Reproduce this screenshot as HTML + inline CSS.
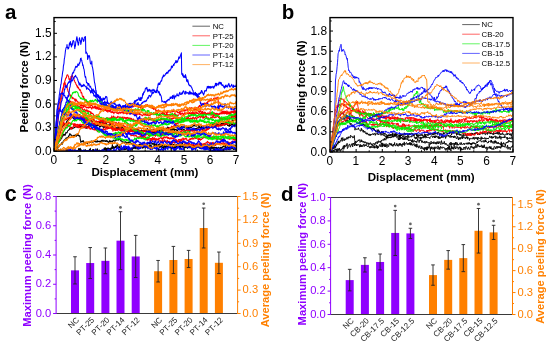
<!DOCTYPE html>
<html><head><meta charset="utf-8"><style>
html,body{margin:0;padding:0;background:#fff;}
svg{display:block;font-family:"Liberation Sans", sans-serif;will-change:transform;}
</style></head><body>
<svg width="550" height="345" viewBox="0 0 550 345" font-family='"Liberation Sans", sans-serif'>
<rect width="550" height="345" fill="#fff"/>
<clipPath id="clip54"><rect x="54" y="17.6" width="182.4" height="133.6"/></clipPath>
<g clip-path="url(#clip54)" fill="none" stroke-linejoin="round">
<path d="M54 151.2l.3-.3 .3-.2 .3-.1 .4 .1 .3 .1 .3-.7 .3-.7 .3 .9 .3-1.7 .3-1.5 .3 1.7 .4-1.3 .3-1 .3-.1 .3 .6 .3-.3 .3-1.2 .3-.2 .3-.7 .4 .4 .3 0 .3-.3 .3-.9 .3-1 .3 .6 .3 1 .3-.7 .4-1.1 .3-.9 .3-.6 .3 0 .3-.2 .3-1 .3 .5 .3-.6 .4-.7 .3 .1 .3-1.1 .3 .1 .3-.2 .3 0 .3-.2 .3-.1 .4-.3 .3 .1 .3-1.1 .3 .2 .3-1.3 .3 .2 .3-1.8 .3 .2 .3 0 .4 .5 .3 .8 .3-.2 .3 0 .3 .4 .3 .5 .3 .5 .3-.4 .3-.3 .3 .1 .3-.4 .3 .4 .3 .1 .3-.7 .4 .3 .3 .1 .3-.9 .3 1 .3 .8 .3-.5 .3-.3 .3-.8 .3 .4 .3-.3 .3-.9 .3 1.5 .3-.3 .3 0 .3 .8 .3 .1 .4-.3 .3 1.8 .2 2 .3 1.3 .2 1.4 .4-.5 .3-.5 .3-.2 .3-.1 .3 .7 .3-.2 .3-.9 .3-.1 .4 1.5 .3 .3 .3 .5 .3-.7 .3 .7 .3-.3 .3 0 .3 .1 .4 .7 .3-.9 .3 .6 .3-.3 .3 1.1 .3-1.1 .3-.3 .3 0 .3-.4 .4 .2 .3 .4 .3-.1 .3 0 .3-.3 .3-.4 .3-.7 .3 .7 .3-1 .4 1.6 .3-.3 .3 .1 .3-.8 .3-.3 .3-.1 .3 .9 .3-.4 .4 0 .3-.7 .3 0 .3 .6 .3-.5 .3 1.1 .3-.4 .3 .3 .3 0 .4-1.4 .3 1.4 .3-.3 .3-.7 .3 .4 .3 0 .3 .4 .3-.5 .3 .2 .4 .5 .3-1 .3 .6 .3 .7 .3-1.4 .3-.1 .3-.4 .3 1.1 .3-.6 .3-.3 .4-.5 .3 1 .3 .2 .3-.5 .3-.1 .3 .2 .3 .3 .3-.6 .3 .9 .3-.6 .4 .2 .3-.4 .3-.1 .3 1 .3-.6 .3 .7 .3-.5 .3 .9 .3 .5 .3-.7 .4 .1 .3-.4 .3-1.4 .3 1.9 .3-.2 .3-.5 .3-.4 .3 .2 .3 .1 .4 .6 .3-.5 .3 .3 .3-.9 .3-.7 .3 .6 .4-.1 .3 .4 .3-.3 .3 .6 .3 0 .3-.7 .3-.5 .4-.3 .3 .4 .3-.2 .3-.7 .3 .6 .3-.6 .4 .7 .3-.9 .3 1 .3-1 .3 .1 .3-.5 .4 .6 .3 .7 .3 .1 .3 .8 .3-.6 .3 .9 .3-.2 .4 .3 .3 .6 .3 .1 .3 .2 .3-.1 .3 .2 .4-.3 .3 .2 .3 .1 .3-.2 .3-.4 .3 0 .4 .3 .3 1 .3-.2 .3 .4 .3-.8 .3 0 .3-.1 .4 1 .3-1 .3-.1 .3 .1 .3 .5 .3-.4 .4 .3 .3-.7 .3 1.2 .3-.3 .3 .4 .3 .3 .4 .7 .3 0 .3 .7 .3 .3 .3 0 .3-.6 .3 1.1 .3-.3 .3 1.3 .4-1.2 .3 1.2 .3-.7 .3 .1 .3-.7 .3-.8 .3 .8 .3 .3 .3 .2 .3-.1 .4-.7 .3 .2 .3-.1 .3-.3 .3-.5 .3 .1 .3 .3 .3 .4 .3-1 .3-.1 .4 .4 .3-.6 .3 0 .3 .5 .3 .9 .3-1.2 .3-.2 .3 .8 .3 .6 .3-.4 .4-1 .3 0 .3-.1 .3 .5 .3-.3 .3 .5 .3 .2 .3-.4 .3-.5 .4-.2 .3 .3 .3 .3 .3 0 .3-.9 .3-.7 .3 .5 .3-.6 .3 .5 .3 .6 .4-.3 .3-.8 .3 .6 .3-.1 .3-.4 .3-.2 .3 .8 .3 .4 .3-.6 .3 1.2 .4-.8 .3 .6 .3 .2 .3-.4 .3-.8 .3 1.6 .3-.5 .3-.4 .3 1 .3 .1 .4 .9 .3 0 .3 .3 .3 1.1 .3-1.5 .3-.7 .3-.1 .3-.3 .3 .6 .3-.4 .4 .4 .3 .4 .3 .5 .3 .1 .3-1.6 .3 1.3 .3-.3 .3-.3 .3 .4 .4-.7 .3 .1 .3-.1 .3 .9 .3-.2 .3-.2 .3 1.1 .3-.3 .3 .5 .3 .4 .4-.9 .3 1.1 .3 .2 .3-.4 .3-.6 .3-.8 .3-.2 .3 .7 .3-1.4 .3 .4 .4-.3 .3 .9 .3-.6 .3-.2 .3 .5 .3-1.1 .3 .8 .3 .1 .3-.9 .3 0 .4-.1 .3 .4 .3-.4 .3 .6 .3-.3 .3-.3 .3 0 .3 .2 .3-.2 .3 .8 .4-1.1 .3 .2 .3-.1 .3 .1 .3 .2 .3 .9 .3-.3 .3-.4 .3 .5 .4-.9 .3 .2 .3 1 .3-.5 .3-.9 .3-.1 .3 .2 .3 .3 .3 .5 .3-.2 .4 .6 .3-1 .3 .7 .3-1 .3 .2 .3-.6 .3 .2 .3-.9 .3 1.4 .3-.3 .4 .4 .3 .6 .3 .2 .3-.4 .3-.4 .3-.5 .3-.6 .3 .4 .4-.4 .3 .6 .3 .9 .3-.3 .3 .6 .3-1.4 .3 1.2 .4-.6 .3-.3 .3 1 .3-.9 .3 .2 .3-.8 .3 1.4 .4 0 .3-.4 .3-.2 .3 1.1 .3-.3 .3 .6 .3 .1 .3 0 .4 .4 .3-.1 .3 .6 .3 .4 .3 0 .3-1.1 .3 .8 .4 .7 .3-.1 .3 .1 .3-.8 .3 .2 .3-.7 .3 .2 .4 0 .3 .5 .3-.3 .3 .3 .3-.5 .3 .6 .3 .6 .4-.6 .3 .9 .3 0 .3 .6 .3-.2 .3 .2 .3 .2 .4-1.1 .3 .8 .3-.2 .3 .1 .3-.5 .3-.1 .3-.4 .4 0 .3 .4 .3 .6 .3-.4 .3-.7 .3 .3 .3 1.2 .3-1 .4 .9 .3 .6 .3-.2 .3-1.1 .3 .1 .3 .3 .3-.2 .4-.5 .3-1 .3 .5 .3 .9 .3-.8 .3 1 .3-.9 .4 .4 .3-.9 .3-.1 .3 .4 .3-.6 .3 1.1 .3 .5 .4 0 .3-.5 .3-.2 .3 .3 .3-.4 .3 .5 .3-.8 .4 .6 .3 0 .3 .7 .3-.8 .3-.4 .3 .6 .3 .3 .3 .2 .4 1.3 .3-1.3 .3-1.1 .3 .2 .3 .3 .3 .3 .3 .1 .4 .3 .3 .3 .3-1.5 .3 .9 .3-.4 .3-.1 .3-.3 .4-.1 .3 .5 .3-1 .3 .2 .3-1.1 .3 1 .3-.3 .4 0 .3-1 .3 .1 .3 .4 .3-.2 .3-.3 .3-.3 .4 .5 .3-.2 .3-.2 .3 .6 .3 .1 .3-.5 .3-.7 .4-1.1 .3 .5 .3-.3 .3 .5 .3 .3 .3-.5 .3 .8 .3-.4 .4 .1 .3 .7 .3 .3 .3-.2 .3 .6 .3-.5 .3 0 .4-.1 .3-.5 .3 .4 .3 .6 .3-.7 .3-.1 .3-.2 .4 .2 .3 .4 .3 0 .3 .3" stroke="#000000" stroke-width="1.04"/>
<path d="M54 151.2l.3-.6 .3-.7 .3-.1 .4-1.2 .3-.3 .3-1.6 .3-.7 .3 .3 .3-.6 .3-2.6 .3 1.6 .4-.5 .3-.8 .3-.9 .3-1.2 .3 .4 .3-.5 .3-.3 .3-.3 .4-.5 .3-.4 .3-1.1 .3-1 .3 1.1 .3-.7 .3-.8 .3-1.3 .4-1 .3 1 .3-1 .3-.8 .3 .9 .3-.1 .3-.7 .3 1.3 .4-.6 .3-1.3 .3-1.2 .3 .4 .3 .1 .3-.1 .3 0 .3-1.2 .4-1 .3 0 .3-.3 .3-.4 .3 .1 .3-.3 .3-1.2 .3 .5 .4-1.3 .3 1.2 .3-1.4 .3-.3 .3 1.1 .3 .2 .3-.7 .3 1 .4-.6 .3 0 .3 0 .3-.3 .3-.3 .3 .1 .3-.1 .3 0 .4-1.5 .3 0 .3 .5 .3-.2 .3 .6 .3-.2 .3-.1 .4-.2 .3 1.1 .3-1.3 .3 1.1 .3-.8 .3-.1 .3-.2 .3-1 .4 .9 .3 .9 .3-.2 .3-.8 .3 .1 .3-1 .3 1 .3 .5 .4 0 .3 .1 .3 .4 .3 .5 .3-.9 .3-.3 .3 .8 .3 0 .4-.1 .3 .7 .3-1.2 .3 0 .3 1.8 .3-.9 .3-.8 .3 .5 .4-.1 .3-.9 .3 0 .3-.6 .3 1.6 .3-2.5 .3 1.2 .3-.8 .4-.2 .3 .1 .3 .4 .3 .1 .3 .4 .3-.1 .3-.1 .3-1.2 .4 .4 .3 .1 .3 .3 .3 .4 .3 .4 .3-1.3 .3 1.2 .3 .8 .3 .6 .3-1.4 .3-.5 .4-1.5 .3 .5 .3 .7 .3 .3 .3-.3 .3 .5 .3-.8 .3 .2 .3 0 .3-.6 .3 1.1 .3 .3 .4 .8 .3 .6 .3-.8 .3-.4 .3 .3 .3-.3 .3-.1 .3-.7 .3 .6 .3-.3 .3 .3 .4 1.2 .3-.1 .3 0 .3 .7 .3-1.4 .3 .3 .3 0 .3 .5 .3-.4 .3-.2 .4 .2 .3 .2 .3-.2 .3 1.1 .3-.1 .3 .3 .3-.2 .3 .2 .3-.4 .3 .4 .4-1 .3-.8 .3 .7 .3 .4 .3 0 .3-.7 .3 1.4 .3-.1 .3-1.1 .4-.4 .3 .2 .3-.1 .3 .6 .3-.3 .3 1.8 .4-.2 .3 .4 .3-1.1 .3 0 .3-.2 .3-.4 .3 1.7 .4 .1 .3 .2 .3-.4 .3-.4 .3-.5 .3 0 .4 .5 .3-.9 .3 .7 .3-.8 .3-.4 .3 .5 .4-.4 .3-.5 .3 .7 .3-1.2 .3 .2 .3-.2 .3 1.2 .4-.8 .3 .8 .3 .2 .3-.1 .3 .1 .3 .1 .4 .5 .3-.6 .3 .6 .3-.6 .3 .7 .3-.4 .4 .4 .3 .8 .3-1 .3 1.5 .3 .8 .3-1.2 .3 .3 .4-.2 .3 .3 .3 .2 .3-1.1 .3 1.4 .3-.9 .4 1 .3-.6 .3-.4 .3-.2 .3 1 .3-.8 .4-1.4 .3 .6 .3-1.2 .3 1.7 .3-.6 .3 .7 .3-.6 .3 1.4 .3 .1 .4-.1 .3 .3 .3-1.1 .3 .1 .3 1.3 .3-.7 .3-.3 .3 .3 .3-1.6 .3 3.2 .4-2.1 .3 .7 .3 1.2 .3-.6 .3 .5 .3 .4 .3 .1 .3-.2 .3-.2 .3 0 .4 .4 .3-1 .3-.5 .3 .6 .3 1.1 .3-.6 .3 .1 .3-.4 .3 .1 .3 1.4 .4-.9 .3-.4 .3 .6 .3-.9 .3-.3 .3 .3 .3-.3 .3 1 .3 .2 .4-.4 .3 1.1 .3-.8 .3 .1 .3-.1 .3 .3 .3 .3 .3-.2 .3 .5 .3 .2 .4-.7 .3 1.5 .3-.5 .3-1 .3 1.4 .3-1 .3 1.2 .3-.3 .3-.1 .3-.4 .4-1.2 .3 .4 .3 .7 .3 .5 .3-.7 .3 .1 .3 .7 .3-.8 .3-1 .3 .8 .4 .1 .3-.5 .3 .5 .3-1 .3 0 .3 .1 .3 .5 .3 .2 .3-.5 .3-.4 .4-.7 .3 1.1 .3 .4 .3-.3 .3-.7 .3-.2 .3-1.2 .3 1.2 .3-1 .4 .6 .3 .1 .3-.4 .3 .9 .3-.9 .3-1.1 .3 .7 .3-.3 .3 .2 .3-.1 .4-.1 .3-.5 .3 .6 .3 0 .3 1 .3-.6 .3-.1 .3 .1 .3 .2 .3 0 .4-.5 .3-.3 .3 1.1 .3-.7 .3-.7 .3 .5 .3-.1 .3 1 .3 0 .3-1.3 .4-.6 .3 .8 .3 1.8 .3-.9 .3 .8 .3-2.3 .3 1.3 .3-.5 .3-.8 .3 1 .4 1.4 .3-1 .3-.7 .3 .6 .3-.4 .3 .3 .3-.7 .3 1.1 .3 .7 .4 0 .3 0 .3-.6 .3-1.3 .3 .3 .3 .2 .3 .1 .3-1.1 .3 1.1 .3-.5 .4-.5 .3 .8 .3-.1 .3-.3 .3 .5 .3-.2 .3 1.2 .3 .1 .3-.4 .3 .2 .4-1.1 .3 .2 .3-.3 .3 .5 .3 .6 .3-.2 .3 .4 .4 .1 .3-.2 .3-.2 .3-.2 .3-.4 .3 0 .4-.1 .3 .5 .3 .2 .3-.4 .3 1.1 .3-.3 .4 1 .3-1.6 .3-.1 .3 .9 .3 .2 .3-1.3 .4 .4 .3-.1 .3-.3 .3 .2 .3 .1 .3-.4 .3 .1 .3-.5 .3 1 .4-.6 .3-.5 .3-.4 .3-.1 .3 .7 .3-.8 .3 .4 .3 .7 .3-1.3 .3 .6 .3-.6 .3-.5 .4 .2 .3 .1 .3-.3 .3-.1 .3-1 .3 0 .3 .8 .3-.2 .3 .5 .4-.6 .3 .1 .3-1.3 .3 .6 .3-.1 .3 .2 .3 .8 .4 1.7 .3-.1 .3-.7 .3-.1 .3-2.2 .3 .8 .4 .3 .3 .5 .3-.6 .3 .2 .3 0 .3 .2 .4-.4 .3 .2 .3 .4 .3 1.2 .3-2.1 .3-.3 .3 .5 .4-.7 .3 .2 .3-.2 .3-2 .3 .7 .3-.1 .4-.4 .3 .7 .3-1 .3 .7 .3-.8 .3-.4 .3 1.5 .3-.1 .3-.7 .3 .6 .4-1.1 .3-.6 .3 .8 .3 1 .3-.5 .3-.5 .3-.3 .3 .1 .3-1.1 .3 .5 .4 .9 .3 .2 .3-.5 .3-.6 .3 .2 .3 .8 .3 1 .3-.1 .3 .6 .3-.7 .4-.2 .3 .8 .3 .3 .3-.5 .3 .4 .3-1 .3-.3 .3 .2 .3-.4 .4-.3 .3 .2 .3-.7 .3-.1 .3-.2 .3 1.5 .3-.1 .3-1.1 .3-1.4 .3 .4 .4-1 .3 1.5 .3 .2 .3-1.2 .3 0 .3 1 .3-.8 .3-.3 .3-.6 .3 0 .4 .3 .3 1 .3-.3 .3 .3 .3-1.2 .3 0 .3 1.1 .3-1 .3-.6 .3 .4 .4-.1 .3 .1 .3-1.6 .3 .8 .3 .4 .3-.3 .3-.2 .3 .1 .3-.2 .3 .2 .4-.1 .3-.4 .3-.5 .3-.2 .3 .3" stroke="#000000" stroke-width="1.04"/>
<path d="M54 151.2l.3-.9 .3-1 .3-.8 .4-.2 .3-1.7 .3-.9 .3-.5 .3-1.3 .3-.8 .3-1.3 .3-.1 .4-1 .3-.5 .3-1.3 .3-1.8 .3-.1 .3-1.6 .3-.7 .3-2.2 .4-.2 .3-1.4 .3-.3 .3-.9 .3-.8 .3-.7 .3-1.4 .3 0 .4-.9 .3-.3 .3 .1 .3 .3 .3-.2 .3-.8 .3-.9 .3 0 .4-.6 .3 .8 .3-.3 .3-1 .3-.8 .3-1.1 .3-.2 .3-.1 .4 .4 .3-1.8 .3-.3 .3 .3 .3-1.7 .3 .8 .3-.8 .3-.4 .4 .7 .3 1.2 .3-.6 .3-1.4 .3 .1 .3 .2 .3-.4 .3 .3 .4 .5 .3-.1 .3 .3 .3 .9 .3-.6 .3 .7 .3-.1 .3 .7 .4-.5 .3-1.5 .3-.2 .3 .8 .3 .1 .3-.1 .3-1 .4-.1 .3 .9 .3-.6 .3-.1 .3 1.9 .3-.2 .3-.7 .4 0 .3 2 .3-.7 .3-1.2 .3 1.2 .3-1.2 .4 .5 .3 .3 .3 .5 .3-1.3 .3 1.7 .3-1.2 .4 1.3 .3-1.2 .3-.2 .3-.2 .3 .1 .3-.6 .3-.5 .4-.3 .3 1 .3 .4 .3-.8 .3 .5 .3-1 .4 1.7 .3 .4 .3-.4 .3 .4 .3 .1 .3-.8 .3 .3 .3 .1 .3-.5 .4 .6 .3 .6 .3 .6 .3-.1 .3 0 .3 1.1 .3 0 .3 .4 .3-.3 .3-.6 .4-.7 .3 .8 .3 .1 .3-.1 .3-.2 .3 .8 .3 .7 .3-.2 .3-.4 .3-.7 .4 1.3 .3 .4 .3-.8 .3 .5 .3 .3 .3 .5 .3-1.3 .3-.4 .3-.2 .4 1 .3-.4 .3-.3 .3 .6 .3-.1 .3-.5 .3-.1 .3 0 .3 .1 .3 1.4 .4-1.4 .3 .1 .3 1.5 .3-.1 .3 .2 .3-.6 .3 .9 .3 0 .3-.1 .3 0 .4-.6 .3 .9 .3-.4 .3 .1 .3 1.1 .3 .4 .3-.4 .3 .8 .3-.8 .3 .5 .4-.5 .3 1.2 .3-.3 .3-.9 .3-.3 .3 .3 .3-.4 .3-.6 .3 1.8 .3-.5 .4 .7 .3-.2 .3 .5 .3-.2 .3 1 .3 0 .3 0 .3 .3 .3 .5 .4 .1 .3-.1 .3-1.1 .3 .6 .3-.2 .3 1 .3 .4 .3-.5 .3 1.5 .3-.8 .4-.8 .3 .2 .3-.4 .3 1.2 .3-.5 .3-.1 .3-.1 .3-.2 .3-.4 .3 .4 .4-.4 .3 0 .3 1.3 .3 0 .3 .7 .3-.2 .3-.1 .3 .3 .3-.8 .3 .4 .4-.5 .3 1.5 .3 .1 .3-.9 .3 .2 .3 1.4 .3-2.3 .3 .2 .3 .7 .3-1 .4 1.1 .3-.3 .3 .9 .3-1.1 .3 .9 .3-.5 .3 1.6 .3-1.3 .3-.2 .4 .1 .3-.1 .3 .7 .3-.5 .3-.2 .3 .8 .3 0 .3 .4 .3 .7 .3-.5 .4-.6 .3-.1 .3 1.1 .3-.4 .3 1.1 .3-.7 .3-1 .3 1.2 .3-.4 .3 .3 .4 1.3 .3-.3 .3-.9 .3 .4 .3 1.5 .3-1.3 .3 .5 .3-.8 .3 1.1 .3-.2 .4-.3 .3 1.8 .3 .2 .3-1.2 .3-.5 .3 .3 .3 .1 .3-.3 .4-.6 .3 1.5 .3-.4 .3-1.1 .3 0 .3-1.9 .3 .4 .4 .3 .3-.2 .3 0 .3 .1 .3-.1 .3 .4 .3-.3 .4-.7 .3-.8 .3 .5 .3-.2 .3-.1 .3-1.1 .4 1.2 .3 .8 .3-1.3 .3 1.4 .3-.3 .3 .1 .3-1.5 .4 .8 .3-.6 .3 .8 .3 .5 .3-.6 .3-.1 .3-.2 .4 .7 .3-.1 .3 0 .3 .2 .3-.3 .3-.2 .3-.7 .4 1.1 .3-.2 .3-.3 .3 .8 .3 .1 .3 .1 .3-.8 .4 .2 .3 .1 .3 .7 .3 .7 .3-.4 .3-1.2 .3 0 .3 .3 .4 .4 .3 0 .3-1.2 .3-.6 .3 .3 .3 .1 .3-.1 .3-.7 .3 .5 .4-.3 .3 1.1 .3-.9 .3 .4 .3 1 .3-1.7 .3 .3 .3-.1 .3-.3 .3 .3 .4 .6 .3-1.2 .3 .1 .3 0 .3-.3 .3 1.4 .3-1.2 .3 .3 .3-.5 .3-1.2 .4 .8 .3-.3 .3 .1 .3 .8 .3-.3 .3 .3 .3-.1 .3-.4 .3 .2 .3 .4 .4 1.1 .3-.2 .3 .3 .3 0 .3-1.6 .3-.1 .3 .6 .3 0 .3-.5 .3-.1 .4 .2 .3-.2 .3-.8 .3-.7 .3-.9 .3 2.1 .3-1.6 .3 .9 .3 0 .4-1 .3-.5 .3 1.2 .3-1.4 .3 .3 .3 .7 .3-.1 .3 .8 .3 .4 .3 .1 .4 0 .3-.3 .3 .4 .3 0 .3-1.1 .3 1.3 .3-.7 .3 .2 .3-.1 .3-.5 .4 1 .3-.2 .3-.2 .3 0 .3-1.5 .3 2.4 .3-1.2 .3 .2 .3-.4 .3 .2 .4 .8 .3-.8 .3 .8 .3-.3 .3-.3 .3 .8 .3 1 .3-1.1 .3-.6 .3 1.3 .4-.6 .3-1 .3-.1 .3 .7 .3 0 .3-.4 .3 .5 .3-.7 .3 0 .4-.8 .3 .1 .3-.6 .3 .4 .3-.7 .3 .7 .3 0 .3-.3 .3-1 .3 1.1 .4 .1 .3 0 .3 .4 .3-.5 .3-.9 .3 1 .3-.9 .3-.4 .3 .4 .3 .6 .4 .3 .3 .9 .3-1 .3 1.1 .3 .4 .3 .8 .3-.1 .3 .9 .3-.6 .3 .1 .4-1.1 .3 1.2 .3 .9 .3-1 .3 .5 .3-.5 .3 .2 .3-.1 .3 .8 .3-.5 .4-.9 .3 0 .3 0 .3-.6 .3 0 .3 .5 .3 .3 .3-.9 .3 .6 .4-.1 .3-.9 .3 1.4 .3-.8 .3 1.1 .3-1.7 .3 .2 .3 .1 .3-1 .3 .3 .4-.3 .3-.6 .3 .5 .3 1.1 .3-1.2 .3 .3 .3 .2 .4 .6 .3-.4 .3 .5 .3 .3 .3-.2 .3-1.2 .3 .6 .4 .2 .3 .2 .3-1.3 .3-.3 .3 .8 .3-1.2 .3 .3 .3 .3 .4-.4 .3-.7 .3-1 .3-.9 .3 1.7 .3-.5 .3 .2 .4-.3 .3 0 .3 .9 .3 .6 .3-.3 .3-1.4 .3 1.1 .4-1.6 .3 1.1 .3-.2 .3 .9 .3-.7 .3 .3 .3-1 .4 .6 .3 .2 .3 1.1 .3-1.6 .3 1 .3-1.2 .3-.2 .4 .9 .3-.7 .3 .9 .3 .1 .3 1 .3-.5 .3 .6 .4 .3 .3-.2 .3 .7 .3-2.1 .3 1.6 .3-.2 .3-.7 .3 .4 .4-.2 .3-.9 .3 .3 .3 .1 .3-.3 .3 .6 .3-.8 .4 1.6 .3 .1 .3-.3 .3-.5 .3-.8 .3 2.2 .3-.8 .4-.4 .3-.6 .3 .3 .3 .6" stroke="#000000" stroke-width="1.04"/>
<path d="M54 151.2l.3 0 .3 0 .3-.4 .4 0 .3 0 .3 0 .3-.1 .3-.9 .3 .7 .3-.4 .4 .6 .3 .1 .3 0 .3 0 .3-1.6 .3 1.1 .3 .1 .4 .4 .3-.1 .3 .1 .3-1.7 .3 1.4 .3 .1 .3-.4 .3 .6 .4 0 .3 0 .3 0 .3 0 .3 0 .3 0 .3 0 .4-.1 .3 .1 .3 0 .3 0 .3 0 .3-1.1 .3 .7 .4 .4 .3 0 .3 0 .3 0 .3 0 .3 0 .3 0 .4 0 .3 0 .3 0 .3 0 .3-1.6 .3 .6 .3 .5 .4 .5 .3 0 .3-.1 .3 .1 .3 0 .3 0 .3-.2 .4-.1 .3-.7 .3-.5 .3 1 .3 .3 .3-.3 .3 .1 .3 .4 .4 0 .3 0 .3 0 .3 0 .3 0 .3 0 .3-.2 .4 .2 .3 0 .3-1.9 .3-.5 .3 1.5 .3 0 .3-.1 .4-1.5 .3 1.9 .3-.9 .3 1.2 .3-.6 .3 .9 .3 0 .3 0 .3 0 .4 0 .3-.2 .3 .2 .3-.5 .3 .5 .3 0 .3 0 .3-1.1 .3-.1 .4 1.2 .3 0 .3 0 .3 0 .3 0 .3 0 .3 0 .3 0 .3 0 .4 0 .3-.1 .3 .1 .3-1.4 .3 1.4 .3-.5 .3-2 .3 2.5 .3 0 .4 0 .3 0 .3 0 .3 0 .3-.9 .3-.3 .3-.2 .3 .1 .3 1.1 .4 0 .3 .2 .3 0 .3 0 .3-.9 .3 .9 .3-2.1 .3 2.1 .3 0 .4-.1 .3-.5 .3-1.4 .3 1.6 .3 .4 .3 0 .3 0 .3 0 .3-.7 .4 .7 .3-.3 .3 .3 .3 0 .3 0 .3 0 .3 0 .3-.8 .3 .8 .4 0 .3 0 .3-.7 .3 .1 .3-.1 .3-1.7 .3-.3 .3 1.4 .3-.2 .3-1.7 .4 2 .3-1.3 .3 1.6 .3 .9 .3-2.6 .3 2.6 .3-1 .3-1.9 .3 1.2 .3-1.2 .4 1 .3-.1 .3-.3 .3 .9 .3-.3 .3-.8 .3 1.3 .3 .1 .3-1.9 .3 1.4 .4-1.6 .3-1.3 .3-1.7 .3 4.2 .3-.6 .3 .2 .3-1.8 .3 1.6 .3-.5 .4 .6 .3-1.4 .3 .4 .3-1.3 .3 1.7 .3-1.1 .3 .9 .4-1.8 .3-1.2 .3 .5 .3 1 .3-.2 .3 1.1 .3 .5 .4 .6 .3-1.4 .3 1.5 .3-3 .3 2.9 .3 .7 .4 2.1 .3-2.4 .3 .5 .3 .4 .3-.5 .3 .1 .3-.7 .4 1.1 .3 0 .3-.4 .3 1 .3-.3 .3-1 .3-1.2 .4 2.1 .3-.7 .3 .2 .3 .3 .3-1.5 .3 1.1 .3-.7 .4 .4 .3 2.2 .3-1.9 .3 1.1 .3 .5 .3-2.1 .3 .5 .4 .3 .3-1.3 .3 1.3 .3 .3 .3 1.3 .3-2.3 .3-.2 .4-.5 .3 .7 .3 .5 .3-1.3 .3 .2 .3 .7 .3-1.5 .4 .5 .3 .7 .3-.9 .3 .2 .3 1.2 .3-.7 .3-1.5 .4 .9 .3-.1 .3 1.6 .3-1.3 .3-1.4 .3 1.3 .3 1.9 .4-3.8 .3 .5 .3 1.3 .3-1.1 .3-.2 .3-1.3 .3 .6 .3 0 .4-.4 .3 .9 .3-.1 .3 .3 .3 2.3 .3-1.3 .3-.7 .4 .6 .3-1 .3 1.9 .3-1.1 .3-3.3 .3 1.5 .3 .6 .4 2.6 .3-1.3 .3-.8 .3 .9 .3 .2 .3-3.2 .3 3.2 .4 .1 .3-.9 .3 .6 .3-.4 .3 .7 .3-2.6 .3 1.6 .4-1.4 .3 1.7 .3-.3 .3 .2 .3-2.2 .3 3 .3-1.5 .3 2.4 .4 .2 .3-.3 .3-.1 .3-1.2 .3 .7 .3 .4 .3-3.6 .4 2.5 .3-.7 .3 0 .3-.7 .3 .3 .3-1.7 .3 0 .4 .7 .3 .3 .3 .8 .3 .4 .3-.8 .3 .4 .3-.6 .4-.8 .3 3.5 .3-3.9 .3 2.4 .3-.7 .3 1.5 .3-1.8 .4 1 .3-.1 .3-1.3 .3 .4 .3 2 .3 .4 .3-.4 .4-.2 .3 3 .3-3.8 .3 .7 .3-1.3 .3-.4 .3 1.3 .3 .3 .4 .4 .3-1.6 .3 0 .3-.3 .3 1.4 .3-1 .3 .3 .4 .9 .3-1.1 .3 .4 .3 0 .3-.1 .3 .5 .3 1 .4-1.1 .3 .9 .3-1.3 .3 3.3 .3-1.8 .3 .7 .3-1.2 .4 .3 .3-2 .3 1.5 .3 1.6 .3-.7 .3-1.8 .3 2.3 .4 0 .3-1.9 .3 .9 .3-.4 .3 .5 .3-1.5 .3 1.7 .4 .7 .3-3.8 .3 2.9 .3-1 .3 0 .3 .2 .3 .2 .3-.7 .4 .1 .3 1.4 .3-1.9 .3-.3 .3 2.6 .3-2.8 .3 0 .4 1.4 .3-1.9 .3 1.7 .3-1 .3 1.6 .3-1.1 .3 .4 .4 1 .3-.6 .3 .3 .3 .6 .3-1 .3-.6 .3 .7 .4 .8 .3-.5 .3-2.1 .3 .5 .3 1.4 .3 1.4 .3-.3 .4-1.5 .3 .1 .3-.6 .3 1.5 .3-.2 .3-.5 .3-1.2 .4 .8 .3 .2 .3 .2 .3-1.1 .3-.4 .3 .9 .3 1.6 .3-.9 .4 .6 .3-2.7 .3 .2 .3 .4 .3 1.6 .3 .9 .3-1.4 .4 1.5 .3-3.4 .3 1.4 .3-1.1 .3-1.1 .3 2 .3-2 .4 .3 .3 3 .3-2.6 .3 0 .3 1.2 .3-1.7 .3-.1 .4 .3 .3 1 .3-.7 .3 .5 .3-.4 .3 .5 .3 .6 .4-1.8 .3 1.4 .3 .3 .3-.8 .3 .4 .3 0 .3-.8 .4 1.2 .3 .4 .3-1.7 .3 .1 .3 1.3 .3-1.9 .3 1.4 .3 1.6 .4-1.5 .3 1.8 .3 .1 .3-1.3 .3 .8 .3 0 .3-2.4 .4 2.3 .3 .9 .3-.9 .3 .7 .3-1.5 .3 3.8 .3-1.5 .4 1.3 .3-2.3 .3 .6 .3 .7 .3-1.3 .3 0 .3 .4 .4-.6 .3 3.1 .3-1.5 .3 1 .3-.8 .3-.1 .3 .6 .4 .5 .3-1.4 .3-1 .3 1.8 .3-.4 .3 .9 .3-2.3 .3 2.2 .4 .6 .3 0 .3 .5 .3-1.3 .3 .2 .3 .5 .3 .6 .4-.4 .3 0 .3-2.3 .3-.4 .3 .7 .3 .1 .3 .5 .4 .5 .3 1.2 .3-1.5 .3-.4 .3-.1 .3 1.6 .3-1.3 .4 .9 .3-1.1 .3 .1 .3-1.7 .3-.7 .3 3.1 .3 .4 .4-2.3 .3 1.5 .3-2.5 .3 2.6 .3-1.2 .3 .8 .3-2 .4 2.1 .3 .7 .3-3.1 .3 2 .3 .9 .3-1.9 .3 1.6 .3-.3 .4 .2 .3-1.6 .3 .1 .3 .7 .3-1.1 .3 1.2 .3 .5 .4 .1 .3 .6 .3 0 .3-1.6 .3 1.3 .3-1.7 .3 .2 .4 .5 .3 1.9 .3-1 .3 .6" stroke="#000000" stroke-width="1.04"/>
<path d="M54 151.2l.3-2.3 .3-2.3 .3-1.9 .3-1.5 .3-2.7 .3-2.1 .3-2.5 .4-3.2 .3-1.5 .3-3.2 .3-1.5 .3-2.7 .3-3.9 .3-1.4 .3-2.2 .3-2.8 .3-3.4 .3-.9 .3-1.3 .3-.9 .4-1.5 .3-3.7 .3-1.2 .3-2.3 .3-.9 .3-2 .3-1.4 .4-2.9 .3-1.3 .3-1.3 .3-2.8 .3-2.6 .3 .8 .3-.8 .3-2.2 .3-.2 .3-1.2 .3-1.4 .4-.1 .3-.1 .3-2 .3-.9 .3 0 .3-.2 .4 .5 .3 1 .3 .2 .4 3 .3-1.1 .3 1.6 .4-.8 .3-.1 .3 1 .3-3.7 .4 1.1 .3-1.4 .3 .7 .3-2 .3 1.6 .3 .5 .3 .2 .3 1.6 .3-.8 .3 1.5 .3 .8 .3 .8 .3 1 .4 .6 .3 .2 .3 1.3 .4 .5 .3 1 .3-.2 .3 1.8 .4-1 .3 1.7 .3 .2 .3-.7 .3 1.4 .3-.1 .3 1.3 .3 .3 .4-.8 .3 1.1 .3 .2 .3 2.1 .3-.7 .3 .4 .3 .9 .3 2.1 .4 .8 .3-.2 .3 1.7 .3-1.7 .4 1.5 .3 .7 .3 .3 .4 1 .3 1 .3 .2 .3 0 .3-.8 .4 2 .3-.2 .3 .7 .3 0 .3 1.1 .3 0 .3 1.2 .3 0 .3-.7 .3 1.6 .4-1.2 .3 1.4 .3-.5 .3 .3 .3 0 .3-.4 .3-.1 .3-.2 .3 .4 .4 .7 .3 1.3 .3 .4 .3-.1 .3-.3 .3-.1 .3-.3 .3 .8 .4 .3 .3-.1 .3-2.1 .3 2.8 .3-1.7 .3 1.1 .3 .7 .3-.2 .4-.1 .3-.4 .3 1 .3 0 .3-.3 .3 .5 .3-.9 .3 .7 .4-.1 .3-.1 .3 .4 .3 .7 .3-.9 .3 0 .3 .2 .3-.7 .4 .1 .3 .3 .3 .9 .3-.9 .3 1.3 .3 .7 .3-1.9 .4 .6 .3 .1 .3 .4 .3 .2 .3 0 .3 .3 .3 .3 .3-.7 .3 .6 .4-.3 .3-.5 .3 0 .3 .8 .3 .2 .3-.2 .3-.4 .3 .9 .3-.7 .3 1.1 .4 .3 .3-.1 .3-.6 .3 .8 .3 .4 .3-.7 .3-.2 .3 .6 .3-1 .3 1.4 .4-.3 .3 1.3 .3-1.3 .3-.6 .3 .4 .3-.3 .3 0 .3 .2 .3-.1 .4 .8 .3-.1 .3 .4 .3 .1 .3 .2 .3-1.1 .3 .7 .3-.4 .3 1.2 .3-.7 .4-.9 .3-.6 .3 .3 .3 .6 .3 .8 .3-1 .3-.2 .3 0 .3 .4 .3-1.1 .4 1.2 .3-.1 .3 1.2 .3-1.9 .3 .6 .3 .4 .3 .3 .3 .2 .3-.1 .3-.1 .4 0 .3 .2 .3 .3 .3 0 .3 .6 .3-1.2 .3 .5 .3-.6 .3 .1 .3-.2 .4 .1 .3-.3 .3 .2 .3 .1 .3 1.2 .3-1.6 .3 1.3 .3-.8 .3 0 .4 .7 .3-.4 .3-.1 .3 .4 .3 .5 .3-2.3 .3 1.4 .3-.4 .3 .1 .3 0 .4 1.5 .3 .3 .3-1.9 .3 .9 .3-.4 .3 1.4 .3-.3 .3-.7 .3 1.1 .3-.9 .4-.5 .3 .3 .3 .4 .3-.2 .3-.7 .3-.3 .3 1.6 .3-.9 .3 .4 .3 .1 .4 .8 .3-.4 .3 .3 .3 .2 .3 .8 .3-.6 .3 .2 .3-.5 .3-.1 .3-.9 .4 .4 .3 .5 .3 0 .3-.4 .3 .8 .3-1.8 .3 1.3 .3-.2 .3 .3 .4 .6 .3-.6 .3-1 .3 .3 .3 1.4 .3 .1 .3-.7 .3-.5 .3 .8 .3-.1 .4 .6 .3-.4 .3-1.8 .3 .2 .3 .7 .3 0 .3-.2 .3-.4 .3 0 .3 .2 .4-.5 .3-.8 .3 1 .3-.5 .3 .6 .3-.4 .3 .7 .3-.1 .3-.4 .3-.2 .4 .5 .3 1.2 .3-1.6 .3-.7 .3 .6 .3-.4 .3 1.2 .3 .1 .3 1.2 .3 .5 .4-.4 .3 0 .3-.8 .3-.4 .3-.5 .3 .6 .3-.5 .3-1 .3 .4 .4 0 .3-.9 .3 .9 .3-.2 .3 .9 .3 0 .3-1.9 .3 2.1 .3-.9 .3-.2 .4 1.7 .3 .1 .3 .8 .3-1.5 .3 .1 .3-.7 .3 1.6 .3-1.5 .3 .2 .3 .1 .4 .5 .3 .1 .3 .5 .3-.4 .3-.6 .3 1.3 .3 .6 .3-.7 .3-.7 .3-.5 .4 .7 .3 .1 .3-.7 .3 .9 .3-.5 .3 1.2 .3 .1 .3-1.1 .3-.2 .3 .6 .4-2 .3 .6 .3-.1 .3-.2 .3 1.2 .3 .1 .3 .2 .3 .3 .3-.8 .4 .8 .3 0 .3-.2 .3 .5 .3-.7 .3-.3 .3-.6 .3-.8 .3 .4 .3-.6 .4 .1 .3 1.5 .3-1.2 .3 .2 .3 0 .3 .3 .3-1.4 .3 .4 .3 .9 .3-.4 .4 .5 .3 .9 .3-.7 .3-1.2 .3 0 .3-.6 .3 1.2 .3 0 .3 0 .3-.7 .4 .1 .3 .8 .3-.8 .3 .5 .3 .1 .3-.8 .3 1 .3-1 .3-.4 .3 .2 .4 1 .3-1.2 .3 .9 .3-.1 .3-.2 .3 .7 .3-1.2 .3 1.3 .3-.3 .4-.4 .3 .5 .3-1.2 .3 2.1 .3-1.3 .3-.7 .3-.4 .3 1.8 .3 .7 .3-1.3 .4-.3 .3-.9 .3 .9 .3 .2 .3-.9 .3 1.1 .3-.1 .3-.5 .3-.2 .3 .9 .4 .1 .3 .9 .3-.4 .3 0 .3 .4 .3-1.3 .3 .4 .3-.3 .3-.3 .3 1 .4-1.7 .3 1.3 .3-.7 .3-1.8 .3 1.8 .3 .6 .3 0 .3 .1 .3 .6 .3-1.4 .4 .7 .3-1.3 .3 .3 .3 1.8 .3 0 .3-.8 .3-.1 .3 1.1 .3-1.5 .4 1.4 .3-1.4 .3 .2 .3-.3 .3 .8 .3-.4 .3 0 .3 .1 .3-1.9 .3 2.4 .4-.8 .3-.1 .3-.2 .3 .5 .3 .7 .3-.6 .3 1.2 .3-.4 .3-1.1 .3 1.4 .4-2.4 .3 1.7 .3-.8 .3 1.1 .3-.6 .3-.2 .3 1.4 .3-1 .3 .4 .3-.9 .4 1.5 .3-.5 .3-.7 .3 .4 .3 .3 .3-.2 .3 .1 .3-.2 .3 .1 .3-.8 .4 .4 .3-.4 .3 .2 .3 .4 .3-.7 .3-.7 .3 1.3 .3 .2 .3-2.4 .4 1.3 .3 .4 .3 .4 .3-2.3 .3 .2 .3 1.5 .3-.7 .3-.3 .3 0 .3 1 .4-.2 .3 .8 .3-1.1 .3-1.7 .3 .1 .3 1.9 .3 .1 .3-.9 .3 .7 .3-.2 .4 1 .3-.6 .3 .8 .3-1 .3 .6 .3-.7 .3 .8 .3-1.6 .3-.1 .3-.4 .4 .3 .3 .7 .3 .4 .3-1.4 .3 1.8 .3-.7 .3 .1 .3-1 .3 2 .3 .3 .4-.3 .3-1.3 .3 .4 .3 .2 .3-.1" stroke="#ff0000" stroke-width="1.04"/>
<path d="M54 151.2l.3-3.3 .4-3.2 .3-4.2 .3-2.5 .3-2.1 .4-5.6 .3-2.7 .3-3.5 .3-3 .4-2.8 .3-3.5 .3-3.3 .3-1.1 .3-2.3 .3-.1 .3-3.1 .3-2.2 .4-.7 .3-1.2 .3-1.1 .3-1.7 .3-1.9 .3-2.2 .3-1.2 .3-.9 .3-.7 .3-1.5 .3-.9 .3-.9 .3-.9 .3-.7 .3 .4 .3-3.4 .3 1 .3-2 .3 1.6 .3 0 .3 1.2 .3 .2 .3 .7 .3 1.4 .3-.7 .3 2.4 .3 .2 .4 2.2 .3 .1 .3 1.2 .4 .2 .3 .8 .3 .3 .4 1.9 .3-.5 .3-.4 .3 1.8 .4-.6 .3-.1 .3 .9 .3 1.8 .3-.9 .3-.4 .3 .3 .3 .3 .3 .7 .3 0 .3 .5 .3-.4 .3 2 .3-1.1 .3-.7 .3 2.3 .3-2.2 .4 1.4 .3 .5 .3 0 .3 .1 .3 .7 .4 1 .3-.8 .3 1.4 .3 .1 .3 .4 .4-.4 .3 .6 .3 1.4 .3-.4 .3 .9 .3-.6 .4-1.4 .3 1.9 .3-.5 .3 0 .3-.3 .3 .6 .4 1.7 .3-1.9 .3 .1 .3 .5 .3-1.3 .3 2 .4-.3 .3 .5 .3 0 .3 .8 .3-1 .3 0 .3 .9 .4-.4 .3 .3 .3-.7 .3 .8 .3 .3 .3-1.2 .4 .6 .3-.1 .3-1 .3 1 .3-.1 .3 .3 .3 .7 .4 .8 .3-.4 .3-1.8 .3 .7 .3-.2 .3-.2 .4 .7 .3-.7 .3-.9 .3-.3 .3 .9 .3-.4 .4 .8 .3 .1 .3 .2 .3 .7 .3-1.1 .3-.6 .3 .8 .4-.4 .3 .4 .3 .1 .3 .6 .3 .2 .3-.5 .3 .1 .3-.1 .4 1.9 .3-1.1 .3 .4 .3 .3 .3 0 .3-.2 .3 .3 .3 .2 .3 .1 .4 .4 .3-1 .3 1.4 .3-1.5 .3 .4 .3-.1 .3-.5 .3 .3 .3-.3 .3 1.4 .4-.7 .3 .2 .3 1.5 .3-1.2 .3 .8 .3 .4 .3 1.1 .3-2.3 .3 .5 .3 0 .4-.3 .3 .2 .3-.5 .3 1 .3-1.8 .3 1.4 .3-1 .3 .3 .3-.8 .3-.7 .4 1.7 .3-.1 .3 .1 .3-.9 .3 .6 .3-.1 .3 .3 .3 .1 .3-1.2 .3 .8 .4-1.3 .3 1.6 .3-2.6 .3 .9 .3-.6 .3 1.2 .3-.5 .3-.4 .3 .3 .4 .2 .3-1.4 .3 .4 .3-.5 .3 .4 .3-.4 .3 1.5 .3-1.6 .3 1 .3-.2 .4 .3 .3 .6 .3 .8 .3-1.3 .3 2.1 .3-.1 .3-.5 .3-.5 .3 0 .3 .7 .4-.5 .3 .8 .3-1.9 .3 .9 .3-.9 .3-1.6 .3 1.3 .3-1.6 .3 .7 .3 .5 .4 .7 .3-.3 .3-.5 .3 0 .3 .9 .3-1.1 .3-.4 .3 1.4 .3-.7 .3-.2 .4 .3 .3-1.6 .3 .6 .3 .2 .3-1.6 .3 .7 .3 .4 .3-.4 .3 1 .4-.2 .3 .1 .3-.7 .3-1.2 .3 .7 .3 .5 .3-1.6 .3 1.9 .3-.9 .3-.3 .4 .9 .3-.4 .3 .3 .3 0 .3 .9 .3-.7 .3 1.7 .3-.8 .3 .5 .3-1.1 .3 .4 .4 .3 .3-.4 .3 1.2 .3-.6 .3-1 .3 .8 .3-.1 .3-.2 .3 1.8 .3-1.9 .3 1.9 .4-1.1 .3-1.1 .3 .1 .3-1.1 .3 .4 .3 .8 .3 .3 .3-1 .3-1 .3-.3 .4 1.4 .3-.5 .3 0 .3 .7 .3-1.7 .3 .8 .4 .1 .3 1.3 .3 .1 .3-.8 .3-.5 .3 1.7 .4 .2 .3 .4 .3-.9 .3-.3 .3 .2 .3 0 .4 1.6 .3-.9 .3 .6 .3-.4 .3 1.3 .3 .4 .4-.9 .3-1.1 .3 1.7 .3-.6 .3-.5 .3 2 .3 .5 .4 .1 .3-.5 .3 .2 .3 1.4 .3-.4 .3-.4 .3-.1 .4-1 .3 1.8 .3-.6 .3 .7 .3-.5 .3-.4 .4 .8 .3 .3 .3-.4 .3 0 .3 0 .3 .1 .3-.3 .4 .7 .3 .4 .3-.6 .3-.4 .3 .4 .3-1.3 .4-.4 .3 .5 .3 1.3 .3 .3 .3-.1 .3-.4 .4 1.1 .3 .9 .3-1.1 .3 .2 .3-2.1 .3 1.6 .4-.1 .3-1.7 .3 1.5 .3-.4 .3 .3 .3-.6 .4 .6 .3 .3 .3 .3 .3-.6 .3 0 .3-.1 .4-.1 .3-.8 .3 1 .3-.4 .3-2.3 .3 1.8 .4 .5 .3-.1 .3-.3 .3 .6 .3 .1 .3-.1 .3-.3 .3 .2 .3-.2 .4-.3 .3 .3 .3 1.3 .3-.1 .3-.7 .3 .7 .3-.1 .3 .1 .3 .1 .4-1.1 .3 1.3 .3-1.2 .3 .6 .3-.4 .3-.9 .3 .1 .3 .1 .3-.4 .4-.9 .3 .7 .3 .6 .3-1.2 .3 .8 .3-.4 .3-.7 .3 .7 .3 .9 .4-1.4 .3 .9 .3-.6 .3-.5 .3 .1 .3 .1 .3 .4 .3 .5 .3-1.4 .4-.4 .3 .3 .3-.4 .3 .6 .3 .3 .3-1.7 .3-.7 .3 1.6 .3 .1 .3 0 .4-1.4 .3-.1 .3 .2 .3 .9 .3-.6 .3 0 .3 .1 .3 .1 .3 .3 .3 .7 .4-.7 .3-.8 .3 .8 .3 .1 .3 1.1 .3-1.7 .3 1.1 .3 .5 .3-.5 .3-1.7 .3 2.3 .3 .1 .4 .3 .3 .6 .3 .4 .3 .5 .3-.6 .3 1.2 .3 .1 .3-1.6 .3 .5 .3 .2 .3-1.1 .4 1.7 .3 .9 .3-.9 .3 .3 .3 .5 .3 1.6 .3-1.7 .3 .1 .3 .3 .3-.2 .3-1.1 .4 1.3 .3 .4 .3 .6 .3-1.3 .3 .7 .3 .5 .3 0 .3-.2 .3-.4 .3 .7 .3-.7 .3 .5 .4-.8 .3 .8 .3 .1 .3-.3 .3-.1 .3-.2 .3 .7 .4-.3 .3 1.4 .3-.6 .3 .5 .3-1.3 .3 1 .4-.6 .3 .7 .3 .1 .3 .6 .3-.6 .3 .7 .3-1.7 .4 1.3 .3-.9 .3-.9 .3 .2 .3 .4 .3 .6 .3-.9 .4-.7 .3 .7 .3-.2 .3 .4 .3 .3 .3 .1 .3 .3 .4-1.2 .3-.2 .3 .9 .3-1.1 .3 0 .3 0 .4 .2 .3-1.3 .3 .5 .3 .2 .3 .3 .3-1 .3 .1 .4 .6 .3-1.6 .3 .7 .3-.8 .3 .6 .3 0 .3 .4 .3 .7 .3 .7 .4-.8 .3 .2 .3 1.2 .3-1.2 .3-.1 .3 .6 .3-.6 .3-.8 .3 2 .3-1.8 .4 .8 .3 .1 .3 .4 .3 .2 .3 1.3 .3 0 .3 .1 .3 .4 .3-.3 .3-.2 .4 1.4 .3 .5 .3-.5 .3 .1 .3-.1 .3-.1 .3-1.1 .3 .8 .3 .8 .3-1.2 .4 .2 .3-.9 .3 2.1 .3-.2 .3-.4" stroke="#ff0000" stroke-width="1.04"/>
<path d="M54 151.2l.3-1.4 .3-1.4 .3-.5 .4-2.1 .3-1.1 .3-2.1 .3-1.6 .3-1.6 .3-.8 .3-2.6 .3-.8 .4-1.7 .3-2.5 .3-1.2 .3-1.4 .3-2.5 .3-.6 .3-.6 .3-2.3 .4-.4 .3-3.5 .3-1 .3-.7 .3-1.1 .3-.7 .3 0 .3-1.5 .4-1.1 .3 .5 .3-.7 .3-.9 .3-.4 .3-.5 .3-.5 .3-.3 .4-1 .3 1 .3-.9 .3-.8 .3-.5 .3-1.4 .3 .1 .3-.6 .4-1.5 .3 .2 .3-2.4 .3 1 .3-.5 .3 .1 .3-.9 .3-.5 .4 .2 .3 .9 .3-.8 .3 1.2 .3-.2 .3-.1 .3-.1 .3 1.1 .4-1.2 .3 1.6 .3-.8 .3 1.4 .3-2 .3 .7 .3 1.1 .3 .1 .4-.5 .3 1 .3 1.6 .3-1 .3-.1 .3-.5 .3 .4 .4 .5 .3 1.4 .3-.8 .3-.2 .3 .4 .3-.2 .3 1.6 .4-1.3 .3 .3 .3 1.2 .3 .5 .3-1 .3 .5 .4-.9 .3 1.5 .3-1.7 .3 2.9 .3-.3 .3 .6 .4 .3 .3 .5 .3-.8 .3-1 .3 .4 .3 .4 .3 .5 .4 1.1 .3 .2 .3-.7 .3-1.2 .3 1 .3-.7 .4 1.7 .3-.8 .3 1.1 .3-1.2 .3 .7 .3 .1 .3-.4 .3 .7 .3-.4 .4 .3 .3 2.2 .3-2.1 .3 .8 .3 .8 .3-.1 .3 0 .3-.2 .3 .8 .3 .1 .4 0 .3 1.6 .3 .2 .3 .2 .3 .4 .3 .3 .3-.1 .3-.4 .3 .6 .3 .1 .4-.9 .3 1.8 .3 0 .3-.3 .3 0 .3 .3 .3 1.4 .3-.6 .3 .6 .4-1 .3 .4 .3 2.2 .3-1.2 .3-1.1 .3 1.9 .3-.2 .3 .7 .3 .1 .3-1 .4 .4 .3-.4 .3-.4 .3 .6 .3 .3 .3-.2 .3-1.3 .3 .5 .3 .4 .3-1.8 .4 1.1 .3-.6 .3-.1 .3-.9 .3 1.6 .3-.3 .3-.2 .3-1 .3 .2 .3 .8 .4-.4 .3 .2 .3-.6 .3 .4 .3-.4 .3 1.4 .3-1.6 .3 .3 .3 .6 .3-1.1 .4-1.7 .3 3.3 .3-1.4 .3-.8 .3 .8 .3-1.1 .3-.7 .3 .6 .3 1 .4-.4 .3 .9 .3-1 .3 1 .3 .1 .3 1 .3-1.2 .4-.8 .3 0 .3 .6 .3-1.6 .3 .3 .3 .2 .3 .4 .4 .3 .3 .2 .3-.5 .3-.2 .3 1.2 .3-.8 .4-.2 .3 1.3 .3 .3 .3-.2 .3-1 .3-.6 .3 .8 .4 .5 .3 .6 .3-.9 .3-1 .3 1.3 .3-.2 .3-.5 .4 0 .3 1 .3 .8 .3-1.7 .3 1.3 .3-1.1 .3-.1 .4-.4 .3 1 .3 .1 .3 .8 .3-1.1 .3-.6 .3 2.2 .4-1.1 .3 .8 .3-1.3 .3 .4 .3 .5 .3 .7 .3-1.4 .4 .5 .3 1.2 .3 .9 .3-1.1 .3 .2 .3-1.1 .3 1.6 .3 .1 .3-.5 .4 .7 .3-.8 .3 .4 .3 .7 .3-.6 .3 .6 .3-.8 .3 0 .3 .3 .3 .7 .4-.8 .3 .4 .3 .3 .3-1.8 .3 .7 .3 .6 .3 .5 .3-.7 .3 .5 .3-.6 .4 0 .3 0 .3-.3 .3 .5 .3-.1 .3 .4 .3-2.1 .3 1.1 .3-.8 .3-.4 .4 .2 .3 1 .3-.6 .3-.3 .3 .8 .3-.8 .3 0 .3 .6 .3 .8 .4-.8 .3-.8 .3-.7 .3 1 .3-.6 .3 .8 .3 1.2 .3-1.3 .3-.3 .3-.4 .4 1.5 .3-1.2 .3 .8 .3-.4 .3 1 .3-1.3 .3 .4 .3-.4 .3 .5 .3-.8 .4 3 .3-.6 .3-.8 .3 .3 .3 1.4 .3-.8 .3-.7 .3 .3 .3 .7 .3-.1 .4 .7 .3-.3 .3 0 .3-2 .3 1 .3-.4 .3 .2 .3-.4 .3-.7 .3-.2 .4 1.1 .3-.1 .3 0 .3 .4 .3-.2 .3-1.7 .3-.3 .3 1.5 .3-.9 .4 .6 .3-1.1 .3 1.1 .3-.3 .3 .1 .3 .5 .3-1.7 .3 .7 .3 .8 .3 0 .4 0 .3 .5 .3-1.4 .3-.5 .3-.1 .3 1.6 .3-2 .3 .5 .3-.8 .3 .3 .4 0 .3 .3 .3-.1 .3 .1 .3-.2 .3 .6 .3 .6 .3-.3 .3 1.7 .3-1 .4-1.1 .3 .7 .3 .3 .3-1.4 .3 1 .3 0 .3-.6 .3-.6 .3 .7 .3-.4 .4-1.4 .3 .1 .3 1.1 .3 .9 .3-.1 .3-1.2 .3 0 .3 .6 .3-.7 .4 .8 .3 .3 .3 1.3 .3 0 .3-.7 .3-.8 .3 .1 .3 .2 .3-.7 .3 1.7 .4-.6 .3-.2 .3 .2 .3 1.3 .3 .4 .3-1.2 .3 1.1 .3 .1 .3 .6 .3-.2 .4 .8 .3-1.9 .3 .1 .3 0 .3 0 .3-1.4 .3 .8 .3 .2 .3-.2 .3-1.4 .4 .3 .3-.6 .3-.1 .3 1.2 .3 .2 .3 .3 .3-1 .3 1.9 .3-.4 .3-1.2 .4-.2 .3 .1 .3 .7 .3-.3 .3-1.2 .3 .4 .3 .8 .3-.6 .3 .6 .4-.3 .3-1.4 .3 .9 .3-.5 .3-.2 .3 .6 .3 .9 .3-.3 .3 .7 .3-1.8 .4 .1 .3-.1 .3 .3 .3 .9 .3 .7 .3-1.4 .3-.3 .3-.8 .3-.4 .3 .6 .4 .5 .3-.6 .3-.3 .3-.7 .3 .3 .3-.1 .3 1.3 .3-.5 .3-.1 .3-.4 .4 .4 .3-1 .3-.2 .3 1.8 .3 .6 .3-1.2 .3-1.2 .3 2.4 .3-.9 .3 .3 .4-.2 .3-1.2 .3 .3 .3-.1 .3 .3 .3 1 .3-1.5 .3 1.5 .3 .4 .4 .4 .3-.7 .3 1.7 .3-1.7 .3 .7 .3 .5 .3 0 .3 .1 .3-.6 .3-.6 .4 .1 .3-1.2 .3 .6 .3 .1 .3 .6 .3 0 .3-1.5 .3-.3 .3-.1 .3 .9 .4-.4 .3 1.1 .3-.3 .3 .3 .3-.7 .3-.1 .3 .3 .3 .4 .3-.3 .3-.5 .4-.4 .3 0 .3-.2 .3 .1 .3 .2 .3 1 .3-.3 .3 .4 .3-.9 .3 1.8 .4-.4 .3-.2 .3 1 .3 .2 .3-1 .3 .3 .3 1.1 .3-1.4 .3 .7 .4 1.4 .3-1.3 .3-.2 .3 .1 .3-.3 .3-.1 .3-.4 .3 .4 .3 .2 .3-.6 .4 .6 .3-.5 .3-.4 .3 1.8 .3 .9 .3-1.2 .3 1 .3-.3 .3-.5 .3-.4 .4-1.4 .3 1.3 .3 .5 .3-2 .3 .6 .3 0 .3 .5 .3-.4 .3-1.9 .3 1.9 .4-1.6 .3 .6 .3-1.1 .3 1 .3-1.2 .3 .9 .3-.1 .3 1.3 .3 .4 .3-.2 .4 .1 .3-.8 .3-.1 .3-.2 .3 0" stroke="#ff0000" stroke-width="1.04"/>
<path d="M54 151.2l.3-1.4 .3-1.4 .3-1.9 .3 0 .3-1.5 .3-2.4 .3-1.1 .4-1.1 .3-2.2 .3-1 .3 .4 .3-2.3 .3-.4 .3-2.5 .3-2.9 .3-.1 .3-2.3 .3-1.1 .3-.2 .3 .6 .3-2.2 .3 2 .4 .4 .3-1.8 .3-.7 .3 .4 .3 .6 .3-1.3 .3 .9 .3-1.2 .3 1.7 .3-1.1 .3-.9 .3 .5 .3-.6 .3 .6 .3-.5 .3 1.4 .4-.3 .3 1.2 .3 0 .3 .2 .3-1.2 .3 1.5 .3-.4 .3 0 .3 .9 .3-.6 .3-.4 .3 .3 .3-.4 .4 2 .3 .3 .3 .8 .3-.4 .3 1.4 .3-1 .3-.6 .3-.2 .3 .4 .3-1 .3 0 .3-.5 .3-1.2 .3 .9 .3-.8 .3-.6 .3-.9 .4 2.3 .3 .1 .3-.3 .3 1 .3-1.3 .3 .9 .3 0 .3-1.1 .3 1 .3 .7 .3-.8 .3 1.3 .3 0 .3-1.6 .3 .7 .4 .6 .3 0 .3 .4 .3-.1 .3-1 .3 .7 .3-.2 .3 1 .3-1 .3 .2 .3 .2 .4-.8 .3 .7 .3-.3 .3 0 .3 .3 .3-.2 .3 .5 .3-.2 .3 0 .4-.3 .3-.5 .3-.9 .3 .9 .3-.2 .3 1.3 .3 .6 .3-1.1 .3 .4 .3-.5 .4-2 .3 2.2 .3 1.4 .3 .1 .3-.6 .3 .1 .3 .6 .3-.5 .3-1 .3 .9 .4 .3 .3-.2 .3 .5 .3 0 .3 0 .3 .5 .3-.3 .3 .7 .3-2 .3 1.5 .4-.9 .3 1.4 .3-.3 .3-.7 .3 1.5 .3-.1 .3 .4 .3 .1 .3 .8 .3-1.4 .4-.4 .3-.7 .3 .6 .3 .7 .3 .4 .3 .5 .3-1.7 .3 .2 .3-.3 .4 1.1 .3 .1 .3 .1 .3-1.8 .3 1.5 .3-.8 .3 0 .3-1.3 .3-.3 .3 .6 .4 .8 .3-.3 .3 .9 .3-.6 .3-.5 .3-1.7 .3 1.7 .3-.2 .3 .1 .3-.2 .4-1 .3 1.1 .3-.4 .3-.7 .3-.3 .3 .1 .3 .2 .3 .6 .3-1.4 .3-.5 .4 1.5 .3 0 .3-1.7 .3 1.9 .3-.2 .3-.3 .3 0 .3 .5 .3 .9 .3-1.2 .4 1.3 .3 0 .3-1.2 .3 1.5 .3-.9 .3-.5 .3-.9 .3 1.9 .3-.8 .4 .8 .3 .1 .3 1.1 .3-.9 .3 .6 .3-1.7 .3 .4 .3 .6 .3 .1 .3 .1 .4-.2 .3 .7 .3 0 .3 .7 .3-.9 .3-.2 .3 .8 .3-1.1 .3 .5 .3 1 .4-.4 .3 .1 .3-.1 .3-.4 .3 .6 .3-.3 .3 .1 .3-.9 .3 1.3 .3-1.1 .4 .4 .3-.3 .3 1.3 .3-1.6 .3 1.3 .3-.1 .3 1.2 .3-.4 .3 .7 .3-.5 .4-.4 .3 1.2 .3-.4 .3-.9 .3-.4 .3 .4 .3 .3 .3-2.5 .3 2 .4-1.6 .3 0 .3-.1 .3 .6 .3 0 .3-.2 .3 .6 .3 .3 .3-1.3 .3 1.9 .4-1.8 .3 .3 .3 .3 .3-.4 .3 1.5 .3-1.4 .3 .3 .3 .1 .3 0 .3-.5 .4 .8 .3-.2 .3 .6 .3-1.6 .3 .9 .3 1 .3-1 .3 1.3 .3 .1 .3 .4 .4-.4 .3 .4 .3-.9 .3 .5 .3-.3 .3-.1 .3 1 .3-1.5 .3-.2 .3 1.6 .4-.4 .3-.6 .3 .5 .3-.3 .3-.8 .3 .3 .3 .8 .3-.8 .4 0 .3 .1 .3 .3 .3-.2 .3-.2 .3 0 .3 .5 .4 .1 .3 .5 .3 .1 .3-.2 .3 1 .3 .4 .3-1.8 .3 .2 .4 1.6 .3-1.8 .3-.5 .3 .6 .3-1.2 .3 .9 .3 .1 .4-.7 .3-1.1 .3 .6 .3 1.4 .3-.1 .3 0 .3-.7 .4 1.1 .3-.3 .3 1.2 .3-.6 .3-.4 .3-.9 .3 1.6 .4 .3 .3 .5 .3-.1 .3-.9 .3 .2 .3 .1 .3 0 .4 0 .3-.8 .3-.6 .3 .8 .3-1.3 .3 .7 .3-.1 .4 .2 .3-.8 .3 1.2 .3-.7 .3 0 .3-1.8 .3 1.3 .3-.6 .4 .8 .3-1.2 .3 .7 .3-1.1 .3 .3 .3-.2 .3-.1 .4-.2 .3 1.2 .3-2.1 .3 .6 .3-.5 .3-.1 .3 .2 .4 .6 .3-1.1 .3 .4 .3 .9 .3-.3 .3-1.6 .3 .1 .4 .8 .3-2 .3 .8 .3-.3 .3 .4 .3-.5 .3 .3 .3-.8 .3 .4 .3-.9 .4 .5 .3-1 .3-1.2 .3-.1 .3-.3 .3-.3 .3 1.9 .3-.7 .3-.8 .4 0 .3 .3 .3-1.3 .3-.6 .3 1.3 .3-.1 .3-.1 .3-.3 .3-1.2 .3 1 .4-1.2 .3-.3 .3-.6 .3 0 .3 .3 .3 .3 .3-.8 .3-.5 .3 .3 .3-.9 .4 .3 .3-.5 .3 .1 .3-.3 .3 1.5 .3-.2 .3-.5 .4 .1 .3 0 .3 0 .3-1.2 .3 0 .3 .6 .4-.3 .3-1.5 .3 .2 .3 .3 .3-.8 .3-.3 .4-.3 .3 .3 .3-.1 .3-.6 .3-.9 .3 .5 .4-1.2 .3 .4 .3-.6 .3-.9 .3-1.2 .3-.3 .3-1.1 .4-.9 .3-.3 .3 .4 .3 0 .3 1.1 .3-1.9 .3-.7 .3-.4 .4 .2 .3 0 .3 .1 .3 .4 .3 .4 .3 1.1 .4-2.1 .3-1.2 .3 1.2 .3-.9 .3-1 .3-.7 .4 .6 .3 .7 .3 1 .3-1.9 .3-.3 .3 0 .4-.1 .3-1.3 .3-.1 .3-.3 .3 .2 .3-.2 .3 .3 .4 .4 .3-1.5 .3 1.1 .3-.5 .3-.2 .3 .2 .4 .6 .3-.7 .3-.7 .3 .2 .3-.1 .3 .7 .3-1.2 .3-1.1 .4 .6 .3-.7 .3 .5 .3-1.4 .3 .7 .3-.1 .3-.7 .3 .8 .4-1 .3-1.7 .3 1.1 .3 1.6 .3-.3 .3-.9 .3 .7 .3 0 .4-1 .3-1.2 .3 1 .3 .4 .3-1.7 .3 2 .3-1.4 .3-.6 .3 .4 .3-.1 .4 0 .3 .5 .3-1.7 .3 .2 .3 .4 .3 .8 .3 2.5 .4 3.8 .3 3.1 .4 .6 .3 .4 .3 2 .3 .2 .4-.2 .3-.1 .3 .2 .3-.2 .3 .3 .3 .1 .3 .3 .3-.1 .3 1.6 .3-.1 .3 .3 .4-1.3 .3 2.2 .3-1.3 .3 .4 .3-1.3 .3-.4 .3 .9 .3 .2 .3 .2 .3-.5 .3 0 .3 1.8 .4 0 .3-.5 .3-1.2 .3 .2 .3 1.2 .3-.9 .3 1.3 .3-2 .3-.6 .4 1.3 .3-.1 .3-.1 .3-.9 .3 .7 .3-.7 .3-.1 .3 .6 .4-.9 .3 .3 .3-.5 .3 .5 .3-1.9 .3 2 .3-.4 .3 .1 .4-.3 .3 .3 .3-.8 .3 .2" stroke="#ff0000" stroke-width="1.04"/>
<path d="M54 151.2l.3-1.3 .3-1.2 .3-1.8 .4-.5 .3-1.1 .3-1.8 .3-1 .3-.8 .3-1.2 .3-2 .3-1.7 .4-.2 .3-1.1 .3-1.9 .3-1.5 .3 0 .3-2.1 .3-1.4 .3-.7 .4-1.5 .3-2.4 .3-1.6 .3-2 .3-.9 .3-.6 .3 .8 .3-1.1 .3-.9 .3 0 .3-.8 .4-.8 .3-.3 .3 .4 .3-.6 .3-2.2 .3 1.3 .3-1 .3-1 .3-.3 .3-.1 .3-.3 .3-.4 .3 .7 .4-.6 .3 .1 .3 1 .3-.8 .3 .6 .3-1.1 .3 .9 .3 .2 .4 1.5 .3-.2 .3 .9 .3-1.1 .3 1 .3 1.2 .3-.9 .3 1.1 .4 .4 .3-.2 .3-.4 .3 .7 .3 .3 .3-.3 .3-.2 .3 .2 .4 .5 .3-.3 .3 .4 .3-.6 .3 .5 .3 .4 .4-.4 .3 1 .3-.7 .3 1.6 .3-1.3 .3 .2 .4-.7 .3-.3 .3 .6 .3-.3 .3 0 .3 .5 .3-.3 .4 .7 .3 .3 .3 .1 .3-.9 .3 .2 .3-.5 .4-.6 .3 1.2 .3-.1 .3 .5 .3 .9 .3-.1 .4 .5 .3 .4 .3 .1 .3 1.3 .3-1.1 .3-.6 .3 .2 .4-1.4 .3 .5 .3 1.1 .3-.2 .3 .4 .3-.1 .4-1.4 .3 .1 .3-.1 .3 .5 .3-.4 .3 0 .4-.4 .3 .8 .3-.1 .3-.2 .3 .8 .3 0 .3 .1 .4-1.6 .3 1.6 .3-.3 .3 .7 .3-.6 .3 1.7 .4-.4 .3 .6 .3 0 .3 1.1 .3-1.9 .3 1 .4-.4 .3 0 .3 .2 .3-.1 .3 .7 .3-.1 .3-1 .4 .3 .3-.1 .3 .4 .3-.2 .3 .6 .3-1 .4 0 .3-.2 .3 .1 .3 .1 .3 .8 .3-1.1 .4 .7 .3 0 .3 .5 .3-1.3 .3 .3 .3-1.1 .4 1.8 .3-.4 .3-.1 .3-1.2 .3 1.1 .3 .4 .3-1 .3-1 .4 .3 .3-.2 .3-.4 .3-.6 .3 .7 .3 .3 .3 .7 .3-.3 .3-.8 .3 .8 .4-.3 .3 .8 .3 1.1 .3-.3 .3 .2 .3-.3 .3 1.5 .3-1.2 .3 2.2 .3-1.5 .4 1 .3-1 .3 .5 .3-.2 .3 .1 .3 .2 .3 .5 .3-.8 .3-.4 .4 .8 .3 .3 .3 .6 .3-.2 .3 .4 .3 0 .3-1.2 .3 .7 .3-1.4 .3 1.6 .4 .2 .3 1 .3-.5 .3 .5 .3-1.3 .3 1 .3 .2 .3 .2 .3 .9 .3-.4 .4 .9 .3-.8 .3-.1 .3-.4 .3 1.3 .3 .6 .3-1 .3 1.1 .3-.9 .3 0 .4 1 .3 0 .3 .5 .3 0 .3-1 .3 .5 .3-.4 .3 1 .3-.7 .3 1 .4-.6 .3 .4 .3 .4 .3 .3 .3-1 .3 1.5 .3 .7 .3-1.1 .3 .3 .4 .7 .3-.5 .3-.4 .3 .5 .3 .4 .3-.5 .3 .8 .3 .1 .3-.1 .3 .5 .4 1.5 .3-.7 .3 .9 .3-1.1 .3 .4 .3 .6 .3 .7 .3 .8 .3 0 .3-.6 .4 .2 .3 1.3 .3-1 .3 .3 .3 .5 .3 .3 .3-.3 .3 .4 .3 .7 .3-.2 .4 .1 .3-.1 .3-.1 .3 .3 .3 1.5 .3 .2 .3 .1 .3-1 .3 .4 .3-.2 .4 .1 .3 0 .3 .2 .3-.2 .3 1.5 .3-1 .3 1.3 .3 .2 .3-.3 .4-.3 .3-.4 .3-.2 .3 .6 .3-.3 .3 .9 .3-1 .3 .1 .3 .4 .3 .4 .4 .3 .3 .2 .3-.4 .3 .9 .3-1 .3 1.3 .3-1.3 .3 .5 .3-.3 .3-1.3 .4 .9 .3 .3 .3 .3 .3-.8 .3 .8 .3-1.1 .3 .8 .3 .8 .3-.6 .3 .4 .4 .9 .3-1.4 .3 1 .3-.4 .3-.1 .3 .4 .3-.3 .3 .1 .3-.3 .4-1 .3 1 .3-.2 .3-.3 .3-.4 .3-.6 .3 .3 .4-.1 .3 1 .3-.8 .3 .4 .3 1.3 .3-1.4 .3-.5 .4 1.1 .3-1.9 .3 .4 .3 0 .3-.6 .3 1.3 .3-1.2 .3 1 .4-.1 .3-.5 .3-.2 .3 .3 .3-.8 .3 1.6 .3-.7 .4 1.1 .3-.9 .3 .9 .3-1.1 .3 .9 .3 .6 .3 .1 .4-.9 .3 0 .3 .7 .3-1.4 .3 1.4 .3-.5 .3-.3 .4 .7 .3-.1 .3-.9 .3 0 .3 .9 .3-.6 .3 .4 .4 .5 .3 .3 .3 0 .3 .6 .3 1 .3-.7 .3-.5 .4 1 .3 .1 .3 .5 .3-.5 .3 .3 .3-1.4 .3 .4 .3-.5 .4 .6 .3-.6 .3 .4 .3 .1 .3 .7 .3-.4 .3-1.2 .4 .4 .3 0 .3-.5 .3 .2 .3-.2 .3-1.1 .3 .4 .4 1.9 .3-1.4 .3 .2 .3 .3 .3-.2 .3-.7 .3 .6 .4-.7 .3 .8 .3-.3 .3 0 .3 1.8 .3-.1 .3 0 .4-.1 .3 .3 .3-.6 .3-.1 .3-.9 .3-.1 .3 .7 .4-.9 .3 .9 .3-1.4 .3 .7 .3 0 .3-.7 .3 .9 .3-.2 .4-.5 .3-.2 .3 .6 .3-.1 .3 .2 .3-1.5 .3 0 .4 .2 .3-.2 .3 1.1 .3-.7 .3 .7 .3-.6 .3-.4 .4 .8 .3 .5 .3 .4 .3-.5 .3 1.1 .3-1.5 .3-.1 .4 1.3 .3-1 .3 .1 .3 .8 .3 .7 .3-1.1 .3 .5 .4 0 .3-.5 .3-.5 .3-.6 .3 .5 .3-.5 .3-1.2 .4 .4 .3 .5 .3-.6 .3 .1 .3 0 .3 .2 .3 .5 .3-.1 .4-.1 .3-.9 .3 .1 .3 .9 .3-1.1 .3 .3 .3-.6 .4 .4 .3 .9 .3-.5 .3-.3 .3 .6 .3 1.4 .3-1 .4-.5 .3 .1 .3-.6 .3 .3 .3 .4 .3 0 .3-.7 .4-.4 .3 .6 .3 .3 .3-.3 .3-.3 .3 .7 .3-.7 .4 1.2 .3 .1 .3 0 .3 .9 .3-1.4 .3 1.5 .3 .6 .3-1.1 .4-.6 .3 .9 .3-1 .3 1.1 .3-1 .3 1.1 .3-.4 .4 0 .3 .7 .3-.7 .3 .3 .3 1 .3 0 .3 .6 .4-1.1 .3-.5 .3 .8 .3-.3 .3 .3 .3 1 .3-.7 .4-.7 .3-1 .3-.2 .3-1.1 .3 .1 .3-.7 .3 1.4 .4-.9 .3 .9 .3 .1 .3 .2 .3 .3 .3-.7 .3-.2 .4 1 .3 .2 .3 .7 .3-.9 .3 0 .3 .2 .3-.4 .3 0 .4-.2 .3 .7 .3-.3 .3-1 .3 1.3 .3-1.6 .3 1.2 .4 1 .3-1.5 .3 1.5 .3 0 .3-.7 .3 1.4 .3 .5 .4-1.5 .3 .3 .3 .3 .3-.1" stroke="#ff0000" stroke-width="1.04"/>
<path d="M54 151.2l.3-1 .3-.9 .3-.8 .4-1.3 .3 .2 .3-2.6 .3 .2 .3-1.8 .3 .1 .4-.7 .3-2.8 .3-.1 .3-1 .3-1.5 .3 .7 .4-1 .3-2.4 .3-.1 .3-.3 .3-.9 .3-1.3 .3-1.3 .4-1.7 .3-.8 .3 0 .3-3 .3 .2 .3-1.2 .4-.7 .3-1.4 .3 .3 .3-2.2 .3-.4 .3-.1 .4 .4 .3-.2 .3-.6 .3 .4 .3 .1 .3-.3 .3-1 .4-.2 .3-.3 .3 .7 .3 .3 .3-.1 .3-1 .4-.6 .3 .5 .3-.2 .3-.4 .3 1.1 .3-1.6 .4 .4 .3-1.3 .3 1.7 .3-1.4 .3 .2 .3-.6 .4 .2 .3 .2 .3-.4 .3-.9 .3-.4 .3 .1 .3-.1 .4 1.2 .3-.5 .3-.7 .3 .3 .3 .8 .3-.1 .4 .3 .3-.4 .3-.2 .3 .3 .3 .6 .3-1 .4 0 .3-.3 .3 .5 .3 .2 .3-.1 .3-.2 .3 1 .4-.2 .3 .7 .3-.3 .3 .9 .3 0 .3 .2 .4-.5 .3 .2 .3-.1 .3-.2 .3 1.4 .3 .3 .4-.4 .3-.1 .3 1.2 .3 .2 .3 1.5 .3-.9 .3 .7 .4-.8 .3 1.4 .3-1.8 .3 .2 .3-.1 .3 .4 .4-.7 .3 .5 .3 .6 .3 .5 .3-.4 .3 .5 .4 .5 .3 .2 .3 .2 .3 .9 .3 .4 .3-.1 .3 .4 .4-.5 .3 .7 .3 .3 .3-.6 .3 .2 .3 .1 .4-.4 .3 0 .3-.5 .3 .5 .3-.3 .3-.1 .4 .3 .3 .5 .3 .8 .3 .4 .3-.7 .3 .5 .3-.5 .4 1.2 .3-1 .3 .9 .3-1.3 .3 1 .3 .2 .4-.6 .3-.1 .3 .5 .3 0 .3 .4 .3-.4 .4-.2 .3-1.1 .3 .6 .3 .9 .3 .8 .3 .4 .4 0 .3-.1 .3 .1 .3 .7 .3-1.5 .3 .7 .3-1.3 .3 1.7 .4 1 .3-1 .3 1.3 .3-.8 .3 .7 .3-.8 .3 .9 .3-.1 .3-.6 .3-.6 .4 0 .3 1 .3 1.1 .3-1.3 .3 1.9 .3-.5 .3-.5 .3 1 .3 1.9 .3-1 .4-.2 .3-.4 .3-.4 .3 .8 .3-.6 .3 1.2 .3-.8 .3-.4 .3 1.2 .4-.9 .3-.6 .3 .9 .3-.3 .3 .6 .3-.9 .3 .1 .3 .2 .3-.6 .3 1.1 .4-1.4 .3 .3 .3 .8 .3-.3 .3 .3 .3 1.3 .3-.8 .3 .6 .3 .2 .3-.3 .4-1 .3 .3 .3-.2 .3-.8 .3 .8 .3-1.1 .3-1.1 .3 1.3 .3 1.9 .3-2.2 .4 .9 .3-.8 .3-.3 .3 1 .3-.5 .3 .7 .3-.4 .3 0 .3 0 .3-.5 .4 1.1 .3-.1 .3 .1 .3 .6 .3-.3 .3 .6 .3-.4 .3 .9 .3 .2 .4-.3 .3 .2 .3-.2 .3 .4 .3-.3 .3 .2 .3-.3 .3 .1 .3 .3 .3-.7 .4-.4 .3 1.5 .3 1.1 .3-1.1 .3 .5 .3 .5 .3-.2 .3-.1 .3 .4 .3-.1 .4 .2 .3-.5 .3 0 .3 .3 .3 0 .3 0 .3-.3 .3-.5 .3 .6 .3-.7 .4 .3 .3 .4 .3 1.2 .3-1.3 .3 .2 .3 .7 .3 .3 .3 .5 .3-1.5 .3 0 .4 .5 .3 .5 .3 1.1 .3-.4 .3 .6 .3-.1 .3-1.2 .3 1.1 .3-.4 .4-.5 .3 0 .3-.4 .3 .9 .3 0 .3 .3 .3 1 .3-.8 .3-.6 .3 2 .4-.7 .3-.1 .3 0 .3-.7 .3 .3 .3-.2 .3 .1 .3-.7 .3-.4 .3 1.3 .4-.1 .3-.2 .3 .2 .3-.2 .3-.7 .3 1 .3-.1 .3-.4 .3 1.5 .3-1.5 .4 .2 .3-.1 .3 .1 .3-.3 .3 .3 .3 .3 .3 .7 .3-1.2 .3 .6 .3-.4 .4 .1 .3 .1 .3-.7 .3 .6 .3-.8 .3 .6 .3 0 .3-.2 .3 .6 .4-2.3 .3 1 .3 .7 .3-.8 .3 .1 .3-1.5 .3 1.6 .3-1.1 .3 .4 .3-.4 .4-.1 .3 .3 .3-.8 .3-.6 .3 .7 .3 .6 .3-.2 .3-1 .3 .9 .3-1 .4 .2 .3 1.1 .3-1.3 .3-.4 .3 .9 .3 .5 .3-.9 .3-.4 .3 1 .3-.4 .4 .7 .3-.6 .3-.2 .3 0 .3 .1 .3 .4 .3-1.1 .3 .1 .4 1.2 .3-.5 .3-.4 .3-.2 .3 1.5 .3-.3 .3 .8 .3-1.2 .4 1 .3-.7 .3-.2 .3 0 .3 .2 .3 .4 .3-.5 .3-.2 .4 .4 .3-.3 .3-.1 .3 .3 .3-.7 .3-.9 .3-.4 .4-.1 .3 .8 .3-.2 .3-.8 .3-.5 .3 .1 .3 1 .3-.2 .4 .2 .3 .6 .3-.7 .3 .7 .3 .1 .3-1.1 .3 .2 .3 .5 .4-1 .3 .2 .3-.3 .3-.9 .3 .7 .3-.3 .3 1 .3 .3 .4-2 .3 .5 .3 0 .3 1 .3 .2 .3-.4 .3-.8 .3 1.1 .4-.6 .3 .2 .3 .4 .3 .3 .3-.6 .3 .7 .3-.8 .3 .6 .4-.5 .3-.1 .3-.9 .3 .4 .3 1.6 .3-.9 .3 0 .3-.6 .4 .4 .3 .2 .3-1.1 .3-.3 .3 1 .3 .1 .3-1.1 .3-.5 .4 0 .3 .1 .3 0 .3 .7 .3 .3 .3 .2 .3 .2 .3-.1 .4-.7 .3 .4 .3-.3 .3 .3 .3 .2 .3 .8 .3 .7 .4-.8 .3-.3 .3-.4 .3-.1 .3 1.3 .3-.7 .3 0 .3-.6 .4 1.2 .3-.9 .3-1.1 .3 .4 .3 .9 .3-2.1 .3 1.3 .3-.9 .4 0 .3 .7 .3-1.1 .3 .3 .3 .1 .3-.9 .3-.4 .3-.7 .4 .4 .3-.4 .3-.3 .3-.2 .3-.1 .3 .5 .3-.3 .3-.6 .3 .6 .3-.4 .4 .7 .3-.4 .3 1 .3-.5 .3 .6 .3-.9 .3 .1 .3 .1 .3-.6 .3-.3 .4 .4 .3 .4 .3-1.2 .3 .2 .3-.4 .3 .5 .3 1.3 .3-.5 .3-.9 .3-.7 .4 .3 .3 .5 .3-.9 .3 .3 .3-.3 .3-.1 .3 .8 .3-.7 .3 .9 .4-1.2 .3 .8 .3 0 .3-.5 .3-.9 .3 .8 .3-.3 .3-.7 .3-.3 .3-.1 .4 1.2 .3-1.2 .3 .2 .3 .1 .3 .8 .3-.7 .3-.4 .3 1.3 .3-.9 .3-.4 .4 .4 .3-.1 .3 .5 .3 .1 .3-.4 .3 .5 .3-.2 .3-.3 .3-.5 .3 .1 .4-.5 .3 .2 .3-.3 .3 .8 .3-.3 .3-.3 .3 0 .3 .3 .3-.2 .3 .8 .4-.8 .3-.3 .3 1.7 .3-.8 .3-.3" stroke="#ff0000" stroke-width="1.04"/>
<path d="M54 151.2l.3-.7 .3-.6 .3-1.6 .3-1.3 .4-.3 .3-.1 .3-.6 .3-1.2 .3-.5 .3-1.1 .3 .4 .3-1 .3-.4 .3-.4 .4-.4 .3-.1 .3-.6 .3 .2 .3-2.7 .3 .3 .3 .8 .3-.5 .3-1.1 .3-.9 .4-.9 .3 .1 .3-2.3 .3-.6 .3-.9 .3-.3 .3-.5 .3-.1 .3-1 .3-.5 .4-1.4 .3-.8 .3-.4 .3 .5 .3-1.7 .3-1.2 .3-.7 .3-.5 .3 .4 .3 .3 .4-1.5 .3 .9 .3-1.2 .3 .3 .3 .4 .3-.4 .3-.3 .3 .9 .3 .8 .4-.8 .3-.2 .3 1.5 .3-.8 .3-.1 .3 0 .3-.1 .3 .6 .3 .2 .3-.6 .4 .8 .3-1.1 .3 .8 .3-.2 .3-.4 .3 .9 .3-.3 .3-.2 .3 .8 .3 .1 .4 0 .3-.8 .3 .2 .3 .8 .3-.9 .3 1.1 .3-.5 .3 .4 .3-.4 .3-.8 .4 .7 .3-.7 .3 1.5 .3-1.3 .3 1.1 .3-.3 .3 .1 .3-1 .3 .8 .3-.2 .4-.4 .3 0 .3 0 .3 .7 .3 .7 .3-.6 .3-.1 .3 .3 .3-.9 .4 .5 .3-.2 .3 .1 .3-.9 .3 0 .3 .5 .3-.6 .3 .6 .3-.1 .3 0 .4-1 .3 .3 .3 .3 .3 .9 .3-.3 .3-.5 .3 .6 .3 .2 .3-.2 .3 .2 .4-.6 .3 .3 .3 .6 .3-1.1 .3 .7 .3 .5 .3-.6 .3-.8 .3-.1 .3 1.3 .4-1.5 .3-.1 .3 .7 .3-1.1 .3 1.1 .3 0 .3-.9 .3-.5 .3-.4 .3 .4 .4-.6 .3 1.9 .3 0 .3-.4 .3 .2 .3-.6 .3 .3 .3-.1 .3 .6 .4-.5 .3 .2 .3 .5 .3-.3 .3 .1 .3-1.5 .3 .6 .3 .3 .3-.1 .3-.2 .4 0 .3-.6 .3-.1 .3 1.1 .3-1.3 .3-.1 .3 .4 .3-.6 .3 0 .3 .6 .4 .1 .3-.4 .3 .4 .3-.7 .3-.5 .3 .4 .3 .6 .3 .8 .3 0 .3-1 .4 .2 .3 1 .3 .6 .3-.1 .3-.6 .3 .2 .3 .2 .3 .7 .3-.5 .3 1.2 .4-.2 .3 .4 .3-.6 .3 .7 .3-.3 .3 0 .3-1 .3-.3 .3 1.8 .4-.8 .3 .6 .3-1.1 .3 .6 .3-.2 .3 1.9 .3-.6 .3-.9 .3 .3 .3 1.1 .4 .6 .3-.7 .3 1.1 .3-.2 .3 .1 .3 .3 .3 .8 .3 .6 .3 0 .3 .3 .4-1 .3 1.7 .3-1 .3 .4 .3 1.5 .3-.3 .3 .2 .3-.3 .3 .1 .3 1.5 .4-1 .3 .3 .3-1.7 .3 1.2 .3 .2 .3 .7 .3 .1 .3-.8 .3 2.1 .3-1.1 .4 .4 .3-.2 .3 .5 .3 1.2 .3 0 .3-.7 .3 .6 .3 1.6 .3 0 .4-.7 .3 .4 .3 .1 .3-.3 .3-.4 .3 .6 .3 0 .3 .2 .3 .4 .3 0 .4-.3 .3-.9 .3 .2 .3 .7 .3 .1 .3-.4 .3 .6 .3 .6 .3 .4 .3 .4 .4-.6 .3 .9 .3-1 .3 .4 .3 .2 .3-.1 .3-.1 .3-.9 .3 .6 .3-.3 .4-.2 .3 1.4 .3 .1 .3-.8 .3 .7 .3 0 .3 .6 .3-.2 .3-1.4 .3 .9 .4 1.3 .3-.7 .3 .1 .3-.5 .3 1 .3 0 .3 .7 .3 .3 .3-.6 .4-.3 .3 .9 .3 .3 .3 0 .3-1.3 .3 .7 .3-.1 .3 .3 .3-.1 .3 .4 .4 .1 .3-.4 .3 1.2 .3-1.2 .3 .4 .3-.1 .3 .6 .3-1.4 .3 .2 .3 .1 .4-.1 .3-.3 .3 .7 .3-.5 .3-.1 .3-.5 .3 0 .3 1.9 .3-.8 .3 .3 .4-.7 .3 0 .3 0 .3 .7 .3-.5 .3 .1 .3-.7 .3 .3 .3-.2 .4 1 .3 1.1 .3-.3 .3 0 .3-.4 .3 .4 .3-.1 .4 1.1 .3-.2 .3 .4 .3-1.7 .3-.2 .3 .5 .3 1.2 .4-.8 .3-.2 .3 0 .3-1.4 .3 1.3 .3 .2 .3 .2 .3-.1 .4-.5 .3 1.6 .3-.8 .3 .4 .3-.5 .3-1.2 .3 .7 .4 1 .3-.4 .3 0 .3 0 .3-.3 .3 .4 .3 .7 .4 .3 .3-.9 .3 1.1 .3-.3 .3-.5 .3-.5 .3 2.4 .4-.8 .3-1.2 .3 .5 .3-.4 .3 .1 .3 .5 .3 .2 .4-.4 .3 .5 .3-1.4 .3 .4 .3-.1 .3-.2 .3-.3 .4 .7 .3-.2 .3-.2 .3-.1 .3 .9 .3-1.5 .3 .5 .3 0 .4 .1 .3 .2 .3 .6 .3-1.6 .3-.5 .3 .9 .3-1.7 .4 1.3 .3-.7 .3 1.5 .3-.6 .3 .6 .3 0 .3 .3 .4 .4 .3 .4 .3 .2 .3 .1 .3 .4 .3 .4 .3-.7 .4 .9 .3-.5 .3-.5 .3 .7 .3-.4 .3 1 .3-.8 .4 .6 .3-.4 .3-.3 .3-.2 .3 1.3 .3-.4 .3 1.2 .4-.7 .3 .5 .3 .4 .3-.3 .3-.2 .3-.5 .3 1.3 .3-.2 .4 .4 .3-1.7 .3 .2 .3 .6 .3-.4 .3 .6 .3 .9 .4-.6 .3 .2 .3-.7 .3 .7 .3-1.4 .3 .4 .3-1 .4 1 .3 0 .3 .2 .3-1.1 .3 .8 .3-.1 .3 .2 .4-1 .3 .3 .3 .2 .3-.7 .3 .3 .3 .5 .3-.8 .4 .2 .3 .8 .3 .1 .3-.6 .3 0 .3 0 .3-.3 .4 .8 .3-.5 .3-.6 .3 0 .3 .1 .3-.5 .3 0 .3-.1 .4 .4 .3-1 .3-.3 .3-.4 .3-.3 .3 1.2 .3-.1 .4-.2 .3 .3 .3 .9 .3-.1 .3-.4 .3 .9 .3-1.2 .4 1.7 .3 .9 .3-.8 .3-.9 .3-.1 .3 0 .3-1 .4 1.6 .3 .3 .3 0 .3-2 .3 1.3 .3 .1 .3 1.8 .4-.3 .3 .3 .3-2.1 .3 1.7 .3-.7 .3-.8 .3 .8 .3-.3 .4-1.4 .3 .5 .3 1.1 .3-.4 .3 .2 .3 .6 .3-.6 .4-1 .3-.6 .3 0 .3 .8 .3 .1 .3 .1 .3 .1 .4-.8 .3 .1 .3 1.3 .3 0 .3-1.4 .3-.2 .3 .5 .4 1.5 .3-.7 .3-.9 .3 1.1 .3-.2 .3 .8 .3-.3 .4 .2 .3-.2 .3-1.6 .3 .4 .3 .6 .3-.4 .3-.3 .4-1 .3 1.8 .3-.8 .3 .2 .3-.2 .3-.6 .3-.1 .3 .3 .4-.5 .3-.4 .3 .3 .3-.1 .3-.8 .3 1.5 .3-.7 .4-.1 .3-.5 .3-.6 .3 .8 .3 .6 .3-.1 .3-.3 .4 1 .3-.8 .3-.1 .3 .3" stroke="#ff0000" stroke-width="1.04"/>
<path d="M54 151.2l.3-1.5 .3-1.5 .3-1.4 .3-2.5 .4-.9 .3-1.7 .3-.9 .3-1.7 .3-1.4 .3-.2 .3-2.4 .3-1.1 .3-2.5 .3-2.3 .4-1.6 .3-.9 .3-.7 .3-3.3 .3 .6 .3-2.2 .3-2.1 .3-.7 .3-1.4 .3-.3 .4-1.1 .3 0 .3-.8 .3-2.4 .3 .8 .3-1.4 .3 .2 .3-1.4 .3-.6 .3-.2 .4-1.5 .3 .6 .3-1.5 .3-.8 .3-.1 .3-.5 .3-1.8 .3 0 .3-.3 .3-1 .3-1.1 .4-.3 .3-.5 .3 1.5 .3-1.3 .3-2 .3-.2 .3 0 .3-1.6 .3-.2 .3-.7 .3 .7 .3-2 .3 0 .3-1 .3-.8 .3-.8 .4 .6 .3-.6 .3-.4 .3-.2 .3 .2 .3 .5 .3-.7 .3 .9 .3-.5 .3-.9 .3 .3 .3 .1 .3 0 .3 .1 .3 .2 .2 .2 .3 .8 .3 .8 .3 2 .3-.2 .3 .9 .3 0 .4 .5 .3 .5 .3 1.1 .3-.4 .3-.5 .3 .3 .3 .3 .3 .7 .3-.1 .4 .2 .3 0 .3-.7 .3-.1 .3 .9 .3 .5 .3-.3 .3 .8 .4-1 .3 .3 .3 .2 .3-.1 .3 1.6 .3-1.3 .3 1.5 .3-.4 .4 .4 .3 .1 .3 .6 .3 .5 .3-.7 .3-.4 .4 1.6 .3-2.7 .3 1.8 .3-1.2 .3-.8 .3 .7 .3 .9 .4-.2 .3-1.4 .3 .7 .3 .1 .3-.8 .3 1.5 .4-.3 .3-.2 .3-.3 .3-.5 .3 .2 .3-1.2 .3 .4 .4-.7 .3 1.7 .3-.1 .3-.3 .3 .3 .3 1.7 .4-2.1 .3-.6 .3 1.1 .3-.2 .3 .7 .3-.2 .3-.6 .4 .9 .3-1.1 .3 .6 .3 1.1 .3-1.4 .3 1.2 .3 1.3 .3-.4 .4 .4 .3 1.7 .3-.5 .3 1.3 .3-.3 .3-.5 .3-.5 .4 .2 .3 0 .3 1.5 .3-.5 .3-.7 .3 1 .3-1.2 .3 1.6 .4 .4 .3 .2 .3 .4 .3-1.8 .3 .8 .3 .1 .3-.6 .3 .6 .4-.5 .3-.5 .3 1.6 .3-.8 .3 1.4 .3-.7 .3 .6 .3-.7 .4 .3 .3 .9 .3 1.2 .3-1.3 .3 .9 .3-.2 .3 1.7 .3 0 .4-.1 .3-.9 .3-1.9 .3 .6 .3 .6 .3 .1 .3 1.2 .4-.3 .3 1 .3-2.4 .3 .5 .3-.1 .3-.1 .3 .2 .4-1.6 .3 1.6 .3 0 .3 .4 .3-.6 .3-1.2 .4 1.4 .3-.7 .3-.2 .3 .2 .3 .6 .3 .7 .3 .2 .4-.7 .3 1.4 .3-.4 .3-.2 .3 .8 .3-.8 .3 .6 .4 .1 .3-.8 .3 1.3 .3-.1 .3 1.1 .3-.6 .3-1.7 .4 .9 .3 .5 .3-.5 .3-.4 .3 1.6 .3 .1 .3-1 .4 .4 .3-.7 .3-.6 .3 .9 .3-.8 .3-.9 .3 1.4 .4-.3 .3 .7 .3-.1 .3-1.2 .3 1.1 .3-.9 .3 1 .3-.2 .3-.9 .4 .9 .3-.6 .3-1.3 .3 1.1 .3 .3 .3 .2 .3 .2 .3-1.4 .3 1 .3-.7 .4-.3 .3-.4 .3 1.1 .3 .4 .3-.6 .3 1.1 .3-.5 .3-.5 .3 0 .3-.4 .4 .9 .3-1.2 .3 1.7 .3-.1 .3-.3 .3-1 .3 .2 .3 1.9 .3-1.3 .3-.9 .4 .8 .3-.4 .3 .4 .3 1.2 .3-.4 .3 .8 .3 .4 .3 .5 .3 0 .4 1 .3-2.7 .3-.4 .3 2.3 .3-1.6 .3-.4 .3 .6 .3-.7 .3 1.9 .3 1.1 .4-.5 .3 .9 .3-.8 .3-.5 .3-.2 .3 1 .3-.3 .3 .8 .3-.3 .3 0 .4 .1 .3-1.1 .3 2.1 .3-1.7 .3 1.7 .3-1.1 .3 .6 .3 .2 .3-.4 .3 .6 .4-1 .3 .2 .3 1.7 .3-.3 .3-1.2 .3 .6 .3 0 .3 1 .3-.5 .3-.5 .4-.5 .3-.5 .3 1.3 .3-.2 .3 .7 .3-.5 .3 1.1 .3-.1 .3-.7 .4-.4 .3-.2 .3 .2 .3-.9 .3 .8 .3-.2 .3 .7 .3 .5 .3 .7 .3-.1 .4-.9 .3-.2 .3 .4 .3 .9 .3-.5 .3-.2 .3 .2 .3-.5 .3 .6 .3-.3 .4 .8 .3-1 .3 1.2 .3-.8 .3-.6 .3 .5 .3-1 .3-.9 .3 .8 .3-.6 .4-.4 .3 .7 .3-.5 .3-.4 .3-.3 .3 .8 .3 .1 .3 1.1 .3-.1 .3 1.3 .4-2 .3 1.4 .3-.2 .3 .3 .3-.7 .3 .8 .3 .8 .3-1.7 .3 1.6 .4-.4 .3 .7 .3 .9 .3 .3 .3-.2 .3-.7 .3 .2 .3 .6 .3 .6 .3 .7 .4-1.6 .3 1.3 .3-.3 .3-1.3 .3 1.2 .3-1.8 .3 .2 .3 1.3 .3 .2 .3-.8 .4 1.8 .3 0 .3-1.3 .3 .5 .3-1.7 .3-.5 .3 .1 .3 .1 .3 .3 .3-.2 .4-.4 .3 .2 .3-.1 .3-.1 .3-.5 .3 0 .3-.7 .3-.8 .3 1.9 .3-.9 .4 .3 .3-.4 .3-.7 .3 .5 .3-.4 .3 0 .3 .9 .3-1 .3-.4 .4 .3 .3 1 .3-1 .3 1.5 .3-1.6 .3 .8 .3 0 .3-.1 .3-.3 .3 .2 .4-.9 .3 1.2 .3 1.2 .3-1.8 .3 1.4 .3-.7 .3-.1 .3 .3 .3 .4 .3-1.3 .4 .4 .3-1.1 .3 .5 .3 .4 .3 0 .3-.9 .3 1.1 .3-.1 .3-.2 .3-.2 .4 .8 .3-.3 .3-.5 .3 1.6 .3-1.7 .3-.1 .3 .9 .3-.9 .3 .6 .3-.8 .4-.5 .3 .7 .3 .6 .3 .7 .3-.7 .3 0 .3-.3 .3 .1 .3-.4 .4-.1 .3-.2 .3 0 .3 .7 .3 0 .3-.2 .3 .2 .3-.7 .3 0 .3 .4 .4-.2 .3-.6 .3-1.6 .3 1.8 .3-2.3 .3 0 .3-.3 .3 2.7 .3-.4 .3-.1 .4 .1 .3 .7 .3 0 .3-.2 .3 .5 .3 1.8 .3-1 .3 .2 .3 .5 .3-.7 .4-.8 .3 .6 .3 .1 .3 .4 .3-.4 .3 .4 .3 0 .3 .2 .3 .8 .3-.6 .4 1.6 .3-.3 .3 .2 .3 .4 .3-.3 .3-.1 .3-1.3 .3 1.2 .3 0 .4 .6 .3-.3 .3-1 .3 1.4 .3-.2 .3-.1 .3-1.2 .3 1.9 .3-1.9 .3-.1 .4 .2 .3-.1 .3-.1 .3-.3 .3 1 .3-1.2 .3 1 .3-.2 .3-.6 .3-.9 .4-.5 .3 .6 .3-.1 .3 .9 .3-1.7 .3 .7 .3 .4 .3-1.3 .3-.9 .3 1.9 .4-.7 .3 1 .3-1.2 .3-.3 .3 1 .3-.3 .3 0 .3-.8 .3 .7 .3-1.1 .4 .8 .3-1.2 .3 .9 .3-1.2 .3 1" stroke="#00f000" stroke-width="1.04"/>
<path d="M54 151.2l.3-1.4 .3-1.4 .3-1.6 .4-.7 .3-2 .3-1.8 .3-.9 .3-1.6 .3-1.7 .3-1.2 .3-2.6 .4-2.8 .3 .6 .3-.3 .3-2.2 .3-.9 .3-1.2 .3-1 .3-2.3 .4-.9 .3-2.1 .3-.6 .3-1.8 .3-2.4 .3-.9 .3 .5 .3-1 .4-.3 .3-.7 .3-.2 .3-.8 .3-.8 .3 .2 .3-1.4 .3-.2 .4-1 .3 .2 .3-1 .3 1.2 .3-2 .3-1.1 .3 .6 .3-.9 .4-1.1 .3 .6 .3-2.4 .3 .9 .3-1 .3 .2 .3-.3 .3 1 .4-1.3 .3 .9 .3-.5 .3 .1 .3 .3 .3-1.1 .3 1.4 .3-.1 .4 .3 .3 1.5 .3-.8 .3 0 .3 .9 .3-1 .3 .5 .3 1.4 .4-1.7 .3 .8 .3 .7 .3 1.4 .3-.6 .3-.7 .3 1.1 .4 .4 .3 .9 .3 .6 .3-.9 .3 .9 .3 1 .3 0 .3 .7 .4-.2 .3-.2 .3-.2 .3 .9 .3-.8 .3 1.6 .3-.1 .3 .3 .4 .4 .3 .8 .3 .4 .3-.6 .3 .9 .3 .7 .3-.8 .3 .5 .4 2.3 .3 .3 .3-.6 .3-.9 .3 .9 .3 1.3 .3 .3 .3-.2 .4 0 .3 .2 .3 .8 .3 1.1 .3-.7 .3 .9 .3 1.3 .3 .1 .4-.7 .3 1.7 .3 .2 .3 .1 .3 .7 .3 .8 .3-1.2 .3 .6 .4 .2 .3 .7 .3 .7 .3-1.1 .3 .8 .3 .6 .3 0 .3-.1 .4-.2 .3 1.1 .3 1.2 .3-.8 .3 .1 .3 1.1 .3 1.4 .4-1.9 .3 2.7 .3-1.9 .3 1.2 .3-.7 .3 1.7 .3 1.1 .3-.8 .4 0 .3 .2 .3-.5 .3-1.3 .3 .7 .3 .7 .3 0 .3 .7 .3-.1 .3 .1 .3 .1 .3-.1 .4 1.2 .3-.6 .3 .8 .3 1.4 .3-.2 .3 .3 .3-.6 .3 .8 .3-.1 .3 .3 .3 .4 .3-1.2 .3 .5 .4 .8 .3 .6 .3-1.3 .3 .6 .3-.7 .3 .4 .3-.8 .3 .6 .3-.1 .3-.2 .4 .3 .3-1 .3 0 .3 .1 .3 .1 .3 0 .3 0 .3-.8 .3 .6 .3-1.1 .4 .3 .3-.2 .3-.5 .3 1.3 .3-.9 .3-.2 .3-.4 .3-.4 .3 2 .4-1.9 .3 1.5 .3-.1 .3-.6 .3-.1 .3-.9 .3-.5 .3 0 .3 .1 .3 2 .4-1.7 .3 1.7 .3-1.1 .3 .3 .3-.9 .3 .6 .3 0 .3-.2 .3 .2 .3-.7 .4 1.2 .3-.8 .3-.4 .3 .6 .3-.9 .3 .2 .3-.1 .3-.3 .3-.3 .3 1.1 .4-2.6 .3 .9 .3-.6 .3 .2 .3-1.5 .3-.2 .3 1 .3-1.6 .3 .5 .3-.9 .4 1.9 .3-.4 .3-2 .3 .3 .3 .2 .3-1.3 .3-1.3 .3 .8 .3 .9 .4-1.2 .3 .9 .3 1 .3-1.2 .3 0 .3-.2 .3-.9 .3-.2 .3 1 .3-1.1 .4-.8 .3 1.1 .3 0 .3 1.4 .3-1.6 .3-.5 .3 1.3 .3-1.9 .3 1.2 .3-1.1 .4-1.1 .3 .1 .3 .6 .3-.5 .3 .3 .3-.1 .3-.8 .3 .8 .3-1.4 .3 .1 .4-.2 .3-.2 .3-.3 .3 0 .3-.2 .3-.7 .3 1.5 .3-1.5 .3 .3 .3-1.1 .4-.9 .3-.7 .3 0 .3 .4 .3-1.3 .3 .5 .3 1 .3-1.2 .3 1.2 .4-.5 .3 .3 .3 .3 .3 .4 .3 .6 .3-.8 .3-1.7 .3 2.3 .3-.3 .3-.8 .4 .5 .3 0 .3-.2 .3 .4 .3 .9 .3-1.2 .3 .7 .3 .7 .3-.5 .3-.1 .4-.3 .3-.2 .3 1.5 .3-.3 .3 .1 .3-.6 .3 0 .3 1 .3-.9 .3 .7 .4 .7 .3-.3 .3-1.5 .3 1.2 .3 .6 .3-1.1 .3-.4 .3-1.5 .3 1.9 .3-1.3 .4 .6 .3-.3 .3 .7 .3-.7 .3 .5 .3-1.2 .3 .1 .3-.9 .3 .9 .4 .1 .3-.1 .3 1.3 .3-.4 .3-.7 .3 .6 .3-.2 .3-.9 .3 .8 .3-.4 .4 1.5 .3-.8 .3-.5 .3 1.1 .3-.8 .3-.8 .3 .3 .3 1.2 .3-.9 .3 1.5 .4 .2 .3-.7 .3-.5 .3-.2 .3 2.1 .3-1.1 .3-.1 .3-1.2 .3 1.9 .3-.4 .4-.7 .3 1.5 .3-.3 .3 .7 .3 .1 .3-.8 .3-.4 .3 .3 .3 .2 .3-.4 .4 .7 .3-.2 .3 .2 .3-1.3 .3 .4 .3 .1 .3-.8 .3 .8 .3-1.9 .4 1.7 .3-.6 .3 1.3 .3 .2 .3-2 .3 1.3 .3-.5 .3 .2 .3-.6 .3-1.5 .4 .4 .3 .5 .3-.8 .3 .7 .3 1.3 .3 .2 .3 .5 .3-.5 .3-.5 .3-.1 .4 .1 .3 .2 .3 0 .3 .4 .3-.4 .3-1.5 .3 1.9 .3 .1 .3 .1 .3-.8 .4 .2 .3 .7 .3 .5 .3-1.3 .3-.2 .3 0 .3-.2 .3 .4 .3-.6 .3 2.2 .4-1.5 .3 .5 .3-.5 .3 .7 .3-.3 .3-.5 .3-.1 .3 .5 .3-.2 .4-.7 .3 .6 .3-.2 .3 1.6 .3-1.1 .3 1 .3-.3 .3-.2 .3-.6 .3 0 .4 1 .3 .3 .3-.8 .3-.6 .3 1.1 .3-1.1 .3 .2 .3 1.3 .3 .3 .3-.4 .4 .5 .3-.8 .3 .1 .3-.9 .3 .8 .3-1.1 .3 0 .3-.1 .3 .5 .3 .8 .4-.1 .3 0 .3-.2 .3-.3 .3 .4 .3 .5 .3-.7 .3-.2 .3-1.3 .3 .3 .4-1.1 .3 .2 .3-.5 .3-.5 .3 .7 .3-.8 .3 .7 .3 .3 .3-.3 .4 .8 .3-.2 .3-.5 .3 1.2 .3-1.1 .3 .3 .3 .8 .3 .2 .3-.5 .3-1 .4 .3 .3-.5 .3 1.4 .3-.1 .3 .6 .3-1.4 .3 1.8 .3-.3 .3-.4 .3-.7 .4 1.2 .3 0 .3 .2 .3 .6 .3 .2 .3-1.6 .3 .6 .3 .9 .3-.8 .3-.4 .4 .3 .3 .4 .3-.8 .3-.1 .3 .2 .3-.3 .3 .8 .3 .1 .3-.7 .3-.4 .4 .5 .3 .1 .3-.8 .3 .4 .3 .4 .3-.8 .3-.3 .3-.4 .3-.1 .4 0 .3 .5 .3 .3 .3-.1 .3 0 .3 .9 .3 .2 .3-1.5 .3 1.3 .3-.3 .4-.3 .3-.6 .3-.4 .3-.1 .3 1 .3-1.3 .3-.4 .3 .7 .3-.2 .3 1.9 .4-2.9 .3 .7 .3-.2 .3 .1 .3 1 .3-.7 .3 1 .3-1.1 .3 .2 .3 1.1 .4-.4 .3 .4 .3-1 .3 .5 .3-1.4 .3 .8 .3 .5 .3 1.5 .3-.4 .3-1.4 .4 .7 .3 .3 .3-.8 .3-.1 .3 .5" stroke="#00f000" stroke-width="1.04"/>
<path d="M54 151.2l.3-1.3 .3-1.2 .3-1.9 .4-.6 .3-2.1 .3-.3 .3-2.7 .3-.6 .3-1 .3-1.6 .3-1.9 .4-.5 .3-.3 .3-1.2 .3-1 .3-2.1 .3-.8 .3-.6 .3-2 .4-.8 .3-.9 .3-.6 .3-.8 .3-1.7 .3-3.8 .3 1.5 .3-.3 .4 .5 .3-2 .3-.4 .3-1.7 .3 0 .3-1.2 .3 .7 .3-1.7 .4 1.3 .3-.2 .3-1.4 .3-.1 .3-.9 .3-1.2 .3-.8 .3 .6 .4-.8 .3-.1 .3-.6 .3-2.6 .3 .9 .3-.1 .3-1.8 .3 .7 .4-.4 .3 1.5 .3-1.4 .3 .2 .3 .9 .3 1.2 .3-.7 .3-1.1 .4 1.3 .3-.1 .3-.2 .3 .5 .3 .8 .3-.8 .3 .2 .3-.6 .4-.1 .3-1.3 .3 2 .3-.3 .3 1 .3 .4 .3-.9 .4 .2 .3-.2 .3 1.6 .3-1.7 .3 1.1 .3-.5 .3 1.3 .3-.8 .4 1.1 .3 .3 .3 .6 .3 1 .3-.4 .3 .1 .3-.4 .3-.5 .4 .7 .3 .1 .3 .5 .3 1.6 .3 .7 .3-.9 .3 .2 .3-1 .4-.8 .3 2.6 .3 .5 .3-1.4 .3 .1 .3-.6 .3 .2 .4 .4 .3 1.3 .3 .5 .3-1 .3-.3 .3 .4 .4-1.3 .3 2 .3 .2 .3-.6 .3-.4 .3 .3 .4-1.1 .3 .3 .3 .3 .3 1.3 .3-.2 .3-.1 .3-.2 .4 1.3 .3-.8 .3 1.3 .3-2.2 .3 1.3 .3 .6 .4-.2 .3 .3 .3-.7 .3 .3 .3 .7 .3 0 .4 .7 .3-1.6 .3 1.1 .3-.6 .3-.2 .3 .7 .3 .1 .4-.1 .3 .3 .3-.7 .3 1.2 .3-.4 .3 .1 .4-.1 .3-.5 .3-1 .3 .7 .3 1.2 .3-.2 .4 .4 .3 .1 .3-.7 .3-.8 .3 2.1 .3 .1 .4-.2 .3 .2 .3 .5 .3-.6 .3-.4 .3 .9 .3 .3 .3 .8 .4 0 .3-1.4 .3 .7 .3-.9 .3 .2 .3 .6 .3-.1 .3 .9 .3-.6 .3-.6 .4 1.3 .3-2 .3 .8 .3 .6 .3-1 .3 .5 .3-1 .3 1 .3-.8 .3-.6 .4 1.6 .3-1.3 .3 1.2 .3-1.2 .3-.9 .3-.7 .3 1.6 .3 .1 .3 .5 .4 0 .3-.5 .3 .7 .3-.2 .3-.6 .3 .5 .3-1.1 .3 .1 .3-.3 .3 .6 .4 .1 .3-1.7 .3 .2 .3-.2 .3 .9 .3 .4 .3-.4 .3-.2 .3 .2 .3-.3 .4 .5 .3 1.2 .3-.1 .3-.7 .3 .9 .3 .2 .3 .1 .3 1.9 .3-.6 .3 0 .4-1 .3 .2 .3-.6 .3-.5 .3 .2 .3-.5 .3 1 .3-1.1 .3 1.3 .3-.7 .4-.9 .3 .7 .3-.8 .3 1.4 .3 .2 .3 .8 .3-.9 .3-.7 .3 .4 .4 .8 .3-.2 .3 .2 .3-.3 .3-.4 .3-.4 .3 1.6 .3-.4 .3-.4 .3 .2 .4 .4 .3-.3 .3 .5 .3 .5 .3 0 .3-.4 .3-.7 .3-.1 .3 .9 .3 .3 .4-.1 .3-.4 .3-.2 .3 1.4 .3-.1 .3-.6 .3 1 .3-.2 .3-.5 .3-.1 .4 .4 .3 0 .3 .3 .3 .9 .3 0 .3 .3 .3-.4 .3-.4 .3-.2 .3 .8 .4-.4 .3 .1 .3-.1 .3 1.3 .3-.4 .3-.7 .3 1.1 .3-.7 .3 .1 .4 .8 .3-.5 .3 1.2 .3-.3 .3 .8 .3-1.2 .3-.7 .3 .4 .3 0 .3 .2 .4 .1 .3 1.7 .3-1 .3-.2 .3-.3 .3-.6 .3 1.6 .3-.1 .3-.3 .3-1 .4-.1 .3 1.5 .3-1.2 .3 .3 .3 0 .3-.7 .3 .8 .3-.5 .3-.5 .3 1.8 .4 .3 .3 .2 .3-.1 .3-1.3 .3 1.8 .3-1.5 .3 2.1 .3-1.8 .3 1.6 .3-1.8 .4 .2 .3-.5 .3-.4 .3 .8 .3-1.2 .3 .4 .3-.2 .3 .2 .3-1.8 .4 1.2 .3-.4 .3 .9 .3 .1 .3-.8 .3 .1 .3-.1 .3-.3 .3-.2 .3-1.3 .4 2.3 .3-.2 .3-1.6 .3 1.5 .3-.9 .3 .5 .3 1.2 .3-1 .3 .4 .3-.4 .4 .3 .3-1.2 .3 .9 .3 .1 .3-.6 .3-1.1 .3 .2 .3 .6 .3-.1 .3-1.5 .4 .7 .3-.7 .3 .5 .3 .3 .3-1.6 .3 .3 .3 1.5 .3-.6 .3-.3 .3 .5 .4-1.1 .3 1.1 .3-.7 .3-.9 .3 1 .3-1.1 .3 .1 .3 1.1 .3-1.9 .4 1.9 .3-1.6 .3 1 .3 .1 .3 .4 .3-.2 .3 1.3 .3-.3 .3-.8 .3 0 .4 1 .3-2 .3 1.6 .3-1.6 .3 .8 .3 1 .3-.3 .3-1.2 .3 .6 .3 .3 .4 0 .3-.5 .3-.3 .3 .5 .3-1 .3 .3 .3-.5 .3-1.8 .3 2.4 .3-.2 .4-.9 .3 .3 .3-.9 .3 .8 .3 .2 .3-.4 .3-.6 .3-.2 .3-.1 .3 1.8 .4-.4 .3 1.1 .3 .6 .3-.1 .3-.6 .3 .5 .3-.9 .3 .8 .3-.5 .4 .8 .3-.8 .3-.5 .3 .6 .3 .4 .3-.7 .3 .7 .3-.1 .3-1 .3 .2 .4 .9 .3-1.1 .3 .9 .3-.4 .3 .4 .3 .8 .3-.6 .3 .5 .3-1.2 .3 .2 .4-.5 .3 .1 .3-1.1 .3 0 .3 .7 .3-2.1 .3 1.6 .3 .8 .3-.6 .3 .4 .4 .4 .3-1.5 .3 .4 .3 1 .3 .1 .3-.6 .3 .8 .3 .7 .3-.6 .3 1.2 .4-.5 .3-1.2 .3 1.2 .3-.2 .3 .7 .3-.4 .3 .6 .3-.9 .3-1 .4 .8 .3 .5 .3 .2 .3-1.1 .3-.5 .3 .2 .3 1.6 .3-.4 .3 1.3 .3 .3 .4-.3 .3-1.1 .3-.3 .3 .7 .3-.5 .3 .1 .3 .5 .4-.5 .3 1 .3-.5 .3-.2 .3-.7 .3-.2 .3 .2 .4-.6 .3 .7 .3-.8 .3-.9 .3 .1 .3-.2 .3 .3 .3 .5 .4-.7 .3 1.7 .3-1.2 .3 .5 .3-.5 .3 1.1 .3-2.7 .4 2.2 .3 .6 .3-1.3 .3 1.3 .3-2.3 .3 .6 .3-.1 .4-.3 .3 .6 .3 .4 .3-.4 .3 .8 .3 0 .3 .4 .4 .9 .3-.2 .3-.1 .3-.4 .3 .1 .3 .1 .3 0 .4-.3 .3 0 .3-.2 .3 .2 .3 .9 .3-1 .3 .8 .4 .4 .3-.4 .3 0 .3-.1 .3 1 .3-1.7 .3 .8 .3 1 .4-1 .3 .1 .3-.3 .3 .4 .3 .3 .3-1.7 .3 1 .4-.2 .3 1 .3 .4 .3-.1 .3 .2 .3-.1 .3-.7 .4 1.5 .3-.1 .3 .8 .3-1.4" stroke="#00f000" stroke-width="1.04"/>
<path d="M54 151.2l.3-1.1 .3-1.1 .3-2.1 .4-1.3 .3-1 .3-.1 .3-.9 .3-.6 .3-1.2 .3-1.7 .4-.8 .3-.3 .3-2.5 .3-1.6 .3-1.4 .3-1.8 .3 .2 .4-.8 .3-2.1 .3-.7 .3-1.4 .3 .5 .3-1.6 .3-1 .4-1.8 .3-.1 .3-1.5 .3-1.4 .3 .4 .3-2.3 .3-.7 .4-.7 .3-1.6 .3-.5 .3-1.3 .3 .3 .3-1.5 .3 .3 .3-1.1 .3-.3 .3-1.1 .4-.2 .3-.3 .3-.3 .3-1 .3-1.8 .3-.8 .3 .7 .3-.9 .3-1.6 .3 .8 .4-1 .3 1.5 .3-1.6 .3 .8 .3 1.7 .3-.8 .3-1 .3 2.1 .4 .9 .3-.6 .3-.7 .3 .7 .3-.1 .3 .4 .3 .2 .3-1.1 .4 .5 .3-.3 .3 .1 .3 1.9 .3-1.3 .3 .6 .3 .1 .4 .5 .3 .5 .3-2.1 .3 .5 .3 1.3 .3-.4 .3-.5 .4 2 .3-.9 .3 2 .3-.3 .3-.3 .3 1.4 .4-1.2 .3 1 .3 1.2 .3-.3 .3-.5 .3-.5 .4 .3 .3 .6 .3-1.1 .3 1 .3-.4 .3 .5 .3 .3 .4 1 .3 .4 .3 .5 .3-.7 .3 0 .3-.6 .4 .9 .3-.7 .3 .7 .3-1.2 .3 1.6 .3 1.4 .3 .3 .3-1.3 .3-.1 .4 1.1 .3-.6 .3 1.7 .3 .2 .3-.1 .3 1.4 .3-1.8 .3 1 .3 0 .3-.2 .4-.5 .3 .3 .3-.6 .3-.3 .3 1.2 .3 0 .3 .5 .3-1.3 .3-.4 .3 .8 .4 .7 .3-.2 .3-.3 .3-.6 .3-.2 .3 .7 .3-2 .3 1.3 .3 .1 .4-.2 .3 .9 .3 .5 .3 .7 .3-.7 .3 .2 .3 1.3 .3-1.3 .3 1.6 .3-.1 .4 0 .3 .1 .3-.3 .3-.2 .3-.6 .3 .5 .3 .8 .3-.6 .3 .2 .3 .6 .4 .1 .3-.1 .3-1.3 .3 .7 .3 .3 .3-1.7 .3 1.5 .3 .6 .3 .4 .3-1.5 .4 1.3 .3-1.5 .3 2.4 .3-1.7 .3 1.1 .3 .3 .3-1.3 .3-.3 .3 .9 .3 .8 .4-.6 .3-1.8 .3 .8 .3-.8 .3-.3 .3 2.4 .3-2.1 .3 1.2 .3-.5 .4-.4 .3-.4 .3 1.6 .3-1 .3-.1 .3 .7 .3 1.3 .4-.7 .3-.2 .3-.4 .3 1.3 .3-.3 .3-.2 .3 0 .4 .3 .3 .3 .3-.7 .3-.9 .3 .9 .3-1.2 .3-.2 .4 1.3 .3 .1 .3-.3 .3-.5 .3 .9 .3 1.4 .3-1.1 .4 .9 .3-.1 .3-.2 .3-.1 .3 1.6 .3-1 .3-.2 .3-1.1 .4 1.6 .3 1.2 .3-.6 .3-.2 .3 .8 .3 1 .3-.9 .3 .8 .3-.2 .3 .1 .3-.2 .4 1.2 .3 0 .3 1.5 .3 0 .3-.3 .3 1.1 .3-.1 .3 .3 .3 .6 .3 .6 .4-.7 .3 1.4 .3 .8 .3-1.7 .3 1.4 .3-.4 .3 1.2 .3 .5 .3-.7 .3 .2 .4 .6 .3 .1 .3-.1 .3-.8 .3 .9 .3-.2 .3 0 .3-.2 .3-.5 .4 1.4 .3 .9 .3-.6 .3 .1 .3 .5 .3-.7 .3-.1 .3 1.4 .3-1.2 .4-.1 .3 .2 .3-.5 .3 .3 .3 1.4 .3-.4 .3-.7 .3 .9 .3-.1 .4 1 .3-.4 .3 0 .3 .1 .3 1.1 .3-1.9 .3 1.3 .3 0 .3-.8 .4-.4 .3-.2 .3 1.3 .3-.5 .3-1.1 .3 0 .3-.2 .3 2.6 .4-1.2 .3-.3 .3 .9 .3 .4 .3-2 .3 1.4 .3-.6 .3 1.6 .4-.7 .3-.4 .3 .7 .3 .5 .3-.6 .3 1.3 .3-1.3 .4 .1 .3-.9 .3 1.1 .3-.1 .3-1.6 .3 .7 .3 .4 .3-1 .4 1.6 .3-.7 .3 .4 .3-.1 .3 1.3 .3-1 .3 .3 .3 .2 .3 .8 .4-1.6 .3 1.9 .3-1.1 .3 .3 .3 .5 .3-.4 .3 1.2 .3-1.4 .3 .8 .4-.7 .3-.4 .3 .6 .3-.3 .3 .2 .3-.3 .3-1.1 .3 1 .3-.6 .3 .8 .4-.4 .3 .2 .3-1.4 .3 1.3 .3-.7 .3-.3 .3 .4 .3-1.3 .3 .7 .3 .9 .4-.5 .3-.5 .3-.1 .3 .3 .3-.4 .3-.2 .3 .8 .3 .3 .3-.7 .3 .4 .4-.7 .3 .6 .3 1.6 .3-2.1 .3 1.4 .3 1.6 .3-1 .3-.3 .3 1.3 .3-.3 .4 .3 .3-.5 .3 0 .3 .1 .3-.3 .3-.3 .3 0 .3-1.6 .3 2.1 .4-.9 .3 .6 .3-1.1 .3 1.2 .3-.8 .3 .4 .3-.1 .3 .3 .3 0 .3 .7 .4-.5 .3 0 .3-.6 .3 .1 .3 .3 .3-.9 .3 .3 .3-.8 .3-.2 .3 .3 .4 .4 .3-.6 .3 .5 .3 .8 .3 .1 .3 1 .3-.1 .3-.2 .3 .5 .3-.6 .4 .7 .3-1 .3 .8 .3-1 .3 .7 .3-.9 .3 1.3 .3-1 .3 .4 .3 .7 .4-.9 .3 .7 .3-.7 .3 0 .3-.1 .3-1.3 .3 2.1 .3-.1 .3 .2 .4 .5 .3-.5 .3-.3 .3 .3 .3-.2 .3-.3 .3 .7 .3-.6 .3 .3 .3-.7 .4-.5 .3 .8 .3-.3 .3 2.3 .3-1.7 .3 .5 .3-1.8 .3 1.7 .3-1.6 .3-.5 .4 .5 .3 .9 .3-.7 .3 1 .3-1.9 .3 .8 .3-1.7 .3 1.1 .3-.9 .3 .3 .4-.9 .3 1.1 .3-.5 .3 0 .3 0 .3 1.4 .3-1.4 .3 .8 .3-.1 .3 .5 .4 .6 .3-.7 .3-.3 .3 1.2 .3 1 .3 .1 .3-.7 .3 2.2 .3-.4 .4-1.6 .3 1.5 .3 1.3 .3-.6 .3-.1 .3-.1 .3 .3 .3-.8 .3 .3 .3 .7 .4-2 .3 1.6 .3 0 .3 .4 .3 .5 .3-2.1 .3 2.1 .3-.3 .3-1.1 .3 1 .4-1.1 .3 1.2 .3-.9 .3-1 .3 .7 .3 .5 .3-.4 .3 .6 .3-.6 .3-.6 .4 .7 .3 .2 .3 1.1 .3-1 .3-.8 .3-1.1 .3 2.3 .3-.5 .3 .7 .3-.3 .4-.7 .3-.2 .3 .2 .3 .8 .3-.1 .3-1 .3-.7 .3 .4 .3-1.1 .4 .8 .3 .5 .3-.6 .3 .6 .3 1 .3-.9 .3 1 .3-1.5 .3 .2 .3-.2 .4-.2 .3 .5 .3 .1 .3 .1 .3-.9 .3-.4 .3 0 .3 .5 .3-1.1 .3 .4 .4-.4 .3-.1 .3 .5 .3 .5 .3-.6 .3 .9 .3-.4 .3 .4 .3 .2 .3-.2 .4 .2 .3-.6 .3 .6 .3 .2 .3-.8 .3-.6 .3 .8 .3 .2 .3-.1 .3 1.3 .4-.5 .3 .2 .3-.5 .3 .9 .3-1.7" stroke="#00f000" stroke-width="1.04"/>
<path d="M54 151.2l.3-.6 .3-.6 .3-.2 .4-2 .3-.1 .3-1.1 .3-.2 .3-.7 .3-.2 .4-1.9 .3-.1 .3-.7 .3 .1 .3-.4 .3-1.2 .4 .9 .3-2.6 .3-.3 .3 .4 .3-2.2 .3-.1 .3 .5 .4-2 .3-.3 .3-1.4 .3 .5 .3-1.8 .3 .4 .4-1.3 .3-.2 .3-1.3 .3 .2 .3-.8 .3 .2 .4-1.1 .3 .1 .3-.8 .3 .3 .3-.9 .3-.5 .3 0 .4 .7 .3-.8 .3-1.3 .3-.2 .3-.2 .3-1 .3 1 .4 .1 .3-.1 .3 1 .3-1.1 .3-1 .3-.4 .3 .5 .4-2 .3-.4 .3-.4 .3-.8 .3-.3 .3 .3 .3-.4 .4 0 .3-.1 .3-.2 .3 1.2 .3-.8 .3-.9 .3 1 .3 .1 .3 .3 .3-1 .4-1.1 .3 1.1 .3-.4 .3-.4 .3-.1 .3 .5 .3-.9 .3 0 .3 .3 .3 .1 .4 0 .3 1.4 .3-1.7 .3 1 .3 .1 .3 1.8 .3-.2 .3 .8 .3 .3 .3 .1 .4 .8 .3-.9 .3-1.1 .3 1.4 .3-1.1 .3 1 .3 .3 .3-.3 .3 .6 .4 0 .3 1.3 .3 .1 .3-.6 .3 .1 .3-.6 .3 .4 .3 .2 .3 .1 .3 0 .4 0 .3-.2 .3 .1 .3 .7 .3-.2 .3 .4 .3 .9 .3-.5 .3-1 .3 1.2 .4-1.2 .3 .3 .3 .1 .3 1.5 .3-1.2 .3 .9 .3-.7 .3 .9 .3 0 .3-.5 .4 .9 .3-.6 .3 .5 .3 .5 .3-.6 .3 .9 .3 .1 .3-.2 .3 1.3 .3-.4 .4 .4 .3-.3 .3 1.1 .3-.3 .3-.2 .3 .7 .3 1.2 .3-.3 .3 .3 .4 .2 .3 .4 .3 .3 .3 .6 .3 .3 .3 .3 .3 .7 .3 .1 .3 0 .3-.7 .4 1.4 .3-.6 .3 .2 .3 .7 .3-.1 .3 1.3 .3 .1 .3-.2 .3-.8 .3-.7 .4 1.7 .3 0 .3 .3 .3-1.1 .3 1.4 .3-1.1 .3-.1 .3 .6 .3 .5 .3-.6 .4 1.1 .3-.4 .3-.7 .3 1.2 .3 .2 .3-.4 .3 .2 .3 .4 .3 .5 .3-1.2 .4 .1 .3 1.2 .3-.3 .3-.2 .3 1.4 .3-.2 .3 .6 .3-.2 .3-.6 .4 .1 .3-.5 .3 1 .3 .3 .3-1.9 .3 .8 .3 .4 .3-.4 .3 .4 .3 .1 .4-1.1 .3-.6 .3 1.9 .3 .1 .3-.7 .3 .4 .3 .1 .3 .6 .3-.7 .3-.2 .4 .3 .3 1.2 .3-.5 .3 0 .3-.3 .3 1.5 .3-1.4 .3 .7 .3-.1 .3-.2 .4-.3 .3-.4 .3 .8 .3 .6 .3-1.3 .3 0 .3 1 .3 .2 .3-.5 .3 1 .4 .2 .3-.2 .3 .2 .3 .4 .3-.8 .3 1.4 .3-1.9 .3 1.2 .3-.6 .4-.4 .3 .5 .3-.6 .3 .5 .3-1 .3-.1 .3-.2 .3 .6 .3-.4 .3-.1 .4-2 .3 .5 .3 1 .3-.5 .3-.2 .3-.2 .3 1.5 .3-1.7 .3-.1 .3-.7 .4 .4 .3 .4 .3 .4 .3-.2 .3-.5 .3 .3 .3-.7 .3 .9 .3-.5 .3 .3 .4-.4 .3 .6 .3 .2 .3-.3 .3 0 .3-.1 .3-.3 .3 .7 .3-.6 .3 .1 .4 1.2 .3-.6 .3-.2 .3 1.2 .3 .2 .3-1.5 .3 .8 .3-.2 .3-.1 .4-1.5 .3-.6 .3 1.8 .3-.8 .3 .1 .3-.6 .3 .4 .3 .5 .3-1 .3-.7 .4-.1 .3-1.2 .3 .8 .3-.8 .3 .4 .3 .3 .3-.4 .3-.9 .3 .4 .3 .8 .4-.8 .3 .1 .3-.2 .3-.7 .3-.8 .3 .3 .3 .7 .3-1.1 .3 .6 .3-.5 .4 .6 .3 .1 .3-1 .3 0 .3 .1 .3 0 .3-.8 .3-.3 .3-.7 .3 .8 .4 1.1 .3-.2 .3 .6 .3-1.3 .3 .1 .3 .2 .3-2.1 .3 .3 .3-.2 .4 .8 .3 1.4 .3-1.4 .3 .2 .3 1 .3-.4 .3 .6 .3 .7 .3-.5 .3 .2 .4-.7 .3-.1 .3 0 .3 .6 .3 1.1 .3-.4 .3-.1 .3-.6 .3 .5 .3-.4 .4 .2 .3 .9 .3-.4 .3-.7 .3 .9 .3-.8 .3 .2 .3 .8 .3-1.5 .3 1.3 .4-.1 .3-.3 .3-.3 .3-.5 .3 1 .3 1 .3-1 .3 .5 .3-.4 .3 1 .4-1.2 .3 .1 .3-1.6 .3 .7 .3-.8 .3 .4 .3 .1 .3-.6 .3-.3 .4 .8 .3 .4 .3 0 .3 .8 .3-1.4 .3 1.2 .3-.5 .3 .3 .3-1.1 .3 1.3 .4-.8 .3 .1 .3-.1 .3-.1 .3-.1 .3-.1 .3 .1 .3 .8 .3-.9 .3 .3 .4 .2 .3-.8 .3-.9 .3 .9 .3 .7 .3-.5 .3-.1 .3 .4 .3-.8 .3 .8 .4 0 .3-.5 .3-.6 .3 .5 .3-.5 .3-.2 .3 .5 .3-.1 .3-.1 .3 1 .4 .1 .3-1.1 .3 2.1 .3-.3 .3 .8 .3 0 .3 0 .3-.2 .3-.2 .4 .4 .3-.5 .3 .7 .3-.4 .3 .9 .3 .6 .3-.1 .3-.7 .3 2 .3-1.4 .4 1.3 .3-.1 .3-.1 .3-.2 .3-.2 .3 0 .3 .9 .3-.4 .3 .4 .3 .4 .4-1.2 .3 .7 .3-.1 .3 .2 .3 0 .3 .1 .3-.1 .3 0 .3 .8 .3-.7 .4 .6 .3-.9 .3 .4 .3-.2 .3 .1 .3 0 .3 0 .3-.1 .3 0 .3 .1 .4-.2 .3 .7 .3-.9 .3 .9 .3-.4 .3-.6 .3 .3 .3 .7 .3-.1 .4 .3 .3 .2 .3-.4 .3-.3 .3 .4 .3 .1 .3-.6 .3 .8 .3 .3 .3-.4 .4 .7 .3-.2 .3 0 .3-.4 .3-.7 .3 1.3 .3-.5 .4-1.4 .3-.1 .3-.3 .3-.7 .3 1.3 .3 .3 .3-.9 .4 .5 .3 0 .3-.3 .3 .4 .3-.7 .3 .4 .3 .6 .3-.8 .4 1.2 .3-.2 .3-1.2 .3 .6 .3-.6 .3 .3 .3 .4 .4-.1 .3 .1 .3-.8 .3-1.3 .3 2.7 .3-1.5 .3 .2 .4-.5 .3 0 .3-.5 .3 1.7 .3-1.3 .3 1.7 .3-1.1 .4-.8 .3 .6 .3-1 .3 1.4 .3 .8 .3-.8 .3 1.2 .4-.3 .3 .3 .3 .4 .3 .6 .3-.1 .3 .2 .3-.7 .4 .5 .3-.5 .3-.6 .3 .8 .3-.2 .3 .5 .3-.8 .3 1.5 .4-.8 .3-.7 .3 .6 .3-.3 .3-.6 .3 .9 .3-.5 .4 .3 .3 .2 .3-1.4 .3 1.2 .3 .4 .3-.6 .3-.3 .4 1.6 .3-.9 .3-.1 .3-1.1" stroke="#00f000" stroke-width="1.04"/>
<path d="M54 151.2l.3-3.9 .3-4 .3-3.8 .4-4.1 .3-4.7 .3-1 .3-6.6 .3-3.7 .3-4.4 .3-5.1 .3-2.9 .3-1.7 .3-2.1 .3-.9 .3-1.1 .4-3.5 .3-2.8 .3-1.5 .3-2.3 .3-2.5 .3-1.3 .3-2.9 .3-.3 .3-3.1 .4-3.1 .3-1.4 .3-2.6 .4-2.5 .3-1.2 .3-4.3 .3-.9 .3-1.9 .3-4.1 .3-1.1 .3-2.2 .3-2.7 .3-2.6 .3-1.2 .3-1.6 .3-.2 .3-.1 .3-2.7 .4 3.1 .3-.4 .3 1.8 .3-1.4 .3 .7 .3-.9 .3-2.8 .3-1.6 .4 1.8 .3-2.9 .3-.4 .3 2.8 .3 .3 .3 2.3 .3-1 .3-2.5 .3 1.7 .3-2.3 .3-2.1 .3-.3 .3 .2 .4 .6 .3 3 .3 1.3 .3 3.2 .3-2.9 .3 .2 .3-3.4 .3-1.6 .3-.7 .3-2.4 .3-1.3 .4 2.2 .3 3.2 .3 .4 .3 2.8 .4-1.1 .3-2.2 .3-2.8 .3-1.5 .4 2.5 .3-.1 .3 1.3 .3 3 .4-1.8 .3-1.5 .3-3.2 .3-.5 .4 1.6 .3-.1 .3 .6 .3 1.9 .4-.2 .3-.9 .3-3 .3-.3 .3 .2 .3-.7 .2 .5 .3 16.2 .3-.4 .3-.7 .4 1.3 .3-.2 .3 1.9 .2 4.4 .3-.9 .3-1.3 .3-1.6 .4 .9 .3-1.2 .3 1 .3 1.5 .4 3.9 .3 1.9 .3 .2 .3 .1 .4-.8 .3-2.2 .3 5.2 .4 1 .3 1.6 .4 2.7 .3 2.4 .4 3.1 .3 2.8 .3 2.7 .3 .7 .4 2.4 .3 1.7 .3 3.7 .3-.5 .4 4 .3-.3 .3 1.7 .3-1 .3 1.4 .3 .9 .3-.2 .4-1 .3-.1 .3 1.9 .3 0 .3 2 .3 1.2 .3-1.1 .4-.5 .3 .7 .3-.8 .3 1.4 .3-.5 .3-.5 .3 .4 .3-2.2 .3 1.9 .3-1.6 .3 .3 .3 1.2 .3-1.5 .3 .9 .3-.4 .3-.9 .3-1.4 .3 .2 .3-.1 .3 .8 .3-.2 .3 3.1 .2 .7 .3 2.5 .3-.1 .3 .2 .3 .1 .3 1.9 .3 .3 .4-1.5 .3 .6 .3-1.3 .3-.8 .3 .3 .3 2.5 .3 0 .3 .4 .4 2.2 .3-3.3 .3 2 .3 .5 .3 .4 .3-1.1 .3 1.8 .3 .1 .4-2.1 .3 .7 .3-.8 .3 0 .3 2.8 .3-3.7 .3 1.8 .3 1.4 .4-.1 .3 0 .3-.8 .3-.4 .3 .1 .3 .9 .3-2.7 .3 .4 .4-.3 .3-.1 .3 2 .3-1.6 .3 2.6 .3-1.6 .3 1.7 .3-.7 .4-1.3 .3-.3 .3-.8 .3 2.2 .3-.9 .3-1.3 .3 1 .3 1.2 .3-.9 .4-.9 .3 .3 .3-1.8 .3 1.6 .3 .5 .3 1.1 .3 1.1 .3-1.9 .4-1.5 .3 1.8 .3 .2 .3 .4 .3-.8 .3 .3 .3-1.7 .3 .4 .3 .8 .4 .6 .3 0 .3-1.4 .3 .2 .3 .5 .3-.3 .3 1.1 .3-4.2 .3 1.1 .4-1 .3-.3 .3 .8 .3-1.3 .3-.4 .3-1.5 .4 1.6 .3-1.8 .3 .8 .3 .7 .3-1.2 .3-.9 .4-.1 .3 .5 .3-.8 .3 .6 .3-.7 .3-.3 .3-.5 .3-1.4 .3 1.4 .3 1.5 .3-1.4 .3-.2 .3 2 .3-3.3 .3 3.3 .3-2.8 .3-.1 .3 .9 .3-.7 .3-2.8 .3-1.6 .3 1.4 .3-.5 .3-2.5 .3 .9 .4-.8 .3-.3 .4-1.6 .3-1.8 .3-.1 .3 0 .3-.4 .3 1.1 .3-1.6 .3 2.3 .3 1.1 .3 1 .3-2.4 .3 .9 .3 .7 .3-.5 .3 .6 .3-1.8 .3 1.5 .3 .2 .4-.5 .3 1.8 .3-2.3 .3 .9 .3 .1 .3 .1 .3-.1 .3-1.1 .3-.6 .3 .9 .3 .5 .3-.7 .3-.2 .4 .7 .3 1.3 .3 .4 .3 .5 .3-.9 .3-.5 .3-.6 .3 .1 .3 .1 .3-.9 .3 .1 .3 1.4 .3 1.6 .3-.6 .3-.9 .3 .2 .3 .8 .3 2.6 .4-1.2 .3 .2 .3 1.4 .3 .2 .3 1.1 .3 1.9 .3 3.2 .3-1 .4 .1 .3 .4 .3 .2 .3 .5 .3 .2 .4-.1 .3-.8 .3 .9 .3-.9 .4 2.1 .3 .5 .3-2.6 .3 0 .4-.8 .3 .7 .3-.8 .3-.7 .4 .2 .3-.2 .3-.6 .3 1 .3-.6 .4-.9 .3-.5 .3-1.3 .3 1.5 .3-.1 .4-.5 .3-1 .3 .6 .3 1 .3-2.9 .3 2.9 .3-1.6 .3-.4 .3-.7 .3-.7 .3 4 .4-1.6 .3-.8 .3 .1 .3-.8 .3 1 .3-1.5 .3-.4 .3-.5 .3-.8 .3 2.1 .3-.4 .4-.1 .3 0 .3 .7 .3-1.2 .3-1.5 .3-.4 .3-.6 .3 1.6 .3 .5 .4-.3 .3 .4 .3-.5 .3-1.2 .3-.3 .3 1.5 .3-1.8 .4-1 .3-.4 .3 .9 .3-.4 .3 1.9 .3 .7 .4-.3 .3 .5 .3-2.8 .3 0 .3 1.2 .3 .7 .3-.5 .3 .3 .3-.5 .4 .5 .3-.1 .3 .8 .3-.8 .3 1.5 .3-2.6 .3 1.9 .3-2.7 .3 2.8 .4 .1 .3-1.6 .3 1.8 .3-1.2 .3-.1 .3 .3 .3 1.1 .3-1 .3 0 .3 .4 .3-.4 .4 1 .3 0 .3-.9 .3 1.8 .3-1.5 .3-1.3 .3 2 .3 .4 .3-1.2 .3 0 .3 .5 .3 1.1 .3 .3 .4-1 .3-.1 .3-.1 .3-1 .3 .1 .3 1.1 .3-.9 .3 .1 .3-1.3 .4 1 .3-.6 .3-2.3 .3 .4 .3 0 .3 1.2 .3 1.1 .3-.3 .4 1.5 .3 .7 .3-1.2 .3-.4 .3-2 .3-.7 .3-.3 .3 .3 .3 .4 .3 .2 .4-.7 .3-2.1 .3-.4 .3-1.7 .3 .2 .3 1.3 .3 .3 .3-1.9 .3 0 .3 1.2 .3-1 .3 1.2 .3 .6 .3-.6 .3-1.3 .3 1.5 .3-1.3 .4 .4 .3 .8 .3-.6 .3-.1 .3-.9 .3 .2 .3 .2 .3 1.7 .3-.6 .3-1 .3-.2 .3-1.1 .3-.5 .3-1.7 .3 1.4 .4 1.4 .3-2.8 .3 2.3 .3-1.5 .3 .1 .3 0 .3-.3 .3 1.3 .3-1.6 .3-.8 .3-.6 .4 .5 .3 1.6 .3-.9 .3-1 .3 1.6 .3-1.3 .3 .6 .3 1.7 .3 .5 .3 .3 .4-1 .3 .3 .3 .7 .3 .6 .3 1.1 .3-.9 .3 1.7 .3-.9 .3-1.2 .4-.8 .3 1.9 .3-2.1 .3 1.3 .3-.3 .3 .5 .3 .5 .3-1.4 .4-.8 .3-.8 .3 .1 .3-.8 .3 3.1 .3-1.5 .3 1.7 .3 .4 .4-1 .3-.1 .3 .1 .3-.2 .3-1.7 .3 .8 .3 .7 .3 .4 .4 1.4 .3 .1 .3-2.6 .3 .7 .3 .9 .3-.2 .3 .1 .3-.5 .4 .5 .3 .1 .3-1.2 .3-.9" stroke="#0000ff" stroke-width="1.04"/>
<path d="M54 151.2l.3-1.4 .3-1.4 .3-1.2 .4-.8 .3-2.6 .3-.5 .3-2.4 .3-1.2 .3-2.2 .3-1.5 .3-1.2 .4-1 .3-1.5 .3-.2 .3-.3 .3-3.4 .3-1.3 .3-2.4 .3-3.2 .4-.2 .3-.2 .3-.5 .3-4.1 .3-1.1 .3-1.7 .3-2 .3-2.5 .3 .5 .3 1.3 .3-1.8 .3-1.2 .3 .4 .3-1.2 .3 .6 .3-2.3 .3 .7 .3-1.4 .3-.9 .3-1.9 .4 .5 .3-1.1 .3-1.6 .3-1.2 .3-1.1 .4-2.1 .3 .7 .3 .6 .3-3.6 .3-1 .3-3.2 .3-1.5 .3-.4 .3-2.5 .3-1.2 .3-2 .3-2.7 .3-.2 .3-1.8 .3-2.6 .4-.6 .3-.9 .3-.2 .3 .7 .3-1.2 .4-1.7 .3-.4 .3 .4 .3-1.9 .3-.9 .3-1 .3 .9 .3-1 .3 .4 .3 .7 .3-.8 .3-.4 .3-2.2 .3 1.4 .4-.1 .3 .2 .2-1.2 .3-1.4 .3 .9 .3-1.4 .3-.7 .3-3.1 .3 .8 .3-1.2 .3 2.1 .3 0 .3 1.5 .4 1.6 .3 2.3 .3-.8 .4 2 .3 1.9 .3 .3 .4 2.8 .3 2.5 .3 2 .3 1.1 .3-.9 .3 1.5 .3 2.3 .3 2.4 .3-.1 .3-.1 .3 1 .3-.2 .3 2.7 .4-2.5 .3 .1 .3 .6 .3 1.2 .3 .7 .3 1.1 .3-1.1 .4 .4 .3 1.2 .3 .4 .3 .6 .3 1.7 .3-.6 .4 1.4 .3-1.1 .3-1.2 .3 .8 .3 1.9 .3-1.1 .4 .8 .3 1.4 .3 0 .3-.9 .4 1.9 .3 .9 .3-1.4 .3 1.9 .3 1.7 .4-.6 .3-1.7 .3 1.5 .3 1.5 .3-2.5 .3 2.9 .3-1.2 .3 1.3 .3 .6 .3-.4 .3-1.6 .4 1.7 .3 1.6 .3-.2 .3 .5 .3-1.6 .3 2.8 .3 .8 .4 .6 .3 .7 .3-.9 .3 1.2 .4-1.7 .3-.1 .3-1 .3 1.8 .4-.3 .3-.2 .3 .8 .3-1 .4 1.3 .3-.1 .3-1.6 .3 .2 .3 1.2 .4 .3 .3-.1 .3 .4 .3 .4 .3-.8 .4 1 .3-.6 .3-.2 .3-1.1 .3-1 .4 1.4 .3 1 .3-.5 .3-.7 .3-.1 .3 .1 .4 .9 .3 .4 .3 0 .3 .3 .3-1.5 .3 .7 .3 1.2 .3-.1 .3 .8 .3-.3 .3 .8 .3 0 .3-.8 .3 .1 .4 .3 .3-.4 .3 .5 .3 0 .3-1.1 .3 2.2 .3-2.4 .3 .3 .3 1.5 .3-.5 .3 .5 .3 .8 .3 0 .3 1.1 .4-.2 .3-.6 .3-.1 .3-1.3 .3 .6 .3 .7 .3-1.5 .3 .9 .3 1.5 .4-2.5 .3 2.1 .3-1.7 .3 2.5 .3-2.1 .3 1.8 .3-.3 .3-.6 .4 .9 .3-1.1 .3-.7 .3-.5 .3-1.9 .3 .5 .3-.8 .3 .2 .3-.5 .4 .7 .3-.6 .3 1.3 .3-1.3 .3 1.1 .3 1.5 .3-1.7 .3 .4 .3 0 .4 .2 .3-1.6 .3 1.4 .3-1.4 .3 1 .4-1.1 .3 2.5 .3-1.3 .3 0 .3-.4 .4 .7 .3 .1 .3-.2 .3-.9 .3-.6 .4 1.5 .3-1.9 .3 2.7 .3-1.1 .3 1.4 .3-.8 .4 1.4 .3-.7 .3-.6 .3 .6 .3-.7 .4-.9 .3-.8 .3 .4 .3-.1 .3-1.1 .4 .3 .3-.8 .3 .1 .3 .1 .3-.2 .3-.8 .4 .8 .3-.3 .3-.3 .3-.4 .3 .8 .3-1.3 .4 .1 .3-1 .3-.7 .3-.8 .3-.5 .3 .8 .3 0 .3-2.4 .4-.4 .3 .3 .3-.1 .3 .7 .3 .7 .3-.2 .3-1.5 .4 0 .3-.3 .3-3.2 .3 1.9 .3-.4 .3-1.1 .4 .5 .3 .4 .3-.6 .3-1.4 .3 0 .3 .5 .3 0 .4-.4 .3 .5 .3 0 .3 .9 .3-1.9 .3-1.6 .3-1.5 .3 .2 .3-2.4 .3-1.7 .3 .5 .3 .4 .3-1.9 .3 1.4 .3 .4 .4-1.5 .3-.6 .3-.9 .3-.6 .3-.4 .3 .6 .3-1.4 .3-2.1 .4 .4 .3-1.7 .3-.6 .3-.8 .3 1.7 .3-.6 .3-.3 .3 .1 .3-.5 .4-1.5 .3 .4 .3-.9 .3 .5 .3-1.5 .3 1.1 .3-.8 .3-.3 .4 .9 .3-1.9 .3-.5 .3 .9 .3-1.5 .4-.1 .3-.1 .3 .7 .3-1.5 .4-.2 .3 0 .3-2.7 .3-.2 .3 .6 .3 .9 .4-1.7 .3-.1 .3 0 .3-1.6 .3 1.3 .3-1.1 .3-1 .3-.5 .3-.2 .3 .1 .4-2.2 .3 0 .3 .4 .3 1.8 .3-.4 .3-1.2 .3 .8 .3-1.7 .4-.7 .3-1.5 .3-1.2 .3 1.1 .3 0 .3 .3 .4-2.5 .3 .4 .3-1.9 .3-.6 .3-.9 .3 21.4 .3-1.1 .3 .7 .3 1.8 .4-1.7 .3 3.1 .3-1.2 .3 1.7 .3-1.8 .4 1.5 .3-.6 .3 1.1 .3-3.2 .3 1.6 .4 1.4 .3 3 .3 .8 .3 .4 .3 .3 .3-2.5 .3 1.5 .3 1.1 .3 2.4 .3-.5 .3 1.5 .3 .2 .3-.5 .3 .5 .4 .4 .3-.3 .3 .6 .3 .9 .3 0 .4 1.5 .3 .6 .3 .9 .3 0 .3 2 .4 2.6 .3-1.4 .3 0 .3 .3 .3-1.3 .3 1.5 .3 .8 .3 .8 .3-.7 .3-1.3 .3 2.9 .3-.2 .3 .9 .4-2.9 .3 3.5 .3-2.5 .3 2.5 .3 .3 .3-1.5 .3 2.8 .4 .3 .3 1.9 .3 2.1 .3-.9 .4 2.8 .3-1.6 .3 1.7 .3-1.7 .4 .4 .3-.1 .3-.7 .3 1 .4-.6 .3 .8 .3 .2 .3 0 .4 1.8 .3-1.2 .3 .7 .3-.5 .3 .5 .4-1.6 .3-1.4 .3 .5 .3 1.2 .4-.9 .3 .7 .3-.5 .3 2 .3-.9 .4 .1 .3 .3 .3-1.1 .3 .8 .3 .3 .3 .2 .3 .9 .3-.9 .3 0 .3 1.4 .3-.2 .3-.5 .3-.2 .4 .5 .3-.6 .3-.6 .3 .6 .3 .3 .3 2 .3-1.7 .3-.6 .3 2.3 .3-.9 .3-.4 .3 1.1 .3-.3 .3-.5 .4-2 .3 1.6 .3 1.8 .3-1.9 .3-1.5 .3 .3 .3 1 .4-1 .3-1.5 .3 1.2 .3 .4 .3 .7 .3-.7 .4-.4 .3 .2 .3 1.2 .3 .4 .3-.4 .4-.7 .3 .1 .3 .3 .3-1 .3-2 .3-.2 .4 1.2 .3 .2 .3 .8 .3 .5 .3 1.5 .3-.6 .3 .2 .3 .3 .4-.9 .3 .4 .3 1.1 .3-1.3 .3 .5 .3-1.8 .3 .5 .3 .7 .4 .7 .3 1 .3 1.3 .3-.4 .3-.6 .3-1.1 .3 .5 .3 .3 .4 1.4 .3 0 .3-1.9 .3 .5 .3 1 .3-1.5 .3 .1 .3 .2 .4 .3 .3-.2 .3 .3 .3 .4" stroke="#0000ff" stroke-width="1.04"/>
<path d="M54 151.2l.3-2.3 .3-2.3 .3-2.7 .3-1.6 .3-2.7 .3-2.1 .3-1.5 .4-2.6 .3-3.9 .3-1.8 .3-1.1 .3-3.7 .3-2.6 .3-2.9 .3-3.3 .3-.5 .3-2.8 .3-1.4 .3 .1 .3-.5 .4-1.1 .3-3 .3-2.8 .3 0 .3-1.3 .3-.1 .3-2.1 .3-.2 .3-2.1 .3-.9 .4-.3 .3-1.6 .3-1.2 .3-3.3 .3 .7 .3-2 .3-2 .3 .8 .3-1.1 .3 1.9 .4 .2 .3-.8 .3-1 .3-1.9 .3-.2 .3-.8 .3-.6 .3 .7 .3-1.7 .3 1 .4-1.5 .3 1.6 .3-.9 .3 .9 .3-1.1 .3-.9 .3-.2 .3 .7 .3 .2 .3-1.2 .4 .3 .3-2.1 .3 .6 .3-.1 .3-.4 .3-1.8 .3 .3 .3 .2 .3-.4 .3-1.1 .3 1.4 .3 .2 .3 .4 .3 0 .3 .8 .4 .9 .2 .3 .3 1.7 .3 .2 .3 1.4 .3 .8 .3 1.8 .3-1.4 .3-1 .4 1.8 .3 .5 .3-.9 .3 1.8 .3 .8 .3-1.1 .3 .4 .3-.8 .3 1 .3 .2 .3-1.5 .3 .7 .3-1.5 .3 1.3 .3-.3 .3 .8 .3 .1 .3 .1 .3 .2 .3 .7 .3-.9 .3 3.1 .3-1.3 .3-.2 .3 .3 .3-.3 .3 1.1 .4 .5 .3-.6 .3 .3 .3 .5 .3 .7 .3 .7 .3-.4 .4 2.4 .3-.7 .3-1.1 .3-1.1 .3 1.8 .4 .9 .3-.5 .3-.5 .3 1.8 .3-.7 .4 3.1 .3-.7 .3 .9 .3-.2 .3-.7 .3-.5 .3 2.5 .3-1.3 .3 .2 .3 .6 .3 .9 .3 .6 .3 1 .3-.1 .4 1.9 .3-.7 .3 0 .3 .2 .3 1 .3-.4 .4 2.4 .3-.9 .3 1 .3 .9 .3-.3 .3-1.3 .3 2.2 .3 1.4 .3-1.5 .3-.9 .3 .8 .4-1.1 .3 .2 .3 1 .3 0 .3-1.4 .3 1.7 .3-2.1 .3 .3 .3 .7 .3 0 .3 1 .3-.5 .4 1.4 .3 .6 .3-1.2 .3 1.1 .3-.9 .3 .8 .3 .9 .3-.7 .4-.4 .3 .1 .3 1.5 .3-1.3 .3 .7 .3 .4 .3 .3 .3 .1 .4-1 .3 .2 .3-.1 .3-.2 .3-1.5 .3 1.4 .3 .3 .3 .2 .4 .8 .3 .8 .3-1 .3-.6 .3 1.2 .3 .6 .4-.4 .3-.1 .3-.3 .3-.3 .3 .5 .3-.6 .4-1.5 .3 .4 .3 .7 .3 .4 .3-1.3 .3 .5 .3 .6 .4-1.1 .3 1 .3 .3 .3 .6 .3 .2 .3-.4 .4 .1 .3 .7 .3 .6 .3 1.1 .3-.2 .3-1.3 .4 0 .3 .1 .3 1 .3 .8 .3 .6 .3-.1 .3 0 .3 .4 .4-.3 .3 0 .3 .2 .3-.4 .3-.2 .3-1.4 .3 2.5 .3 0 .4 1.3 .3-.3 .3-.4 .3-.6 .3 1.3 .3-.2 .3-.7 .3 .1 .4-1 .3-1.2 .3 1.6 .3-.1 .3 .1 .3 .9 .3 1 .3 .3 .4 .7 .3-.5 .3 1 .3-.5 .3-.8 .3 .8 .3-.4 .3 1.1 .4 1 .3 .7 .3 1.5 .3-.4 .3 .1 .3-1 .3-.6 .4 1.1 .3-1.8 .3-.6 .3 1.8 .3 .9 .3 .9 .3-.2 .3-1 .4 1.4 .3-.5 .3 2.4 .3-2.7 .3 .5 .3 .8 .3 .6 .3 .3 .4-1 .3 1.8 .3 .5 .3-2.3 .3 1.7 .3 .1 .3 .5 .3 .1 .4 0 .3-1.7 .3 1.9 .3 1 .3-.7 .3-1.2 .3 2.3 .4-.6 .3-1 .3 .8 .3 .2 .3 .4 .3-.5 .3-.8 .4-.3 .3 1.1 .3 .4 .3-1.6 .3-.2 .3 .1 .4 .5 .3-.2 .3-.5 .3-.4 .3 1 .3-.5 .4 1.5 .3 .4 .3-1.5 .3 .8 .3 .1 .3-.2 .3-2.5 .4 .4 .3 .2 .3-.3 .3 .8 .3 .3 .3 .2 .3 .9 .4-.9 .3 .5 .3-.7 .3 0 .3 0 .3-.1 .3-.8 .3 1.6 .3-.4 .4 .4 .3 .9 .3-.7 .3-.2 .3-.2 .3-.4 .3 1 .3-2.5 .3 1.1 .3-1.5 .4 1.1 .3 .4 .3-.9 .3 1 .3-1.5 .3 1 .3 1.1 .3-1.4 .3 .7 .3 .8 .4-1.9 .3 .1 .3 .6 .3 .7 .3-.3 .3 .1 .3-1.1 .3 1.3 .3 .4 .3-.7 .4 1.1 .3-.1 .3-.8 .3 1.7 .3-1.8 .3-1.1 .3 1.3 .3-.8 .3 .8 .3 1.6 .4 .9 .3 .4 .3-1 .3 2.4 .3-1.3 .3 .8 .3 .3 .3-.2 .3 1.1 .4-.4 .3 1 .3 1.4 .3-1 .3-.6 .3 .7 .3 0 .3 1.7 .3-1.7 .3 1.1 .4-.7 .3-.5 .3-.3 .3-1 .3 1.4 .3-.1 .3-.4 .3 1.1 .3-1.4 .3 .4 .4-.9 .3-.2 .3-1.2 .3-.3 .3 .4 .3 0 .3 2.2 .3-.6 .3-.6 .3 1.3 .4 .2 .3 .5 .3-.4 .3 .9 .3-.9 .3 .6 .3-.3 .3 0 .3 .7 .3-.9 .4-.7 .3 .2 .3 1.6 .3-.7 .3 1.5 .3-.8 .3-.9 .3 .6 .3-.1 .4-.2 .3-.8 .3 2 .3-.8 .3-1.4 .3 1.7 .3-.8 .3-.7 .3 .5 .3 1.1 .4-.1 .3 .6 .3-.7 .3 0 .3 0 .3 1.1 .3 .6 .3-1.8 .3-.3 .3-.1 .4 .8 .3-.8 .3 .3 .3-.3 .3 2.9 .3-1.6 .3-1.3 .3-1 .3 .9 .3 .1 .4-.8 .3 .5 .3-1.1 .3 1 .3-1.1 .3-.7 .3-.6 .3 1.7 .3-2 .3 2.8 .4-1.1 .3-1 .3 .1 .3-1.1 .3 .7 .3 .1 .3-1.1 .3 1.3 .3 1.7 .4-2.2 .3 .2 .3 .2 .3 .9 .3-.5 .3 .5 .3-.7 .3 .5 .3 .7 .3-.5 .4-.7 .3-.1 .3 .4 .3-.6 .3 1.2 .3-.4 .3 .8 .3 .5 .3-.4 .3-.5 .4-.8 .3-.4 .3 .3 .3 .1 .3-.7 .3 1.5 .3-1 .3 1.2 .3-.7 .3 1.1 .4 1.1 .3-1.1 .3 .9 .3 .4 .3 0 .3 .3 .3-2 .3 .4 .3 .5 .3 .6 .4-.1 .3 .9 .3-.3 .3-1.6 .3 .6 .3-.3 .3 .7 .3-.7 .3-.5 .4-.6 .3 .1 .3 1 .3 .1 .3-.2 .3 .2 .3 .1 .3 1.8 .3 0 .3-1.1 .4-1.5 .3 1.5 .3-.9 .3 1.2 .3-.3 .3 .2 .3 .8 .3-.2 .3-.1 .3 .7 .4-1.7 .3-.6 .3 .6 .3-.1 .3-.5 .3 1.6 .3-2.6 .3 .8 .3-1.4 .3-1.3 .4 1 .3 .4 .3-1 .3 .2 .3-.4 .3 .1 .3-.1 .3 .3 .3 .6 .3-.3 .4-.5 .3-.3 .3-1.5 .3 1.4 .3 .3" stroke="#0000ff" stroke-width="1.04"/>
<path d="M54 151.2l.3-3.9 .3-4 .3-2.9 .4-4.2 .3-5.5 .3-4.4 .3-4 .3-4.2 .3-2.5 .3-4.7 .3-2.1 .3 .3 .3-2.2 .3-2 .3-1.8 .4-.1 .3-3.2 .3-.8 .3-1.6 .3-.3 .3-3.4 .3 .3 .3-.7 .3 .3 .3-.1 .3-.1 .3 1.2 .4-1.9 .3 1 .3-.1 .3-.2 .3 1.9 .3-.3 .3 .8 .3-.3 .4 1.4 .3 1 .3 .1 .3-.3 .3-.4 .3 2.2 .3 .3 .3-.8 .4 1.8 .3 .8 .3-.8 .3-.5 .3 .5 .3 1.8 .3-.1 .3 .9 .4 1.9 .3 .3 .3 2 .3 .6 .3-.5 .3 1.1 .3 .5 .3-.1 .4 .3 .3 0 .3 .9 .3-.4 .3 .5 .3 1.6 .3-.1 .3-.7 .4 1 .3-.3 .3 .6 .3 .6 .3-1.4 .3 .2 .4 .8 .3 1 .3 .9 .3 0 .3 .4 .3-.2 .4 .1 .3 .4 .3-.6 .3 .4 .3 1.1 .3 .6 .3-.2 .4 0 .3 2 .3-.2 .3 1.4 .3 .1 .3-.1 .4 .1 .3 1.8 .3-.1 .3 0 .3 .9 .3 .3 .4 .8 .3-.8 .3 .9 .3-1.1 .3 2.1 .3-2.3 .3 .9 .3-.9 .4 1 .3 .1 .3-.5 .3 .5 .3 1.1 .3-.1 .3 .6 .3-.1 .4 .4 .3-.2 .3-1 .3-.6 .3-.4 .3 .8 .3 1.6 .3-.8 .4 .7 .3-.5 .3-.6 .3 .8 .3 2.1 .3 .2 .3-2.2 .3 .9 .3 1.1 .3-.7 .3-.4 .4 .6 .3 .6 .3-.2 .3 1.7 .3-.7 .3-.9 .3 .2 .3 .5 .3 .6 .3-.1 .3-.7 .3-.1 .4 .7 .3 .3 .3 .5 .3 0 .3-.3 .3 0 .3 .9 .4 .1 .3-.6 .3 1.6 .3 1 .3-.5 .3-.7 .4 1.1 .3-.1 .3 .3 .3-.4 .3 .6 .3 0 .4-.2 .3 1.9 .3-.8 .3 .7 .3-.4 .3-.2 .4 1.6 .3-1 .3 1.4 .3-.7 .3 .8 .3-1.2 .3-.8 .4 .8 .3-.5 .3-.4 .3 .5 .3 .6 .3-.3 .3-.5 .3-.1 .4 1.2 .3 .9 .3 .2 .3-.2 .3-.5 .3 1 .3-.4 .3-.2 .4-.1 .3-.5 .3-.9 .3 .6 .3 1 .3 .3 .3-.7 .3-.2 .4-.2 .3 1.3 .3-.2 .3 .8 .3-1.4 .3-.6 .3 1.4 .4-1.5 .3 .3 .3 .2 .3 .8 .3 .4 .3-.8 .3-.6 .3 .1 .4 0 .3-.4 .3-1 .3 1 .3-.8 .3-.4 .3-.2 .3 0 .4-.6 .3-1.7 .3 1.7 .3 .2 .3 1.2 .3 .4 .3 .5 .3-1.5 .4 1.1 .3 1.3 .3-2 .3-.6 .3 .2 .3-1.2 .3 1.9 .3 .3 .4-.5 .3-1.1 .3 .5 .3 .7 .3-.2 .3-.3 .3 .3 .3 .5 .4-.9 .3-.1 .3-.3 .3 1.2 .3-1.2 .3 1.1 .3-.1 .3 .6 .3-1.2 .4-.7 .3-.7 .3 1.9 .3-1.6 .3 0 .3 .5 .3 .4 .3 .9 .3-1.3 .3-.5 .4-1.2 .3 2.7 .3 .5 .3-.1 .3-1.2 .3-.3 .3 1.4 .3-.2 .3-.6 .3 .3 .4 .9 .3-.1 .3 1.7 .3-1.6 .3 .4 .3 1.3 .3-.5 .3 0 .3-.1 .3-.8 .4 .8 .3-.5 .3-.7 .3-.5 .3 1.1 .3-.5 .3-1.1 .3-1.1 .3-.3 .4-.9 .3 .5 .3-.1 .3-1.1 .3 .2 .3 1.9 .3-.8 .3 .2 .3-.4 .3-.2 .4 1.1 .3-.8 .3 .8 .3-.2 .3 .9 .3-.2 .3-.4 .3 1.2 .3 .2 .3 .4 .4-.3 .3 .8 .3-.5 .3 0 .3-.9 .3-.2 .3-.2 .3 .5 .3 .4 .3-1.3 .4 .4 .3-.2 .3 .1 .3-.6 .3-.5 .3-.4 .3 .7 .3 .6 .3-.4 .3-.3 .4 .5 .3-1.3 .3 .5 .3 2.2 .3-.4 .3 1.9 .3-.5 .3-1.7 .3-.4 .4-1 .3 .9 .3 0 .3-.6 .3 .3 .3 .4 .3 0 .3 .2 .3 1.3 .3-.3 .4 .1 .3 .5 .3-1.4 .3-.9 .3 .5 .3 0 .3 2 .3-.8 .3-.1 .3-.1 .4 1.6 .3-.4 .3-.5 .3-.4 .3 .3 .3 .4 .3-.8 .3 .8 .3-.2 .3-1.7 .4 1.2 .3-.3 .3-.1 .3 1.8 .3 .7 .3-.3 .3 .2 .3-.2 .3 .2 .3 .3 .4 .9 .3-.1 .3-1.9 .3 2.6 .3-1.8 .3 .8 .3-.6 .3-.8 .3 1.5 .4-.6 .3-.1 .3 .2 .3-.4 .3 .1 .3-2.5 .3 .2 .3 .7 .3-.9 .3 .2 .4 .9 .3 0 .3 .5 .3-1.4 .3 .9 .3-1.1 .3-.3 .3 .1 .3 .7 .3-.4 .4-.7 .3 .4 .3 .8 .3-.3 .3 .2 .3 .1 .3-.5 .3 .7 .3-.2 .3-1 .4-.4 .3 1.1 .3 .8 .3 1.3 .3-1.9 .3 .6 .3-.8 .3 1.1 .3-.4 .3-.4 .4-.3 .3-.4 .3-.1 .3 .4 .3 .5 .3 1.1 .3 .7 .3-.2 .3-1.8 .4 .9 .3 .9 .3-1.6 .3 1.7 .3-1.1 .3-.7 .3 1.4 .3 0 .3-1.8 .3 .6 .4 0 .3-1 .3-.7 .3-.2 .3-.3 .3 1.2 .3 .7 .3-1.8 .3 .6 .3 .3 .4-.4 .3 1.8 .3-1.4 .3 .4 .3-.3 .3 0 .3 1.4 .3 .6 .3-1.7 .3 1.4 .4-1.3 .3 .7 .3 0 .3-2.5 .3 .8 .3 0 .3-.1 .3 1.3 .3-.3 .3-1.2 .4 2.3 .3-.5 .3-.3 .3-.3 .3 1.4 .3-.7 .3 .5 .3-.9 .3 1.1 .4-.7 .3 1.6 .3-.9 .3 .8 .3 .3 .3-1 .3 .3 .3 1 .3 .3 .3-1.5 .4 .3 .3-.9 .3-.4 .3-1 .3 .1 .3-.4 .3 .3 .3-.8 .3 .4 .3 .4 .4 0 .3 .1 .3-.5 .3 1.1 .3-.1 .3-.3 .3-.8 .3 .5 .3 1.2 .3-.3 .4-.1 .3 .1 .3-.2 .3 .7 .3-.5 .3-1.2 .3 0 .3-.4 .3 .7 .3 .3 .4 0 .3 1.1 .3 0 .3 .2 .3-.6 .3-.2 .3-.3 .3 .8 .3 .2 .4-.8 .3-.6 .3-1.1 .3-.6 .3 2.5 .3-1.2 .3 1.1 .3-.3 .3-1.3 .3-.3 .4-1.2 .3-.2 .3 2.3 .3-1.7 .3 .1 .3 1.5 .3-1.1 .3 .2 .3-.7 .3 .3 .4 1.4 .3-.6 .3-1.3 .3 1 .3 .9 .3-1.8 .3-.1 .3 .9 .3-.6 .3-.4 .4 1.8 .3 .3 .3-.6 .3-.3 .3 .7 .3-.4 .3 .2 .3 .4 .3-.3 .3-.7 .4 1.9 .3-.5 .3-.6 .3-.3 .3 1.8" stroke="#0000ff" stroke-width="1.04"/>
<path d="M54 151.2l.3-3.9 .4-4 .3-4.3 .3-5.2 .3-1.5 .4-4.1 .3-4.2 .3-5.1 .3-.1 .4-2.2 .3-1.6 .3-2.5 .3-.7 .4-.9 .3-.4 .3-.8 .3 .9 .3-.7 .3 1.6 .3-2 .3 1.2 .4 .4 .3 .9 .3-.7 .3 .3 .3 .2 .3 .6 .3-.6 .3 2.2 .3-.6 .3 1 .3-.3 .3 0 .3 .6 .3 .7 .4-.5 .3-1.8 .3 1.5 .3-1.4 .3 .9 .3 .9 .3 1.1 .3-.9 .4-.9 .3 1.6 .3-1.4 .3 .9 .3-.8 .3 .6 .3 .2 .4 1 .3-1.8 .3-1.6 .3 1.7 .3-.5 .3 .2 .3 .5 .3 .5 .4-.1 .3 1.4 .3-.8 .3 1 .3 .2 .3 1.2 .3-1.1 .3 .6 .4 .8 .3 .6 .3-.6 .3-.2 .3 .1 .3-.5 .3-1.3 .3 1.8 .4-.7 .3 .2 .3 .9 .3-.4 .3-.5 .3-.1 .3 .6 .3 0 .4-.4 .3 1.1 .3 0 .3-.6 .3 .7 .3-.1 .3-.2 .3 .6 .4-.8 .3-.4 .3 .5 .3 0 .3 .8 .3 .5 .3-1.3 .3 3.3 .4-.8 .3 1 .3 0 .3-.9 .3 1 .3 1.5 .3 0 .3 .4 .4-1.2 .3 1.2 .3-1.4 .3-.3 .3 0 .3 0 .3 .6 .4 .2 .3 1.3 .3 1.4 .3 .4 .3 .7 .3 .2 .3-.5 .3 .5 .4 .2 .3 1.2 .3-.6 .3-1.1 .3 0 .3-.8 .3 .5 .3 .1 .4-1.9 .3 2.7 .3 .8 .3 .8 .3-1.3 .3-.3 .3-1.3 .4 1 .3 1.3 .3 .2 .3 .3 .3 .7 .3-1.2 .3 .6 .4-.9 .3 .8 .3 1 .3-.4 .3 .8 .3-.1 .4-.1 .3 .1 .3 1.3 .3-.3 .3-1 .3 .7 .4-.8 .3 2.2 .3-.5 .3 1.3 .3 0 .3-1.3 .4-.1 .3-.3 .3-1 .3 1.2 .3 .1 .3-1 .3 .7 .3-.3 .4 0 .3 1.4 .3 .3 .3 .5 .3 0 .3-.3 .3-.1 .3 .6 .3 .9 .3-.1 .4-.1 .3 .6 .3-.5 .3-.4 .3-.3 .3 .6 .3 .7 .3 .7 .3-1.4 .3 .7 .4 .4 .3 .3 .3 .4 .3 .5 .3-.6 .3-1.2 .3 1.6 .3 1.4 .3-1.2 .4-.3 .3-.3 .3-1 .3 1.2 .3-.2 .3 0 .3 1 .3-1.9 .3-.5 .3 1.2 .4-.7 .3-.5 .3 2.2 .3-2 .3-1.6 .3 1.7 .3 .2 .3 .3 .3-.3 .3-.8 .4 .3 .3 1.4 .3-2.5 .3 1.7 .3-.2 .3 .7 .3 0 .3 1 .3-.2 .3 .7 .4-.4 .3 .7 .3-1.6 .3-.2 .3-.5 .3 1.5 .3-.5 .3 .6 .3 1 .3-.1 .4 1.7 .3-1.7 .3 .5 .3 .8 .3 2.3 .3-.9 .3 0 .3-.8 .3 .9 .4-.9 .3 .7 .3 1 .3-1.4 .3 .7 .3 .7 .3 1.5 .3-1.2 .3 .6 .4 0 .3-.2 .3-.4 .3 1.6 .3-2.6 .3 .5 .3-1.9 .3 2.9 .4-1 .3 .2 .3-1.1 .3 .2 .3 .6 .3 .2 .3-.5 .4 1.5 .3 .5 .3-.3 .3 .2 .3 .5 .3-.7 .3-.3 .3 .9 .4 .3 .3 .8 .3-1 .3 .2 .3-1.3 .3 .7 .3 .4 .3-1.2 .4 .6 .3-.8 .3 1.9 .3-1.1 .3 1.1 .3 1.2 .3 0 .3-1.9 .4-.4 .3 .5 .3 .9 .3-1.8 .3-.3 .3 .5 .3 .1 .3 .6 .4-.2 .3-1.1 .3 .5 .3 .2 .3-2.2 .3 1.9 .3 .9 .3-.4 .4-.9 .3-.1 .3-.2 .3-.9 .3-.1 .3 .7 .3 .6 .3 .1 .4-.1 .3 .8 .3-1.3 .3-.6 .3 1 .3 .3 .3-1.3 .3 2.6 .4-.3 .3 .4 .3-.3 .3-1.1 .3-.2 .3-.8 .3-.1 .3 1.6 .4 .4 .3 .4 .3 .4 .3-.4 .3-.6 .3-.4 .3-1.3 .4 1.2 .3-.5 .3 1 .3-1 .3 .9 .3-.5 .3 1.9 .3-1.2 .4-1.3 .3 0 .3-.3 .3-.4 .3-.1 .3 1 .3 .5 .3-.4 .3 .9 .4 .2 .3 .8 .3-.8 .3-.1 .3-.6 .3-.7 .3 .8 .3-.7 .3 .7 .4 1.8 .3-1.8 .3 .8 .3 .1 .3-.3 .3 .5 .3-1.3 .3-1.1 .3 2 .4-.5 .3-2.1 .3 .8 .3-1 .3-.9 .3 1.5 .3 .3 .3-.3 .3-1.1 .4 .8 .3 1.8 .3-1.2 .3 .6 .3-.9 .3 1.7 .3-.8 .3 .8 .3 .9 .4 0 .3 .4 .3 .1 .3-1 .3 1 .3-1 .3-.5 .3-1.5 .3 2.3 .4-1 .3 .7 .3 .1 .3-.9 .3 .1 .3-.6 .3-.4 .3 1.2 .3-1.7 .4 1.1 .3-1.1 .3-.1 .3 1.6 .3-.4 .3-.3 .3 .6 .3 .7 .4-1.1 .3 1 .3 .9 .3 .5 .3-1.2 .3-.5 .3 .6 .4-.4 .3-.3 .3-1.4 .3-.6 .3 1.4 .3-.2 .3 .4 .4-.6 .3 .2 .3 1.2 .3-.8 .3-.2 .3 1.8 .3-1.4 .3 .3 .4 .7 .3-.5 .3 .9 .3 .2 .3-1.4 .3 .5 .3 .6 .4 .5 .3 .1 .3-.2 .3-.3 .3-.1 .3 .4 .3-.4 .4-.9 .3 .5 .3-1.5 .3 .2 .3-1.3 .3 1.6 .3-.9 .4 .2 .3 .6 .3 .9 .3 1.1 .3-.2 .3-1 .3 1.9 .4 1.4 .3 0 .3-.3 .3 .4 .3 1 .3-1.1 .3 .6 .4 .1 .3 .7 .3-.9 .3-1.3 .3-.4 .3 1.3 .3-.4 .3-.1 .4-.5 .3-.2 .3-.5 .3-.2 .3-.6 .3 1.5 .3 1.2 .4 0 .3 .7 .3-1.8 .3-.3 .3-.6 .3 .6 .3 0 .4 0 .3-2 .3-.5 .3 1.1 .3 .9 .3 .8 .3 .2 .4-.6 .3-.3 .3-.2 .3-.2 .3-1.3 .3 1.3 .3 .2 .4-.3 .3-1.8 .3 .7 .3-1.5 .3-.9 .3 1.1 .3-.2 .3-.9 .4 1 .3 1.3 .3-.7 .3-.2 .3-.9 .3 .3 .3 1.1 .4 0 .3-.8 .3 .9 .3-1.8 .3-.3 .3 1 .3-1.4 .4 .6 .3-.8 .3 1.7 .3-2.4 .3 1.9 .3-2.3 .3 3 .4-.2 .3-1.2 .3-.9 .3 .6 .3 0 .3 1.4 .3 1.4 .4-1.2 .3 0 .3-.5 .3 .6 .3 1.1 .3-1.3 .3 2.7 .4 0 .3 .1 .3-1.7 .3 1.7 .3 .4 .3 .5 .3-.5 .3-1 .4-1 .3 1.9 .3-1.9 .3 .5 .3-2.4 .3 2.2 .3 .8 .4-2 .3-.3 .3 .7 .3 .4 .3-1.2 .3 .9 .3-1.2 .4 1 .3-.2 .3 1.8 .3-.2" stroke="#0000ff" stroke-width="1.04"/>
<path d="M54 151.2l.3 0 .3 0 .3-1.2 .4 .8 .3 0 .3 0 .3 0 .3 0 .3 0 .3 0 .3 0 .4 0 .3 0 .3 0 .3 0 .3 0 .3 0 .3 0 .3 0 .4 0 .3 0 .3 0 .3 0 .3 0 .3 0 .3 0 .3 0 .4 0 .3-1.3 .3 .5 .3 .7 .3 .1 .3 0 .3-.7 .3 .7 .4 0 .3 0 .3-2.5 .3 2.5 .3-.1 .3 0 .3 .1 .3-1.7 .4 .2 .3 1.5 .3-1.2 .3 .2 .3 1 .3-1.7 .3 .4 .3 1.3 .4-1.4 .3 .1 .3-.2 .3 1.5 .3 0 .3-.1 .3-.3 .3-1.1 .4 1.1 .3-.3 .3 .7 .3-1.7 .3 1.7 .3 0 .3-.1 .3-.5 .4 .6 .3-1.1 .3 1.1 .3 0 .3 0 .3 0 .3 0 .4 0 .3 0 .3 0 .3 0 .3 0 .3 0 .3 0 .3 0 .4 0 .3 0 .3 0 .3 0 .3 0 .3 0 .3 0 .3 0 .4 0 .3 0 .3 0 .3-.9 .3 .9 .3 0 .3 0 .3 0 .4 0 .3 0 .3 0 .3 0 .3 0 .3 0 .3 0 .3 0 .4 0 .3 0 .3 0 .3-.2 .3 .2 .3 0 .3 0 .3 0 .4 0 .3 0 .3 0 .3 0 .3-.1 .3 .1 .3 0 .3 0 .4 0 .3 0 .3 0 .3 0 .3 0 .3 0 .3 0 .4-.9 .3 .7 .3-1.2 .3 .9 .3 .5 .3 0 .3 0 .4 0 .3 0 .3 0 .3 0 .3 0 .3 0 .3 0 .4 0 .3 0 .3 0 .3-.2 .3 .2 .3 0 .3 0 .4 0 .3 0 .3 0 .3-.5 .3-.9 .3 1.1 .3 0 .4-.7 .3 1 .3 0 .3-.3 .3 .3 .3 0 .4 0 .3 0 .3 0 .3-.6 .3 .5 .3 .1 .3 0 .4-.2 .3-1.5 .3 1.7 .3-.6 .3-.6 .3 .4 .3 .6 .4-.9 .3 1.1 .3 0 .3 0 .3 0 .3 0 .3 0 .4 0 .3 0 .3 0 .3 0 .3 0 .3-.6 .4-1.7 .3 2.1 .3-.4 .3 .2 .3-.6 .3 1 .3 0 .4 0 .3-2.3 .3-.4 .3 1 .3-1.6 .3-.4 .4 1.1 .3 .2 .3 1.4 .3-1.1 .3 1.3 .3-.3 .4 1.1 .3-.9 .3-1.2 .3 .5 .3-2.9 .3-.5 .3 1.3 .4 .1 .3 2.4 .3 .4 .3-.4 .3-2.3 .3-1.4 .4 2.1 .3-2 .3 2 .3-1.1 .3-1.5 .3 3 .4-.4 .3-1.4 .3 .5 .3 .6 .3-1.3 .3 2 .3 1.3 .4-1.6 .3-2.2 .3 .6 .3 4 .3-1.5 .3-1.9 .4 3.2 .3-2.1 .3 1.1 .3-.9 .3 .8 .3-1.2 .4 .2 .3 .6 .3 .4 .3-1.1 .3-1.6 .3-.9 .3-.1 .3 .1 .3-.1 .4 1.3 .3-4 .3 2.7 .3-.4 .3 .7 .3 .2 .3 1.4 .3-1.9 .3 1.4 .3-.7 .4 1.9 .3 .8 .3-.3 .3-1.7 .3 1.6 .3-.6 .3 1 .3-1 .3-1.6 .3 2.2 .4-1.5 .3 .3 .3-.3 .3-2.7 .3 1.2 .3-.5 .3 1.6 .3-1.4 .3-1 .3 2.3 .4-.6 .3-1.2 .3 .3 .3 .7 .3 2 .3-2.7 .3 .7 .3 .8 .3-.8 .4 .4 .3 .6 .3-2.1 .3 4.2 .3-1.9 .3-.7 .3 1.9 .3-.7 .3 1.4 .3-1.6 .4 1.1 .3 1.1 .3 .1 .3-2.2 .3-.9 .3 .3 .3 2.9 .3-.5 .3 .4 .3-2 .4-.2 .3-.1 .3-.3 .3 .9 .3-.8 .3 1.5 .3-.7 .3 .1 .3 .7 .3-.5 .4-.7 .3 3.1 .3-3.4 .3 1.8 .3-.4 .3-.6 .3 .8 .3 1.1 .3-.2 .3-.5 .4 1.1 .3-.6 .3-.5 .3 .8 .3 .4 .3-1.1 .3 1.1 .3-.8 .3-2.3 .4 2.1 .3 .1 .3 .2 .3 1.2 .3-1.5 .3-.2 .3 .8 .3-.7 .3-.6 .3-.4 .4 .4 .3 1.5 .3-.9 .3-1.2 .3-.7 .3-.1 .3 .1 .3 1.4 .3-.1 .3 .9 .4-1.5 .3-1.7 .3 .3 .3 .9 .3-.2 .3-1.3 .3 .1 .3-.9 .3 1 .3 1 .4 .2 .3-.5 .3 .1 .3 1.9 .3-.6 .3-.3 .3 .5 .3 .1 .3 1.4 .3 .6 .4-2.3 .3 1.4 .3 .9 .3 0 .3-2.4 .3 .3 .3 1.3 .3-1.2 .3-1.6 .4 1.6 .3-1.8 .3-.7 .3-1.9 .3 3 .3-.1 .3 1.2 .3 .9 .3-1.7 .3 1.9 .4-.4 .3-.9 .3 1.2 .3-.5 .3-.4 .3 1.1 .3-.3 .3-.5 .3 .4 .3 .2 .4 .5 .3-3.3 .3-.9 .3 .2 .3-.4 .3 .1 .3-.4 .3-.3 .3 1.3 .3-2.7 .4 .2 .3 3.5 .3 0 .3 .2 .3 .5 .3-.7 .3-.8 .3-1 .3 1.8 .3 0 .4 .7 .3-.6 .3 0 .3 .3 .3 .6 .3-.9 .3 .4 .3 2.7 .3-1.7 .4 .2 .3 1.3 .3-1.4 .3 .9 .3-1.1 .3 .4 .3-.4 .3-.9 .3 1.5 .3-1.5 .4 2.6 .3-.4 .3-3 .3 1.3 .3-.4 .3-1.1 .3 .3 .3-.3 .3-1.7 .3 1.5 .4 .3 .3-.3 .3 .1 .3 1.3 .3 .6 .3-.9 .3-.1 .3 .6 .3 .4 .3-.9 .4 1.4 .3-3.7 .3 1.8 .3 0 .3 2.1 .3-1.2 .3 .8 .3-.1 .3 1.6 .3-2.5 .4 1.6 .3-3 .3 3.3 .3 .4 .3-3 .3-.4 .3 2.3 .3-.7 .3 1.4 .4-1.9 .3 1.2 .3 .3 .3-.2 .3 .6 .3 1 .3-.4 .3 .6 .3-.7 .3-.1 .4-2.1 .3 1.9 .3 1 .3-.1 .3 0 .3 .1 .3-.4 .4 .4 .3 0 .3 0 .3-1.3 .3 1.3 .3-.4 .3 0 .4 .4 .3-2.5 .3 2.5 .3-1.8 .3 .9 .3-.9 .3 .2 .3 1.6 .4 0 .3-.2 .3-2.6 .3 2.8 .3-.3 .3-.4 .3 .3 .4-1 .3 1.3 .3 0 .3-2.2 .3 1.5 .3 .8 .3 0 .4 0 .3 0 .3-1.6 .3 1.6 .3 0 .3-1 .3 .8 .4-.8 .3-.1 .3-.1 .3-1.5 .3 .8 .3 .4 .3-1.1 .4 .5 .3-.4 .3 1.8 .3-2.5 .3-.8 .3 .6 .3 1.2 .4 .1 .3-.2 .3-.5 .3 .1 .3 1.8 .3-2.3 .3 1 .3-2.2 .4 1.5 .3-1.6 .3 1.2 .3-1.7 .3 1.6 .3-.1 .3-1.4 .4-.2 .3 .8 .3 1.9 .3 .4 .3-.9 .3-.1 .3 1.1 .4-.5 .3 .7 .3 .3 .3 .2" stroke="#0000ff" stroke-width="1.04"/>
<path d="M54 151.2l.3-.1 .3 0 .3-.5 .3-.8 .4 .5 .3 .5 .3-.7 .3-.2 .3 .9 .3-.1 .3 .1 .3 0 .3-.1 .3-.9 .4 1 .3 0 .3-.2 .3 .1 .3 .1 .3-.8 .3-.2 .3 .2 .3-.8 .3 .3 .4 .2 .3-.9 .3-.1 .3-.1 .3-.5 .3-.4 .3-.4 .3 .9 .3-.7 .3 .7 .4 .5 .3 0 .3 .2 .3 .4 .3 0 .3 .5 .3 .2 .3 0 .3 .2 .4-.9 .3-.8 .3 .1 .3 .2 .3 0 .3-1.5 .3 .1 .3 1.3 .3-.3 .4-.4 .3 .1 .3 .1 .3-.4 .3 .7 .3-.1 .3 .1 .3-.4 .3 .5 .4 1.2 .3-.8 .3-.6 .3-.1 .3-.6 .3-.3 .3 .2 .3 .9 .3-.4 .4-.5 .3-.6 .3-.2 .3-.2 .3-.6 .3 .1 .3 .6 .3-.3 .3-1.2 .4 .4 .3-.3 .3 .7 .3-.3 .3-1 .3-.6 .3 .4 .3 .2 .4-.3 .3 0 .3 .2 .3 .5 .3-.7 .3-.1 .3 .3 .3 .7 .4-.9 .3-1.4 .3 2 .3-.8 .3 .6 .3-.1 .3 .3 .4 1.2 .3 .2 .3-.5 .3-.6 .3 .9 .3-.3 .3-.2 .3-.9 .4 .5 .3 .5 .3 .2 .3-1 .3 .3 .3 .2 .3-.9 .3 .3 .4 .6 .3-1.2 .3 1.6 .3-.7 .3 .6 .3-.6 .3-.9 .3-.5 .4 .5 .3 .9 .3-1 .3-.2 .3 .5 .3-.4 .3 1.2 .3-.3 .3-.1 .4-.2 .3 .5 .3-.9 .3 0 .3 .5 .3-.6 .3 .3 .3-.6 .4 .5 .3 .5 .3-.8 .3-.9 .3-.2 .3 .1 .3-.1 .3-.4 .3-.7 .4 1.3 .3 .1 .3-.1 .3-.3 .3 .9 .3-.6 .3 .2 .3 .1 .4 .5 .3-.6 .3-.1 .3 .9 .3 .5 .3-1.1 .3 .2 .3 .8 .3 .4 .4-1 .3-.2 .3-.1 .3 .3 .3 .4 .3-.3 .3-.5 .3-.7 .4 .1 .3 .2 .3 .5 .3-1 .3 .3 .3 .1 .3 .7 .3-.9 .3 .3 .4 .7 .3-1.3 .3 0 .3 .4 .3 .6 .3 0 .3-.4 .3-1.1 .3 1.3 .4-1 .3 .5 .3-.2 .3 .4 .3 .4 .3 .1 .3-.2 .3-.7 .3 .3 .4 .4 .3 .5 .3 .4 .3 .6 .3-.2 .3 .1 .3 1.1 .3-1.6 .3 .1 .4 .3 .3-.6 .3 0 .3-.8 .3-.4 .3 .4 .3 .1 .3-.4 .3 0 .4 0 .3-.4 .3 .6 .3 .3 .3-.1 .3 .1 .3 .5 .3 1 .3-.4 .4-.2 .3-.2 .3 .3 .3-.7 .3-.6 .3 .1 .3 1 .3-.6 .3 .1 .4 .4 .3 .4 .3-.9 .3 .6 .3 0 .3-.8 .3 .7 .3-.4 .3 .5 .4 0 .3 .2 .3-1.1 .3-.4 .3 .2 .3 .4 .3 0 .3 .1 .3 .8 .4-.4 .3 .7 .3-.6 .3 .8 .3 .8 .3-.8 .3 .6 .3-.2 .3 .9 .4-1.5 .3 .9 .3-.2 .3 .5 .3-1 .3 .7 .3-.2 .3 .4 .3 .7 .4-1.2 .3-.3 .3 .4 .3-.3 .3 1 .3 0 .3-.7 .3 .9 .3-.7 .4-.8 .3 .1 .3 0 .3 0 .3 .1 .3-.3 .3-.1 .3-1 .4 1.3 .3-.2 .3 .2 .3 .3 .3-.5 .3 .5 .3 .2 .3 .4 .3-.5 .4 1.1 .3-1.2 .3 2 .3 .7 .3 0 .3-.7 .3-.2 .3 .8 .3-.6 .4 .9 .3 .7 .3-.2 .3-1 .3-.5 .3-.1 .3 .6 .3-.5 .3 0 .4-.9 .3 .3 .3-.2 .3-.2 .3 .3 .3-.4 .3-.5 .4 1 .3-.2 .3-.2 .3-.2 .3 .1 .3-.6 .3 1.1 .4-.5 .3-.3 .3 .3 .3-.3 .3 0 .3-.8 .4 0 .3 .2 .3 .6 .3-2.3 .3 1.6 .3-.8 .3 .3 .4-.3 .3 0 .3 .1 .3 1.3 .3-.8 .3 .4 .3-1 .4 .3 .3-.7 .3 .1 .3 0 .3 .9 .3-.2 .3 .5 .4 0 .3-.3 .3 .8 .3-.3 .3 0 .3-.2 .3-.7 .4 .6 .3 .9 .3-.7 .3 .1 .3 .3 .3 .1 .3 .1 .4 .5 .3-.5 .3-.5 .3-.1 .3-.5 .3 1.3 .3 .5 .3-1 .3 1 .4-.6 .3-1.2 .3 .2 .3-.3 .3-.1 .3 .4 .3-.2 .3 .5 .3-.1 .4 .2 .3 .4 .3-1.2 .3-.1 .3 .6 .3 .5 .3-.6 .3 .2 .3-.8 .4 .3 .3-.8 .3 .4 .3 .8 .3-.3 .3 1 .3-1.2 .3 .3 .3 .1 .4 .1 .3-.6 .3 .9 .3-.7 .3-.4 .3 .8 .3-.1 .3 .1 .3 1.4 .4-1.2 .3-.9 .3 .9 .3 .1 .3 .6 .3-1.5 .3 2 .3-1.1 .3-.7 .4 1.2 .3-.9 .3 .1 .3-.1 .3 .2 .3 0 .3-.4 .3 1.2 .3-.6 .4-.5 .3 .8 .3 .9 .3 .5 .3-.9 .3 .6 .3 .3 .3-.9 .4 .6 .3 .2 .3 .4 .3-.3 .3 .3 .3-.7 .3 .4 .4-.2 .3-1.4 .3 0 .3 .9 .3-.1 .3-.6 .3 .5 .4-.3 .3-1 .3-.3 .3 .8 .3 1 .3-1 .4 .2 .3 .9 .3 .4 .3-.8 .3 .2 .3 .9 .3-.7 .4-.2 .3 .6 .3-.7 .3-1.1 .3 1.2 .3-1 .3 .9 .4-1.1 .3 .5 .3 0 .3-.8 .3 .8 .3-.1 .3-.5 .4 .6 .3-.8 .3 .1 .3 .4 .3-.2 .3 .6 .3 .1 .4 1 .3-.6 .3 .5 .3 .3 .3-.6 .3-.7 .3 .1 .4 .7 .3-1.6 .3 .9 .3-.2 .3 0 .3-.6 .3 .4 .4 .7 .3-.1 .3 .3 .3-1 .3-.8 .3 .9 .3-.7 .4-.3 .3-1 .3 .1 .3-.1 .3 .7 .3 .3 .3-1 .3 .9 .4-.5 .3 .2 .3 .5 .3-1 .3 .5 .3 .6 .3-.7 .4 .5 .3-.3 .3 1.1 .3-.1 .3-.2 .3 0 .3-.1 .4-.1 .3-.7 .3 .4 .3-.1 .3-.3 .3-.1 .3 1.5 .4 .1 .3 .1 .3-.8 .3-.1 .3-.7 .3-.1 .3 .8 .4 .7 .3-.5 .3 .7 .3-.1 .3-.3 .3-.2 .3 1 .4-.1 .3-.4 .3 .6 .3-.5 .3-.4 .3 .1 .3-.7 .3 1.2 .4-.1 .3-.9 .3-.2 .3 .8 .3 .7 .3-1.2 .3 .6 .4-.3 .3 .3 .3 1.1 .3-1.4 .3 1 .3-.1 .3 .5 .4-.4 .3 .2 .3-.3 .3 .2" stroke="#ff8000" stroke-width="1.04"/>
<path d="M54 151.2l.3-.3 .3-.2 .3-1.5 .4 .5 .3 .3 .3 0 .3-1.7 .3 .5 .3 0 .3-.7 .3 .2 .4-.4 .3-.6 .3-1.7 .3-.4 .3 .7 .3 .8 .3-.8 .3-1.5 .4-.1 .3-.2 .3 .4 .3-.3 .3 0 .3-.6 .3 0 .3-.2 .4-.4 .3-.2 .3-.5 .3-1.1 .3 0 .3-.2 .3-.4 .4-.9 .3 1.1 .3-1.3 .3-.2 .3 1.3 .3-.9 .3-.3 .4 .5 .3-.9 .3-1.1 .3 0 .3 .4 .3-.3 .4-.7 .3-.3 .3 .7 .3-.4 .3 .5 .3-.9 .3 .4 .4 .1 .3-1 .3 0 .3 1.1 .3-.7 .3-.9 .4 .4 .3 1.3 .3-.4 .3-.9 .3-.1 .3 1 .4-.5 .3-.4 .3-.1 .3-1.6 .3-.6 .3 .4 .4-.1 .3-.8 .3 .2 .3 .1 .3 .3 .4-1.1 .3-.4 .3-1.6 .3 0 .3-1.7 .3-.6 .4 0 .3 .4 .3-.5 .3-.6 .3-.7 .3 .8 .4 0 .3-.8 .3 .1 .3-1.7 .3-.3 .3 .2 .4 0 .3-.2 .3-.5 .3-.5 .3 0 .3-1 .4-.2 .3-.3 .3 .5 .3 .1 .3-1.3 .3-.1 .4-1.1 .3 .5 .3 0 .3-1.4 .3-.9 .4 .4 .3 .2 .3-.1 .3 .2 .3-.3 .3-.7 .4 .7 .3 .1 .3-.9 .3-.1 .3-.3 .3-1 .4 1.2 .3-.1 .3-1.2 .3-.4 .3-.2 .4-.3 .3 .2 .3-1 .3-.6 .3-.2 .4-.2 .3 .6 .3 .2 .3-.6 .3 1.1 .4-.7 .3-.9 .3-.1 .3-.8 .3 .2 .4-2.1 .3 1.3 .3-.9 .3 .3 .3-1.2 .3 .4 .4-.6 .3 .1 .3-1.6 .3 1 .3 .5 .3 .7 .4-1.5 .3-.5 .3-.3 .3-.2 .3-.1 .3-.3 .4-1.4 .3 1.2 .3-1.4 .3-.7 .3 1.9 .3-1 .4-.3 .3-.5 .3-.3 .3-1.4 .3 1.5 .3-1.1 .3 .8 .4-1.3 .3 .3 .3-1.7 .3 .7 .3-.1 .3-.7 .3-.4 .3 .3 .4-.1 .3-.5 .3-.1 .3-.2 .3-.1 .3 .6 .3-1.2 .3 .7 .4-1.7 .3 1 .3 .3 .3-.6 .3-1.3 .3 .1 .3-.9 .3 1.6 .4-.4 .3-1.4 .3 .9 .3 .7 .3-.8 .3-.2 .3-.2 .4-.6 .3-.3 .3 .9 .3-.7 .3 .3 .3-.6 .3 1.7 .3-.1 .3-.9 .4 .5 .3 .6 .3-.2 .3 0 .3 1 .3 .2 .3-1 .3 .2 .3 .7 .3-.1 .3 .9 .4 .9 .3 .4 .3 .4 .3 .6 .3 .6 .3-.9 .3 1.1 .4-.9 .3 0 .3 .6 .3 1 .3-.3 .3 0 .3 0 .4 .8 .3-1 .3 .1 .3 .1 .3-1.2 .3 1.5 .4-.8 .3-.2 .3 .2 .3 0 .3-1.1 .3-.4 .3 1.3 .3 .3 .3 .4 .4-.5 .3 1.2 .3-1.8 .3 .9 .3 .6 .3-.2 .3 .2 .3 1.2 .3-.5 .3-.8 .4 .6 .3 .8 .3-1.1 .3-.3 .3 .5 .3 1.4 .3 .1 .3-1.2 .3 0 .3 .2 .4-.7 .3-.4 .3-.6 .3 .7 .3 .4 .3-.3 .3 1.2 .3-.1 .3 .6 .3-.5 .4 .2 .3 .1 .3 0 .3 0 .3-.5 .3-.2 .3 .7 .3-2.1 .4 1.5 .3-1 .3 .2 .3 .3 .3-1 .3 1.2 .4 .3 .3-.9 .3 .7 .3-1 .3-.3 .3 1.3 .4-.3 .3 .4 .3-1 .3-.4 .3 1 .3 .3 .3 .2 .4-1.3 .3 1.3 .3 .8 .3 .5 .3-.2 .3-.2 .4-.3 .3 .4 .3 .7 .3-.2 .3 0 .3 .1 .3-.3 .4 .1 .3-1 .3 .6 .3 .1 .3-.7 .3-.1 .3-.1 .3 .1 .3-.4 .3-1 .4 .6 .3-.2 .3-.6 .3 1.2 .3-.2 .3-1.4 .3 .3 .3 .9 .3-.9 .3 .1 .4-1 .3 1.5 .3-1.1 .3 1.4 .3 .6 .3-1.9 .3-.3 .3 .3 .3-.6 .3-.3 .3 1.2 .4-1.1 .3 1 .3-1.1 .3 1.4 .3-.7 .3 .2 .3 .4 .3 .2 .3 .4 .3-.7 .3-.3 .3 .1 .4 .9 .3-.1 .3-.5 .3-.5 .3 1 .3 .3 .3-.2 .3-1.8 .3 .7 .3-.1 .3 .6 .4-.1 .3 .5 .3-.2 .3-.3 .3-.2 .3-.3 .3-.8 .3-.4 .3 .9 .3 .3 .3 .2 .4-.5 .3-.8 .3 1.1 .3 .3 .3-.3 .3 .1 .3 .4 .3 .6 .3 .5 .3-1.4 .3-.6 .4 1 .3 .2 .3-.4 .3-.7 .3 1 .3-.4 .3-.2 .3 .3 .4-.1 .3 .2 .3-.1 .3 .4 .3-.4 .3-.8 .3 .1 .3 .3 .3 .2 .4 .3 .3-.2 .3 .3 .3-.7 .3 0 .3-.5 .3-.8 .3-.2 .3 .2 .4-.2 .3 .6 .3-.9 .3-.3 .3-1 .3-.9 .3 1 .3 .3 .3 .1 .4-.9 .3 .9 .3 .9 .3-1 .3 .2 .3 .9 .3 .1 .3-1.2 .3 .8 .3-1.1 .4 1 .3-1.3 .3 .3 .3-.7 .3-.2 .3 .6 .3-.1 .3-.2 .3-1.3 .3 .4 .3-.4 .3 .7 .4-.3 .3 .4 .3-.5 .3-.2 .3 .1 .3 .8 .3 .1 .3-1.8 .3 1.4 .3-.4 .3 1.3 .4-1 .3 .4 .3-.6 .3-.4 .3 .2 .3-.1 .3 .2 .3 .4 .3-.4 .3 0 .3-.7 .4 .8 .3 .2 .3 .3 .3 0 .3-1 .3 .5 .3 0 .3-.6 .3 .4 .3 .1 .3-.9 .3 .7 .4 .7 .3 .8 .3-.8 .3-1.4 .3 .6 .3 .2 .4-.8 .3 .7 .3-.2 .3-.1 .3 1.4 .3-1 .3 .2 .4 .3 .3-.2 .3-.2 .3 .3 .3 .1 .3-.8 .4-.8 .3 1.6 .3 .6 .3-.2 .3-.5 .3 .1 .4-.1 .3-.6 .3-.6 .3 .4 .3 .3 .3-1.2 .3 .2 .4-1.6 .3 .9 .3 1.4 .3-1.1 .3-.4 .3 .4 .4 .4 .3-.7 .3-.9 .3 1.2 .3-.2 .3-1.2 .3-.4 .4 .5 .3 0 .3-.5 .3 .8 .3 1 .3-1.2 .4-.9 .3 .5 .3-1.3 .3-.6 .3 .9 .3 .4 .3 .2 .3 .3 .3-1.5 .3 .8 .4-.5 .3 1.1 .3-.3 .3-.2 .3 0 .3 0 .3 .6 .3 .5 .3 0 .3-1.2 .3 .5 .3-1.3 .4 1 .3-1.1 .3-.2 .3 1 .3-1 .3 .2 .3 .3 .3 .1 .3 .1 .3 .3 .3-1.5 .3 1.8 .4-.4 .3 0 .3 1.1 .3-1.7 .3 .5 .3-.8" stroke="#ff8000" stroke-width="1.04"/>
<path d="M54 151.2l.3-1.4 .3-1.4 .3-1.5 .4-1.9 .3-1.8 .3-1.7 .3-.6 .3-2.5 .3-1.9 .3-.5 .3-.9 .4-2.4 .3-.5 .3-.7 .3-2.3 .3-.1 .3-1.5 .3-2 .3-.3 .4-.9 .3-2.9 .3 .2 .3-2.2 .3-1.2 .3-1.4 .3-1.3 .3-.4 .3-1.4 .4 .5 .3-.2 .3-.2 .3-2.4 .3 .2 .3 .3 .3-.6 .3-.9 .3-1.4 .3-.8 .4-.7 .3-1.2 .3-.6 .3 0 .3 .1 .3 1 .3-2.4 .3 .2 .3 .2 .4-.4 .3-.2 .3-.9 .3 .8 .3-1.2 .3 .9 .3-1 .3 .2 .3 .2 .3-.2 .4-1.1 .3 1.1 .3-.3 .3-1.1 .3 1.7 .3-1.1 .3 1.5 .3-.9 .3 .9 .3 .2 .4-1.3 .3 .3 .3 1.2 .3-.5 .3 .4 .3 0 .3-1 .3 2 .4-1.8 .3 .1 .3 .6 .3 0 .3-.5 .3-1.5 .3 1.2 .3-.2 .4 1.5 .3-1.3 .3 0 .3 1 .3-1.2 .3 .9 .3 .2 .4-1.7 .3 1.3 .3-.8 .3 1.6 .3-.5 .3 .3 .3-.2 .3-.1 .4-.2 .3 1.8 .3-1 .3 .9 .3-.4 .3 .5 .3-.5 .3-.6 .4 .6 .3-.3 .3 .1 .3-.6 .3 1.4 .3-.9 .3 1.4 .3 .2 .4-1 .3-2 .3 1.4 .3-.7 .3-1.1 .3 1.1 .3 .4 .4-1.2 .3 1.1 .3-.6 .3 1.4 .3-1 .3-.7 .4 .2 .3 1.1 .3-.2 .3-.3 .3 .6 .3 0 .3-1.5 .4 1.2 .3-.1 .3-.1 .3 .4 .3 1.2 .3 .2 .4-.4 .3-.5 .3 1.4 .3-.9 .3 .5 .3 .4 .4-.2 .3-.8 .3 .4 .3 .7 .3-1 .3 .8 .4-1.4 .3 .3 .3-.2 .3 .7 .3 .8 .3 0 .3-.9 .4 1.3 .3 .6 .3-1.4 .3 1.1 .3-1 .3 .9 .4 1.1 .3-.6 .3-.2 .3-.1 .3 .5 .3-.5 .4 0 .3 .6 .3-.8 .3 .5 .3-.3 .3-.9 .3 .6 .4 .4 .3 1.2 .3-1 .3 .9 .3-.5 .3 1.1 .4-.7 .3 .3 .3 0 .3-.5 .3 2.3 .3-1.6 .4 .5 .3-.8 .3-.2 .3 1.6 .3-.2 .3 0 .3-1 .4 0 .3-.4 .3 .2 .3-.1 .3-1.7 .3 0 .4 .4 .3 .1 .3 .3 .3-.6 .3-.8 .3 .9 .4 0 .3 0 .3 2.1 .3-1.2 .3 1 .3-.1 .3 .5 .4-.4 .3 .3 .3-1.7 .3 .6 .3 .7 .3 .1 .4-.7 .3-1 .3 1.8 .3 .1 .3-.7 .3 .2 .4-.3 .3 .3 .3-1 .3-.1 .3-.3 .3 1.6 .3-.4 .4-.3 .3 0 .3 .7 .3-.3 .3-.3 .3 .8 .4 .6 .3 .4 .3 .5 .3-1.6 .3-.8 .3 1.8 .4-.8 .3 .4 .3 .1 .3-.4 .3 .3 .3 .2 .3 0 .3-.7 .4 1.4 .3 .7 .3-1.8 .3 1.1 .3-.9 .3 .3 .3 .3 .3 0 .4-.9 .3 1 .3-.2 .3 .7 .3-1.3 .3 .8 .3 .7 .4-.7 .3-.5 .3 .3 .3-.5 .3-.6 .3 .1 .3-.4 .3-1.1 .4 0 .3-.7 .3-.4 .3 .9 .3-1.5 .3 .5 .3-.3 .3 .4 .4-1 .3 1.3 .3-1.4 .3-.1 .3 .8 .3-1 .3 .7 .3-1.7 .4 1.3 .3 .2 .3-.3 .3 .6 .3 .3 .3-.5 .3 .6 .3-.8 .4 1.3 .3 .3 .3-1.3 .3 .3 .3-.7 .3 2.1 .3-.4 .4 .4 .3 .5 .3-.9 .3-.7 .3 .2 .3-.9 .3 0 .4 .8 .3 .8 .3-.3 .3-.5 .3 .4 .3 1.2 .3-.5 .4-.1 .3-.4 .3 .5 .3 .3 .3-1.6 .3 .4 .3-.6 .3 .2 .4 .4 .3-1.8 .3 2.6 .3-1.2 .3 .3 .3-.4 .3 .4 .4 .1 .3 .3 .3 .3 .3-.5 .3 .2 .3 .7 .3-.7 .4 .5 .3-.3 .3 .5 .3-.1 .3-1.1 .3 .6 .3 .6 .4-1.5 .3 .7 .3-1 .3 .5 .3-1.5 .3 1.5 .3-.5 .4-1.3 .3 .5 .3-.1 .3 .4 .3 .1 .3-1.2 .3 .6 .4 .1 .3 0 .3-.9 .3 .5 .3 .1 .3-.1 .3-.8 .4 1.2 .3-1.8 .3 .9 .3-.2 .3 1.3 .3-1.1 .3-1.2 .3 .5 .4 1.1 .3-.1 .3-.5 .3 0 .3 .2 .3 0 .4 .4 .3-.7 .3 .1 .3 .4 .3-.6 .3 1.8 .4-.3 .3 .9 .3-1.4 .3 1 .3-.3 .3-1 .3 1.7 .4-1.1 .3 1.3 .3-1.2 .3 .2 .3-.2 .3-1.4 .4 .6 .3-.8 .3 .3 .3-.2 .3 .3 .3-.3 .4 1.1 .3-1.2 .3-.2 .3-.8 .3-.3 .3 .8 .3-1 .3 0 .3-.3 .4 .5 .3 1.2 .3-2.5 .3 .7 .3 .7 .3 .1 .3-.8 .3 .4 .3 .6 .3-1.5 .4-1 .3 .8 .3-.4 .3 .5 .3-.9 .3 .9 .3-1.1 .3 .8 .3-1.1 .4 .8 .3-1.1 .3 1.1 .3-1.7 .3-.2 .3 1.4 .3-1.3 .3 1.3 .3-.2 .3 .1 .4-.4 .3-.6 .3 .6 .3 .2 .3 .1 .3-.2 .3-.9 .3 .2 .3 .6 .3-.7 .4-.7 .3-.9 .3 1.7 .3-1.9 .3 .8 .3-.1 .3 .7 .3-.6 .3-.1 .3 .5 .4 1.8 .3-2.3 .3-.4 .3 1 .3-1.2 .3 1.3 .3-.8 .3 0 .3-.1 .3-.5 .4-.9 .3 1.1 .3 0 .3-1.1 .3 .1 .3-.8 .3 .7 .3-.7 .3-1.2 .4 0 .3 1.3 .3-.5 .3-1.2 .3 1.4 .3 .2 .3-.4 .3 .3 .3-.8 .3-.3 .4 .9 .3-.4 .3 1 .3-1.3 .3 .6 .3-.5 .3-.1 .3 1.1 .3-.9 .3 .9 .4-1 .3 1.5 .3-1.2 .3 0 .3 1.1 .3-.8 .3-1 .3-.2 .3 .3 .3 .2 .4 .5 .3-1.2 .3 .2 .3 .3 .3 .4 .3-1.6 .3 .6 .3 0 .3 .7 .3 .8 .4-.9 .3-.6 .3-.8 .3-1.2 .3 2.2 .3-.5 .3 .2 .3-.8 .3 .8 .4-1.3 .3 .5 .3-1.7 .3 1.5 .3-.4 .3-1.1 .3 .9 .3-.1 .3-.1 .3-1 .4 1.3 .3-.9 .3-.7 .3-.3 .3 1.3 .3-.4 .3-.4 .3 .8 .3-1 .3 .1 .4-.5 .3-.3 .3 .1 .3-.8 .3 .4 .3 .3 .3-.8 .3 .6 .3-1.4 .3 1.1 .4 .4 .3-.6 .3-.4 .3 .8 .3 .2 .3 .3 .3-.6 .3-.3 .3 .3 .3-1.1 .4 .9 .3 .5 .3-.3 .3-1.1 .3 .6" stroke="#ff8000" stroke-width="1.04"/>
<path d="M54 151.2l.3-1.1 .3-1.1 .3-.1 .4-.9 .3-.1 .3-2.2 .3-1.9 .3-.8 .3-1.1 .3 .3 .4-1.8 .3-3 .3 1.2 .3-1.5 .3-2.1 .3-1.1 .3 .8 .4-1.6 .3-2.3 .3-.7 .3-.3 .3-.1 .3-.2 .3-2.7 .4-1.3 .3-1.4 .3-2.2 .3-2 .3 .2 .3 0 .3-2.6 .4 .8 .3-1.5 .3 .5 .3-1.5 .3-.4 .3-.6 .4-.7 .3-.3 .3-1 .3 .2 .3 .5 .3-1.4 .3 .3 .4-1.1 .3 .5 .3-1.8 .3 .1 .3 .2 .3-1.6 .3-1.8 .4-.4 .3 .4 .3-.1 .3 .1 .3-1.2 .3-.9 .3 .3 .4 .1 .3 .7 .3-.3 .3-1.6 .3-.7 .3-.2 .3 1.3 .3 1.1 .4-1.6 .3 .5 .3 .4 .3-1.4 .3 1.6 .3-.5 .3-1.5 .3 1.5 .4-1.3 .3 .1 .3 1.2 .3-1.1 .3 0 .3-.5 .3-.3 .3 1.4 .4-.1 .3-1.9 .3 1.2 .3-1.5 .3 1.4 .3 .2 .4-.5 .3 .7 .3-.9 .3 .2 .3 .5 .3 .5 .3-.8 .4-.3 .3-.6 .3 .9 .3-2.3 .3 1.5 .3 .2 .4-.2 .3 0 .3 .7 .3 .4 .3 1.5 .3-.7 .4 .5 .3-1.2 .3-.3 .3-.1 .3-1.3 .3 2.1 .3-2.4 .4 1.4 .3 1.7 .3-.7 .3-.6 .3 .2 .3 .7 .4-.7 .3-.3 .3 .4 .3 0 .3 .5 .3-1.1 .4 0 .3 .9 .3 .7 .3-.8 .3-.7 .3 .6 .3 1.3 .4-1 .3 .7 .3 .1 .3-.2 .3-.2 .3 .8 .4-.6 .3 1.4 .3 .6 .3-.7 .3-1.1 .3 2.2 .4-.6 .3-1 .3 1.4 .3-.5 .3 .9 .3-.1 .3 .5 .3-1 .4-.7 .3 .7 .3 .6 .3-.3 .3-.3 .3 1.3 .3-.6 .3 1.2 .3-.8 .3 .8 .4-1.2 .3 1.3 .3 .1 .3 .9 .3-.7 .3 .6 .3-1.2 .3 1 .3-1.5 .3 1.2 .4 0 .3-1.3 .3 .8 .3 .2 .3 .4 .3 0 .3-.6 .3 .2 .3-.1 .3-.3 .4 .5 .3 .1 .3-.6 .3 .8 .3 .9 .3 .7 .3-1 .3 .3 .3-.2 .4 .4 .3 .1 .3 0 .3 .6 .3 .1 .3 .1 .3-1.2 .3 1.7 .3-1.4 .3-.2 .4 1.6 .3-.7 .3-1.4 .3 1 .3 .2 .3-.3 .3-.2 .3-.9 .3 1.3 .3 0 .4-1 .3 1.1 .3 0 .3 .3 .3-.3 .3 .5 .3-.2 .3 .1 .3-.1 .3-.4 .4 1.1 .3-.1 .3 .8 .3 1.1 .3-1.3 .3-1 .3-.3 .3 1.6 .3-.2 .3-.4 .4 .7 .3-.6 .3 .7 .3 0 .3-.6 .3 1.6 .3-.6 .3 0 .3-.9 .4 .2 .3-.9 .3 .7 .3-.4 .3 .9 .3-.9 .3-.7 .3 1.7 .3-.6 .3 .1 .4 1 .3 .1 .3-.6 .3-.6 .3 1.3 .3-2 .3 1.6 .3-1.2 .3 .9 .3 .5 .4-1.7 .3 .8 .3 .6 .3 .3 .3-1.1 .3 .8 .3-1.3 .3 1.7 .3-.8 .3 .8 .4-1.1 .3 0 .3-.2 .3 .2 .3-.2 .3 .3 .3 .6 .3-2.1 .3 1.2 .3-.2 .4 .8 .3-.3 .3-.1 .3 1.6 .3-.8 .3 .3 .3-.1 .3 .6 .3-.8 .4 .6 .3-.9 .3 0 .3-.2 .3 0 .3-.1 .3 0 .3-.5 .3 1.4 .3 .4 .4-.1 .3 1.3 .3-1 .3-.2 .3-.4 .3 .7 .3-1.3 .3 .8 .3 .6 .3-1.3 .4 .9 .3 .2 .3-.3 .3 .2 .3 .3 .3-.4 .3 .1 .3-.3 .3 .1 .3-.6 .4 1 .3-1.4 .3-.2 .3 .7 .3-1.1 .3-.6 .3 1.6 .3-1.9 .3 .7 .3 .4 .4-1.2 .3 .9 .3-.3 .3 .8 .3-1.6 .3 1.7 .3-1.1 .3-1 .3 .1 .4 .1 .3 .9 .3 0 .3 .8 .3-.8 .3-.3 .3-.3 .3 .5 .3-.1 .3-.2 .4 .8 .3 .1 .3-1.4 .3-.9 .3 2.1 .3 .2 .3 .4 .3-.5 .3 0 .3-1.2 .4 .1 .3-.2 .3 .4 .3-.4 .3 0 .3-.2 .3 1 .3 0 .4 .2 .3-1.2 .3 1.4 .3-.3 .3-.8 .3 1 .3 .2 .3-1.5 .4-.1 .3-.5 .3 .8 .3 .1 .3 .1 .3-.1 .3 0 .4-1.4 .3 .9 .3-.5 .3 1.2 .3 .6 .3 1.1 .3-.8 .3-1.1 .3-.4 .4 .3 .3-.8 .3-.1 .3 0 .3 .6 .3-.5 .3-.6 .3 1.5 .3-.5 .4-.8 .3 0 .3 .7 .3-.1 .3 .2 .3-.5 .3-.8 .3 .3 .3-.8 .4 .4 .3 1.7 .3-.3 .3 1 .3-3.2 .3 1.5 .3-.6 .3-.1 .3-.6 .3-1.4 .4 0 .3 0 .3 .7 .3-1 .3 1.6 .3-.9 .3 1.9 .3-1.3 .3 0 .4 .8 .3-.3 .3 1.7 .3-.9 .3-1.3 .3-.2 .3 .9 .3 0 .3 1.8 .3-.9 .4-.5 .3 0 .3-.9 .3 .3 .3 0 .3 .4 .3 .2 .3-.7 .4 .2 .3 .8 .3-1.4 .3-.5 .3 .4 .3 .5 .3-1.3 .3 1 .4 1.4 .3-.7 .3 .2 .3-.3 .3-1 .3 1.1 .3-.8 .3 .1 .4 .2 .3 .1 .3 .6 .3-.2 .3 0 .3 .1 .3-.8 .3 .3 .4-1.2 .3 .2 .3 0 .3 .6 .3-.6 .3-1.9 .3 .6 .4 .7 .3 .4 .3-1.3 .3 .8 .3-1.3 .3 .4 .3-1.6 .3 1.6 .4 1.1 .3-1 .3-1.4 .3 1.1 .3-1.2 .3 .5 .3 1.1 .3-1.3 .4 .8 .3-.6 .3 .7 .3 1 .3-1.5 .3 1.1 .3-1.3 .3-.3 .4 .4 .3 .1 .3-1.5 .3-.4 .3 1.5 .3-.8 .3 .1 .3 1.1 .3-.9 .3-.1 .4-1.9 .3-.6 .3 1.9 .3 0 .3 .4 .3-1.2 .3-1 .3 1.3 .3-.2 .3-.3 .4-.4 .3-.2 .3 .2 .3 .7 .3 .9 .3-.9 .3 1.5 .3-.1 .3-1.1 .3-.8 .4 .6 .3 .5 .3 .4 .3-.6 .3 .8 .3 .6 .3 .6 .3-.3 .3-.9 .4 .1 .3 .1 .3 .7 .3-.6 .3 .3 .3 0 .3 .5 .3 .4 .3-1.5 .3 .8 .4 .4 .3-.5 .3-.1 .3-.1 .3 .9 .3-1.4 .3 .5 .3-1 .3 .5 .3 .3 .4 1 .3 .1 .3-1.7 .3-1 .3-.6 .3 .8 .3 .4 .3-.5 .3 1.1 .3-.8 .4 .9 .3-.8 .3 .4 .3 .1 .3 0 .3 .6 .3-.8 .3 .2 .3 0 .3 0 .4 .5 .3-2.3 .3 1.6 .3-.2 .3 .2" stroke="#ff8000" stroke-width="1.04"/>
<path d="M54 151.2l.3-.1 .3-.1 .3-.2 .3 0 .4 0 .3 0 .3 0 .3 0 .3 0 .3 0 .3 0 .3 0 .3 0 .3-.1 .4 .1 .3-.1 .3 .1 .3-1 .3 1 .3 0 .3 0 .3 0 .3 0 .3 0 .4 0 .3-.6 .3-.1 .3 .2 .3 0 .3 .1 .3-.9 .3 .6 .3 0 .3 .3 .4 .4 .3-1.3 .3-.4 .3 .1 .3 0 .3-.4 .3-.1 .3-1.1 .3-.4 .3 0 .4 .4 .3-1.2 .3 .8 .3 0 .3 .5 .3-.5 .3-.1 .3-.2 .3-.3 .4 .8 .3 .6 .3-1 .3 .5 .3 .5 .3-.1 .3 1.1 .3-1.5 .3 .7 .3-.9 .4-1 .3-.6 .3 .7 .3-2.2 .3 1.1 .3-.6 .3 0 .3 .1 .3-1.1 .3-.5 .4-.6 .3 .4 .3 1.2 .3-.5 .3-.8 .3 .2 .3 1.2 .3-.7 .3 1.7 .3-1.9 .4 1 .3 .2 .3 0 .3 .5 .3-.9 .3-.7 .3 1.2 .3-1 .3 .2 .3 .8 .4-.8 .3-.7 .3 1 .3-2.1 .3 1.1 .3 .9 .3-1.2 .3 .3 .3-.1 .4-1.6 .3 1.9 .3-.3 .3-1.2 .3 1.1 .3-1.3 .3 0 .3-.1 .3 1.2 .3-1 .4 1.6 .3-1.6 .3-.5 .3 .1 .3 .2 .3 .5 .3-.9 .3-.1 .3 2.1 .3-1.4 .4-.3 .3-.2 .3-.5 .3 .6 .3 .6 .3-1.4 .3 0 .3-.4 .3 .2 .3 .5 .3-.6 .3-.8 .4 .5 .3-.7 .3 .1 .3 0 .3-.6 .3-1.6 .3 1 .3-.9 .3 .2 .3 0 .3-.5 .3 0 .4-.6 .3-.4 .3 1 .3 .1 .3 .2 .3-1.1 .3-.1 .3 .9 .3-1.2 .3 1.2 .3 .2 .4-1.1 .3 0 .3 .4 .3 .8 .3 .1 .3-.3 .3 .4 .3-.1 .3 1.2 .3-1.1 .4-1 .3 .7 .3 0 .3 .3 .3-.9 .3 .2 .3 .4 .3-1.4 .3 .3 .3 1.4 .4-.9 .3 .4 .3-1 .3 1.5 .3-.3 .3 .7 .3-1 .3 .6 .3-.3 .4 .6 .3-.4 .3 .1 .3-2 .3 1.4 .3 .2 .4-1 .3 .7 .3-.1 .3-.3 .3-.3 .3 0 .4-.1 .3-.1 .3-.7 .3 1.1 .3-1.2 .3 1.1 .4-.8 .3-.5 .3 .1 .3 .5 .3-.9 .3 .8 .4-.8 .3-.7 .3 .5 .3 1.6 .3-1.8 .3 1.3 .4-.9 .3-1.5 .3-.2 .3-.3 .3-.3 .3 .9 .3-.7 .4-.1 .3-.2 .3 .4 .3 .9 .3-1.2 .3-.9 .3-.4 .4 .4 .3-1.4 .3 .8 .3-.7 .3 .2 .3 .1 .3-.7 .3 0 .3-.7 .3 1 .3-.5 .3-.8 .4 .2 .3-1.1 .3-.7 .3 0 .3-.6 .3 .8 .3-.3 .3-.8 .3-.4 .3-.2 .3-.9 .4 .1 .3-2.1 .3 1.4 .3 0 .3-.3 .3 .5 .3-.9 .3 .2 .3-.3 .4-.1 .3 .2 .3-.8 .3-.4 .3 1.6 .3-.9 .3-.6 .3 .2 .3-1.2 .4 1 .3-2 .3 .6 .3 1.1 .3-1.5 .3-.5 .3-.1 .3-.8 .3 .4 .4-.6 .3 0 .3 1.1 .3-.4 .3 .5 .3-.4 .3 .4 .3 .2 .4-.9 .3-1.4 .3 1.1 .3-1.4 .3 1.2 .3 .7 .3 .2 .3-1 .3 .9 .4-.4 .3 .3 .3-.8 .3 .3 .3 .4 .3-.7 .3-.7 .3-.2 .4-.4 .3 1.1 .3 0 .3-1.8 .3 1.4 .3-.3 .3 1.2 .3 .1 .4-.1 .3-.1 .3 0 .3 1 .3-.2 .3-.8 .3 .1 .4-.3 .3 .8 .3-1.3 .3 .7 .3 .1 .3-.4 .3-.5 .3-.1 .4 .3 .3-1.9 .3 .9 .3 .5 .3-.4 .3 .8 .3-1.1 .3-.3 .3 .8 .4-.1 .3 0 .3 0 .3-.1 .3-1.2 .3-.3 .3-.2 .3 .4 .3 .5 .4-.8 .3 .9 .3 0 .3 .4 .3-.4 .3 0 .3 .2 .3-.1 .3-.2 .3-.3 .4 .1 .3 .1 .3 .1 .3-.2 .3 .3 .3-.4 .3-.3 .3 .1 .3 .5 .3-.8 .4 0 .3 0 .3-.5 .3 1.5 .3-.1 .3-.9 .3 1.3 .3 .1 .3-.6 .3 0 .4-.9 .3 1 .3-.5 .3 .5 .3-.8 .3 .8 .3 0 .3-1 .3 1.6 .3-1.8 .4 .9 .3 .9 .3-.1 .3 .9 .3-.4 .3-.4 .3-1.1 .3 1.4 .3 .1 .4-.3 .3-.1 .3 .6 .3 .5 .3-1.1 .3 1.2 .3-1 .3 .3 .3-.3 .3 .1 .4 .7 .3-.4 .3-.9 .3 .2 .3-1.3 .3 0 .3-.7 .3 .9 .3-.7 .3 .5 .4-.2 .3 0 .3-.2 .3 1.2 .3-2 .3-.4 .3 .1 .3 .1 .3-1.3 .3 .7 .4-.5 .3-.2 .3-1 .3-.6 .3 .2 .3 .7 .3-.6 .3-1.3 .3 .1 .3-.9 .4-.2 .3 .2 .3 1 .3 .7 .3-.5 .3-.9 .3 .3 .3-1 .3 1.5 .4-.7 .3 .5 .3 .3 .3-.2 .3-.6 .3 .5 .3-.8 .3 .4 .3 .1 .3 .7 .4 0 .3 .2 .3-.4 .3-.6 .3 .1 .3 .8 .3-1.3 .3-.7 .3 0 .3 .4 .4-.2 .3 .7 .3-.6 .3 .5 .3-.6 .3-1 .3 1.2 .3 .1 .3-1.1 .3 .3 .4 .2 .3-.3 .3 .3 .3 .1 .3 .3 .3 .2 .3 .1 .3 .3 .3-1 .3-.5 .4 .4 .3 .2 .3-1.4 .3 .9 .3 1.3 .3-.3 .3 .1 .3-.2 .3-1.2 .4-.1 .3 .8 .3-.4 .3 .1 .3-.4 .3 1.1 .3-.2 .3 0 .3-.5 .3 .1 .4 1.7 .3-.5 .3-.8 .3-.6 .3-.3 .3-1 .3 .5 .3 .7 .3 .2 .3-.3 .4 .8 .3-.1 .3 .7 .3-.5 .3 .6 .3-1.1 .3-.2 .3 .4 .3 .1 .3-1.5 .4 1.1 .3 1.3 .3-.8 .3 1 .3 .5 .3-.3 .3-1 .3-.4 .3 .8 .3 .5 .4 .2 .3-.3 .3 .1 .3-1.5 .3 .2 .3 0 .3 .4 .3-.6 .3 .7 .4-.5 .3-.5 .3 .6 .3-1.1 .3 .3 .3-.1 .3-1.4 .3 .2 .3 0 .3 .3 .4-.6 .3-.3 .3 .1 .3 .3 .3-.1 .3 .4 .3 .3 .3-.1 .3-.8 .3-.6 .4 1.7 .3-1.3 .3 .4 .3 .7 .3 .1 .3-.8 .3-.7 .3 .5 .3 .4 .3 .3 .4-.2 .3-.5 .3 2.2 .3-.2 .3-.1 .3-.9 .3-.1 .3-1.3 .3 1 .3-.8 .4-.3 .3 0 .3 2 .3-1 .3-.1" stroke="#ff8000" stroke-width="1.04"/>
<path d="M54 151.2l.3-1.1 .3-1.1 .3-1.5 .4-.9 .3-1.2 .3-1.9 .3-.2 .3-1.5 .3-1.5 .3-2.6 .3 .8 .4-2.6 .3 .4 .3-1.3 .3-1.4 .3-1.4 .3-2.1 .3 1.3 .3-1.4 .4-1.1 .3-2.3 .3-1.2 .3-.2 .3-1.2 .3-2 .3 .9 .3-.7 .4-1.3 .3-1.2 .3-.2 .3-.5 .3 .3 .3 .8 .3-1.6 .3-.3 .4 .8 .3-.5 .3-.5 .3-.3 .3-1.6 .3-.2 .3-.6 .3-.5 .4-.4 .3 0 .3 1.6 .3-2.5 .3 .6 .3-1.1 .3-1.2 .3 .7 .4-.4 .3-.1 .3 .1 .3 .1 .3 .3 .3 .3 .3-1.9 .3 .8 .4-.8 .3 .5 .3-.4 .3 1.2 .3-.3 .3-.2 .3-1.3 .3 .8 .4-.6 .3-.1 .3-.5 .3 .7 .3-1.1 .3-.4 .3 .4 .4 .1 .3-.5 .3 1.6 .3-1.2 .3 .6 .3 .3 .3-1 .4 1.3 .3-1 .3 1.2 .3-.4 .3 .7 .3-1 .4 1.5 .3 .6 .3-.2 .3 .2 .3-.1 .3 1.5 .4-.6 .3-.4 .3 1 .3-.4 .3-1 .3 1.5 .3 .2 .4-.4 .3-.7 .3 .8 .3 1.5 .3 .5 .3 .7 .4-1 .3-.1 .3 .1 .3 .7 .3-1.1 .3-.3 .3 .5 .3-.5 .3 2.6 .4-.9 .3-1 .3 .6 .3 .9 .3-.9 .3-.3 .3 .8 .3-.1 .3 .3 .3-1 .4 .8 .3 .7 .3 .6 .3-1.7 .3 1.7 .3-.7 .3-.7 .3 1.3 .3 0 .3 .4 .4 .1 .3-1.1 .3 .3 .3 .4 .3 1.1 .3-1.3 .3 1.2 .3 .7 .3-.9 .4-.1 .3-.4 .3 1.5 .3-1.2 .3-.2 .3 .3 .3 1.2 .3-.2 .3-.5 .3-1.1 .4 0 .3 1.1 .3-1.1 .3 1 .3-.4 .3 .2 .3 1.4 .3-1.7 .3 1.4 .3-.1 .4 1 .3-.5 .3 .1 .3-.8 .3 2.6 .3-.5 .3 .2 .3-.7 .3 .6 .3-.3 .4 .1 .3-1.1 .3 .2 .3 1.3 .3-.4 .3-.7 .3 1.3 .3 0 .3-.5 .3 1.2 .4 .5 .3-.3 .3-.7 .3-.5 .3 .1 .3 1 .3 0 .3-1.7 .3 1.4 .4 .4 .3-.4 .3 .5 .3 .4 .3 .4 .3 .7 .3-.9 .3 .1 .3 .7 .3-.4 .4-.2 .3-.6 .3 .8 .3-.3 .3 .6 .3-.6 .3-.6 .3-.7 .3 1.5 .3-.1 .4 .2 .3-1.3 .3 .9 .3-.3 .3 1.4 .3-1.7 .3 .4 .3-.6 .3 1.4 .3-.6 .4-.2 .3 .4 .3-1.1 .3 .9 .3-.4 .3-.1 .3 .4 .3 .9 .3 .4 .3-.2 .4 1 .3-1.2 .3-.3 .3 1.2 .3-1.4 .3 .2 .3 1.1 .3-.1 .3 .1 .4-.3 .3 .9 .3-.5 .3-1.9 .3 2.4 .3-.7 .3-.6 .3 1.1 .3 1.3 .3-.5 .4-1.7 .3-.1 .3 .4 .3-.7 .3 .5 .3-.6 .3 .3 .3-2.3 .3-.3 .3 1.4 .4-1.3 .3-.9 .3 1.3 .3 0 .3 .7 .3-.1 .3 .4 .3-.2 .3 .3 .3-.5 .4-.4 .3 .4 .3 .7 .3-.2 .3 .9 .3-.7 .3-1.2 .3 2.5 .3-.8 .3-.1 .4 1.3 .3-.8 .3-.8 .3 1.6 .3 1 .3-.1 .3 0 .3-.8 .3 1.3 .4-.9 .3-.8 .3 .7 .3 .7 .3 .1 .3-.1 .3 .2 .3-.5 .3-.8 .3 0 .4 1.5 .3-.8 .3 .8 .3-.1 .3 .7 .3-1.4 .3 .3 .3 1.4 .3-1.1 .3 0 .4 .3 .3-1.7 .3 .1 .3 1.9 .3 .5 .3-.2 .3 .3 .3-.3 .3 .5 .3-1.5 .4 2.3 .3 .1 .3 1 .3-.8 .3-.4 .3-.3 .3-.1 .3 .1 .3-1.1 .3 1 .4-1 .3 .7 .3 .3 .3 1 .3 .7 .3-1.8 .3 .3 .3-.3 .3 .7 .4 .6 .3-1.2 .3-.8 .3-.4 .3 1.9 .3-1.1 .3-1.7 .3 .7 .3 .6 .3-.1 .4 0 .3-1.2 .3 1.2 .3 .6 .3 .2 .3 .3 .3 .4 .3-.5 .3-.6 .3 .8 .4 1 .3-.3 .3 1.2 .3-2.1 .3 1.2 .3-.7 .3 1.1 .3-.2 .3 .6 .3-.9 .4 .5 .3-2 .3 .4 .3-.8 .3 .2 .3 .6 .3-1 .3 .4 .3 .8 .3-1.1 .4 0 .3 .1 .3-1.4 .3 1.4 .3-.3 .3 .2 .3 .4 .3-1.9 .3-.2 .4 1.4 .3-.2 .3-.1 .3-.9 .3 .2 .3 0 .3 .2 .3-.7 .3 .3 .3-1.3 .4 .7 .3-.8 .3 1.4 .3-.1 .3 .9 .3-1.1 .3-1.3 .3-.5 .3 .8 .3 .2 .4-.9 .3 .8 .3-.3 .3-.4 .3 1.3 .3-1.2 .3 .3 .3 0 .3-.3 .3 .3 .4 .4 .3 1.1 .3 .5 .3 1 .3-1.4 .3-.9 .3 .7 .3 .4 .3-1.2 .3 1.5 .4-.2 .3-.1 .3-.5 .3-.5 .3 1 .3-.7 .3 .1 .3 .3 .3-1.2 .4 .5 .3 .3 .3 0 .3 .4 .3-2 .3 1.5 .3-1.4 .3 .7 .3-.6 .4-.2 .3-.5 .3-.8 .3-.3 .3 .3 .3-.6 .3 1.9 .4 .9 .3-.1 .3-.3 .3 .5 .3 .1 .3-.4 .3-.9 .4 1.5 .3-.5 .3-.8 .3-.4 .3-1.1 .3 1.9 .4 .3 .3 0 .3 .8 .3-1.6 .3 1.5 .3-1.8 .3 1.2 .4 .6 .3 .1 .3 .1 .3-.3 .3 .2 .3-.1 .3-.4 .4 1 .3-1 .3 1.7 .3-.2 .3-.4 .3-.8 .3 0 .4-1.2 .3-.2 .3 1.2 .3 .1 .3-.6 .3 1.3 .3-2.2 .4-.2 .3 .8 .3-.2 .3 .6 .3 1.3 .3-.9 .3-.9 .4 2.1 .3-2 .3 .8 .3-.8 .3 .1 .3 .3 .3 .3 .4 .1 .3 .7 .3-1.4 .3 .3 .3 .3 .3-.6 .3-.8 .4 .7 .3-.7 .3-.4 .3 .3 .3-1.1 .3-1 .3 1.3 .3 0 .4 .1 .3 .8 .3-.9 .3 .6 .3-.4 .3 1 .3-1.7 .4 .3 .3 .6 .3-2.1 .3 1 .3-1.2 .3 .8 .3-.9 .4-.2 .3 1.5 .3-.4 .3 0 .3 .6 .3 .1 .3 0 .4-1.6 .3 1.3 .3-.5 .3-.1 .3-.4 .3 0 .3-.6 .4 1 .3-1.2 .3 .9 .3 .1 .3-1.1 .3 0 .3 .8 .4-1.5 .3 1.1 .3-1 .3 1.5 .3-.1 .3 .3 .3 .6 .3-1.1 .4 1 .3 .2 .3-1.2 .3 1.2 .3 .4 .3-1.4 .3-.1 .4 .5 .3 .1 .3-.4 .3-1.8 .3 1.2 .3-1.4 .3 1.2 .4 .1 .3 0 .3 1 .3-1" stroke="#ff8000" stroke-width="1.04"/>
<path d="M54 151.2l.3-.7 .3-.7 .3 .3 .4-1.8 .3-.5 .3-1.4 .3 .2 .3-.7 .3-1.5 .4-1.2 .3 1 .3-2.5 .3-1.4 .3-.1 .3-1.5 .4 .3 .3-1.4 .3-.4 .3-.7 .3-1.7 .3 .5 .3-.5 .4-1.7 .3 0 .3-1.2 .3-.2 .3-1.6 .3-1.2 .4-.4 .3 .5 .3-1.9 .3 .2 .3-1.4 .3 .2 .3 .1 .4-2.4 .3 1.7 .3-.2 .3-.9 .3-.6 .3 .2 .3-.7 .3-1.2 .4 .5 .3-.7 .3-.4 .3-.9 .3-.1 .3-.5 .3-.7 .4 .3 .3-1.2 .3 .3 .3-.9 .3 .4 .3-1.2 .3 .1 .3-1.1 .4-.5 .3-1.4 .3 1.8 .3-1.6 .3-.7 .3 .6 .3-.7 .3 1.4 .4 .5 .3-1 .3-.3 .3 1.3 .3 1.1 .3-1.3 .3 .4 .3-.5 .4 .1 .3-.3 .3-1.1 .3 .6 .3 2.4 .3-.8 .3-.7 .3-.1 .4 .7 .3-.8 .3 .3 .3 .4 .3 .4 .3-.5 .3 .1 .3 0 .3 .2 .3-.2 .4-1.1 .3 .6 .3-1 .3 .7 .3 1.4 .3-.1 .3 .2 .3 .2 .3-.2 .4-.6 .3 .2 .3-.3 .3 .3 .3 .2 .3 0 .3 1.3 .3 .3 .3 .3 .3-.9 .4 1.4 .3-.3 .3-.1 .3-.3 .3 1.3 .3 .1 .3 .1 .3 .4 .3-.4 .3 .1 .4 .1 .3 .4 .3-.1 .3 1.8 .3-1.1 .3 1.1 .3 .4 .3-.2 .3-1 .3 .9 .4 1.1 .3 .5 .3 .1 .3-1.3 .3 2.1 .3-.8 .3-.3 .3-.4 .3-.1 .3 .6 .4 .5 .3-1.2 .3 1.2 .3 1 .3 .5 .3-1.2 .3 .3 .3-.4 .3 .7 .4-.9 .3 1.1 .3-1.6 .3 1.4 .3 .7 .3-1.1 .3 0 .3 .9 .3-.5 .3 0 .4 .7 .3-1.1 .3 1.1 .3-.6 .3 0 .3-.2 .3 1.4 .3-.6 .3-.7 .3 1.1 .4-1.5 .3 1.3 .3-.5 .3 .7 .3-.9 .3 .8 .3 .7 .3-.4 .3 1.2 .3-1.3 .4 .3 .3-.1 .3-.4 .3-1.3 .3 1.1 .3-.8 .3 .8 .3 .4 .3-.9 .3 1.2 .4-1.2 .3 2.6 .3-1.5 .3 1.3 .3 0 .3-.4 .3-1.2 .3 .6 .3-1.9 .4 .4 .3 .2 .3-.5 .3 .1 .3 .3 .3-.5 .3 .5 .3 .2 .3 .8 .3 1 .4-1.6 .3 .7 .3-1.2 .3 2 .3-2 .3 .9 .3 .6 .3-.3 .3-.9 .3 .6 .4 0 .3-.1 .3 1.1 .3 .7 .3 .2 .3 .1 .3-.4 .3-.1 .3 2.1 .3-2.5 .4 1.7 .3-.4 .3 .6 .3-1.5 .3 1.3 .3 0 .3 .1 .3-.4 .3-1.7 .3 .4 .4 .9 .3 .9 .3 .2 .3-1.3 .3-.1 .3 .6 .3-.1 .3-.2 .3 .3 .4-.2 .3 .3 .3 .9 .3-.7 .3 0 .3-.2 .3-.2 .3-.3 .3 .8 .3-.9 .4 .6 .3 .3 .3 .1 .3-.3 .3 .8 .3-.9 .3 .5 .3-.5 .3 .2 .3 .2 .4 0 .3-.4 .3-1.5 .3 .9 .3 .3 .3-.3 .3 .4 .3-.8 .3 1.3 .3-.2 .4-1 .3 1.2 .3-.3 .3 .7 .3-.5 .3-.3 .3-.2 .3-.5 .3 1.8 .3-.2 .4-1.5 .3 1.5 .3 0 .3 0 .3 .2 .3-.7 .3 1 .3-1.1 .3-.2 .4 1.1 .3 .4 .3-.2 .3 .7 .3-.4 .3-.8 .3 .1 .3 .4 .3-.4 .3 .7 .4-1.1 .3-.6 .3 1 .3 .5 .3-.9 .3 1.2 .3 .7 .3-.7 .3 .3 .3-.4 .4 .2 .3 .9 .3-.3 .3-.5 .3 .3 .3-.4 .3 0 .3 .7 .3-.5 .3-1.1 .4-.2 .3 .9 .3 .4 .3-1.5 .3 .3 .3 .7 .3-2 .3 .9 .3-.1 .3-.4 .4-1.4 .3 .1 .3 .3 .3 2.4 .3-.7 .3-1.6 .3 .9 .3-.4 .3 .4 .4 .6 .3 .6 .3-.3 .3-.6 .3 .4 .3 .1 .3 .6 .3-.7 .3 1.8 .3 0 .4-.7 .3 1.4 .3-1.5 .3-.6 .3 1.7 .3-.3 .3-.6 .3 .5 .3-1.1 .3 1 .4-1 .3 1.2 .3 .2 .3 .4 .3 0 .3-.1 .3 1 .3 .1 .3-1 .3-.8 .4 1.7 .3 .3 .3-1.6 .3 .7 .3-1 .3 1.6 .3-2 .3 .8 .3 .9 .3-.1 .4 .3 .3-1.1 .3 .7 .3-.2 .3-.2 .3 1.2 .3-.7 .3 .1 .3-.8 .4 .6 .3 1.2 .3 .7 .3-1.5 .3-.9 .3 1.8 .3-1.5 .3 1.1 .3 1 .3-1.3 .4 .6 .3-.1 .3 0 .3 .3 .3 .5 .3-.6 .3 1.8 .3-.5 .3-.6 .3-.5 .4-.8 .3 1.3 .3 1.2 .3-1.8 .3 1.7 .3 0 .3-.3 .3-1 .4-.2 .3 .1 .3 1.5 .3-.7 .3-2.1 .3 2 .3-.5 .4-1.5 .3-.2 .3 2 .3-1.1 .3 1 .3 .3 .3 .6 .4-1.4 .3 1.5 .3-1 .3-.6 .3-.2 .3 .7 .3 .1 .3-1 .4 1.2 .3 0 .3-1.4 .3-1.3 .3 1.1 .3 .2 .3-.4 .4 1.6 .3-.5 .3-1.3 .3 .7 .3-.8 .3-.5 .3 .6 .4-1.1 .3 .3 .3 .9 .3-.8 .3 .2 .3 .4 .3 .5 .4-.3 .3-.1 .3-.5 .3 1.3 .3-.2 .3 .3 .3-.9 .4-1.1 .3 .9 .3 .5 .3 .1 .3-1.3 .3 .5 .3-.7 .4 .8 .3-.6 .3-.4 .3 1.5 .3 .2 .3-.8 .3 .4 .3 .4 .4-.4 .3 1.2 .3-.1 .3 .4 .3 .8 .3-.4 .3 0 .4-1.7 .3 1.7 .3 .7 .3-.6 .3-.5 .3-.6 .3 .7 .4 1.1 .3-.8 .3 0 .3 .1 .3-.5 .3-.9 .3-.6 .4 1.3 .3 .4 .3-1.4 .3 1.7 .3-.3 .3 .4 .3-.4 .4-.8 .3 2.3 .3-.8 .3 .2 .3-.8 .3 1.5 .3-1.4 .3 .6 .4-.2 .3 .4 .3-.2 .3 .2 .3 0 .3-.6 .3-.6 .4 .6 .3 .2 .3 .8 .3 0 .3-.3 .3 .6 .3-.3 .4 .2 .3-.3 .3-.8 .3 .1 .3 1.1 .3-.9 .3-.7 .4 1.2 .3 .4 .3-1.4 .3-.5 .3-.3 .3 1 .3-.6 .4 .2 .3-.1 .3 .4 .3 .6 .3 .2 .3-.9 .3 .9 .4-.5 .3-.6 .3 1.3 .3 .5 .3-.1 .3 .6 .3-1.2 .3 0 .4 0 .3 .1 .3 .8 .3-.3 .3-.7 .3 .4 .3 .2 .4 .4 .3-.3 .3-.2 .3 0 .3-.8 .3 1.3 .3-.6 .4 .1 .3 1.1 .3 .6 .3-.9" stroke="#ff8000" stroke-width="1.04"/>
</g>
<rect x="54" y="17.6" width="182.4" height="133.6" fill="none" stroke="#000" stroke-width="1.4"/>
<line x1="54" y1="151.2" x2="54" y2="148.2" stroke="#000" stroke-width="1"/>
<text x="53.7" y="163.9" text-anchor="middle" font-size="11.9">0</text>
<line x1="80.06" y1="151.2" x2="80.06" y2="148.2" stroke="#000" stroke-width="1"/>
<text x="79.76" y="163.9" text-anchor="middle" font-size="11.9">1</text>
<line x1="106.11" y1="151.2" x2="106.11" y2="148.2" stroke="#000" stroke-width="1"/>
<text x="105.81" y="163.9" text-anchor="middle" font-size="11.9">2</text>
<line x1="132.17" y1="151.2" x2="132.17" y2="148.2" stroke="#000" stroke-width="1"/>
<text x="131.87" y="163.9" text-anchor="middle" font-size="11.9">3</text>
<line x1="158.23" y1="151.2" x2="158.23" y2="148.2" stroke="#000" stroke-width="1"/>
<text x="157.93" y="163.9" text-anchor="middle" font-size="11.9">4</text>
<line x1="184.29" y1="151.2" x2="184.29" y2="148.2" stroke="#000" stroke-width="1"/>
<text x="183.99" y="163.9" text-anchor="middle" font-size="11.9">5</text>
<line x1="210.34" y1="151.2" x2="210.34" y2="148.2" stroke="#000" stroke-width="1"/>
<text x="210.04" y="163.9" text-anchor="middle" font-size="11.9">6</text>
<line x1="236.4" y1="151.2" x2="236.4" y2="148.2" stroke="#000" stroke-width="1"/>
<text x="236.1" y="163.9" text-anchor="middle" font-size="11.9">7</text>
<line x1="67.03" y1="151.2" x2="67.03" y2="149.5" stroke="#000" stroke-width="1"/>
<line x1="93.09" y1="151.2" x2="93.09" y2="149.5" stroke="#000" stroke-width="1"/>
<line x1="119.14" y1="151.2" x2="119.14" y2="149.5" stroke="#000" stroke-width="1"/>
<line x1="145.2" y1="151.2" x2="145.2" y2="149.5" stroke="#000" stroke-width="1"/>
<line x1="171.26" y1="151.2" x2="171.26" y2="149.5" stroke="#000" stroke-width="1"/>
<line x1="197.31" y1="151.2" x2="197.31" y2="149.5" stroke="#000" stroke-width="1"/>
<line x1="223.37" y1="151.2" x2="223.37" y2="149.5" stroke="#000" stroke-width="1"/>
<line x1="54" y1="151.2" x2="57" y2="151.2" stroke="#000" stroke-width="1"/>
<text x="51.6" y="154.8" text-anchor="end" font-size="11.9">0.0</text>
<line x1="54" y1="127.62" x2="57" y2="127.62" stroke="#000" stroke-width="1"/>
<text x="51.6" y="131.22" text-anchor="end" font-size="11.9">0.3</text>
<line x1="54" y1="104.05" x2="57" y2="104.05" stroke="#000" stroke-width="1"/>
<text x="51.6" y="107.65" text-anchor="end" font-size="11.9">0.6</text>
<line x1="54" y1="80.47" x2="57" y2="80.47" stroke="#000" stroke-width="1"/>
<text x="51.6" y="84.07" text-anchor="end" font-size="11.9">0.9</text>
<line x1="54" y1="56.89" x2="57" y2="56.89" stroke="#000" stroke-width="1"/>
<text x="51.6" y="60.49" text-anchor="end" font-size="11.9">1.2</text>
<line x1="54" y1="33.32" x2="57" y2="33.32" stroke="#000" stroke-width="1"/>
<text x="51.6" y="36.92" text-anchor="end" font-size="11.9">1.5</text>
<line x1="54" y1="139.41" x2="55.7" y2="139.41" stroke="#000" stroke-width="1"/>
<line x1="54" y1="115.84" x2="55.7" y2="115.84" stroke="#000" stroke-width="1"/>
<line x1="54" y1="92.26" x2="55.7" y2="92.26" stroke="#000" stroke-width="1"/>
<line x1="54" y1="68.68" x2="55.7" y2="68.68" stroke="#000" stroke-width="1"/>
<line x1="54" y1="45.11" x2="55.7" y2="45.11" stroke="#000" stroke-width="1"/>
<line x1="54" y1="21.53" x2="55.7" y2="21.53" stroke="#000" stroke-width="1"/>
<text x="144.9" y="175.7" text-anchor="middle" font-size="11.6" font-weight="bold">Displacement (mm)</text>
<text transform="translate(28.1,86.8) rotate(-90)" text-anchor="middle" font-size="11.5" font-weight="bold">Peeling force (N)</text>
<line x1="192.4" y1="26.2" x2="210.0" y2="26.2" stroke="#000000" stroke-width="0.9" opacity="0.68"/>
<text x="212.7" y="29" font-size="7.8">NC</text>
<line x1="192.4" y1="35.8" x2="210.0" y2="35.8" stroke="#ff0000" stroke-width="0.9" opacity="0.68"/>
<text x="212.7" y="38.6" font-size="7.8">PT-25</text>
<line x1="192.4" y1="45.4" x2="210.0" y2="45.4" stroke="#00ee00" stroke-width="0.9" opacity="0.68"/>
<text x="212.7" y="48.2" font-size="7.8">PT-20</text>
<line x1="192.4" y1="55" x2="210.0" y2="55" stroke="#0000ff" stroke-width="0.9" opacity="0.68"/>
<text x="212.7" y="57.8" font-size="7.8">PT-14</text>
<line x1="192.4" y1="64.6" x2="210.0" y2="64.6" stroke="#ff8000" stroke-width="0.9" opacity="0.68"/>
<text x="212.7" y="67.4" font-size="7.8">PT-12</text>
<clipPath id="clip330"><rect x="330" y="17.6" width="183" height="134.4"/></clipPath>
<g clip-path="url(#clip330)" fill="none" stroke-linejoin="round">
<path d="M330 152l.3-.3 .3-.4 .3-1.5 .3 1 .4 .4 .3-.3 .3-1.7 .3 0 .3-2.1 .3 2.2 .3-2.6 .3 1.5 .3 .4 .3-3.5 .4 2.7 .3-.2 .3-1.8 .3 1.9 .3-2 .3-1.7 .3 2.1 .3-1.6 .3-1.2 .4-.3 .3 1.3 .3-2.9 .3 1.8 .3-2.3 .3 .6 .3 1 .3 .5 .3-1.3 .4-1.3 .3 .9 .3-.8 .3-.8 .3-1.9 .3 2.2 .4 1.4 .3-1.8 .3-2.1 .3 1.9 .3 1 .3-.5 .4-.9 .3 1.7 .3-.8 .3-1.4 .3 1.4 .3-.2 .4 .2 .3-1 .3-1.3 .3 .9 .3-1 .4 .8 .3 .9 .3-2.4 .3 1.2 .3-1.1 .3-.2 .4 .5 .3-.4 .3 1.3 .3-1.7 .3-1.2 .3 1.4 .4 0 .3-.3 .3 .4 .3 .1 .3-.3 .3 1.6 .4-1.1 .3 .2 .4 .2 .3-1.9 .4 5.1 .4 1.8 .3 0 .3-1.4 .3 1.4 .3 .4 .4-1 .3-.9 .3 .4 .3 .2 .3-.5 .3-1.1 .3 1.1 .3-.4 .3-.9 .4 .5 .3-.6 .3 2.8 .3-1 .3-.4 .3 .1 .3-1.4 .3 2.2 .3-1.4 .4 .4 .3 .1 .3 1.3 .3-.7 .3 .4 .3-.7 .3 1.8 .3-.5 .3 .5 .4-1.5 .3 1 .3-.3 .3-.2 .3 1.1 .3-.5 .3 1.8 .3-1.7 .3 .1 .4 .1 .3-.1 .3 1.5 .3-1.5 .3 1.8 .3-.9 .3-.2 .3 .4 .4-1.4 .3 .4 .3 1.6 .3-.2 .3 .8 .3-1.5 .3 1.5 .3 .7 .4-1.7 .3-.5 .3 .4 .3-.7 .3 .4 .3 .8 .3-1 .3 1.1 .4-1.1 .3-1.2 .3 1.2 .3-1.3 .3-.3 .3 .2 .3-.7 .3 2.2 .3-1.3 .4-1.1 .3-.6 .3 1.9 .3-.6 .3-.4 .3-.2 .3-.4 .4 1.6 .3-1.7 .3 .9 .3-.5 .3-1.3 .4 .4 .3-.5 .3 .1 .3 .3 .3-1 .3 .7 .4 .5 .3-1.9 .3 1.1 .3-1.5 .3 .8 .4 .7 .3 .5 .3-1.1 .3-2.1 .3 1.7 .3-.8 .4 .2 .3-.9 .3 .6 .3 .3 .3-.9 .3 .5 .4-.5 .3 .7 .3-.9 .3 .9 .3 .1 .4-.9 .3 .9 .3-.7 .3-.4 .3-.5 .3 .5 .3 .4 .4-1.6 .3 .1 .3-.2 .3-.4 .3 1.2 .3 .2 .3-.1 .4-.5 .3 .4 .3-.1 .3 .7 .3 .1 .3 .7 .3-.2 .3-.1 .4 .3 .3 1 .3 1.1 .3-2.5 .3 0 .3 1.3 .3 1.2 .4-1.9 .3 1.2 .3-.2 .3-.5 .3-.4 .3-1 .3 1.4 .4 .2 .3-.6 .3 1.3 .3-1.8 .3 2.2 .3-.9 .3-.1 .4-1 .3 1.5 .3 .6 .3-2.5 .3 .2 .3 1.6 .3-.6 .3 .4 .4-.3 .3 1.2 .3-1.3 .3-.3 .3 1.3 .3 1.2 .3-.8 .4-.4 .3 .5 .3 .6 .3-.9 .3-.2 .3 .7 .3 .7 .4-.8 .3 1.6 .3-.9 .3 1.5 .3-3.2 .3 1.4 .4 1.8 .3-1.2 .3-.1 .3-.9 .3 .4 .3 .9 .3-.5 .4 .8 .3-.5 .3 .9 .3-1 .3 1.3 .3 0 .3-1.3 .4-2.3 .3 1.2 .3 .1 .3-.3 .3 .4 .3 2.3 .4-2.7 .3 .5 .3 .6 .3-.5 .3 0 .3-.6 .3 .5 .4 2.1 .3-.8 .3-1 .3 1.4 .3 .2 .3 .6 .3-.9 .4-.1 .3 .8 .3-1.4 .3 1.1 .3 1 .3-1.2 .4 0 .3-1.1 .3 1.6 .3-.9 .3-.2 .3 .6 .3-.2 .4 1 .3 .3 .3-.9 .3-.3 .3 .4 .3 0 .3 1.2 .4-.8 .3 1.5 .3-1.9 .3-1.3 .3 1.2 .3 1.6 .4-.9 .3-.6 .3-.4 .3 1.1 .3-.7 .3 1.1 .3-2 .4 1.9 .3-.3 .3-.6 .3 .7 .3 .8 .3-1.9 .3 .7 .4 1.3 .3-2.4 .3 .5 .3 1.2 .3-.2 .3-2 .4 2.6 .3-1 .3-.5 .3 .8 .3-.5 .3-1.3 .3 1.9 .4 1.1 .3 .3 .3-1.1 .3-3 .3 1.6 .3 .1 .3 1.7 .4 .1 .3-1.2 .3 0 .3 .8 .3-.8 .3-1.6 .4 2.4 .3 .7 .3-1.2 .3 .4 .3 1 .3-1.1 .3 .6 .4-.1 .3 1.3 .3 .6 .3-.8 .3 .6 .3-.2 .3-.5 .4-.7 .3 .1 .3-1.3 .3-.3 .3 2.5 .3-1.7 .4-1.6 .3 2.1 .3 1.1 .3-2.2 .3 1.1 .3-.2 .3 .5 .4-1.4 .3 .2 .3 .5 .3 2.5 .3-3 .3 1.5 .3 .1 .4-2.4 .3 2 .3-2.4 .3 2.7 .3 .3 .3 .4 .3-2.7 .4 2.3 .3-.3 .3 .5 .3-.6 .3-.6 .3 .5 .4-.6 .3-.7 .3-.5 .3 2 .3-.4 .3-.1 .3-1.7 .4 2 .3-.2 .3 .4 .3-.5 .3 .2 .3-.4 .3-.6 .4 1 .3-1.2 .3 1.5 .3-.5 .3-.2 .3-.1 .4-.4 .3-.6 .3 .5 .3 .9 .3-1.5 .3 0 .3 1.2 .4 .5 .3-1.6 .3 .8 .3-1.3 .3 1.3 .3-1 .3 1.4 .4 .1 .3-1.2 .3 1.9 .3 .2 .3-2 .3 2 .4-2.2 .3 .9 .3-1.3 .3 .3 .3 0 .3 .8 .3-1.2 .4 .5 .3 1.2 .3-.8 .3 .6 .3-.6 .3 .3 .3 0 .4-1 .3-1 .3 1 .3 .4 .3-1.2 .3-.7 .4 .4 .3-.7 .3 .1 .3-.3 .3 .5 .3-.2 .3-.3 .4-1 .3 1.7 .3-.3 .3 .3 .3 .9 .3-.9 .3-.3 .4 .2 .3 .1 .3-.8 .3 1.3 .3 .6 .3-1.1 .4 .4 .3-1.9 .3 2 .3-1.9 .3 1.9 .3-.9 .3 .9 .4 .1 .3 .3 .3 1 .3-.4 .3-.4 .3 .5 .3-2 .4 .5 .3-.3 .3 .3 .3-.1 .3-.1 .3-.5 .4 2 .3-2.7 .3 2.1 .3-1.1 .3 .3 .3 1.3 .3-.4 .4 1.3 .3-1 .3-.9 .3 .4 .3-1.2 .3 2.6 .3-.8 .4-2 .3 2 .3-1.5 .3 2.2 .3 .1 .3-1.3 .4 .5 .3 .8 .3 .6 .3-1.8 .3 .2 .3 1.4 .3-.4 .4 .5 .3 0 .3-.5 .3 1.6 .3-.4 .3-1.2 .3-1.6 .4 3.1 .3-.1 .3 .3 .3-.7 .3-1.2 .3 1 .4-1.7 .3 .4 .3 1.3 .3-.2 .3 .1 .3-.2 .3 .8 .4-1.3 .3-.7 .3-.7 .3 .9 .3-.2 .3-.1 .3 .3 .4-1.5 .3 .9 .3-1.5 .3-.8 .3 1.2 .3-.1 .4 .9 .3-.7 .3 .2 .3 .7 .3-1.2 .3 .5 .3 .1 .4 .7 .3-.7 .3 .2 .3-.2" stroke="#000000" stroke-width="0.88"/>
<path d="M330 152l.3-1.2 .3-1.2 .3-1.7 .4-.9 .3-.6 .3-1.1 .3-2.2 .3 0 .3-1.3 .3-1.8 .4-1.5 .3-.8 .3-1.6 .3-2.5 .3 .7 .3-3 .3-.5 .3-1.2 .4 .4 .3-.6 .3-1.7 .3-2.8 .3-.1 .3-2.7 .3 .6 .4-.6 .3 1.2 .3-2.4 .3 1.4 .3 0 .3-2.6 .3 .4 .3-.6 .3 .2 .3 1 .4-1.4 .3 0 .3-1.2 .3 0 .3 1.1 .3-.3 .3-.9 .3 1.2 .4-.5 .3 1 .3-.5 .3-.9 .3 1.8 .3 .6 .3-.4 .3 1.5 .4-1.4 .3 .4 .3-.5 .3 .7 .3 1.4 .3-2.5 .3 .8 .4 1.2 .3 .4 .3-.9 .3 1 .3 .9 .3-.4 .3 1.9 .3-1.3 .4 .3 .3-.4 .3 .8 .3 1.3 .3-.4 .3 1.3 .3-1.5 .3 0 .3 1.8 .4-.4 .3 1.1 .3 .2 .3 1 .3 1.6 .3-1.3 .3-.6 .3 0 .3 1 .4 .2 .3 .1 .3-.7 .3 .1 .3 .3 .3 .1 .3-1.6 .4 1.5 .3 .3 .3 .2 .3 .5 .3 .3 .3-.3 .3 1 .4-1 .3-2.1 .3 2.1 .3 .4 .3-1 .3 .1 .3 .8 .3 1.6 .4-2 .3 1.5 .3 .8 .3-1.3 .3 .4 .3-.4 .3 1.9 .4 .4 .3-.7 .3 1.4 .3-.2 .3-1.3 .3 1.5 .3-.9 .4 .9 .3 .6 .3-.5 .3 1 .3-1.5 .3 1.2 .3 .3 .3 .5 .3-1.6 .4 1.2 .3-1.4 .3 .6 .3-.1 .3 .2 .3-.7 .3 .2 .3-.7 .3-.1 .4 1.6 .3-.5 .3-.1 .3-1 .3 0 .3-.3 .3 2.3 .3-1.4 .4-.3 .3 .5 .3-.3 .3 0 .3-1.3 .3 1.6 .3 .2 .3 .5 .4-.8 .3 .5 .3-1 .3 .2 .3 .3 .3-.4 .3-.2 .3-.3 .4 2.2 .3-1.8 .3 .3 .3 .7 .3 .6 .3-1.1 .3-.1 .3-.4 .4 1.1 .3 1 .3-.9 .3 .9 .3 0 .3-.1 .3 1.3 .3 .4 .4-1.7 .3-.1 .3 2 .3-1.1 .3-.5 .3 2.1 .3-3 .3 .4 .4 1 .3-.4 .3-1.6 .3 .6 .3 .9 .3-.7 .3-.1 .3-.7 .3 .6 .4-.7 .3 1.1 .3-.2 .3-1.5 .3 1.5 .3-2.7 .3 1.9 .3 .1 .4 0 .3-.3 .3-.5 .3 2.2 .3-2 .3 1.8 .3-2.2 .3 1.9 .4 .5 .3-2.2 .3 .7 .3 .7 .3-.4 .3-.4 .3 .5 .3 .4 .4-.1 .3 .7 .3-.8 .3 1.1 .3-1.5 .3 1.4 .3-1.3 .3 0 .3 .8 .4-1.3 .3 .7 .3-.3 .3-.3 .3 .6 .3-1.2 .3 .5 .3 .3 .4 .8 .3-2.5 .3 .6 .3-.2 .3 .7 .3 .9 .3-1.1 .3-.4 .4 .7 .3 .5 .3 .6 .3 .6 .3-1.2 .3 .6 .3-.8 .3 0 .4-.9 .3 1.2 .3-1 .3 1.3 .3-.5 .3 .3 .3-1.3 .4-.6 .3 .7 .3 .3 .3-.7 .3 .7 .3 .8 .4 1 .3-.8 .3 0 .3-.3 .3 1 .3-.7 .3-.9 .4 .4 .3-.9 .3 .6 .3-.3 .3 2.5 .3-2.4 .3 1.4 .4-.1 .3 1.4 .3-.1 .3-.4 .3-1.5 .3 .7 .4 .7 .3-.9 .3-.1 .3-.4 .3 .5 .3 1 .3-1.3 .4 .2 .3-1 .3 1 .3 1.1 .3-.7 .3 1.9 .3-1.1 .4 .3 .3-.4 .3-2.1 .3 .4 .3 2.6 .3-2.6 .4 2.7 .3-1.5 .3-1.1 .3 .5 .3-.3 .3-.5 .3 .7 .4 1.3 .3-2.2 .3 .5 .3-2 .3 1.2 .3 1.1 .3 .2 .4-1.2 .3 .6 .3-1.5 .3 .6 .3 .8 .3 .2 .4-1.1 .3 1.2 .3-1 .3 1.7 .3-1.9 .3 1.4 .3-.4 .4-.4 .3-2 .3 2.8 .3-1.6 .3-.4 .3 1.1 .3-.5 .4-.5 .3 1 .3 0 .3 .7 .3-2.2 .3 .9 .4-.8 .3 .7 .3-.4 .3 .4 .3 2 .3-.6 .3-.9 .4-.3 .3 .6 .3 .7 .3 0 .3-1.1 .3 1 .3 0 .4-.4 .3 .5 .3-2 .3 1.4 .3-1.4 .3 1.7 .4-.5 .3-1 .3-.7 .3 0 .3-.1 .3 .1 .3 1.1 .4 .7 .3-.1 .3-.9 .3 1.2 .3-1 .3 .2 .3-.3 .4 .6 .3-.1 .3 .6 .3-3 .3 1 .3 .4 .4-.3 .3 1.1 .3 1.7 .3-1.5 .3-.3 .3-.1 .3 .3 .4-1.7 .3 .8 .3-.4 .3 .1 .3 .8 .3 .2 .3 .4 .4-.6 .3-.5 .3 .1 .3 .3 .3 2.5 .3-2.4 .3-.4 .4 2.1 .3-.3 .3 .3 .3-.6 .3 .1 .3-1 .4 1.9 .3-1 .3 1.5 .3-.4 .3-1.2 .3 .9 .3-.2 .4 1 .3 1.6 .3-.4 .3-1.4 .3-.9 .3 2.1 .3-1.8 .4-1.3 .3 1.2 .3 .9 .3 .1 .3-.4 .3-.2 .4-1 .3 2 .3 0 .3 0 .3-1.5 .3-1.3 .3 .8 .4 .1 .3-.1 .3 .6 .3 .5 .3-.8 .3 .2 .3 .2 .4-.6 .3-1.3 .3 2 .3 .6 .3-.9 .3-1.7 .4 .4 .3-.4 .3 2 .3-1.4 .3 .7 .3 .3 .3-.4 .4-.8 .3 .8 .3-1.4 .3 1.3 .3-.5 .3-1.1 .3 .9 .4-1.1 .3 .7 .3 .2 .3-.7 .3 2.5 .3-.7 .4-.7 .3 .1 .3-.6 .3 1.5 .3-.8 .3 .9 .3-.7 .4-.3 .3-1.6 .3 .8 .3 .2 .3 .5 .3 .4 .3 .2 .4-2.1 .3 .6 .3 .6 .3 0 .3 .8 .3-1.2 .4-.5 .3-.4 .3 2.8 .3 0 .3-.9 .3-.6 .3 .4 .4-.3 .3 .4 .3 .7 .3-2.4 .3 1.5 .3-1.4 .3-.4 .4 .8 .3 0 .3-.5 .3 2 .3-1.3 .3 1.1 .4-1.2 .3 1.1 .3-.3 .3-.2 .3 .3 .3 .6 .3-.8 .4 1.5 .3-2.8 .3 2.4 .3-1.1 .3 .1 .3 .5 .3-.4 .4 .4 .3-1.1 .3-.2 .3 1.1 .3-1.1 .3 .6 .4-1.1 .3 2 .3-.8 .3-1.8 .3 1 .3 2 .3-.6 .4-1.7 .3 1.8 .3-.1 .3 .9 .3 .1 .3-1.7 .3 1.2 .4-.4 .3 .3 .3-.7 .3-1.1 .3 1.8 .3-.5 .4 .8 .3 0 .3-.3 .3 .4 .3 .8 .3-.3 .3-.9 .4-.3 .3 .1 .3 .6 .3-.1 .3-1.7 .3 .9 .3 .9 .4-1.6 .3 .5 .3 .4 .3-.5 .3 .4 .3 .9 .4-1.2 .3 1.6 .3-1.6 .3 .3 .3 .7 .3 1.4 .3-2.3 .4-.7 .3-.7 .3 .1 .3 2" stroke="#000000" stroke-width="0.88"/>
<path d="M330 152l.3-1.4 .3-1.5 .3-1.5 .3-.5 .4-1.7 .3-3 .3 0 .3-2.7 .3-.3 .3-2.8 .3 .3 .3-1.9 .3-2.7 .4 .7 .3-2.8 .3-1.4 .3-1.8 .3-.9 .3-1.2 .3-2.4 .3-1.9 .4-.1 .3-.9 .3-.1 .3 0 .3-2.7 .4 .2 .3 .7 .3-2.4 .3-.7 .4 1.2 .3-2.6 .3-.9 .3 .6 .3-1.4 .3 1.5 .3 .7 .4-.2 .3-1 .3 .3 .3 .6 .3 1 .3-.5 .3-.3 .3 2.2 .3-.4 .4 1.1 .3-1.4 .3 .2 .3 1.8 .3 1.4 .3-1.6 .3-.2 .4-.8 .3 1.9 .3-1.8 .3 2.8 .3-.2 .3 0 .4-.2 .3 .7 .3 .8 .3-2.2 .3 1.8 .3-.7 .4 .3 .3 .4 .3-.4 .3 1.5 .3-.1 .3-.7 .4 .6 .3 .8 .3-1.5 .3 1 .3 1 .3-1 .4 .9 .3-.5 .3 .6 .3-.6 .3 .8 .3 .5 .4-.1 .3-.3 .3 .7 .3 .1 .3-.1 .3 .1 .3 .6 .3 .2 .4-.1 .3 .6 .3-2.2 .3 2.3 .3 0 .3-.1 .3 0 .3-.4 .3 1.6 .4-1.2 .3 1 .3-.4 .3-.1 .3-.5 .3 1.1 .3-.2 .3-1.2 .4 1.9 .3-.9 .3-.5 .3 2.3 .3-1 .3-.3 .3 .1 .4 1 .3 .6 .3-1.2 .3-1.5 .3 3 .4 .7 .3-.7 .3 .6 .3-.7 .3 .7 .3-.8 .4 1.3 .3 .3 .3-1.1 .3 .4 .3 1.4 .4-.2 .3-.8 .3-.4 .3 .6 .3-.6 .4 1.7 .3-1.6 .3 .6 .3 1 .3-.9 .4 1.5 .3 .7 .3-.9 .3 2.1 .3-.8 .3 .2 .3-.3 .3 .7 .3-2.4 .4 2.6 .3-.6 .3-.6 .3-1.3 .3 2.2 .3 .5 .3-1.6 .3 1 .3-.1 .4 1.5 .3-1.2 .3 1.4 .3-1.2 .3-.9 .3 .9 .3 1.1 .3-1.7 .3 1.1 .4-.6 .3 .9 .3 .9 .3-.4 .3 .9 .3-1.3 .3 .7 .3-.3 .3 .6 .4 1 .3-.3 .3-.3 .3 .5 .3 .8 .3-.5 .3-.2 .3 0 .4 .7 .3-1.1 .3 .5 .3 .6 .3 .5 .3-1.4 .3 .4 .3-.7 .3 1.7 .4-.4 .3 .3 .3 0 .3-.2 .3-1.4 .3 2.3 .3-1 .3 1.1 .4 .2 .3-1 .3-.7 .3-.7 .3 .3 .3 .7 .3-2.1 .3 2.2 .4-.2 .3 0 .3 .9 .3 .2 .3-1.1 .3 .4 .3 .3 .3-.7 .4 .3 .3 1.2 .3-1.6 .3 2 .3-3 .3 3.8 .3-2.1 .3-1.2 .3 .6 .4-.3 .3-.6 .3 1.1 .3 .1 .3 1.4 .3-1.3 .3 0 .3-.5 .4 1.7 .3 2.1 .3-2 .3 0 .3-1.6 .3 .3 .3 .8 .3 .3 .4-.9 .3 1.1 .3-1.3 .3 .2 .3 1.8 .3 .1 .3-1.2 .3-1.6 .4 1.8 .3-.1 .3 .2 .3-.6 .3-.1 .3 .2 .3-.2 .4 .6 .3-1.4 .3-.1 .3 .5 .3 .1 .3-.6 .4 0 .3-1.9 .3 1.7 .3 .4 .3 1.6 .3 .8 .3-1.2 .4 .5 .3 1.5 .3-1.6 .3 .5 .3-1.1 .3 2.1 .3-1.2 .4-2.4 .3 .1 .3 .8 .3 1 .3-.6 .3 1.9 .4-.5 .3-.5 .3-.7 .3 .2 .3 2.6 .3-2.7 .3 1.4 .4 .3 .3-1.5 .3 .7 .3-.1 .3-.7 .3-.1 .3 1 .4-.2 .3 0 .3-1.7 .3 1 .3 .6 .3 .4 .4-.2 .3-1.7 .3 1.3 .3-.4 .3 .5 .3-.4 .3 .4 .4-.6 .3 .3 .3 .3 .3-.5 .3 .6 .3-.1 .3 1.1 .4-1.3 .3-.5 .3-.5 .3-.2 .3-.6 .3 .3 .4 .9 .3-.4 .3 1.4 .3-.6 .3-.2 .3-.9 .3 .5 .4-.8 .3 2.2 .3-1.9 .3 .4 .3 1.2 .3-2.2 .3 1 .4 .6 .3-1.1 .3-.2 .3 1.6 .3-.4 .3 .6 .4 1 .3-2.4 .3 2.2 .3-1.6 .3 .6 .3 1.6 .3-2.1 .4 .4 .3-.1 .3 .5 .3-1.9 .3 .9 .3 1.2 .3-1.8 .4 0 .3-.5 .3 1.6 .3 .4 .3-.2 .3-1.6 .4 .2 .3 1 .3-.5 .3 2 .3-1.6 .3 .2 .3-1.6 .4 .1 .3 .6 .3-.2 .3-.6 .3 .4 .3 .6 .3-1.4 .4 1.3 .3 .1 .3 .9 .3-.8 .3-1.2 .3-.1 .4 2.5 .3-1.8 .3 .9 .3 .2 .3-.9 .3 .5 .3 .6 .4-.9 .3 1.5 .3-1.1 .3 .6 .3-1.5 .3 1.8 .3-.3 .4-.9 .3 .8 .3 1.2 .3 0 .3 0 .3 .5 .3-2.3 .4-.5 .3 1.8 .3 .7 .3 1.4 .3-2.5 .3 .2 .4 1.5 .3-.7 .3-1.3 .3 2.1 .3-.4 .3-1.2 .3-.4 .4 .7 .3 .5 .3-1.5 .3 1.8 .3-.6 .3-1.3 .3 .7 .4-.4 .3-.4 .3 .6 .3 .8 .3 0 .3 .7 .4-1.7 .3 .3 .3 .7 .3-1.4 .3 1.2 .3-1.3 .3 2.5 .4-1.6 .3 .1 .3 .2 .3-.1 .3 .5 .3 2.1 .3-2.1 .4-.2 .3 .7 .3 0 .3-.1 .3-.4 .3 .1 .4 .8 .3-.6 .3 0 .3-1.1 .3 1.4 .3-1.5 .3-.5 .4 2.6 .3-1 .3-1 .3 .4 .3-.2 .3 1.1 .3-1.6 .4 .7 .3 1 .3-.3 .3-1.1 .3 2.6 .3-1.9 .4-1 .3 1.2 .3-.2 .3 .6 .3-.1 .3-.8 .3 .4 .4 .4 .3 .5 .3-2.5 .3 2.7 .3-.2 .3-1.6 .3 .1 .4 1.3 .3-.6 .3 .3 .3-.7 .3 .3 .3 .3 .4-1.1 .3 1.2 .3 .1 .3-.8 .3 .1 .3 1.2 .3-1 .4-.3 .3 .2 .3 .8 .3-.9 .3 .8 .3-.1 .3-.9 .4-.3 .3-.2 .3-1.5 .3 1.7 .3 .1 .3-.4 .4 .4 .3-1.7 .3 2 .3 .5 .3-1.8 .3 .1 .3 1.4 .4-1.3 .3 .9 .3-1.1 .3 .5 .3-.8 .3 .1 .3-.8 .4 .3 .3 2.7 .3-.3 .3-.8 .3-1 .3-.1 .4 2.1 .3-1 .3-.4 .3 .4 .3 .7 .3-1.1 .3 .4 .4-1.9 .3 2.6 .3-2.1 .3 1.4 .3 .8 .3 1 .3-2.7 .4 .9 .3-.5 .3 .7 .3-.5 .3-.4 .3-.1 .4 1 .3-.7 .3-.1 .3 .9 .3-2 .3 .5 .3 .8 .4 .3 .3-.4 .3 .3 .3 1 .3-.9 .3 2.2 .3-2.3 .4 .6 .3 .8 .3-.1 .3-.4 .3 .4 .3-1.1 .4 .9 .3-.6 .3 .5 .3 .3 .3-.9 .3-1.2 .3 .5 .4 2.2 .3-1.2 .3-.3 .3-1.6" stroke="#000000" stroke-width="0.88"/>
<path d="M330 152l.3-.1 .3-.1 .3-.8 .3 0 .4 .7 .3 0 .3-1.2 .3 1.2 .3-.3 .3-.8 .3 .8 .3-1.4 .3 1.2 .4 .5 .3-1.5 .3-1.7 .3 1 .3-.1 .3 .9 .3-1.3 .3 2.7 .3 0 .4-3.2 .3 3 .3-1 .3-.8 .3-.9 .3 1.3 .3 .8 .3-2.9 .3 1.8 .4 .1 .3 1.2 .3 .4 .3-2.3 .3 .6 .3-.1 .3 .5 .3-1.7 .3 .5 .4-1.8 .3-.6 .3-.8 .3 3.6 .3-.3 .3-4.1 .3 2.5 .3-.3 .3-.2 .4-.9 .3-.9 .3-.5 .3 1.5 .3-.5 .3-2.4 .3 5.3 .3-.6 .3-.4 .4-1.2 .3-1.1 .3-.1 .3-1 .3-.2 .3 1.7 .3 1.1 .3 .4 .3-1.9 .4-.8 .3 .1 .3 .7 .3-1.9 .3 2.3 .3 1.2 .3-2.8 .3-.9 .3 1.1 .4-1.3 .3 2.2 .3 .8 .3-4 .3 1.2 .3-.1 .3 2.1 .3-1.1 .3 1.8 .4-1.2 .3 .5 .3 .2 .3-1 .3 .8 .3-.4 .3-.3 .3-.1 .3 .1 .4 2.7 .3-1 .3-1.2 .3-.5 .3 2.5 .3-2.1 .3 .5 .3 1.4 .4-1.4 .3 1 .3 .1 .3-1.8 .3 .2 .3 .1 .3-.9 .3 2.5 .3-1.3 .4 .1 .3-.6 .3 1.1 .3-.6 .3-.9 .3 1.4 .3-.2 .3 .3 .3 .6 .4-.1 .3 .5 .3-1.3 .3-.1 .3 .8 .3 .5 .3 .9 .3-1.1 .3 1.6 .4-.8 .3-1.2 .3 1.7 .3-1.1 .3-.5 .3 .4 .3 .7 .3 .3 .3-1.3 .4-.7 .3-.3 .3 2.7 .3-1.5 .3 1.6 .3-2.6 .3 1.2 .3 .4 .4-.2 .3 1.2 .3-3.3 .3 1.6 .3 1.1 .3-1.2 .3 2.3 .3-3 .3 2.2 .4-.7 .3-.8 .3-.1 .3-.5 .3-1.4 .3 1.5 .3 0 .3 .8 .3-2.1 .4-1.9 .3 1.9 .3 2.5 .3-4.2 .3 3.7 .3-2.5 .3-.4 .3 .8 .4 1.8 .3-2.5 .3 .8 .3 2.3 .3-2.2 .3 2.2 .4-2.8 .3-.6 .3 2.3 .3-.4 .3 2.2 .3-2.6 .3-.6 .4 .7 .3 .4 .3 1.2 .3-.9 .3-2.5 .3-.2 .3 1.3 .4-.9 .3 .7 .3 1 .3-1.7 .3 1.8 .3-1.5 .3 1.9 .4-.6 .3 1.1 .3 .3 .3-2.5 .3 1.4 .3-.5 .4 .1 .3-2.5 .3 2.7 .3 .2 .3 .7 .3-.9 .3-.7 .4 .3 .3-1.6 .3 2.4 .3 .5 .3-1.5 .3 1.1 .3 .6 .4-.9 .3-1.7 .3 1.8 .3-.5 .3-2 .3 2.2 .4-1.5 .3 1.8 .3 0 .3-1.2 .3 1.4 .3 1 .3-1.4 .4-2 .3 1.6 .3 0 .3-1.3 .3 .4 .3-2.1 .3 3.6 .4-1.1 .3-.8 .3 .2 .3 0 .3-.8 .3-.5 .4 .8 .3 1.4 .3-.9 .3 .5 .3-1.2 .3 1.2 .3 .2 .4-1.4 .3-.2 .3 1.8 .3-2.6 .3 .6 .3 2.5 .3-1.8 .4 1.4 .3-1.9 .3 1.9 .3 .8 .3-.3 .3-1 .4 .2 .3-.5 .3 .4 .3-.9 .3 2.7 .3-.7 .3-.7 .4 .3 .3 1.5 .3-2.5 .3 3.1 .3 .1 .3-3.5 .3 3 .4 0 .3-1.1 .3 .2 .3 2.2 .3-.1 .3-1 .4-.3 .3-1.1 .3 2 .3 1 .3-.3 .3-.2 .3-.5 .4-1.5 .3 3 .3-1.3 .3-.1 .3-.3 .3 1 .3 1.1 .4-1.6 .3 .6 .3 2.2 .3-3.5 .3 1.1 .3 .9 .4-2 .3 .7 .3 2.3 .3-3.4 .3 1.1 .3 2.2 .3-3.4 .4 1.5 .3-1.3 .3 .9 .3 .7 .3-4.6 .3 3.3 .3 .5 .4 .4 .3 2.5 .3-3.7 .3 .7 .3 1.3 .3-2.2 .4 .6 .3 .1 .3 .7 .3 1.4 .3-1.9 .3 1 .3 .3 .4-2.1 .3 2.1 .3-.5 .3 .5 .3-.9 .3-1.1 .3-.2 .4 1.2 .3 .2 .3 0 .3 1 .3-.7 .3-2.6 .4 1.4 .3 .8 .3 1.5 .3-2.2 .3 1 .3 1.2 .3-1.9 .4-1.3 .3 1.8 .3-.9 .3 0 .3 .5 .3 .8 .3-.9 .4-.8 .3 .7 .3 .4 .3-.5 .3-.2 .3 .4 .4 1.1 .3 .8 .3-1.1 .3 1.2 .3 .9 .3-1.4 .3-1 .4 1 .3 .8 .3-2.5 .3 1 .3 .2 .3 .5 .3-2.8 .4 3.8 .3-4.5 .3 3.8 .3-.5 .3-.5 .3 1.5 .4 1.2 .3-5.5 .3 2.7 .3 .6 .3-2.2 .3 .6 .3 1.8 .4-1.7 .3 .3 .3 1.7 .3-3 .3 1.2 .3-.7 .3-.6 .4 2.7 .3-1.1 .3-.1 .3 .5 .3-.8 .3-1.1 .3 1.4 .4-.5 .3-.1 .3 2.2 .3-1.3 .3-.5 .3-.3 .4 .9 .3-1.5 .3 1.9 .3 1.9 .3-3.4 .3 2.1 .3-1 .4 1.8 .3 .2 .3-1.3 .3 .5 .3 0 .3 .6 .3-2.5 .4 .2 .3-.1 .3 .5 .3-.9 .3 2.5 .3-2.3 .4 .3 .3-1.4 .3 .9 .3 .2 .3 1 .3-.5 .3 1.5 .4-.2 .3-1.1 .3-1.2 .3 1.4 .3 .1 .3 .2 .3 1.2 .4-1.3 .3-.7 .3-1.6 .3 .4 .3 .9 .3-1.3 .4 .2 .3 1.3 .3-.4 .3 1.1 .3-1.2 .3-.2 .3 2.3 .4-2.5 .3-.3 .3 1.3 .3-.4 .3 .2 .3-3.3 .3 .8 .4 .8 .3 1.8 .3-1.2 .3-2.3 .3 2.1 .3-1.8 .4 1.3 .3 .4 .3 .5 .3-.8 .3 1.2 .3-1.3 .3 .1 .4 1 .3-.3 .3-1 .3-.8 .3 1.2 .3 1.6 .3-1.9 .4 2.1 .3-.6 .3-1.5 .3 2.1 .3-.9 .3-2.2 .4 2.7 .3-.4 .3 .9 .3 .5 .3 .2 .3-1.7 .3 .1 .4 2.1 .3 .2 .3 .1 .3-2.3 .3-.3 .3 1 .3 .1 .4 .6 .3-.7 .3-1.5 .3 1.8 .3-1 .3 1.8 .4-2.4 .3 2.4 .3-.4 .3 1 .3-1 .3 .8 .3-.8 .4-.4 .3 .2 .3 1.4 .3-3.2 .3 0 .3-.1 .3 .3 .4 1.4 .3 .9 .3-1.6 .3-.2 .3-.8 .3 2 .4-.1 .3-1.7 .3-.5 .3 1.8 .3-.7 .3 .2 .3-1.2 .4 1.3 .3 .5 .3-1.2 .3 0 .3 1.6 .3-1.2 .3-3.7 .4 3.7 .3-1.9 .3 .8 .3-.7 .3 1.5 .3-.3 .4-.8 .3 1.1 .3 .2 .3 0 .3-1.3 .3-.4 .3-1 .4 2.4 .3 1 .3 .3 .3-.3 .3-1 .3 0 .3-1.6 .4 4.1 .3-2 .3-.1 .3 .5 .3 .7 .3-.9 .4 0 .3 2.3 .3-1.3 .3-1.2 .3-.4 .3 .4 .3-.1 .4-1.2 .3 .8 .3-1.5 .3 1.3" stroke="#000000" stroke-width="0.88"/>
<path d="M330 152l.3-2.4 .3-2.3 .3-2.3 .3-2.8 .3-2.8 .3-2.4 .4-.6 .3-3.7 .3-3.2 .3-2.5 .3-.8 .3-3.5 .3-1.3 .3-2.9 .3-1 .3-3.7 .3-4.5 .3 1.7 .3-1.9 .4-.7 .3-.2 .3-1.4 .3-1.5 .3 2.2 .3-1.7 .3-.8 .3-1.6 .3-.6 .3-.9 .3-.8 .3-1.1 .3 1 .3-3.1 .4 1.2 .3-.1 .3-.6 .3 1.1 .3-1 .3 .5 .3 .1 .3 .3 .3-.5 .3 .1 .3 1.7 .3 .9 .3-1.6 .4 2.5 .3-1.4 .3 .8 .3-.4 .3 .1 .3 1 .3-.4 .3 .5 .3 0 .4 2.3 .3-1.3 .3 0 .3 .7 .3 1 .3-1.4 .3 1.2 .4-.7 .3 1.4 .3 .9 .3-.8 .3-.1 .3 .9 .3-1.3 .3 .5 .4 .6 .3 2.3 .3-.4 .3-1.1 .3 1 .3 2.3 .3-1.2 .4 .2 .3 1.4 .3-.7 .3 .4 .3 .1 .3 .8 .3-2.5 .4-.7 .3 2.4 .3 .4 .3-.7 .3 .1 .3 .5 .3-.4 .3-1.3 .4 1.5 .3 1.6 .3-2.2 .3 1.3 .3 .2 .3-.8 .3 1.2 .4-.1 .3 .6 .3-.1 .3-1.1 .3-.1 .3-1.2 .4 1.9 .3 .6 .3-1.4 .3 1.8 .3-1.3 .3 .7 .4 1.6 .3-2.6 .3 1.8 .3-.9 .3 .3 .3 1 .4 .7 .3-.7 .3 .1 .3 .2 .3-.7 .3 .1 .4 .2 .3-.4 .3 .7 .3 .1 .3-.9 .3 .5 .4-.7 .3 .4 .3-.1 .3 .9 .3 .7 .3-1 .4 2 .3-1.5 .3 .9 .3 .3 .3-.2 .3-1.8 .4 2 .3-1.6 .3 .5 .3 .6 .3-.3 .3 1.9 .4-.8 .3 .4 .3-.4 .3-.6 .3-.5 .3 2 .4-1.4 .3 .6 .3-.2 .3 1.5 .3-.7 .4 0 .3-1 .3 2.2 .3-.3 .3-1.5 .3 .3 .4-.4 .3 1.5 .3 .4 .3-.7 .3-.3 .3 1.7 .3-2.1 .3 1.4 .4-.1 .3-.7 .3 1.8 .3-1.9 .3 1.1 .3 1.3 .3-1.7 .3 2 .3-2.4 .4 0 .3 .6 .3-.4 .3 .7 .3-1.4 .3 1.4 .3-.1 .3 0 .3 .8 .4-.8 .3-.5 .3 .4 .3 1.9 .3-.7 .3-1.2 .3-.1 .3-.2 .3-1.4 .4 2.9 .3-.7 .3-.4 .3 .7 .3 .5 .3-2.8 .3 3.8 .3-.6 .3 .8 .4-1.2 .3 .2 .3-.9 .3 .5 .3-.4 .3 1.7 .3 .4 .3-2.3 .3 1.1 .4-.5 .3-.7 .3-.1 .3 .5 .3-.1 .3-.5 .3 .1 .3 .8 .3-1.2 .4 1.2 .3-1 .3 .6 .3 1 .3-.5 .3 .2 .3-1.2 .3 1.2 .3-.2 .4 1 .3-.2 .3-.1 .3 .9 .3-1.2 .3-1.9 .3 2 .3-.7 .3-1.4 .4 0 .3 .6 .3-1 .3 .8 .3 1.2 .3-1.5 .3 0 .3 1 .4-1.1 .3 1 .3-1.3 .3 .2 .3 1.4 .3-1.6 .3 1.5 .4-.4 .3-1.1 .3 1.6 .3-.9 .3 .4 .3-.9 .4 .8 .3-.6 .3 1.9 .3 .4 .3 1.6 .3-1.8 .3 .7 .4-.1 .3 1.7 .3-2.2 .3 .4 .3-.5 .3-1.1 .3 2.9 .4-.9 .3-.5 .3 .9 .3-1.5 .3-.6 .3 1.3 .4-1.3 .3 .7 .3-.7 .3 1.7 .3-.2 .3-.6 .3-.6 .4-.1 .3 1.4 .3-.3 .3 .9 .3-1.1 .3 1.1 .3-2.2 .4 1.4 .3-1.1 .3-.4 .3 .6 .3 .9 .3-.6 .4 .2 .3 .7 .3-1.5 .3 .7 .3 .4 .3-.5 .3-.5 .4 1.3 .3-.1 .3 .4 .3-1 .3 .7 .3-1.6 .3 2.2 .4 .3 .3-.7 .3 .8 .3-.4 .3 .5 .3-1.6 .4 .5 .3 .8 .3-.6 .3 0 .3-.5 .3 .6 .3-.1 .4 .9 .3-1.2 .3 1.4 .3-1.9 .3 .2 .3 .4 .3 1.4 .4-2.1 .3 .5 .3 .4 .3-.4 .3-1 .3 1.2 .4 .8 .3-1.4 .3 .7 .3 .4 .3 .3 .3 .2 .3-.8 .4-.9 .3 .1 .3 .8 .3-1.1 .3 1.9 .3-1.7 .3 .8 .4 .7 .3 .2 .3 1.6 .3-.5 .3 .4 .3 .6 .4-1.5 .3-.7 .3 .3 .3 1.3 .3-1 .3-1.4 .3 1.4 .4-1.6 .3 .5 .3 .4 .3-1.4 .3 2.7 .3-.6 .3-.2 .4-.8 .3-.2 .3 2.2 .3-2.9 .3 1.6 .3 .1 .4-.4 .3-1.3 .3 2.4 .3 0 .3-.3 .3-.2 .3-.3 .4 .7 .3-.6 .3 1.4 .3-1.2 .3-.5 .3 1 .3-1.8 .4-.9 .3 1.2 .3-.5 .3 1.2 .3 .3 .3 0 .3 .1 .4-2 .3 .9 .3-1.3 .3 .1 .3 .7 .3-.9 .4 2.3 .3-2.7 .3 1.8 .3-.4 .3-.3 .3-.7 .3 0 .4-.1 .3 .5 .3-.8 .3 .7 .3 .4 .3-1.1 .3-.7 .4 .7 .3 .1 .3 1.7 .3-2.4 .3 .5 .3 .8 .4-2.1 .3 1.4 .3 .5 .3-.3 .3-2.4 .3 .5 .3 .5 .4-.6 .3 .9 .3-1 .3 .1 .3 .8 .3-1.6 .3 2 .4-.6 .3 .1 .3 .9 .3-1.4 .3 .6 .3-.5 .4 .6 .3-.4 .3 .4 .3 .3 .3-.6 .3 .3 .3-1.2 .4-.9 .3 1.8 .3-2.7 .3 1 .3 1.3 .3-2.4 .3 3.2 .4-3.3 .3 .6 .3 .7 .3 .4 .3-.5 .3 .9 .4-.7 .3-.9 .3 .4 .3 .5 .3 1.7 .3-.2 .3-2.6 .4 2 .3-.7 .3 1.5 .3-1.9 .3 .6 .3 .6 .3-.7 .4 1.7 .3-1.5 .3-.9 .3 2.1 .3-.7 .3 .5 .4 1 .3 0 .3-.4 .3 0 .3-.8 .3 1 .3-.4 .4 1.4 .3 1.5 .3-2.2 .3 .4 .3 1.4 .3 .8 .3-2.5 .4-.1 .3-1 .3 1.5 .3-.8 .3 0 .3 1 .4-.8 .3-.8 .3 1.8 .3-1 .3 1.6 .3-1.4 .3-.1 .4 .6 .3 .6 .3-.4 .3 .2 .3-.4 .3 1 .3 .9 .4-.4 .3-2 .3 1.9 .3-.5 .3-1 .3 1.6 .4 .5 .3-1.6 .3 1.3 .3 1.3 .3-1.8 .3 .9 .3-1.5 .4 .1 .3 .7 .3-1.4 .3 .9 .3 .8 .3 .4 .3-1.6 .4 .9 .3-1.2 .3 1.9 .3-.6 .3-1.5 .3 1 .4 .3 .3-1.4 .3-.1 .3 .3 .3 .8 .3-1.1 .3 1.3 .4-.2 .3 .7 .3-.4 .3 .8 .3-1.2 .3 .6 .3-.7 .4 .4 .3-1.3 .3 .3 .3 1.5 .3 .4 .3-2.9 .4 1.2 .3-.1 .3 0 .3 0 .3-.8 .3 0 .3 .8 .4-1.2 .3 .9 .3-.5 .3-.2" stroke="#ff0000" stroke-width="0.88"/>
<path d="M330 152l.3-2.2 .3-2.1 .3-1.4 .3-2.4 .3-2.4 .3-3.1 .4-1.1 .3-3.5 .3-.4 .3-2.4 .3-2.4 .3-3.7 .3-1.7 .3-1.5 .3-2.4 .3-1.8 .3-2.5 .3-1 .4-1.1 .3-.7 .3 .1 .3-1.9 .3-1.3 .4-.4 .3-.8 .3-1.4 .3 .5 .3-2.5 .3 .9 .3-1.3 .4 .9 .3-.2 .3 1.4 .3 .2 .3-2.8 .3-.2 .3 1.3 .3-.2 .3-1.2 .4 .3 .3 .5 .3-.7 .3 1.6 .3 1 .3 .2 .3-2.4 .3 1.8 .4 .8 .3-1.1 .3 1 .3 .5 .3 .8 .3-1.3 .3 1.2 .3-.4 .4-.1 .3 2.9 .3-1.8 .3 1.1 .3-.4 .3-1.5 .3 .4 .4 1.6 .3-.5 .3-.3 .3 1.1 .3 2.2 .3-1.9 .3 1.3 .4-.7 .3 .3 .3-1.2 .3 1.8 .3-2.8 .3 1.5 .3-.4 .4-.8 .3 2.4 .3 .3 .3-.1 .3-.2 .3 1 .3-2.5 .3 2.1 .4 1.3 .3-.3 .3-1.2 .3 1.3 .3-1.7 .3-.9 .3 2.2 .4-1 .3 1.9 .3-.6 .3-.9 .3-.3 .3 1.4 .4 1.2 .3-1.5 .3 1 .3-.6 .3 .6 .3-1.1 .4 .6 .3 .1 .3 0 .3 .1 .3-.1 .3 .2 .4-1.6 .3 1.2 .3-.7 .3 .6 .3 .2 .3 2.5 .4-2.6 .3-.2 .3 .9 .3 .3 .3-.6 .3 2.3 .4-2.1 .3 .6 .3-.4 .3 .4 .3 .2 .3 .5 .3-1.9 .4 2.6 .3-2.2 .3 1.9 .3-1.4 .3 1.5 .3-.9 .3 .8 .3-.3 .3 .7 .4 .4 .3 .4 .3-1.9 .3 1.9 .3-1 .3 .9 .3-1.2 .3 .9 .4-1.9 .3 1.9 .3-.1 .3 .4 .3-1 .3-.4 .3 1.4 .3-.3 .3 .6 .4 .7 .3-1.9 .3 1.9 .3 .3 .3 .1 .3-.6 .3 .4 .3-2.1 .3 .2 .4 2.1 .3-4.2 .3 .7 .3 .5 .3 .4 .3-.5 .3 1.3 .3 .2 .3-.1 .4 .6 .3-.2 .3-1.1 .3 1.3 .3-.3 .3-.7 .3 1.1 .3-1.4 .3 1.1 .4 1.1 .3 0 .3-.1 .3 .5 .3-.8 .3-.4 .3 1.2 .3-1.9 .3 2 .4 1.4 .3-1.6 .3 .1 .3-1.2 .3 1.7 .3-.8 .3 .2 .3 .5 .3-.6 .4 .5 .3-.8 .3 .7 .3-.3 .3-.1 .3-.5 .3 1.5 .3-.6 .3 0 .4-1.5 .3 1.5 .3 .5 .3-.5 .3-1.1 .3 .4 .3 .7 .3-1.6 .3 2.7 .4-2.1 .3 1.9 .3-1 .3 .9 .3 .9 .3-.7 .3-.3 .3-1.1 .3 1.1 .4 1.1 .3-.9 .3 .5 .3-1 .3 2.6 .3-.6 .3-1 .3 .5 .3 .3 .4 1.3 .3-.7 .3-.6 .3 .1 .3 .6 .3 .1 .3 .1 .3 0 .3-.2 .4 .3 .3-1.4 .3 1.5 .3-.2 .3-.1 .3-.8 .3-.6 .3-.5 .4 .4 .3-.3 .3 .7 .3-.5 .3 2.5 .3-3.1 .3 1.5 .4-1.1 .3 0 .3 1.1 .3-.6 .3-.1 .3-.2 .4 1.3 .3-.6 .3 .5 .3-1.2 .3-2 .3 1.9 .3-.4 .4 1.6 .3-2.9 .3 2.4 .3-1.3 .3 .1 .3 1.6 .3-1.3 .4 .9 .3-1.2 .3 .7 .3-.5 .3 .2 .3 .5 .4 1.6 .3-.7 .3 .1 .3-1.4 .3 2.1 .3-1.6 .3 1.5 .4-1.6 .3 .3 .3 1.1 .3-1.1 .3 .7 .3 0 .3-1 .4 .5 .3-.2 .3 .1 .3-.2 .3-1 .3 .8 .4-.5 .3 .1 .3 1.5 .3-1 .3 1.3 .3 1.3 .3-2.5 .4 .2 .3-.3 .3 .5 .3 .3 .3-.5 .3 .5 .3 1.3 .4-3.8 .3 2.8 .3-.2 .3 1.5 .3-1.6 .3-.9 .4 2 .3-.4 .3 1.3 .3-.7 .3-.8 .3 .7 .3-.1 .4 .8 .3-2.3 .3 2.7 .3-1.7 .3 0 .3 1.2 .3-.2 .4 .7 .3-.2 .3 .4 .3-1.1 .3 .3 .3 .5 .4-1.2 .3 1.4 .3-1 .3 .9 .3 .6 .3-2.6 .3 1 .4 1.4 .3-1.3 .3 .5 .3 .1 .3-1.2 .3 .6 .3-1.1 .4 1.3 .3-.6 .3-.2 .3 0 .3 .1 .3-1.4 .4 1.5 .3-1.5 .3-.2 .3-.5 .3-.3 .3 1.1 .3 .9 .4-.9 .3 .6 .3-1.4 .3 1.1 .3 .3 .3 .3 .3-1.3 .4 .6 .3 1 .3-.8 .3-.3 .3 1.4 .3-2.6 .4-.9 .3 2.1 .3 .3 .3-.7 .3 2.2 .3 .3 .3-1.2 .4-.4 .3 .4 .3 1.1 .3-1.9 .3 .5 .3 .6 .3-.8 .4 .6 .3-.6 .3-.5 .3 1.8 .3 .3 .3-1.9 .3-.1 .4 1.4 .3 .6 .3-2.1 .3 2.5 .3 .1 .3-.2 .4 .2 .3 0 .3 .1 .3-.6 .3-1.3 .3 .4 .3 .9 .4-1.6 .3-1.2 .3 1.4 .3 .7 .3-.3 .3 .8 .3 .1 .4-.1 .3-.3 .3-.8 .3 .1 .3 .8 .3-1.1 .4-.9 .3 .4 .3 1.1 .3-.1 .3 0 .3-.9 .3 2.1 .4-2.6 .3 1.7 .3-.7 .3 1 .3-1.4 .3 1.7 .3-1.5 .4-.6 .3 1 .3-1.1 .3 .7 .3-.4 .3-.2 .4 1.8 .3-.1 .3-1.6 .3 1.8 .3-1.6 .3-.1 .3 1.3 .4-1.6 .3 .9 .3-.7 .3 .7 .3 .8 .3-.2 .3-1.2 .4 2.2 .3-2.4 .3 1.7 .3 .5 .3-.6 .3-1.2 .4-.7 .3 .1 .3 1.2 .3-2.2 .3 1.1 .3 1.3 .3-.9 .4-.8 .3 .8 .3-.4 .3-3 .3 1.2 .3 1.9 .3 1.7 .4-1.9 .3-1.1 .3 .3 .3 1.5 .3-1.2 .3 .2 .4 .3 .3-.6 .3-.4 .3-.6 .3-.6 .3 .8 .3 1.6 .4-1.5 .3-.5 .3 1.8 .3-1.1 .3 1.4 .3-1 .3 .4 .4 .3 .3-.2 .3-1.4 .3 .3 .3 1 .3-.4 .4 2 .3-2.4 .3 1.5 .3-1.2 .3 1.8 .3-.2 .3 1.4 .4-2.1 .3-.3 .3 2 .3-1.9 .3 2.5 .3-1 .3 .2 .4-.3 .3 1 .3-.8 .3-.7 .3-.3 .3 .6 .4-1.5 .3 1 .3 .1 .3 .3 .3-.4 .3 .3 .3 .5 .4-.1 .3-.3 .3-.2 .3-.2 .3 2.1 .3-.3 .3 .2 .4-.1 .3-.4 .3-.2 .3-.8 .3 .2 .3 1.3 .4-1.3 .3 .3 .3 .3 .3 1 .3-2 .3 .7 .3-.1 .4 .6 .3-1.5 .3-1.1 .3 3.1 .3-.9 .3 .1 .3-1.3 .4 .6 .3-.6 .3-.4 .3 .3 .3-.5 .3 .9 .4 0 .3-1.2 .3 1.2 .3-2.1 .3 1.1 .3 .7 .3-.6 .4 1.1 .3 .8 .3-1.1 .3-.8" stroke="#ff0000" stroke-width="0.88"/>
<path d="M330 152l.3-1.3 .3-1.4 .3-3 .4 .9 .3-.9 .3-1.5 .3-1.9 .3-3 .3 .9 .3-3.3 .4-.9 .3-.9 .3-2.8 .3 .2 .3-1.8 .3-2.5 .3 .2 .3-2.7 .4-1.2 .3-2 .3 .1 .3-1.5 .3-1.7 .3-.5 .3-1.2 .4-1.4 .3 .1 .3 .2 .3 0 .3-3.1 .3 2.1 .3-.4 .4 .4 .3-2.1 .3 .7 .3-1.5 .3-.2 .3 .1 .3 .6 .3-.9 .4 .6 .3-.8 .3 .6 .3-2 .3 .7 .3-.7 .3 1.3 .4-2.7 .3 1 .3-.7 .3-.6 .3 0 .3-.3 .4 1.9 .3-.4 .3-.5 .3 1.4 .3 .2 .3-.7 .4 1.4 .3 2.4 .3-1.9 .3-.2 .3-.9 .3 1.1 .4 .7 .3 .2 .3 2.4 .3 .1 .3-1.6 .3 2.2 .4-1.6 .3 1.8 .3 .7 .3-1.6 .3 .7 .3 .6 .4 .7 .3-.8 .3 .8 .3-.3 .3 .1 .3-.9 .4 2.3 .3-.4 .3-.1 .3 .4 .3-.4 .3-.1 .3 1.2 .3 .6 .3-.7 .4-.3 .3-.5 .3 1.7 .3 .5 .3-1.6 .3 2.4 .3-2 .3 1.9 .3-.1 .4-.5 .3-.8 .3 2 .3-.6 .3-.6 .3-.6 .3 .1 .3 1.8 .3-.4 .4 .1 .3 .2 .3-.3 .3 .5 .3-2.7 .3 3.3 .3-1.7 .3 3 .3-.8 .4-.4 .3 1.4 .3-.6 .3 .5 .3-.7 .3 .3 .3-.3 .3 0 .3-.2 .4 .4 .3 .1 .3-.3 .3 .1 .3 1 .3-1.4 .3 1.1 .3-1.3 .3 2 .4-.1 .3-2 .3 1.2 .3 .8 .3-1 .3-.8 .3 1.1 .3-1 .4 .9 .3-.4 .3 .5 .3-.9 .3 .6 .3-1.2 .3 1.1 .3 2.6 .3-3.2 .4 .7 .3-.3 .3 .1 .3 .9 .3-2.5 .3 1.4 .3-.2 .3 0 .3 1.4 .4-.9 .3 .3 .3-.8 .3 .5 .3-.9 .3-.2 .3 1.5 .3-1.2 .4 .1 .3-.1 .3 .8 .3 .7 .3-.5 .3 .8 .4-.8 .3-.7 .3 3 .3-2 .3 1.6 .3-1.1 .3-.4 .4-1.4 .3 1.7 .3 1.4 .3-.8 .3 .9 .3-1.5 .3 .5 .4-.2 .3-.1 .3 .8 .3-.9 .3 1.6 .3-.7 .3 .5 .4 .2 .3 1 .3-1.5 .3 2.2 .3-1.6 .3 .8 .4-.9 .3 .6 .3-.7 .3 .8 .3-.2 .3-.5 .3 .1 .4-.2 .3 .2 .3 .4 .3-.1 .3-1.4 .3 .1 .3 .4 .4 0 .3 .4 .3-.3 .3 .4 .3-1.1 .3 .7 .4 0 .3-.3 .3-.1 .3 .5 .3-1.1 .3 3.6 .3-2.6 .4-.2 .3-.1 .3-.5 .3 0 .3 1 .3 1 .3-.2 .4-.6 .3-1.5 .3 .4 .3 3.6 .3-.6 .3-1.4 .4 1.2 .3-.6 .3 1.2 .3-1.3 .3 .2 .3 .6 .3 0 .4-.6 .3 .4 .3 .2 .3 1.1 .3-1.9 .3 .5 .3 .1 .4-.5 .3 2.7 .3-.7 .3-.5 .3-.3 .3 .3 .4 1.9 .3-1.5 .3 0 .3-.2 .3-.8 .3 1 .3 .7 .4-1.3 .3 .3 .3 .5 .3 1.4 .3-.7 .3-.4 .3-1.3 .4 .1 .3 .9 .3-.7 .3 .5 .3-.7 .3 .2 .4-.8 .3 3 .3-.8 .3 .3 .3-1 .3 .5 .3-1.2 .4 .3 .3-.2 .3 .8 .3 .2 .3 .2 .3-1.2 .3 .4 .4 .8 .3-.1 .3 1.3 .3-.7 .3 .1 .3 .3 .4 .1 .3-.1 .3-.8 .3-.8 .3 2.3 .3-2.5 .3 2.2 .4-2.3 .3 .8 .3-.7 .3 1.4 .3-.2 .3-2.2 .3-.5 .4 2.5 .3-.6 .3 .2 .3-1 .3 1 .3-.4 .4-.1 .3-.8 .3-.7 .3 .6 .3-.8 .3 .2 .3 1.9 .4-1.5 .3 1.6 .3-1 .3 .1 .3-.3 .3 .8 .3-.9 .4 0 .3-.1 .3 1.1 .3-1.2 .3 .5 .3-1.1 .4 2.1 .3-.6 .3 .3 .3 0 .3-.4 .3 .8 .3 .1 .4-.8 .3 1.3 .3-1.2 .3 .8 .3-.6 .3 1.8 .3-.6 .4-.6 .3 .8 .3-1.2 .3-1.2 .3 .9 .3-.3 .4 1 .3-1 .3 .4 .3-.8 .3 .1 .3 .6 .3 1.3 .4-1.4 .3 0 .3-.2 .3 .9 .3 1 .3-.5 .3 .3 .4-1.8 .3 1.7 .3-.8 .3 1.7 .3-2 .3 1.6 .4-1.5 .3 1.5 .3-1.1 .3 1.5 .3-1.7 .3-.8 .3 .5 .4 .1 .3 2.3 .3-2.4 .3 .6 .3 .4 .3 .4 .3-.5 .4 1.8 .3-1.2 .3-.8 .3-.2 .3-.3 .3 1.9 .3-.7 .4 .5 .3 .2 .3-1.3 .3-.1 .3 .4 .3-.1 .4 .5 .3 .3 .3 .2 .3 .1 .3-1.4 .3 .8 .3 1 .3-.1 .4-1.1 .3-.1 .3 .9 .3 1.6 .3-1.4 .3 .7 .3-.7 .3-.4 .3 1.1 .4 .1 .3-.3 .3 .6 .3-1.2 .3 2.8 .3-1.3 .3 .5 .3 .8 .3-2.1 .4 .8 .3 1.8 .3-2.9 .3 1.2 .3 0 .3 1.4 .3-2.2 .3-.6 .4 2.4 .3 .7 .3-2.7 .3 .7 .3 .6 .3 .9 .3-1.3 .3 .2 .3-.2 .4 .4 .3 .8 .3-.7 .3-1 .3 1.2 .3-.5 .3 1.1 .3-.7 .3-.2 .4-.6 .3-.5 .3 .1 .3-.9 .3 .5 .3-.4 .3 1.2 .3-1.4 .3 1.8 .4 .4 .3-1.7 .3-.3 .3-.1 .3 .6 .3-.2 .3-1.6 .3 1.9 .3 .2 .4-1.2 .3 1.3 .3 0 .3-2.2 .3-.1 .3 .4 .3-1.1 .3 .6 .3 1.4 .4 .1 .3-1.8 .3 1.9 .3-1.6 .3-.4 .3 .6 .3-.8 .3 2.4 .3-2.8 .4 1 .3-.1 .3-1.3 .3 1.1 .3-2 .3 3 .3 .6 .4-.3 .3-.1 .3-.8 .3-1 .3 1.5 .3 .8 .4-2.2 .3 2 .3-.1 .3-1.3 .3-.5 .3 .6 .3-.5 .4 .2 .3 .5 .3 1.8 .3-1.1 .3-.4 .3-1 .3 .6 .4 .8 .3-.9 .3-1.2 .3-.2 .3 1.3 .3 .5 .4-1.6 .3 1.8 .3-.3 .3 0 .3-1.3 .3 1.5 .3-.1 .4-2.2 .3 2.6 .3-1.6 .3-.8 .3 2.4 .3-1.7 .3 .5 .4 .5 .3-1.1 .3 1.6 .3 .4 .3-.8 .3 0 .4-.7 .3 1.3 .3-1.7 .3 .9 .3 .4 .3-.9 .3-.5 .4 1.8 .3-.8 .3-.3 .3 1.8 .3-1.7 .3 .7 .3-.3 .4-1.1 .3 .1 .3-1.5 .3 1.2 .3-.4 .3 2.6 .4-1.3 .3-1.2 .3 .2 .3 .4 .3 .3 .3-1.1 .3 2.1 .4-.9 .3 .4 .3-1.3 .3-.1" stroke="#ff0000" stroke-width="0.88"/>
<path d="M330 152l.3-1.1 .3-1.1 .3-2 .4 1.2 .3-2.6 .3-.8 .3-1.6 .3-1.3 .3 0 .3-.1 .4-2.9 .3-.4 .3-1.8 .3-1 .3 1.1 .3-2.2 .3 .8 .3-2.7 .4-1 .3 .1 .3-2 .3-.9 .3-.6 .3-2.5 .3-.6 .4-.2 .3 .1 .3-.7 .3 .2 .3-.6 .3-2.5 .4 2.6 .3 .1 .3-1.2 .3-.2 .3-.3 .3-1.8 .4 1 .3 .6 .3-1.6 .3 .7 .3-1.3 .3 .8 .4-.1 .3-.5 .3-1.7 .3-.3 .3 1.4 .3-.2 .4 .4 .3-1 .3 0 .3-.9 .3-1.3 .3 2.2 .4-2.3 .3-.7 .3 1.7 .3-1 .3-1.1 .3 0 .3-.9 .4 .1 .3-1.5 .3-1.2 .3 .5 .3 .4 .3-2.1 .3-.5 .3-.2 .3-.8 .4-1.5 .3-.6 .3-.8 .3 .1 .3-.2 .3-1.2 .3 0 .3-1 .4-1.8 .3 .9 .3-.2 .3-2.1 .4 1.7 .3-1.4 .3 .6 .3-1.4 .4 5 .3 .8 .3 3.4 .4 3.2 .3 1.1 .3-.6 .3 2.4 .3-1.4 .3-.7 .4-.3 .3-.1 .3 1.4 .3-1.3 .3-.2 .3 .8 .4 1.4 .3 .5 .3-1 .3 .6 .3-.1 .3 .4 .4-.4 .3 .1 .3 .7 .3-.5 .3 .2 .3 .3 .4-1.3 .3 1.3 .3 .7 .3 .1 .3-.3 .3 .8 .4 0 .3 .7 .3-.4 .3 .8 .3-1.3 .3-.2 .3 .5 .4-.9 .3 .4 .3 2.3 .3-.6 .3-1.1 .3 1.3 .3-1.5 .3 .1 .3-.4 .4 1.5 .3 1.5 .3-2.3 .3 2.1 .3-1.1 .3-.2 .3-.5 .3 .7 .4-.2 .3-.2 .3-.8 .3 1 .3 .1 .3 1.4 .3-.6 .3-.3 .3-.2 .4 .5 .3-.1 .3 .9 .3-2.1 .3 0 .3 2.8 .3-1.5 .3 2.6 .3-2 .4 1.4 .3-2 .3 1.4 .3-1.7 .3 .2 .3 2.6 .3-.7 .3 .7 .4-.1 .3 .4 .3-2.3 .3 2.3 .3-.5 .3 1 .4-1 .3-.9 .3 1.2 .3 .9 .3-1.6 .3-1 .3 2 .4-.2 .3-1.3 .3 3.1 .3-.6 .3 .4 .3-2.1 .3 2.2 .4 1.2 .3-1.1 .3-.3 .3-1.9 .3-.4 .3 1.4 .3-.3 .4 1 .3-1.8 .3 1.3 .3 1 .3-1.5 .3 .5 .4-.1 .3-.2 .3-.3 .3 .6 .3 0 .3 .5 .3 .3 .4 .1 .3-1.6 .3 2.5 .3-1.9 .3-.8 .3 1.5 .3-.9 .4 2.5 .3-.6 .3 .4 .3 .4 .3-.5 .3 .4 .4-.5 .3 .7 .3 .3 .3-.7 .3-.3 .3 1.1 .3-3 .4 2.4 .3-.2 .3-.3 .3-2.1 .3 .7 .3 2.2 .3-2.3 .4 2.4 .3-1.2 .3-.2 .3 1 .3-.6 .3-.7 .4 .5 .3 0 .3 0 .3-.2 .3 1.2 .3 .1 .3-1.9 .4-.2 .3 2 .3 .7 .3-1.2 .3 .5 .3-.1 .3-.5 .4 .6 .3-.4 .3-.3 .3 .5 .3-.3 .3-.4 .4 .8 .3 .3 .3 0 .3-.8 .3 1 .3-1 .3 2.5 .4-.2 .3-2.8 .3-.2 .3 2.7 .3 .4 .3-1.3 .3-1.4 .4 .8 .3 .4 .3-1.2 .3 .8 .3 1 .3-.1 .4 0 .3 0 .3-1.3 .3 1.8 .3-2.2 .3 0 .3-.1 .4 0 .3-.8 .3 1.7 .3 .1 .3 .3 .3-.6 .3 0 .4 1 .3 0 .3-1.8 .3 1.3 .3 .6 .3 .4 .4-2.7 .3 1.5 .3 .4 .3-.2 .3-2.3 .3 1.7 .3 2 .4-1.6 .3 1 .3-.9 .3-.3 .3-1 .3 1.3 .3-1.3 .4 2 .3-1.8 .3-.7 .3 1.6 .3 0 .3-1.1 .4 2.7 .3-2 .3 .4 .3 1.1 .3-.8 .3-1.2 .3 1.6 .4-1.6 .3 .2 .3 .8 .3-.5 .3 1.4 .3-2.7 .3 1.6 .4-2.2 .3 1.1 .3 1 .3-1.7 .3 .3 .3 .7 .4-1.3 .3 1.7 .3-.1 .3-.4 .3 .2 .3-.2 .3-.8 .4 2.1 .3-1.3 .3-.8 .3 1.4 .3-.3 .3 .4 .3 1 .4 .1 .3-.7 .3 2.3 .3-2.3 .3 0 .3 .2 .4-.6 .3-.9 .3 .5 .3 .3 .3 .1 .3 1.2 .3 0 .4-1.5 .3 .8 .3-.8 .3-.9 .3 .3 .3 .6 .3 .9 .4 .8 .3-1.2 .3 2.3 .3-1.9 .3-.2 .3-.8 .4 .1 .3 1.2 .3-.2 .3-.5 .3 2.3 .3-2.1 .3-.4 .4 0 .3-.2 .3 2 .3 .7 .3-.2 .3-.8 .3-1 .4 1 .3 0 .3-.6 .3-.2 .3 .9 .3-.3 .3 .4 .4-2.4 .3 2.6 .3-.7 .3 .3 .3-.4 .3 .7 .4-.4 .3 0 .3-.5 .3 1.1 .3-1 .3 2.2 .3-1.1 .4 0 .3-1.3 .3-.4 .3 1.2 .3-.8 .3 .8 .3-.7 .4 1.1 .3-.7 .3-.4 .3 1.7 .3-2.9 .3 1.2 .4 0 .3 1.5 .3-.4 .3-.5 .3 .6 .3-1.9 .3 .2 .4 .8 .3 .4 .3-.2 .3 .7 .3 .3 .3 .3 .3-1.2 .4 .9 .3-1.4 .3 .5 .3-1.6 .3 1.1 .3 0 .4-.9 .3 .9 .3-.5 .3 0 .3 .6 .3-1.2 .3 .9 .4 1.3 .3 .2 .3-.2 .3-1.7 .3-.1 .3 1.7 .3-1.3 .4 1.7 .3-2.6 .3 1.2 .3 .6 .3 1.1 .3-.7 .4 .5 .3-.5 .3-.3 .3-.5 .3 1.8 .3-.9 .3 .5 .4-.8 .3-.2 .3 .2 .3 1 .3-.7 .3-.2 .3-.7 .4 1.7 .3-1.3 .3 .3 .3 .9 .3-.5 .3-.4 .4-.2 .3 0 .3 1.9 .3-.7 .3 .3 .3-.8 .3 .1 .4-.1 .3-.5 .3 0 .3-1 .3 .9 .3-.2 .3 .4 .4 .1 .3-1.4 .3 1.6 .3-.8 .3 .4 .3-.6 .4-1.4 .3 1.1 .3 .7 .3-.6 .3 .4 .3 .3 .3 .2 .4-.6 .3-.4 .3 .1 .3 .1 .3-1.6 .3 .6 .3-.4 .4 1.3 .3 .2 .3-.4 .3 .9 .3-2.4 .3 1 .4-1.3 .3 .5 .3-.3 .3-1.4 .3 2.9 .3 .3 .3-.5 .4-1.3 .3 1.1 .3 .2 .3 .8 .3-2.4 .3 2.3 .3-.8 .4-1.7 .3 .5 .3 1.8 .3-.5 .3-1 .3 .7 .4 .1 .3 .9 .3 .1 .3-.8 .3 .6 .3 .4 .3-.8 .4 0 .3 0 .3-.8 .3-.7 .3 1 .3-.7 .3 .6 .4 .8 .3-1.1 .3 .7 .3-1 .3 1.9 .3-1.8 .4-.3 .3 .8 .3 .3 .3-.7 .3-.4 .3-.7 .3 .5 .4-.4 .3 .7 .3-.6 .3-1.4" stroke="#ff0000" stroke-width="0.88"/>
<path d="M330 152l.3-1.3 .3-1.4 .3-.2 .4-2.1 .3-2 .3-.1 .3-1.5 .3-4.5 .3 .4 .3-1.8 .4-.6 .3-1.8 .3-1.5 .3-1.4 .3 .1 .3-1.6 .3-2.1 .3-1.2 .4-.6 .3-2.2 .3-.5 .3-2.4 .3-1.3 .3-1.5 .3-.5 .3-2 .3-2.4 .3-2.3 .3-.2 .4-3.1 .3-1.8 .3-3.4 .3-1 .3-1.8 .3-1.2 .3-3.7 .3-2.5 .3-1.4 .3 .7 .3-1 .3-1.4 .3-1.4 .3-2 .4 2.7 .3 2.3 .3 .1 .4 .9 .3 2 .3 1 .4 .3 .3 1 .3-.1 .3 1.5 .3 .8 .3 1.8 .3-.6 .3 .3 .3 1.2 .4 .3 .3 .3 .3 .3 .3 2 .3 1.6 .3-.4 .3-1.5 .3 2.4 .3 0 .3 .5 .3 .1 .3 .7 .3-.2 .4 1.4 .3 .1 .3-1 .3 1.6 .3-.6 .3 .8 .3 1.6 .3-1.1 .3 1.3 .3 0 .3-.4 .3 .1 .3 1.4 .4-.3 .3-.6 .3-.1 .3 .4 .3 .3 .3 1 .3-.5 .3-1.4 .3 .9 .4 .3 .3 .6 .3 .9 .3 .8 .3-2.9 .3 1.6 .3-.3 .3-.6 .3 .5 .4 .3 .3-1.1 .3 1.1 .3-.2 .3 .7 .3-1 .3 1.1 .3 .3 .3 .3 .4-2.5 .3 1.2 .3-1 .3 .8 .3-1 .3 .3 .3 1 .3 1.3 .3 0 .4-.5 .3 .4 .3-.6 .3 1.1 .3 1.3 .3-2.8 .3 1.8 .3 1.3 .3-.9 .4 .1 .3-.5 .3-.4 .3-.1 .3-.5 .3 .3 .3 1 .3 .8 .3 .5 .4-2.3 .3 1 .3-.4 .3 .7 .3-.1 .3-.8 .3 .7 .3 .4 .4-.9 .3 1.2 .3-1.5 .3 2.2 .3-.1 .3 1 .3-.8 .3 0 .3 1 .4-.3 .3-.2 .3-.5 .3 .3 .3 1.5 .3 .4 .3-.1 .3 .3 .3 0 .4 1 .3-1 .3-.2 .3 1.1 .3 0 .3-1.1 .3 1.6 .3-.5 .3-.8 .4 .5 .3 .8 .3-.3 .3-1.4 .3 1.1 .3 1.3 .3-2.1 .3 1.4 .3-.5 .4-.7 .3 .9 .3-.4 .3 .6 .3-2.2 .3 .9 .3 .9 .3 .4 .3-1.5 .4 1.1 .3 .2 .3-.1 .3-.3 .3 .9 .3-.8 .3-.6 .3 .7 .3-.1 .4 1 .3-1.6 .3 .7 .3 0 .3 .1 .3-.3 .3-1.6 .3 2.1 .3-.4 .4-.7 .3-.6 .3 1.3 .3-.1 .3 .9 .3-.6 .3-1.2 .3 1.7 .3-1.2 .4-1.8 .3 2.4 .3-.1 .3-.7 .3 1.5 .3-2 .3 .9 .3-2.4 .3 4.5 .4-3.8 .3 .2 .3 .5 .3 .5 .3 .3 .3-.4 .3 .6 .3-1.6 .3 .3 .4 0 .3 1 .3-.8 .3 .5 .3 1.4 .3-.9 .3 .7 .3-.9 .3 .6 .4 .6 .3-.4 .3-1.5 .3 1.5 .3-.8 .3-.2 .3 .6 .3-1.3 .4 .2 .3 2.9 .3-1.7 .3 1.1 .3-.5 .3 .4 .3-.8 .4-.2 .3 1.2 .3 .3 .3 .2 .3-.2 .3-.8 .4-.4 .3 1.1 .3 .1 .3 .3 .3-.4 .3 .5 .3-.3 .4-1 .3 .2 .3 1.4 .3-2.2 .3 2.9 .3-2.3 .3 1 .4-.1 .3 1.2 .3-.7 .3-.2 .3-.8 .3 1.1 .4-1.2 .3 .6 .3 .6 .3 0 .3 .2 .3 .6 .3-.6 .4-1.6 .3 1.6 .3-.4 .3-.1 .3 .7 .3 1 .3-2.7 .4 3.1 .3-1.3 .3 1.3 .3-1.5 .3-.5 .3 .2 .4 .2 .3 .1 .3-.1 .3 .3 .3 1 .3-1.1 .3 0 .4-.2 .3-1.1 .3 1.5 .3 .7 .3-1 .3 1 .3-.4 .4-.3 .3 .2 .3-1.2 .3 2.1 .3 .1 .3-.6 .4 1.4 .3-1.3 .3-.7 .3-1.2 .3 1.3 .3 .7 .3-.3 .4 1.5 .3-1.8 .3 1.5 .3 0 .3-1.2 .3-1.3 .3 1.9 .4-.2 .3-1.6 .3 .9 .3 .8 .3-.9 .3 .9 .4-.2 .3 0 .3-1.5 .3 .6 .3-.3 .3 .2 .3 0 .4-.6 .3 1.4 .3-1.6 .3 1.4 .3-.8 .3 .9 .3 0 .4 .7 .3-.2 .3-1 .3 1.7 .3 .2 .3-.8 .4 0 .3 0 .3-1.1 .3 .1 .3 .2 .3-.4 .3 .8 .4-.7 .3 .4 .3 .6 .3-.4 .3-.4 .3 1 .3-.4 .4-.1 .3 .8 .3-1.3 .3 .6 .3-1.5 .3 1.3 .4-.8 .3 0 .3 .6 .3 1.3 .3 .2 .3-1.5 .3 1.6 .4-.7 .3 .7 .3 1.3 .3-1.5 .3-1 .3 .5 .3 .2 .4-.2 .3-.1 .3-.6 .3 1.1 .3-1 .3-.6 .3 1.2 .4 .2 .3 0 .3 .3 .3-.8 .3-1 .3 .2 .4 .3 .3-1.3 .3 1.6 .3-.8 .3 2.6 .3-1.4 .3-.1 .4 .5 .3 0 .3-1.1 .3-.8 .3 1.2 .3 .2 .3-1 .4 .4 .3-.1 .3 .2 .3-.7 .3-.4 .3 2 .4-1.5 .3 .2 .3-.5 .3-.2 .3 .8 .3 .9 .3-1 .4-.7 .3 1.8 .3 .5 .3-2.5 .3 .8 .3 .6 .3 .3 .4-.6 .3-.2 .3-.8 .3 1.2 .3-.5 .3-.1 .4 .3 .3-.7 .3 .1 .3 1.7 .3-.5 .3-.3 .3 1.2 .4-1.5 .3 0 .3 .3 .3-1 .3 .4 .3-.4 .3 .3 .4-.6 .3-1 .3 1.7 .3 .7 .3-.9 .3 1.4 .4-2.3 .3-.1 .3 .3 .3 .7 .3-2.2 .3 1.7 .3-.4 .4 1.3 .3-1.8 .3 2.2 .3-1.3 .3-.2 .3-.8 .3 .6 .4 .3 .3-.6 .3 1.6 .3-1.9 .3-.3 .3 1.6 .4 1.4 .3-2.1 .3 1.1 .3-1.2 .3-.8 .3 1.1 .3 .6 .4-.8 .3-.4 .3-.5 .3 .7 .3-.8 .3 1.6 .3-.2 .4 .4 .3 0 .3-1.5 .3-.6 .3 2.5 .3-2.8 .4 .6 .3 .4 .3-1.3 .3 1.9 .3-.9 .3 1.1 .3-.6 .4-1 .3 .1 .3 1.3 .3-1 .3 .7 .3 0 .3-.6 .4 .5 .3 .7 .3 .4 .3 1.5 .3-1.3 .3-1.2 .4 3 .3-1.3 .3 .7 .3-2.4 .3-.5 .3 1.6 .3 2.3 .4-.8 .3-1.6 .3-.3 .3 .7 .3-1 .3 .7 .3-.2 .4 .7 .3-1.3 .3 1.6 .3-.3 .3-.8 .3 .5 .4-.1 .3 1.7 .3-1.3 .3 .6 .3 .3 .3-2.8 .3 2.2 .4-1.1 .3 1 .3-.4 .3-.1 .3 .5 .3-.6 .3 .3 .4-1.2 .3 .1 .3 .8 .3 .3 .3 .7 .3-2 .4-.4 .3-.2 .3 1.8 .3-1.7 .3 .2 .3-.1 .3-1 .4-.1 .3 .7 .3-.8 .3 .4" stroke="#00f000" stroke-width="0.88"/>
<path d="M330 152l.3-1.1 .3-1.1 .3-1.1 .3-1.4 .4-1.4 .3-.9 .3-1.3 .3-1 .3-1 .3-.1 .3-1.2 .3-1.7 .4-.9 .3-.5 .3-.5 .3-2.7 .3 0 .3-1.1 .3-.1 .3-2.6 .3 .7 .4-3.2 .3-.4 .3-2.6 .3 1.6 .3-3.5 .3 1.1 .3 1.3 .3-1.1 .4-1.4 .3 2 .3-.5 .3-.6 .3-.1 .3 .3 .4-1 .3 .9 .3-.5 .3 1.9 .3-1.8 .3 .7 .3-1.7 .4 1.1 .3 1 .3-.6 .3-.4 .3 1.3 .3-1.5 .3 .3 .4-.9 .3-.3 .3 .1 .3-.8 .3 .6 .3-.2 .3-1.3 .4 .8 .3 .7 .3 .2 .3-1.9 .3 2.1 .3-1.9 .3 0 .4 .6 .3-.7 .3-1.2 .3 1 .3 .3 .3-1 .3 1.9 .4-.8 .3 1.4 .3-1.3 .3-.1 .3 .3 .3-.8 .3 1.2 .4-.7 .3-1 .3 .9 .3-.1 .3-.8 .3 .6 .4 .2 .3-1 .3 .1 .3-.3 .3 0 .3 .4 .4-1.1 .3 2.3 .3-.6 .3-1.6 .3-1.1 .3 2.5 .4-.7 .3-2 .3 1.9 .3-.3 .3 .4 .3-1 .4 .1 .3 .9 .3-2 .3 1 .3-.9 .3-.8 .4 1.9 .3-2 .3 .4 .3-.3 .3 2.2 .4-4 .3 .7 .3 .6 .3-.6 .3-.9 .3-.2 .4-.6 .3-.3 .3 .8 .3-1.7 .3 0 .3 .5 .4 1.1 .3-1 .3 .6 .3 1.1 .3 .5 .3-1.6 .4 .4 .3-.9 .3 .6 .3 .5 .3-.4 .3 .8 .4-.9 .3-1.7 .3 1.5 .3 .1 .3-1 .3 .7 .4 1 .3 1.5 .3-1.3 .3 1 .3-2.6 .3 .2 .4 0 .3-.2 .3 .4 .3 1.4 .3-1.2 .3-.7 .4 1.1 .3-1 .3 1.6 .3 .8 .3-1.4 .3 .7 .3 .8 .4-.9 .3-2.2 .3-1.4 .3 2.8 .3-2.1 .3 .8 .4 1 .3-1.3 .3 .1 .3 1.4 .3-1.5 .3-.1 .3 1.2 .3-2 .4 1.7 .3-1.3 .3 .8 .3-1.3 .3-1.2 .3 1.2 .3 1.4 .3-1.3 .4-.4 .3 .1 .3 .4 .3-2.5 .3 2.4 .3-.2 .3-2.8 .3 1.7 .3-1.9 .4 2.1 .3-1.7 .3 .2 .3 .1 .3-1 .3 0 .3 1.8 .3-1.2 .3-.9 .4 .8 .3 .5 .3 .6 .3-2.1 .3 .9 .3-.9 .3-.1 .3 .1 .3-.1 .4-.1 .3 1.3 .3-1.2 .3 .7 .3 .2 .3-1 .3 0 .3-1.1 .4 3.4 .3 .1 .3-1.4 .3 1.3 .3 .3 .3-1 .3 .3 .3-.1 .3 .6 .4-.8 .3-1 .3 1.7 .3-1.2 .3 2.1 .3-1.9 .3 1 .3 .9 .3-1.2 .4-2.2 .3 1.3 .3 .3 .3-.9 .3 .3 .3-2.1 .3 2 .4-.3 .3-.2 .3-1.9 .3-.7 .3 1.5 .3-1.6 .3-.1 .3-.7 .4-.9 .3 .1 .3 1.1 .3-2.4 .3-.5 .3 .5 .3-1 .4-1.1 .3-.6 .3 .5 .3-1.3 .3 1 .3-1.3 .4-1.9 .3 0 .3-1.1 .3-.9 .3 1.3 .4-.1 .3-1.7 .3-.7 .3 .2 .3-.3 .3 1 .3-3.1 .3 1.3 .3 .4 .3-1.2 .3 2.2 .3 2.6 .3 1.2 .3 1.7 .3 1.5 .3 2.1 .3 .2 .3-1.9 .4 .9 .3-1.7 .3 2.5 .3 1.7 .3-1.4 .4 1.1 .3-.5 .3 .5 .3 0 .3-.8 .3 1.2 .4 .2 .3 1.3 .3-.6 .3 .5 .3-.4 .4 2.1 .3-.2 .3-.1 .3-.6 .3-.3 .3 1.8 .4-3.2 .3 3.2 .3-1.5 .3 1.8 .3-.8 .3-.4 .3 .6 .3 .3 .3 .5 .4 .4 .3-.9 .3-.7 .3-.2 .3-.1 .3 .8 .3-1.3 .3 2.3 .3-1 .4 .4 .3 .1 .3 .4 .3-1.1 .3-.4 .3 2.6 .3 .8 .3-1.7 .3 .3 .4-.1 .3-.9 .3 1.7 .3-.3 .3-.2 .3-.4 .3 .3 .3 .8 .3-.9 .4-.4 .3-1 .3 2 .3-1.9 .3 .9 .3 .2 .3-.2 .3 .2 .3 .9 .4-.2 .3-.4 .3-.3 .3 .5 .3 0 .3 .4 .3 .7 .3 1.6 .4-.9 .3-.3 .3-1 .3 2 .3-.8 .3 1 .3-.2 .3-1.1 .4-.1 .3 1.7 .3-1.1 .3 .1 .3-1.1 .3 .7 .3-2.3 .3 2.7 .4-1.7 .3 .6 .3 .8 .3-1.2 .3 .2 .3 1.6 .3-.6 .3 .3 .3 .1 .4 0 .3-1.7 .3 1.2 .3 .3 .3-.7 .3 0 .3 .5 .3 .8 .4-1.7 .3 .5 .3-.7 .3 1.2 .3-.9 .3 .4 .3 0 .3-.9 .4 2.3 .3-1.2 .3-.2 .3 .5 .3 .4 .3-.9 .3 .1 .3 .2 .4 .5 .3 .6 .3-1.4 .3 0 .3 1.3 .3-1.4 .3 1.9 .3-1.2 .3 1.5 .4-2.7 .3 2.1 .3-1.7 .3 .6 .3 .3 .3 .5 .3-.1 .3-.3 .3-.2 .4 .8 .3-.8 .3 1.7 .3-1.4 .3 1 .3-.5 .3 .2 .3-1.2 .3-.4 .4 1.2 .3-.2 .3 .7 .3 .1 .3-1.3 .3 .4 .3 .4 .3 .6 .4-.3 .3 .5 .3 .3 .3 .1 .3 .1 .3-.3 .3-1.4 .3 1.6 .3 .6 .4-.2 .3-1.2 .3 .5 .3 1 .3 .3 .3-.6 .3-1.5 .3 2.8 .3-2.7 .4 1.9 .3 .4 .3 .2 .3-1.1 .3-.8 .3 .9 .3-1.7 .3 1.2 .3-.7 .4-.1 .3 .7 .3 .1 .3-.3 .3-.8 .3 .9 .3 .4 .3-.2 .3 .9 .4-1 .3-1 .3 0 .3 1.1 .3-1.1 .3 2.1 .3-1.6 .3-.4 .3-.9 .4 1.4 .3-1.3 .3 .5 .3 1.4 .3-.2 .3-.4 .3 0 .3-1.2 .3 .8 .4 .3 .3-.1 .3 .5 .3 .7 .3-.4 .3-1.5 .3-.9 .4 .1 .3 2.9 .3-1.6 .3 .5 .3-.2 .3-1.3 .4 1.3 .3-1.3 .3-.1 .3 .5 .3-.7 .3-.6 .3 .1 .4-.3 .3 1.7 .3-1.1 .3 .2 .3-1.2 .3 1.4 .3-.5 .4 .8 .3-.7 .3-2.8 .3 3.5 .3 0 .3-1.5 .4 .4 .3-1 .3 .5 .3-.2 .3-.4 .3 1.7 .3 .4 .4 .1 .3-1.1 .3 1.5 .3-1.1 .3 .1 .3-.4 .3 1.2 .4-.6 .3 1.4 .3-1.6 .3 .7 .3-.4 .3 .3 .4-1.5 .3 .9 .3-.6 .3 1.3 .3-.3 .3-1 .3 1.3 .4-.9 .3 .2 .3 .5 .3-.4 .3 1.3 .3-1.5 .3 0 .4 .6 .3-.8 .3 .2 .3 1.9 .3-2.5 .3 1.4 .4-.3 .3-2.3 .3 1.9 .3-.3 .3-.9 .3-.4 .3 2 .4-2 .3 .4 .3 1.1 .3-1.6" stroke="#00f000" stroke-width="0.88"/>
<path d="M330 152l.3-1.2 .3-1.2 .3-1.1 .4-.3 .3-3.1 .3 .5 .3-3.4 .3 1.5 .3-2.4 .3-1.7 .4-1.5 .3 .1 .3-3.4 .3 .4 .3 1.7 .3-2.3 .3-3.8 .3-.1 .4-1 .3-.6 .3-1.9 .3-1.6 .3-1.9 .3-.7 .3-.8 .4 .2 .3 .7 .3-.8 .3-1.4 .3 0 .3-1.2 .3 .7 .4 .2 .3-1.8 .3 1 .3 .8 .3-2.5 .3-.4 .3 1.7 .3-.7 .4 .2 .3-.2 .3-1.2 .3 1.1 .3-1.9 .3 .4 .3-2 .4 0 .3-.1 .3 2.3 .3-1.4 .3-1.6 .3 2.2 .4-.8 .3 .5 .3-.6 .3 1.2 .3-.6 .3-.1 .4 0 .3-.6 .3 .8 .3-1.8 .3 2.5 .3 1 .4-1.3 .3-.9 .3 1 .3-.5 .3 .5 .3 .5 .4-1.5 .3 1.9 .3-.2 .3-.2 .3-.1 .3 .2 .4-1.1 .3 1.7 .3 .3 .3-1 .3 .4 .3 .2 .4 1.7 .3-1.4 .3 1.3 .3-1.2 .3 1.2 .3-.4 .3 .2 .3-1.1 .3 .8 .4 .5 .3-.7 .3 .5 .3 .4 .3 0 .3 1.8 .3-.6 .3 .5 .3-1.9 .4 1.3 .3-1.8 .3 .1 .3 2.2 .3 1 .3 0 .3 0 .3 .2 .3-.3 .4 .8 .3-.5 .3 .1 .3 1 .3-.9 .3 .8 .3-.1 .3 .9 .3-.4 .4-.4 .3 .6 .3 1.2 .3-1.5 .3 0 .3-.4 .3 .2 .3-2.4 .3 2.3 .4-1.8 .3 .9 .3-1.5 .3-.1 .3 1.6 .3-1.3 .3 1.6 .3-.1 .3 .6 .4-1.2 .3-.7 .3 .7 .3 1.4 .3-.6 .3-.8 .3 .7 .3 .4 .4-.1 .3-.4 .3-1.8 .3 1.6 .3 1.6 .3-1.6 .3 2 .3-.4 .3 .9 .4-.9 .3-.1 .3-.4 .3 .2 .3-.5 .3-.1 .3-.1 .3 1.4 .3-1.2 .4 1 .3-.6 .3 .4 .3 .1 .3-1.4 .3 1.1 .3 .9 .3-1.8 .4 1.4 .3 0 .3 0 .3 .5 .3 .8 .3 .1 .4-.5 .3 0 .3 .3 .3 .7 .3-1.6 .3 1.1 .3 .2 .4-.5 .3-.9 .3 1.3 .3 .9 .3 .7 .3-1.6 .3-1 .4 .2 .3 1.2 .3-1.3 .3 .7 .3-.6 .3 1.7 .3-.6 .4-1.5 .3-.1 .3 1 .3-.4 .3 .6 .3 .4 .4-1.6 .3 1 .3 .9 .3 .6 .3-1 .3-1 .3 .6 .4 .8 .3 .4 .3 .6 .3-.7 .3 1.6 .3-2.4 .3 .2 .4 1.4 .3-.8 .3 1.8 .3-.2 .3-.5 .3 .7 .4-1.1 .3 1.1 .3-.8 .3-.8 .3 .7 .3 1.4 .3-2.6 .4 .7 .3-.4 .3 1.4 .3-.6 .3 1.3 .3-.1 .3-1.5 .4 .4 .3 0 .3-.5 .3-.7 .3 2.5 .3-2 .4 1.1 .3 .4 .3 .6 .3-2.4 .3 1.4 .3-1.3 .3 2.9 .4-1.7 .3-1.8 .3 1.8 .3 1.5 .3 0 .3-1.6 .3 .2 .4-.6 .3 .4 .3-1.4 .3 .2 .3 .2 .3-.1 .4-.9 .3-.4 .3 1.3 .3 .4 .3-2.7 .3 1.3 .3-.1 .4 1.3 .3-1.6 .3 1.1 .3 .4 .3-1 .3-.9 .3 .6 .4 .4 .3-.3 .3 1.6 .3-2.7 .3 1.5 .3-.2 .4 .8 .3-1 .3-.9 .3 .6 .3 2 .3-2.4 .3 2 .4-1.2 .3-.9 .3 .1 .3 .6 .3 1.1 .3-1.2 .3 0 .4-.9 .3 1.5 .3-.7 .3-.3 .3 .1 .3-.8 .4 .8 .3 .7 .3-1.2 .3 .9 .3-1.1 .3 1.6 .3-1.4 .4 1.4 .3 .5 .3-1.1 .3 2.6 .3-2.4 .3 .8 .3 1.6 .4 0 .3-2.1 .3 1.1 .3-.7 .3-1.4 .3 .4 .4-.3 .3 1.5 .3 .9 .3-.4 .3-1.3 .3 2.5 .3-2.4 .4 1 .3-.2 .3 .6 .3-1.1 .3 1.4 .3-1.9 .3 .4 .4 .4 .3 .2 .3-1.6 .3 2.2 .3 0 .3 0 .4-1.6 .3 2.5 .3-2.6 .3 .9 .3-.3 .3 .6 .3-.5 .4 .5 .3 0 .3 1.2 .3 .9 .3-3 .3 .3 .3 .1 .4-.2 .3-.2 .3-.2 .3-.2 .3-.6 .3-.9 .4 2.6 .3-.5 .3 .8 .3-1.1 .3-.8 .3-.4 .3 2.2 .4-1 .3-.9 .3 .7 .3-.6 .3 .5 .3-.4 .3 0 .4 0 .3 .1 .3 .6 .3 .8 .3-1 .3 .6 .4-1.6 .3 .7 .3 0 .3 1 .3-1.9 .3 2.4 .3-1.2 .4 .1 .3-.3 .3 1.2 .3-1.1 .3-1.1 .3-.2 .3 .2 .4 .8 .3 0 .3 .2 .3 .4 .3-1.5 .3 2.1 .3-.4 .4 .6 .3-1.2 .3 1.4 .3-2 .3 .7 .3 .1 .4-.7 .3 1.2 .3-.5 .3 1.4 .3-1.1 .3 .4 .3-1.4 .4-.2 .3 .4 .3 .2 .3-1 .3 2.4 .3-1.9 .3-.1 .4 1.3 .3-1.6 .3 .8 .3 1 .3-1.8 .3 .7 .4 .3 .3-.5 .3-.6 .3 1 .3-.5 .3-.9 .3-.8 .4 1.4 .3 .8 .3-2 .3 1.6 .3-.3 .3-.2 .3-.5 .4 2.8 .3-.8 .3-.2 .3 .2 .3-.7 .3 .5 .4-.1 .3 .2 .3 0 .3 2.1 .3-1.2 .3 0 .3-.9 .4 .4 .3 1.4 .3-2 .3-.2 .3 .2 .3 1 .3-.7 .4-.4 .3 .6 .3 1.1 .3-2 .3 1.4 .3-.1 .4 .5 .3-1.3 .3 .3 .3 .7 .3 0 .3-1.5 .3 .8 .4 0 .3 .4 .3-.8 .3 2 .3-1.3 .3 .2 .3 .7 .4-2.4 .3 1.8 .3 .2 .3-.5 .3-.7 .3 2.1 .4-.6 .3 .3 .3-1.3 .3 .2 .3 .6 .3-1.2 .3 .9 .4 .9 .3-1.3 .3-.4 .3 .7 .3 0 .3-1.3 .3 0 .4 .8 .3-.2 .3 .9 .3-.5 .3-.3 .3-.6 .4 1.1 .3-1.2 .3 .3 .3 .9 .3-1.2 .3-2.2 .3 3.2 .4-2.2 .3 .9 .3-.6 .3 0 .3-1 .3 1.4 .3-1.4 .4 2.1 .3-1.4 .3-.3 .3-.2 .3-.7 .3 1.4 .4 1.8 .3-1.9 .3 1 .3-.6 .3-1.2 .3 1.3 .3 .5 .4-.1 .3 1.1 .3-2.3 .3 1.5 .3 .8 .3-1.2 .3 .6 .4 0 .3-.4 .3-.7 .3-.1 .3 .7 .3 .7 .4 .4 .3 1.1 .3-1.8 .3 1.5 .3-2.1 .3-.2 .3 3.1 .4-2.9 .3 .5 .3 1.4 .3-1.8 .3 .3 .3-.3 .3 2.4 .4-1.2 .3-.6 .3-.3 .3 .5 .3-1 .3 1.1 .4-1.5 .3 .4 .3 .4 .3-.1 .3-.9 .3 3 .3-1.6 .4-.4 .3 .4 .3 0 .3-.2" stroke="#00f000" stroke-width="0.88"/>
<path d="M330 152l.3-.8 .3-.8 .4-.7 .3-.4 .3-1.4 .3-1.1 .3-1 .3-.3 .4-.8 .3 .6 .3-1.7 .3-2.1 .3-.2 .3-1.8 .4-.3 .3-1.1 .3-.2 .3-2 .3 .6 .3-1.5 .4 .1 .3-1.2 .3-.5 .3-2.1 .3-.6 .3 .6 .4-2 .3-.4 .3-1.1 .3-.1 .3-1.1 .3-2.1 .4 .3 .3-2 .3 2 .3-2 .3 .1 .3 .8 .4-.1 .3-1 .3 1.1 .3 .1 .3 .8 .3-1.2 .4 .7 .3-1.5 .3 .3 .3 .5 .3-.6 .3 2 .4-.9 .3-1.5 .3 .1 .3 .4 .3 .2 .3 0 .4-.6 .3-1.1 .3-.6 .3 .4 .3 2.1 .3-.8 .4-2.5 .3 .8 .3 1.2 .3-.8 .3-.8 .3 1.5 .4-.8 .3 .2 .3 .5 .3-.7 .3 .7 .3 0 .4-2 .3 2.4 .3-2.2 .3 1.4 .3 1 .4-2.6 .3 1.4 .3-1.6 .3 1.7 .3 1 .3 .6 .4-1.2 .3 1.9 .3-2 .3 1.5 .3-.4 .3 .7 .4 .8 .3-1 .3-2.4 .3 1.1 .3 .8 .3 1.3 .4 0 .3 .7 .3-1.7 .3 1.3 .3-1.3 .3 .7 .3 .3 .4-1.4 .3 .7 .3-.1 .3 .9 .3 .4 .3 .2 .3 0 .3 .4 .4-1.2 .3 2.6 .3 .8 .3-2 .3-.3 .3 1.2 .3-1.3 .4 .4 .3 2.2 .3-2.3 .3 1.9 .3-1.2 .3 .8 .3-.3 .4 .9 .3-.2 .3-.1 .3 .3 .3-.9 .3 2.1 .3-.9 .4-1.6 .3 .2 .3 1.6 .3-.6 .3-.4 .3-.3 .3 .5 .3-1.4 .4 .3 .3 2 .3-2 .3 .1 .3 .1 .3 1.2 .3-1.4 .4 .3 .3 1.3 .3-1.1 .3 .3 .3 .1 .3-.3 .4-.4 .3-.3 .3 1 .3-.3 .3-1.3 .3 1 .3-.6 .4 .8 .3-.7 .3 0 .3 .2 .3 .4 .3 .4 .4-.7 .3 .4 .3 .3 .3-1.8 .3 2 .3-1 .3-1.9 .4-.5 .3 .6 .3 1.9 .3-3.1 .3 .4 .3 .4 .4 .8 .3-.7 .3 .6 .3 1.7 .3-1.3 .3-.2 .3 .2 .4-1.1 .3 1.6 .3 .6 .3-.4 .3 .8 .3-.8 .4 1 .3 1 .3-2.4 .3 2 .3 .3 .3 .3 .3 .5 .4-1 .3-.4 .3 .7 .3 .2 .3 .5 .3-1.8 .4 2.8 .3-1.7 .3 .3 .3-.5 .3 1.7 .3 1.8 .3 .1 .4-2.2 .3 .7 .3-.9 .3 .2 .3 .6 .3-.5 .4 1.6 .3-.8 .3-1.4 .3 0 .3-.3 .3 .8 .3 1.5 .4-2.1 .3 1.6 .3 .1 .3-1 .3 0 .3-.4 .3 .2 .4 .4 .3 1.3 .3-1.6 .3-1 .3 1.6 .3-.9 .4 .9 .3 .6 .3 .1 .3 .9 .3-.1 .3 .3 .3-.6 .4 1.6 .3-1.1 .3-.7 .3 1 .3 .6 .3-.9 .3-.7 .4-1.1 .3 2.5 .3-2.2 .3 0 .3 2 .3-1.5 .4-1 .3 1 .3-.7 .3 2.4 .3-2.3 .3 .4 .3-1.2 .4 .4 .3-.7 .3 .3 .3-.1 .3 1 .3-.9 .3-.7 .4 .2 .3 0 .3-.9 .3 .1 .3 .8 .3 .4 .4 .3 .3 .6 .3-1.6 .3-1.1 .3 1.6 .3 .5 .3-.3 .4-.3 .3 .5 .3-.4 .3 0 .3 .7 .3-.9 .3-1.1 .4 1.6 .3-.3 .3-2.2 .3 2 .3 .2 .3-1.1 .3-.7 .4 2 .3-1 .3 .2 .3-.4 .3-.9 .3 .4 .4-.4 .3 2.4 .3-.5 .3 .5 .3-1.2 .3 1.1 .3-.1 .4-.1 .3-.3 .3 .1 .3 1.6 .3-.8 .3-.4 .3 1.1 .4 0 .3-1.6 .3 .1 .3 1.5 .3-1.1 .3 1.6 .4-1 .3-.6 .3-.4 .3-.2 .3 .8 .3 .6 .3 .4 .4-1.3 .3 1.5 .3 .4 .3-1 .3 .4 .3-.3 .3 .6 .4 .9 .3-1.3 .3-.3 .3 1.1 .3 1.1 .3-1.2 .4-.2 .3 1 .3-.9 .3 .7 .3-1.5 .3 0 .3 .3 .4 1.3 .3-.5 .3 .4 .3-1.1 .3 1 .3-.6 .3-.2 .4-.1 .3 .2 .3 1 .3-1 .3 .6 .3-.9 .4 2.3 .3-1.5 .3 0 .3 .8 .3 .5 .3-1.5 .3 1.8 .4 .1 .3-2.4 .3 .5 .3 1 .3-.3 .3-1 .3 1.3 .4 .4 .3-1.6 .3-.1 .3 .2 .3 1.1 .3 .6 .4-.7 .3 1.1 .3-1.9 .3 .2 .3 .8 .3-.5 .3 .7 .4-.7 .3-.5 .3-.7 .3 .3 .3 1.9 .3 .5 .3-1.5 .4 1.1 .3-1.6 .3 1 .3-.4 .3 .5 .3 1 .4-1.8 .3 .3 .3-.4 .3 2.4 .3-.9 .3-1.9 .3 2.6 .4-1.2 .3 .7 .3-.3 .3 .9 .3-.6 .3-.7 .3-.2 .4 1.1 .3-.6 .3-.6 .3 .3 .3 .7 .3 .5 .4-.7 .3-.2 .3 0 .3 .3 .3-.3 .3-.3 .3-.3 .4 .1 .3-.1 .3-1.9 .3 .7 .3 .6 .3-1 .3 1.1 .4-1.6 .3-1 .3 1.2 .3 0 .3-.5 .3-.5 .4 1.5 .3 .1 .3-.9 .3-1.5 .3 2.4 .3 .2 .3 0 .4 0 .3-.7 .3 1 .3-.8 .3 .7 .3-1.9 .3-.3 .4 1.6 .3-1.2 .3 1.3 .3-.3 .3 .1 .3-.2 .3 1.1 .4-1 .3-.8 .3 1.6 .3-2.5 .3 2.5 .3-1.6 .3-1.3 .3 .9 .4-1 .3 2.6 .3-.9 .3-1.4 .3 1 .3-1.8 .3 1.2 .4-.4 .3 1.3 .3-.4 .3 1.8 .3-2.8 .3 .1 .3 1.5 .4-1 .3 .1 .3 .6 .3-.9 .3 .7 .3-.3 .3 1.4 .3-.4 .4 1.2 .3-.2 .3-.8 .3 .4 .3-.2 .3-1.6 .3 .9 .4 1.1 .3-.5 .3 .8 .3-1.3 .3 1.7 .3-1.5 .3 1 .4-.2 .3-.9 .3 1.1 .3 .8 .3-.4 .3-.1 .3-.3 .3-2.7 .4 0 .3 1.5 .3-.1 .3 1.3 .3-2 .3 1.2 .3-.7 .4-.5 .3 .6 .3-1.5 .3-.5 .3 .6 .3-.2 .3 .5 .4-1 .3 .9 .3-.3 .3 2.1 .3-.5 .3-1 .3-.6 .4-.8 .3 .5 .3 1.3 .3 1 .3-1.2 .3-.5 .3 1.3 .3-.8 .4-.3 .3 .8 .3-.5 .3-.9 .3 .2 .3 1.8 .3-1.3 .4 .3 .3 1.6 .3-1.4 .3-.2 .3-.3 .3 .3 .3-1.4 .4-.3 .3 1.2 .3-.1 .3 .1 .3 .8 .3-1.6 .3 .7 .3 1.1 .4-2.3 .3-.1 .3-.6 .3 .7 .3 1.1 .3-2.4 .3 1.1 .4 .9 .3-.3 .3-.5 .3 0" stroke="#00f000" stroke-width="0.88"/>
<path d="M330 152l.3-2 .3-2 .3-1.8 .4-2.3 .3-2.4 .3-1 .3-3.4 .3-.1 .3-3 .3-3 .4-3.3 .3-2.2 .3-3.5 .3-2.7 .3-4.4 .4-17 .4-17.9 .3-2 .3-3.8 .4-1.4 .3-2.8 .3-3.3 .4-3.9 .3-4.4 .3-4.6 .3-1.1 .3-.6 .4-1.9 .3 1 .3-3 .3-.6 .3-1.3 .4-.5 .3-1.5 .2 1.2 .3 5.2 .3 .8 .3-.7 .3-1.1 .3 1.4 .3-.9 .3-.3 .3-.4 .3 .8 .3 1.2 .3 .3 .3-.2 .3 3.4 .3-.5 .3 .2 .3 1.1 .3 1.1 .3 1.4 .3 1 .4-1 .3 3.5 .3 2 .3 3.4 .3 1.3 .3 2.4 .3-.5 .4 .6 .3 1.5 .3-.6 .4 .5 .3 .2 .3 0 .3 .9 .3 .5 .3 1.6 .3-.2 .3-.5 .3 1.4 .3-.4 .3 2 .3-.8 .4 .1 .3-.8 .3 2.1 .3 0 .3-.4 .4-1.5 .3 1 .3-.6 .3 1.2 .3-.7 .3 .3 .4-.1 .3 0 .3 .8 .3-.6 .3 1.6 .3 2.9 .3-.7 .4 .1 .3 1.6 .3 .1 .3-.1 .4 2 .3-.2 .3 2.4 .4 .2 .3 1.6 .3-.6 .3-2 .4 2.7 .3-.5 .3 .2 .3-.7 .4 1.2 .3-.3 .3-.1 .4 1.3 .3-.4 .3-.4 .3-1.2 .3 .1 .3-.5 .3 .7 .3-.3 .3 1 .3-.4 .3-1.6 .3 1.2 .3-1.4 .3 1.6 .3-1.5 .3 0 .3 0 .4 1.4 .3-.6 .3-.8 .3 1.4 .3-1.4 .3 .8 .4-.3 .3 .3 .3-.7 .3 .4 .3-.3 .3 .2 .4-.1 .3 .4 .3 .5 .3-.5 .3-.5 .3-.1 .4 1 .3-.1 .3 0 .3 1 .3-1.3 .4 .8 .3-.2 .3 .1 .3 .2 .3-.2 .3 .4 .3-.1 .3 0 .3 .3 .3 .7 .4-.5 .3 .9 .3 1.3 .3 .3 .3-.6 .3 1.2 .3 .1 .3-.7 .3 .3 .3 .6 .3-.9 .3-.3 .3 0 .4 1.2 .3 .2 .3 .2 .3 .8 .3 .9 .3-.3 .3-.1 .3 .7 .3 .3 .3-1.4 .4 1.2 .3-.3 .3-.1 .3-2 .3 1.7 .3-.5 .3 .6 .4-.2 .3 .8 .3-.4 .3 .4 .3-.9 .3 1.2 .3-1.3 .3 .4 .4 .4 .3-.7 .3 .1 .3 1.3 .3-1.2 .3 1.9 .3-.5 .4 1.8 .3-1 .3 .7 .3-.9 .3 1.3 .3-1.3 .3 1 .4-.7 .3 0 .3 .7 .3-.2 .3 .7 .3-1.3 .3 .6 .3 .8 .4-3 .3 1.6 .3 0 .3 1.3 .3-.8 .3-.6 .3 .4 .3-1.5 .4 0 .3-.6 .3 .8 .3-.5 .3 1.2 .3-.9 .3 .1 .3-.3 .3 .5 .3-.1 .3 .2 .4-.4 .3-.9 .3-.4 .3-.8 .3-.6 .3-.1 .3 .5 .3-.4 .3-.2 .3 .2 .4-1.3 .3 .3 .3 .6 .3-1 .4-.1 .3-.7 .3 .1 .3 .5 .3-.6 .4 1.3 .3 0 .3-1.9 .3 0 .3-1.1 .4 1 .3-.5 .3 0 .3-1.1 .3 .6 .4-.5 .3 .1 .3 .3 .3-.7 .3-.1 .4 .4 .3-1.7 .3 1.5 .3-.7 .4 1.7 .3-1.5 .3-.2 .3 .5 .3-.1 .4 1.1 .3 0 .3-1.2 .3-.4 .3-.5 .4 0 .3-.1 .3 .6 .3 .2 .3-.8 .4 1.5 .3-.4 .3-.3 .3 .6 .3 1.1 .3 1.1 .3-2.3 .4 .8 .3 .7 .3 .1 .3 1.1 .3-.1 .3-.4 .3-.4 .4 1.8 .3-.4 .3 1.1 .3-.2 .3 .1 .3 .7 .3-.2 .3 .6 .4 .9 .3-.2 .3 .3 .3 .1 .3 .7 .3 .7 .3 .2 .3-.5 .3 2.6 .3-.9 .3 .2 .4-.2 .3 1 .3 1 .3-1.4 .3-1.1 .3 3.1 .3-.6 .3-.2 .3 .9 .3-.6 .4-1.4 .3 .1 .3-1.9 .3 1.7 .4-1.2 .3 0 .3-.1 .3-1.9 .3-2.1 .4 .2 .3 .4 .3-1.4 .3-1.4 .4-.3 .3 .4 .3 .1 .3-.7 .3-1.1 .3 .6 .3-.3 .3-.2 .4-.6 .3-.1 .3-1.2 .3 .3 .3 .6 .3-.9 .3-.2 .3 .8 .3-1.3 .3 .5 .3-1.5 .3 1.8 .3-1.4 .4 1.3 .3 1.7 .3 1.3 .3-.6 .3-.2 .3 1.7 .3-.6 .3 1.3 .4-.5 .3 1.9 .3-.1 .3 .9 .3-.5 .3 2.1 .3-.3 .3-.4 .3 1.5 .4 1.4 .3 .1 .3-.2 .3 .8 .3 .6 .3 .7 .3-.2 .3 1.7 .4 .6 .3-.9 .3 .1 .3 .7 .3 .2 .3 3.2 .4-.5 .3-2 .3 0 .3 1.5 .3 0 .3 .9 .4-1.2 .3 .4 .3 .3 .3-.7 .3 2.7 .3-.6 .3-.7 .3-.3 .3 .5 .4 .3 .3 .4 .3 .4 .3-1.3 .3 1 .3-.2 .3 0 .3-.6 .3 .3 .3-.2 .3 1.7 .4-1.4 .3 .7 .3 .9 .3-1.6 .3 1.2 .3-1.1 .3 .4 .3-1.2 .3 .8 .3-.2 .4-.6 .3-.6 .3-.2 .3-.3 .3-1.4 .3 1.8 .3 0 .3 0 .3 .8 .3-1.6 .3 1.3 .4-2 .3 0 .3 .4 .3 0 .3-.6 .3-1.1 .3 1.5 .3-1.5 .3 1 .3-1 .4-1.2 .3-1 .3-.9 .3-.6 .3 .1 .4 .8 .3-.8 .3-1.3 .3-2.3 .3 .8 .3-1.4 .4-.5 .3-.4 .3-.2 .3 .3 .3-.9 .3-1.2 .3 1.1 .4-1.2 .3 .3 .3 .4 .3-1.2 .3-.9 .3 .2 .3-.1 .4-1.7 .3 .9 .3-1 .3-.1 .3-.2 .3-.7 .3 .4 .4 .1 .3-1.1 .3-.1 .3-1 .3-.1 .3-.6 .3 0 .3-.6 .3-.1 .3-.2 .4 .9 .3-1.8 .3-.1 .3-.7 .3 1.4 .3-.9 .3-.7 .3-.5 .3 1 .3 .3 .3 .8 .3 1.8 .3-2 .4 1.4 .3 .2 .3 1.3 .3 2.4 .3 .4 .3-.3 .3 2.3 .3 .2 .3 1.5 .4-1.4 .3 2.6 .3 .4 .3 .4 .3 .4 .3 .9 .3 .2 .3 1.9 .4 .1 .3-.3 .3 1.3 .3 .8 .4 1.4 .3 .6 .3-1 .3 1.7 .4 .1 .3 1.5 .3 .1 .4 .8 .3 .3 .3-.3 .3-.1 .3 .9 .3 1.9 .3-.3 .3 .2 .3-.8 .3 .4 .3 .4 .3 1.6 .3-.3 .3 .2 .3 .5 .3-.3 .3-.3 .3-1.3 .3 1.3 .3 .1 .3 .8 .3-1 .4 .8 .3-.7 .3 .9 .3 1.2 .3-.6 .3 .6 .3-1.4 .3 .4 .3-2 .3 .9 .3 .9 .3-.4 .3-.4 .4-1.1 .3 2.5 .3-1.2 .3 .7 .3-.6 .3-1.2 .3-.9" stroke="#0000ff" stroke-width="0.88"/>
<path d="M330 152l.3-1.6 .3-1.6 .3-1.2 .3-1.5 .3-2.2 .3-1.2 .4-2.6 .3 .2 .3-2.2 .3-1.8 .3-.3 .3-2.9 .3-.9 .3-2 .3-1.9 .3-2.1 .3-.8 .4-2.1 .3-2.4 .3-3.3 .3-2.8 .4-.5 .3-2.4 .3-3.8 .3-1.4 .4-3 .3-2.3 .3-2.3 .4-2.1 .3-.4 .3-1.4 .3-1 .3-2.8 .4-.3 .3-1.5 .3-.8 .3-2.2 .3-.5 .4-1.8 .3-.4 .3-2 .3-.7 .4-.6 .3 1.2 .3 .5 .3 1.6 .4-1.2 .3 .7 .3-.1 .3 1.1 .4-1.2 .3 1.1 .3 .2 .3-.4 .3 .6 .4 1.5 .3-1.2 .3 1.9 .3-2.1 .3 .4 .4 .8 .3 .2 .3 .7 .4 .6 .3 .3 .3 .3 .3-.5 .3 1.2 .4 .6 .3 .1 .3 .4 .3 .6 .3-1.6 .3-.4 .3 1.3 .3-.6 .3 1.1 .3 .2 .3-.7 .3 1.6 .3-.8 .4 .7 .3-.6 .3-.5 .3 1.6 .3-.7 .3 .8 .4 .2 .3 .7 .3 .2 .3-.4 .3 .4 .4 .3 .3 .9 .3 .7 .3-.5 .4 0 .3 .4 .3-.1 .3 1 .4 .9 .3-.7 .3 .4 .3 .1 .3-.7 .3 .9 .3 0 .3-.2 .3-.2 .3-.4 .3 1.7 .3-.9 .3 .6 .4 .1 .3 .6 .3 0 .3-1 .3 .9 .3 .8 .3 .6 .4-.5 .3-.5 .3 .5 .3 .1 .3 .7 .4-.6 .3-.4 .3 0 .3 1.3 .4-1 .3 .1 .3-.3 .3 .2 .4-1.2 .3 .7 .3 .3 .3-.1 .3 1.9 .3-1.6 .3 1 .4-.1 .3-.3 .3 1.1 .3-1.2 .3 .7 .3-.5 .3 .5 .4 0 .3-.6 .3 .1 .3-.4 .3 1 .3-1.3 .4-.5 .3 .7 .3-.3 .3 .7 .3-.7 .3-.5 .3 .4 .4 .1 .3-.1 .3 .4 .3-.4 .3 .2 .3-1 .4 0 .3-.3 .3-.3 .3 .5 .3 .5 .3-1.1 .3 .8 .4-.5 .3-.4 .3 0 .3 1.6 .3-.5 .3 .8 .3 0 .4 .1 .3 .5 .3 .3 .3-.4 .3-.3 .3-.6 .3 1.3 .4-.8 .3 .2 .3 1.4 .3-.1 .3-.6 .3-.2 .3-1 .3 .1 .4-.2 .3 1.6 .3-.2 .3 .8 .3-.1 .3 .2 .3-.2 .4 .3 .3 .8 .3-.4 .3-.3 .3-1.4 .3 2.5 .3-2 .4 1.7 .3-.3 .3-1.3 .3-.2 .3 1 .3-.2 .4 .8 .3 .2 .3-.4 .3 .5 .3-.1 .4 .8 .3 .1 .3 .2 .3 .4 .3-.9 .3 1.9 .4-.2 .3 .4 .3-.4 .3-.3 .3-.1 .3 .5 .4 .4 .3 .1 .3-.3 .3 .3 .3-1.3 .3 1.4 .3-1.6 .4 .6 .3-.5 .3 .8 .3-.3 .3 .3 .3-1.4 .3 .5 .3-.1 .3 .2 .3-.8 .3-.4 .3-.1 .4 .9 .3-1.4 .3 1.1 .3-.5 .3 .4 .3 .2 .3-1 .3-.4 .3 .5 .3 .6 .3-.7 .3-.7 .3 .5 .4-.4 .3-.2 .3 .3 .3 .7 .3-2.3 .3 .5 .4-.1 .3-.1 .3 .9 .3-1.2 .3 .6 .3-.9 .4 .8 .3 .2 .3-1.8 .3 1 .3-.1 .4-.7 .3 .1 .3-1 .3 1.8 .3-.9 .3 1.5 .4-1.8 .3 1.1 .3-1.4 .3 .3 .3-2.2 .3 1 .4 .3 .3 .3 .3 .4 .3 .1 .3-.3 .3-.1 .4 .2 .3 .7 .3-1.2 .3 .8 .3 .2 .3-.3 .4-.3 .3 .5 .3 .6 .3 .3 .3-.5 .3-.3 .4 .4 .3 .6 .3-.3 .3 .2 .3-1 .3 .2 .4 1.4 .3-.1 .3-1.1 .3 1.1 .3-.5 .3-.1 .4 .4 .3 0 .3 .4 .3 .3 .3-.1 .3-.8 .4 .6 .3 1 .3-.4 .3 .4 .3-.5 .3 .8 .4 .7 .3-.6 .3-.5 .3 .5 .3-.7 .4-.1 .3 .5 .3 .6 .3-.2 .3-.3 .4 1 .3-.6 .3 1.4 .3-1.6 .3 .5 .3 .2 .4 .6 .3 1 .3-.5 .3 .2 .3-.7 .3-.4 .3 .4 .3 .6 .3-.2 .3 1.2 .4-1 .3 .4 .3-.6 .3 .8 .3-.3 .3 1.1 .3 .4 .3-.4 .3 0 .4-.1 .3 .4 .3 .3 .3-.6 .3 .6 .3-1.1 .3 .1 .3 .7 .3 .6 .3-.5 .4-.3 .3 1.7 .3-1.5 .3-.4 .3 .2 .3 .9 .4-.3 .3 .3 .3-.7 .3 .5 .3 0 .3-.2 .4 .6 .3-1.3 .3-.5 .3 .8 .3-1.7 .3 1.7 .4 .1 .3-.5 .3-.4 .3 0 .3 .2 .3 .2 .4 0 .3-.8 .3 .9 .3 .5 .3-.4 .3-1.4 .4 0 .3 .4 .3-.6 .3 .1 .3 0 .3 .1 .4-1.2 .3 .6 .3-.2 .3-.2 .3-.8 .3 .7 .4-1.1 .3 1.5 .3-1 .3 .2 .3-.7 .3 .3 .4 1 .3-1.2 .3 1.7 .3-1.1 .3 .3 .3 .2 .3-.1 .4 .3 .3 .9 .3-.6 .3 .1 .3-.2 .3 .8 .4-.4 .3-.4 .3 1.6 .3-1.7 .3 1.5 .3-1.4 .4-.7 .3 1 .3 .4 .3-1.3 .3-.1 .3 .4 .4-.6 .3-.4 .3 .2 .3-.2 .3 0 .3 .2 .3 .7 .4-1 .3 .1 .3-.8 .3 .1 .3 .5 .3-.9 .3 .6 .4-.2 .3 .5 .3-.6 .3-.7 .3 .2 .3 1 .3-1.3 .4 1.4 .3-1.9 .3 1.3 .3-.2 .3 .1 .3-.3 .3 1 .4-.7 .3 .8 .3-.4 .3-.3 .3-1.1 .3-.1 .3-.6 .3 .5 .4-.1 .3 .8 .3 .2 .3-1.2 .3-.3 .3-.7 .3 .4 .4 .5 .3-.2 .3 1.1 .3-2 .3-.5 .3 .9 .4 .2 .3-.7 .3-.1 .3-.7 .3-.5 .3 .7 .3 1.2 .4-.9 .3-.1 .3-.6 .3-.3 .3-.4 .3-.4 .4-.9 .3-.2 .3-.7 .3 .4 .3 .5 .3-1 .3 .4 .4 .5 .3-.5 .3 .9 .3-1.8 .3 .8 .3 1.1 .3-.6 .4-.1 .3 1.7 .3-1 .3-.6 .3 .1 .3 .3 .3-.3 .3 .8 .3-.1 .4 1.2 .3 .5 .3-1.5 .3 .7 .3-1.5 .3 .4 .3-.4 .3 .9 .3 .1 .4 .7 .3 .2 .3-1.2 .3 1 .3-1.2 .3 .1 .4 .3 .3-.5 .3 .3 .3-.5 .3 .5 .3 .1 .4 1.1 .3-1.2 .3 .3 .3-.8 .3 0 .3-.8 .4 .9 .3-.1 .3 0 .3-.4 .3-.1 .3-.4 .4-.7 .3 .1 .3 .6 .3-.5 .3 0 .3-.5 .4 .2 .3 .5 .3-.5" stroke="#0000ff" stroke-width="0.88"/>
<path d="M330 152l.3-.5 .3-.6 .4-.1 .3-1.1 .3-1.2 .3-.1 .3-.4 .3 .3 .4-1.1 .3 .3 .3-1.8 .3 1.2 .3-1.4 .3-1.1 .4 0 .3-.5 .3 .4 .3-1.5 .3 .4 .3-1.1 .4-1.1 .3 .1 .3-2 .3 .6 .3-.4 .4-2.4 .3 .8 .3-.4 .3-1.2 .3 .9 .3-.7 .4-1.7 .3-.1 .3-.8 .3-.4 .3-1.5 .3-.4 .4 .1 .3-.7 .3-1.6 .3 1.1 .3-1.5 .3 0 .4 .3 .3-.6 .3 .2 .3 .2 .3-.7 .3-.3 .3-.4 .3 1 .4-.2 .3-.6 .3 .3 .3-.8 .3-2 .3 1.4 .3-.3 .3 0 .4 .3 .3 .1 .3 0 .3-1 .3 .3 .3 .1 .3 0 .3-.5 .4-.1 .3 .4 .3 .4 .3-1.5 .3 1.3 .3-.5 .3-.6 .3 .7 .4-.5 .3-.8 .3 .3 .3-.7 .3-.1 .3 .3 .3 .5 .3-.4 .4-.5 .3-1.2 .3 .7 .3 .5 .3 .1 .3 0 .3-.9 .4-.1 .3-.3 .3 .6 .3-.2 .3-1.4 .3 .6 .4 .4 .3-.4 .3-.6 .3-.2 .3-.8 .3 .6 .3-.6 .4 1.5 .3-2.2 .3 .5 .3 .1 .3 .2 .3 .1 .3-.7 .4-.8 .3 .8 .3-.9 .3-.2 .3 .6 .3 0 .3 0 .4-.3 .3 .3 .3-.1 .3-1.4 .3 .6 .3 .6 .4-.9 .3 .2 .3-.2 .3-1.8 .3 2.1 .3-1 .3-.5 .3 1.2 .4-.1 .3-1.4 .3 .5 .3-.1 .3-1.7 .3 .5 .3 .2 .4 .2 .3-.7 .3 .3 .3 1.1 .3-1.8 .3 .5 .3-.1 .3-1.4 .4 1.5 .3-1.6 .3 .8 .3-.7 .3 .8 .3-.9 .3 .1 .3 .8 .4-1.6 .3 0 .3 .6 .3 1.1 .3-1.6 .3-.1 .3 .1 .3-.6 .4 .6 .3 .4 .3-.3 .3-.8 .3-.2 .3 .4 .3-.5 .3-.6 .4 .9 .3-1.1 .3-1.1 .3 .2 .3-.9 .3 0 .3-.4 .4 .9 .3-.5 .3-.7 .3 .2 .3 .2 .3-.1 .3-1 .3-.9 .4 .8 .3 .6 .3-1.2 .3-.3 .3 1 .3 .2 .3-1.2 .3 .5 .4-1.1 .3-.5 .3 1.3 .3 .1 .3-.7 .3 0 .3-.4 .3 1.2 .4 0 .3-.2 .3 .4 .3-1 .3 .3 .3 .6 .3-1.7 .3 .6 .4-.7 .3-.7 .3 .3 .3 0 .3 .2 .3-.5 .3-.7 .3-.5 .4 1.2 .3-2.2 .3 1.2 .3 .2 .3-.4 .3-.1 .3-.4 .4 1.8 .3-1.3 .3-1.4 .3 1.1 .3 .4 .3-.4 .3 .3 .3-.7 .4-.8 .3-1.1 .3 .8 .3 1.3 .3-.8 .3-.7 .3-.9 .3 1 .4 .1 .3-.3 .3-.5 .3 1 .3-.8 .3-.1 .4 .9 .3-.4 .3-.7 .3-.6 .3-.6 .3 .5 .3 .2 .4-.9 .3-.1 .3 0 .3-1.2 .3-.5 .3 1 .3-.9 .4 1.5 .3-.5 .3-1.1 .3-.5 .3 .3 .3-1 .4 1.9 .3-1.5 .3-.3 .3-.2 .3 .1 .3-.5 .3 .2 .4 .5 .3-1.4 .3 2 .3-1.8 .3-.4 .3-.2 .3-.5 .4 1.8 .3-.6 .3 .4 .3-.4 .3-1.5 .3 .3 .3-1.6 .3 .9 .3-.1 .4-.1 .3 .3 .3-2.2 .3 1 .3-.7 .3 .9 .3-.9 .3-1.3 .3 .5 .4 .4 .3-2.4 .3 2.2 .3-.7 .3 .3 .3-.6 .3 1.2 .3-.9 .3 .3 .4-.6 .3-1.5 .3 0 .3 .8 .3-1.3 .3 .9 .3-.8 .3 .2 .3-1.1 .4 0 .3-.4 .3-.2 .3-1.1 .3 .5 .3-.8 .3-1 .3-.9 .3 .1 .3 .4 .4-1.6 .3 0 .3-.7 .3-1 .3-.8 .3-.6 .3 0 .3-.3 .3-1.2 .4-.2 .3-1.1 .3 .1 .3 0 .3 .4 .3-.5 .3-.8 .4-.3 .3 .2 .3-1.4 .3 1.2 .3-1.1 .3 .2 .3-.6 .3-.2 .4-.8 .3-.3 .3-.8 .3-.2 .3 .1 .3-.6 .4-.4 .3-.3 .3 .7 .3-.8 .3-1.3 .3 .9 .4 1.1 .3-.3 .3-1.2 .3-.7 .3 .7 .3-.9 .4 .4 .3 0 .3 1.4 .3-1.7 .3 1.7 .3-.3 .3-.7 .4 1.5 .3-.3 .3 .2 .3-1.1 .3 1.6 .3-.1 .3 0 .4 0 .3 .6 .3-1.7 .3 1.6 .3 .5 .3-1.5 .3 1 .3 .9 .4-.7 .3 1.5 .3-.4 .3 1.3 .3 1.1 .3-1.2 .3-.1 .3 .8 .3-1.4 .3 1.8 .3-.4 .3 1.1 .3 1.1 .3-.9 .3 1.3 .3-.8 .4 .4 .3 1.3 .3 0 .3-.7 .3 1 .4 .3 .3 .4 .3 .5 .3 1.1 .4-.4 .3-1.2 .3 1.7 .3 .7 .3-.4 .3 .1 .3 .8 .3-1.1 .4 1.4 .3-.1 .3 .6 .3-.2 .3 .3 .3 1.6 .4 0 .3 .3 .3 .9 .3 .5 .3-.6 .4 2.4 .3 .8 .3-1 .3 1.5 .4 .3 .3-.2 .3 .2 .4 1.4 .3 .9 .3 .3 .3 0 .4-1.2 .3 1 .3-1.3 .3-.1 .4-.9 .3-1.5 .3 .3 .3 .5 .4 .4 .3-.4 .3-.3 .3-.4 .4 .2 .3-.8 .3 1.6 .3-2.4 .4 0 .3-.4 .3-.2 .3-.9 .4 .4 .3-.6 .3-1 .3-.5 .3 .6 .4-.2 .3-.6 .3 .1 .3 .8 .3-.1 .3 .3 .4 .1 .3 1.1 .3 .4 .3 1.6 .3 0 .3 1.2 .3-1.1 .3 .7 .4-.4 .3-1.8 .3 1.1 .3-.3 .3-.8 .3-.7 .3 .2 .3 .6 .3-1.3 .3-1.1 .3 1 .3-1.3 .3 1.3 .3-.7 .4 .5 .3 .2 .3-1.8 .3-.9 .3 1 .4-1.4 .3-.4 .3-.1 .3-1.5 .4 .6 .3-1.9 .3 1.1 .3-.4 .3-.3 .3 .9 .3 .8 .4 .1 .3 1.3 .3 .9 .3-.4 .3 1.8 .3 1.5 .3 .3 .3 1.5 .3-1 .3 2.5 .3-1.1 .3 1.1 .3-.2 .4 .2 .3 .2 .3 .9 .3-.4 .3-.1 .3-.1 .3 .5 .4 .7 .3-.7 .3 .8 .3 .9 .3-.6 .3 .4 .3-1.9 .4 .6 .3-.3 .3 .2 .3-.6 .3 .8 .3-.4 .4-.3 .3-.1 .3 .1 .3-.7 .3-.4 .3 .7 .3-.3 .4-1.6 .3 2.3 .3-1.1 .3 .2 .3 1 .3-2.1 .4 .2 .3 .4 .3 .8 .3-1.2 .3 1.8 .3 0 .4 .6 .3-.7 .3-.1 .3-.3 .3 .2 .3-.6 .4 .7 .3 .1 .3 .8 .3-.8 .3-.8 .3 .1 .4 .6 .3-.7 .3 .7 .3-.2" stroke="#0000ff" stroke-width="0.88"/>
<path d="M330 152l.3-1.2 .3-1.2 .3-1.9 .4-.2 .3-1.6 .3-.8 .3-1.4 .3-.8 .3-2.7 .3 .1 .4-2.4 .3-.3 .3-2.7 .3-.2 .3-1.3 .3-.5 .3-1.1 .3-1.5 .4-1.1 .3-1.3 .3-1.6 .3-.7 .3-1 .3-1.3 .3-2 .4-.2 .3 0 .3 .4 .3-1.1 .3 .2 .3 .7 .3-1 .4-1.6 .3-1.7 .3 1.6 .3 1.3 .3-1.3 .3 .2 .3 0 .3 .1 .4-.4 .3 .5 .3-2 .3 1.3 .3-1 .3-1.1 .3-.6 .4 .5 .3-1.1 .3-.7 .3 1.8 .3 .6 .3-1.2 .4 .5 .3-.4 .3 .2 .3 .3 .3 .2 .3 .6 .4-.4 .3 .3 .3 .6 .3-1.3 .3 2.5 .3-.7 .4 .6 .3-1.1 .3 .5 .3 .3 .3-.7 .3 .1 .4-.5 .3 1 .3-.5 .3 1 .3-.5 .3-.7 .4 .9 .3-.6 .3 .7 .3 .1 .3-1.1 .3 .7 .4-.6 .3 .8 .3-.4 .3-.5 .3 .9 .3-.9 .3 .6 .3-.3 .3 .7 .4 .3 .3-.6 .3 .6 .3 1 .3-.5 .3-.4 .3-.4 .3 .5 .3 .6 .4-.7 .3 1.4 .3-.4 .3-.1 .3 .4 .3 .8 .3-1.1 .3 1.9 .3-.3 .4-1 .3 1.3 .3-.6 .3 .4 .3-.7 .3-.2 .3-.2 .3 .1 .3-.3 .4 .8 .3-.8 .3 .8 .3 0 .3 .1 .3-.8 .3-.1 .3 .7 .3-.9 .4 .5 .3 .3 .3-1 .3-.1 .3 .3 .3-.8 .3 .1 .3 1.7 .3-1.1 .4 .2 .3 .2 .3 .8 .3-.4 .3-.9 .3 .3 .3 .2 .3 0 .4-.8 .3-.1 .3-.2 .3 .2 .3-.2 .3-.4 .3 0 .3-.5 .3 .6 .4 .7 .3-.6 .3-1.6 .3 .5 .3 1.4 .3-1.2 .3 .1 .3-.8 .3 .1 .4-.9 .3 1.2 .3-.4 .3 .3 .3-.5 .3-.5 .3 1.2 .3 .1 .4-1.3 .3 .6 .3-.5 .3 .9 .3-1.1 .3 .3 .3-.2 .4 .1 .3-.2 .3-.3 .3 .2 .3-.1 .3 .1 .4-1.1 .3 .2 .3 .7 .3-.8 .3-1.1 .3 .8 .3-.6 .4 .3 .3-.4 .3 .3 .3 .2 .3-.5 .3-.1 .3 .9 .4 .1 .3-1 .3 1 .3 0 .3 .1 .3-.9 .4-.7 .3 .3 .3-.4 .3-.3 .3 1.1 .3 .4 .3-.8 .4 .1 .3-1 .3 0 .3-.3 .3 1.1 .3 .1 .3 .8 .4-.2 .3-.5 .3 .3 .3 .6 .3-.5 .3 .5 .4 1 .3-1.8 .3-.4 .3 .4 .3 .2 .3 0 .3-.6 .4 .3 .3 .3 .3 .6 .3-1.2 .3 1.1 .3-1.1 .3 1 .4-1.1 .3 .1 .3-.4 .3 1 .3-.2 .3 1.1 .4 0 .3 .8 .3-.9 .3 0 .3 1 .3-1 .3 0 .4 0 .3 .2 .3 0 .3 .3 .3-1 .3-.6 .3 1.1 .3 0 .3-.6 .4 .2 .3-.5 .3 .5 .3 .1 .3 .5 .3-.4 .3-1 .3 1 .3 .5 .4 .2 .3 .4 .3-.5 .3 .2 .3-.1 .3 0 .3-.1 .3 .9 .3-1.5 .4 .8 .3-.2 .3 .1 .3-.8 .3 .4 .3-.4 .3 .6 .3-.2 .3 1.2 .4-.3 .3 .9 .3-1.1 .3 1.5 .3-1.1 .3 .7 .3 1.1 .3-.3 .3-.7 .4 .2 .3-.6 .3 1.1 .3 0 .3 0 .3-1.7 .3 1.2 .3-.1 .3-.7 .4-.5 .3-.2 .3 0 .3 .9 .3-.2 .3-.2 .3 .4 .3-.1 .3 .4 .4-1.1 .3-.4 .3 .4 .3 .7 .3-.5 .3 .5 .3-.3 .3 0 .3 .3 .4-.2 .3-1 .3 1.4 .3-.1 .3-1.7 .3 .3 .3 .8 .3 .2 .3 0 .4 .2 .3 0 .3-.7 .3-.1 .3 1.4 .3-.3 .3-1 .3 1 .4-.4 .3 .5 .3 .6 .3-.2 .3 .6 .3-.6 .3-.8 .3 .1 .3 .5 .4-.7 .3-.2 .3 .7 .3 0 .3 .6 .3-.6 .3 .2 .3-.8 .3-.5 .4-.1 .3 .5 .3 .1 .3 .3 .3-.6 .3-1.6 .3 .2 .3 .1 .3-1.3 .4 1.6 .3 0 .3-.1 .3-1.9 .3 .1 .3 .8 .3-.9 .3-.5 .3 .4 .4-.4 .3-.2 .3 .3 .3-.1 .3 .9 .3-.3 .3-.6 .3 .6 .3-.8 .4-.7 .3 2 .3-2.8 .3 1.3 .3 0 .3 .1 .3 1.6 .3-1.3 .3 .3 .4 .3 .3 0 .3-1.3 .3 .8 .3 0 .3 .7 .3 .3 .3-.8 .3 .8 .4-.2 .3-.7 .3 .9 .3-.7 .3-.3 .3-.4 .3-.1 .3-.3 .3 .4 .4-.6 .3 .3 .3 .7 .3-.7 .3-.2 .3 0 .3-.2 .3 .4 .3 .4 .4 .7 .3 0 .3 .2 .3-1.3 .3 1.2 .3-.4 .3-.6 .3 .1 .3 .5 .4-.5 .3-.4 .3 .9 .3-.7 .3-.6 .3 1.3 .3-.3 .3 .2 .3 1 .4-1.2 .3 0 .3-.5 .3-.2 .3 0 .3 .6 .3-.4 .3-.4 .4 .6 .3-.9 .3-.1 .3 .3 .3 .4 .3 .3 .3 0 .3 0 .3 .9 .4-1.1 .3 .8 .3-.9 .3 .7 .3-1 .3-.3 .3 1.6 .3-.5 .3-.2 .4-.2 .3 .8 .3-1.6 .3 .2 .3 1 .3-.5 .3 0 .3 0 .3 .4 .4-.8 .3 2 .3-1.6 .3 .9 .3-.2 .3-.1 .3 .4 .3-.4 .3 .4 .4 .5 .3-.1 .3-1.1 .3 .1 .3 .1 .3-.3 .3-.2 .3 .3 .3 .1 .4 .2 .3-1 .3 .4 .3-.1 .3 .2 .3-.1 .3 .6 .3-1 .3 1.4 .4-.5 .3-1.7 .3 1.9 .3-1.1 .3 .5 .3 .3 .3-.1 .4 0 .3-.4 .3 .9 .3-.7 .3-.8 .3 .7 .4-.7 .3 1.4 .3-.5 .3-.8 .3 .4 .3 .3 .3-1.3 .4 1.9 .3-1.4 .3-.8 .3 1.4 .3-.7 .3-.4 .3 .5 .4 .2 .3 .7 .3-.6 .3 .3 .3-1.5 .3 .7 .4-.9 .3-.1 .3 .2 .3 .7 .3-.7 .3-.2 .3 1.2 .4-.9 .3-1.1 .3 1.5 .3-.9 .3-.5 .3-.2 .3-.1 .4-.1 .3 .4 .3-.4 .3 .3 .3-.3 .3-.3 .4 1.9 .3-.5 .3-1.2 .3 .8 .3 .2 .3-.9 .3 .2 .4-.7 .3-.7 .3 .4 .3-.3 .3 1.2 .3-.3 .3-.9 .4 1 .3 0 .3-.9 .3-.3 .3-.3 .3 1.1 .4 0 .3-.7 .3 .2 .3 .9 .3-.9 .3-.4 .3 .7 .4 .3 .3 .1 .3 .3 .3 0" stroke="#0000ff" stroke-width="0.88"/>
<path d="M330 152l.3-.8 .3-.8 .3-.3 .4-1.4 .3-.6 .3-.6 .3-1.6 .3 .2 .3-2.1 .3-.4 .4-.4 .3 0 .3-2.3 .3 0 .3-1 .3-.5 .3-1.8 .3-.5 .4-1.4 .3 1.3 .3-1.9 .3 0 .3-.5 .3-1.8 .3-.2 .4-.7 .3-.1 .3 1.8 .3-1.3 .3-1 .3 1 .3-.9 .4 .2 .3 .9 .3-1.4 .3 .9 .3-.9 .3 .6 .3-1 .3-.9 .4 1.1 .3-1.6 .3 .4 .3 1.1 .3-1.2 .3-.6 .3 .6 .4 .1 .3-.4 .3-1 .3-.1 .3 1.2 .3-.9 .3 .9 .4-1.9 .3 .4 .3 .7 .3-1.3 .3 .1 .3 .1 .3-.1 .4-.9 .3 .9 .3-.2 .3-.7 .3-.1 .3 .2 .3-.8 .3 .8 .4-.3 .3 .3 .3 .5 .3-.4 .3-.7 .3 .5 .3-.3 .4 .4 .3-1 .3 2.4 .3-1 .3 0 .3 .3 .3-.4 .4-1.1 .3 .3 .3 .4 .3-.3 .3-.6 .3-.1 .3 .5 .3-.3 .4-.7 .3 1.6 .3-.5 .3-1.2 .3-.3 .3 .9 .3 .5 .4-.9 .3 .5 .3-.9 .3 1.3 .3-1 .3-.6 .3 1.7 .4 .2 .3 .4 .3 .4 .3-.3 .3 .1 .3 .5 .3 .1 .3 .1 .4 .6 .3-.1 .3-.4 .3-.2 .3 .3 .3 1.6 .3-1.1 .4 .1 .3 .4 .3-.9 .3 .9 .3-1.1 .3 0 .3 .3 .3-.6 .4 .9 .3 .6 .3-.4 .3 1 .3-.4 .3 1.3 .3 1 .3-.9 .3 .1 .4-.4 .3-.7 .3 0 .3 .3 .3 1 .3-.7 .3 .4 .3 .6 .4 .4 .3 .1 .3-.2 .3-.3 .3 .2 .3 1.1 .3 .5 .3-.2 .3 .4 .4 .2 .3-1.6 .3 .9 .3-.1 .3-.1 .3 .6 .3-.8 .3 1 .3-.7 .4-.2 .3-.4 .3-.3 .3 1.4 .3 0 .3 0 .3-2 .3 1.8 .3-.9 .4 .3 .3-.3 .3-.1 .3-.5 .3-.4 .3 1.5 .3-.6 .3-.4 .3-.3 .4 1.5 .3 .3 .3-.4 .3-.3 .3 .6 .3-.7 .3 .2 .3 1.2 .3-.1 .4-.6 .3 .1 .3-.6 .3-1 .3 1 .3-1.1 .3 1.5 .3-.6 .3-.6 .4 .6 .3-1.1 .3-.1 .3 .8 .3-1 .3 .3 .3 1.4 .3-1.3 .3 .2 .4 1 .3-.2 .3 .7 .3-.4 .3 1.2 .3-1 .3 .7 .3-.1 .3-.1 .4 .2 .3 .2 .3-.3 .3 .9 .3-1.8 .3 1.9 .3-.7 .3-.4 .3 .9 .4-.3 .3 .8 .3-1 .3 .1 .3 .1 .3 .1 .3 0 .3-.2 .3 .2 .4-.2 .3-.1 .3 1.3 .3-.7 .3-.4 .3-.5 .3 1.2 .3 .4 .3-.9 .4-.4 .3 .7 .3 .2 .3-1.3 .3 1.1 .3 .5 .3-1.2 .3 .7 .4 .4 .3-1 .3 .3 .3-.1 .3-.2 .3 .8 .3 .5 .3 .1 .3-.1 .4 .4 .3-1.8 .3 .6 .3 .1 .3 .7 .3-.3 .3 0 .3-1.3 .3 .4 .4-.4 .3 .1 .3 .2 .3-.2 .3 .6 .3-.2 .3-.2 .3-.7 .3 1 .4 .1 .3-.8 .3-.6 .3-.7 .3 .9 .3 .7 .3-.2 .3-.1 .3 .2 .4 .9 .3-.3 .3-.2 .3-.9 .3 .3 .3-.1 .3-.6 .3 .9 .3-.6 .4-.5 .3-.2 .3 .7 .3-.9 .3 1.5 .3-.8 .3 .5 .3-1 .3 0 .4 .6 .3-.6 .3 .8 .3-.4 .3-.1 .3-.6 .3 1.4 .3-.2 .3 0 .4 1.1 .3-.3 .3-.3 .3 .2 .3-.2 .3 1.1 .3-1.7 .3-.1 .3 .2 .4 .3 .3-.1 .3 .1 .3 0 .3 .2 .3-1 .3 .4 .3-.8 .3 .1 .4 .7 .3 .1 .3-1.3 .3 1 .3-1.4 .3 1.3 .3 .5 .3-.1 .3 .6 .3 .3 .3 .2 .3-.3 .4-.1 .3 .2 .3-.1 .3 0 .3 .8 .3 .2 .3 1.3 .3-.3 .3-2.2 .3 .8 .4 .1 .3 .8 .3-.3 .3 .9 .3 .4 .3-2 .3 .8 .4 .7 .3 .7 .3-1.1 .3 1.5 .3-1.2 .3-.4 .3-.7 .3 1.2 .4 .1 .3-1.4 .3 .6 .3-.3 .3 .1 .3-.7 .3 .4 .4-1.1 .3-.6 .3 .8 .3-1 .3 .5 .3-.8 .3 .6 .3-1.6 .3 1.2 .4-.5 .3 .2 .3 .5 .3 .2 .3 .1 .3-1.3 .3 1.2 .3-1.9 .3 1.9 .4 .6 .3-2 .3 .5 .3 .2 .3 .2 .3 0 .3-1.1 .3-.1 .3-.8 .4 .2 .3-.1 .3-.9 .3 1.6 .3-.2 .3-.2 .3 .7 .3 1.9 .3-2.2 .4 1.1 .3-.5 .3 .3 .3-.3 .3 .1 .3 .2 .3-1 .3 .6 .4 .7 .3-.9 .3 .1 .3-1.1 .3-.3 .4 1.9 .3-2.1 .3 1.3 .3 .1 .3-1.1 .3 1.2 .4-.9 .3-.1 .3 .6 .3-.7 .3 .3 .3-.4 .4 .8 .3-1.2 .3-.5 .3-.3 .3-.4 .4 .6 .3 .3 .3-.4 .3 .5 .3-.6 .3-.5 .4 .8 .3 1 .3-.2 .3-.2 .3 .3 .3-.1 .4 0 .3-.7 .3 0 .3-.2 .3-.5 .3 .8 .4 0 .3 .8 .3-2 .3 .3 .3 1.8 .3-1.8 .3 .6 .3 .1 .3 .3 .4-.1 .3-1.6 .3 1.6 .3 0 .3-.8 .3 .6 .3 .1 .3 .5 .3-.7 .4 .2 .3-1.2 .3 .6 .3-.6 .3 .7 .3 .5 .3-.6 .3-.6 .3-.3 .4 1.1 .3-1.4 .3 .3 .3 .6 .3-2.7 .3 1.8 .3-.5 .3-.9 .3 1.2 .4-1.4 .3-.2 .3-.1 .3-1.1 .3 1.6 .3-.4 .3 .5 .3 0 .3-.5 .4 .4 .3-.4 .3 1.1 .3-.5 .3-.3 .3 1.2 .3-1.2 .3 .6 .3-.1 .4-.4 .3 .5 .3-.2 .3-.5 .3 .5 .3-.5 .3 .8 .3 .5 .3-.6 .4 .3 .3-.3 .3 .6 .3-1.3 .3-.3 .3 .8 .3 .1 .3-1.3 .4-.6 .3 .2 .3 .1 .3 .4 .3 .4 .3-1.4 .3-.3 .3 .8 .4-.4 .3 .1 .3-.4 .3 1 .3-1.8 .3 .8 .3-.7 .3-.1 .4 .4 .3-1.3 .3 1.1 .3-1.4 .3-.4 .3 .4 .3 .2 .3-1.8 .3 .6 .4 1.3 .3-1 .3-.5 .3 .3 .3-.3 .3 .5 .3-.8 .3 .9 .4-1 .3-.7 .3-.1 .3 .4 .3 .2 .3-1 .3 .4 .3 0 .4-1.2 .3 .9 .3-.1 .3 .3 .3-.6 .3-.4 .3 .8 .3-1.2 .4 0 .3 .9 .3-.9 .3 1.2 .3-.3" stroke="#0000ff" stroke-width="0.88"/>
<path d="M330 152l.3-2.4 .3-2.3 .3-2.3 .3-2.8 .3-2 .3-2.2 .4-2.2 .3-2 .3-3 .3-2.3 .3-1.8 .3-2.4 .3-3 .3-2.3 .3-2.5 .3-2.3 .3-4.2 .3-1.6 .3-4.3 .4-1.9 .3-2.6 .3-2.4 .3-4.1 .3-1 .3-3.9 .3-2.5 .3-3.4 .3-2.8 .3-.3 .4-.4 .3-.1 .3-1.4 .3-.6 .3-.3 .3-.7 .3-.5 .4 .8 .3-1.3 .3 .6 .3-1 .3-.4 .3-.6 .4-.6 .3-.9 .3 .4 .3-.5 .3-.7 .4-.7 .3 1.9 .3-1.3 .3 1.6 .4 1.7 .3-.1 .3 .1 .4-.4 .3-.2 .3 .7 .3 .6 .3-.7 .4 1.4 .3 .2 .3 .2 .3 .6 .4-.8 .3 0 .3 1 .3 0 .3 .2 .4 .7 .3-.2 .3 .1 .3 .9 .4 .7 .3 .3 .3 .7 .4 .4 .3 1.3 .3 .3 .3 .9 .4 .2 .3 .7 .3-.7 .3 1.5 .4-.4 .3 .5 .3 1 .3 .4 .4-1.1 .3 .4 .3 .6 .3-.3 .3-.5 .4-.1 .3-.4 .3 1.1 .3 .2 .3-1.4 .4-.6 .3 1.5 .3-1.5 .3 .8 .3 .3 .3 .1 .3-1.2 .3-.5 .3 .8 .3-.9 .3 .3 .3-1 .3-.1 .3-.2 .3 .2 .3 1 .3-1.6 .3 1.6 .3-.7 .3-.7 .3 .6 .3-.1 .3 1.3 .4-2.1 .3 .6 .3 .2 .3-1.9 .3 1.4 .3 .1 .3-1.9 .3 1.2 .3 .7 .3 0 .4-.3 .3-.2 .3 .9 .3-.8 .3 1 .3-.3 .4 .1 .3 1.2 .3-.5 .3-.6 .3 0 .3 .7 .4 .2 .3 .4 .3 .3 .3-.7 .3 .1 .3 .4 .4 .5 .3 0 .3-.3 .3-.8 .3-.7 .4 .8 .3-.6 .3 1 .3-.3 .3-.6 .3-.7 .4 .6 .3 .7 .3 .8 .3-1.3 .3 1.8 .3-.8 .3-.2 .3 .3 .3 1 .3 .5 .3-.2 .3-.5 .3 .5 .3 1.5 .3-1.2 .3 1.5 .3 0 .3-.4 .3 1.3 .4-.5 .3 .1 .3-.9 .3 1.5 .3 .3 .3-1.1 .4 1.5 .3 1.1 .3-.1 .3 1 .3-.3 .3 .3 .4-.3 .3-.1 .3 1 .3 1.2 .3-.4 .3 .2 .4-.1 .3 1.4 .3 .1 .3 .2 .4 .5 .3 1.5 .3-.4 .3 1.1 .4 .2 .3-.5 .3-1.4 .3 1 .3-1.1 .3-.5 .3 .2 .3 .2 .3-1.6 .4 .2 .3-.5 .3-.2 .3-.1 .3-.9 .3-1.4 .3-1.9 .3 .6 .3-1.3 .3-.3 .3-.9 .3-2.2 .3-.9 .3-1.4 .3 .7 .3-1.6 .4-.4 .3-.9 .3 1.8 .3-2.1 .3-.4 .3-.6 .3-1 .3 0 .3-.2 .3-.2 .4 0 .3-.4 .3-.5 .3 .1 .3-1.5 .3 2.3 .3-1.7 .3 .4 .3-.2 .3-.4 .3 .2 .3 1.4 .3-.4 .3 0 .3 .9 .4-1.9 .3 .3 .3 .6 .3 1 .3-.2 .3 1.6 .3 0 .3-.3 .3-.7 .3 1 .3 1.2 .3 .4 .3-2 .3 2 .4 .9 .3 .4 .3 .4 .3 .1 .3-.8 .3-.5 .3 .7 .3-.7 .3-.9 .3 .7 .3-.3 .3 .3 .3 .5 .4-3.4 .3-.7 .3 1.2 .3-.2 .3 0 .3-.1 .3-1.3 .3-.5 .3 1 .3-.7 .3-.2 .3 .3 .4-2 .3 .2 .3 .2 .3 .4 .3-.2 .3-.3 .3-.4 .3 .7 .3-.7 .4 1.3 .3 1 .3-.3 .3 1.6 .4 .5 .3-.4 .3 1.2 .4 7.9 .3 7.8 .4 6.3 .3 .3 .3 .1 .3 .3 .4-1.3 .3 .7 .3 .3 .3 .4 .3 2.4 .4-.7 .3-.3 .3 .1 .3 .7 .4 .7 .3 .1 .3 .2 .3 0 .3-.6 .3-1 .3 .8 .4-.1 .3 .5 .3 .4 .3-.7 .3-.6 .3-.9 .3 .1 .3 .1 .4-1 .3 .1 .3 .9 .3-.2 .3 1 .3-.4 .3 .3 .4-.9 .3 .6 .3-1.1 .3 .1 .3 .9 .3 .2 .4-2.4 .3 1.7 .3 1.1 .3-.5 .3-.7 .3-.6 .4 .1 .3-.3 .3 1.3 .3-.6 .3 .8 .3-.2 .4 .3 .3 .6 .3-.2 .3 .4 .3-.4 .3 0 .4-.1 .3 0 .3-1.1 .3 1.8 .3-1.1 .3 1.3 .4-1.2 .3-.5 .3 2 .3-1.3 .3 .6 .3-.8 .4 .3 .3-.2 .3-.7 .3 1.5 .3-1.1 .3-.2 .4 .4 .3 .2 .3-.3 .3 .1 .3 0 .3 1.1 .4-1.9 .3 1.8 .3-1.4 .3 1.8 .3-.3 .3 .6 .4 0 .3-.8 .3 .8 .3-.4 .3 .7 .3-.6 .4 .5 .3 .4 .3-.2 .3-.9 .3-.4 .3 1.6 .4-.4 .3-.3 .3 .9 .3-.7 .3 0 .3-1 .3 .6 .4 .5 .3-.3 .3 .6 .3-.1 .3 .5 .3-.1 .3-.5 .3-1 .3 .9 .4 .3 .3-.3 .3-.3 .3 .1 .3-.3 .3 0 .3 0 .3-.1 .3 .7 .4 0 .3 .1 .3-.2 .3-.3 .3-.4 .3 .6 .3 .4 .3-1.4 .4 1 .3-1.4 .3 .1 .3 .4 .3-.1 .3 .2 .3-.7 .3 1.1 .3 .2 .4-.8 .3 1.8 .3 0 .3-.1 .3-.6 .3 0 .3 .1 .3-.3 .3 .5 .4-.6 .3 1.1 .3 .5 .3-1 .3 0 .3 0 .3-1.1 .3-.1 .3 .4 .4 .1 .3-.3 .3 .5 .3-.2 .3 .3 .3 .4 .3-1.7 .3 .4 .3 .8 .4 .2 .3 0 .3-.4 .3 0 .3-.3 .3-.5 .3 .6 .3 0 .3 .1 .4 .4 .3-2.1 .3 2 .3-1.4 .3 .8 .3-1.4 .3 1.1 .3 0 .3 .2 .4 .2 .3 .1 .3-.6 .3 .5 .3-.9 .3 .6 .3 .9 .3-1.5 .3 .2 .4 0 .3 .2 .3 0 .3-.5 .3-.1 .3-.7 .3 .7 .3 .1 .3 .2 .4 .2 .3-.8 .3-.2 .3 .2 .3-.6 .3 1.5 .3-.6 .3 .2 .3-1.6 .4 .8 .3-.7 .3 .6 .3-.6 .3-.2 .3 1 .3-.6 .3-.2 .4-.4 .3 .2 .3 .5 .3-.8 .3 .7 .3 .2 .3-.9 .3 1.2 .3-.2 .4-.2 .3 .1 .3-.8 .3-.2 .3 .6 .3-.1 .3-1.3 .3 .6 .3 .8 .4-.7 .3 1.7 .3-1.9 .3 .1 .3-.3 .3 0 .3-.2 .3-.6 .3 .1 .4 .4 .3 .7 .3 .8 .3-.3 .3-.7 .3-.2 .3 .3 .3 .1 .3 .4 .4 .1 .3-1.2 .3 .7 .3-.2 .3 .7 .3-1 .3 .6 .3-.7 .3 .9 .4-.5 .3-2 .3 1.7 .3-.5 .3-1" stroke="#ff8000" stroke-width="0.88"/>
<path d="M330 152l.3-1.6 .3-1.6 .3-1.2 .4-1.7 .3-1.8 .3-.8 .3-1.3 .3-2.6 .3-.3 .3-1.1 .4-3.9 .3-1.3 .3-1.1 .3-1.2 .3-.7 .3-3.5 .3-.8 .3-.5 .4-1.2 .3-2.7 .3-2.1 .3-.5 .3-2.1 .3-.6 .3-1.9 .4 0 .3-1.9 .3-.2 .3-.4 .3 .3 .3-1.7 .3-1.1 .4-1.2 .3 .1 .3-1.8 .3 .5 .3-.7 .3 0 .3-1.9 .3 .6 .4-1.6 .3 .7 .3-1 .3-1.4 .3-1 .3-.2 .3-.2 .4-1.2 .3-.5 .3-.8 .3 .1 .3-.4 .3 0 .3-1.5 .4 .9 .3 .1 .3-1.6 .3 .2 .3-.2 .3 .3 .3-.6 .4 1.8 .3-1.9 .3-.3 .3 .1 .3 0 .3-.5 .3-1.1 .3 1.6 .4-2.3 .3 .8 .3-.7 .3 .2 .3 .6 .3-1.4 .3 .6 .4 .5 .3 .8 .3 .2 .3-2.4 .3 .1 .3 .9 .3-.7 .4-.4 .3 .5 .3-.7 .3 .3 .3-.7 .3 1 .3 0 .3 .4 .3 .2 .4 .3 .3 .4 .3-.8 .3 1.1 .3 .2 .3 .2 .3-.6 .3-1.2 .4 1.2 .3 .7 .3-.2 .3 .5 .3-.6 .3 .1 .3 1 .3-.2 .3-.4 .4 .4 .3 0 .3 1.6 .3-1.7 .3-.1 .3-.6 .3-.9 .3 .6 .3-.3 .3 1 .3-.7 .3 .2 .4 0 .3-.9 .3-.1 .3 .9 .3-1.3 .3-.6 .3 .1 .3 .6 .3-.9 .3 1.8 .3-.7 .4 .6 .3-.1 .3 .1 .3 .4 .3-.1 .3-1 .3 .7 .4-.9 .3 .7 .3-.7 .3 .8 .3-.2 .3 .7 .3-.2 .3-.5 .4-.1 .3 .8 .3-.5 .3-.4 .3-.9 .3 .4 .3 .5 .3 1.9 .4 .1 .3-.9 .3-.4 .3 0 .3-.3 .3 .2 .3-.3 .3 .4 .4-.6 .3 .9 .3 .2 .3-.4 .3 1.6 .3-.6 .3 1 .3-.6 .4-.4 .3-.1 .3 1.5 .3 0 .3 0 .3-.1 .3-.2 .4 0 .3 1 .3-.9 .3 .5 .3 .7 .3-1.8 .3 1.3 .3 .7 .4-.2 .3 .4 .3-.9 .3-.2 .3 .9 .4 .5 .3-.1 .3-.8 .3 .8 .3 .2 .3 1.3 .4-.4 .3-.4 .3-.1 .3-.1 .3 1 .3-.1 .4 .1 .3-.2 .3-.3 .3 .2 .3 .8 .4-.9 .3 .8 .3 .6 .3 1 .3-1 .3-.1 .3 .7 .4-.2 .3 1.1 .3-.3 .3-.6 .3-.2 .3 .5 .3 0 .4 .9 .3 .5 .3-2.2 .3 .4 .3 .9 .3-.9 .3 .3 .3 .4 .4 .5 .3 .4 .3-.1 .3-.1 .3 1 .3-.8 .3-.2 .4-.1 .3 .3 .3 .3 .3 0 .3-.6 .3-.2 .3 1.6 .4-1.4 .3-.3 .3 1 .3-.4 .3 .1 .3 0 .3 1.2 .4-.3 .3-.3 .3 .7 .3 .2 .3 .1 .3-.7 .3 .4 .3 .5 .4 0 .3 .8 .3 .8 .3-1.8 .3 1.2 .3 .8 .3-.8 .4 .9 .3 0 .3-.4 .3 .1 .3 .5 .3-.8 .4 .4 .3-.4 .3 0 .3 .4 .3 .3 .3 .2 .3-1.5 .4 .5 .3 0 .3 .3 .3-.6 .3 .5 .3-.8 .4 .1 .3 .6 .3 .4 .3 0 .3-1.1 .3-.2 .3 .7 .4-.2 .3 .1 .3 .5 .3-.2 .3-1.3 .3 1.2 .4 .3 .3-.7 .3 .6 .3-.7 .3 .8 .3-1 .4-.2 .3 .8 .3 .1 .3 0 .3 1.5 .3-1.4 .3 1.2 .4-2 .3 .6 .3 .3 .3 1.5 .3 0 .3-.5 .4 .4 .3-.3 .3-.3 .3 .1 .3 1.3 .3-1.6 .3 .7 .4 .9 .3-.7 .3-.4 .3 1.1 .3-.7 .3 .3 .3 .3 .4-.7 .3 .3 .3 1 .3-.9 .3 1.1 .3-1 .3 1.1 .3 0 .4 .1 .3 1 .3-1.5 .3-.1 .3 1.8 .3-1.9 .3 .4 .4 .6 .3-.4 .3 .3 .3 .5 .3 1.5 .3-.5 .3-1.4 .4 0 .3 .9 .3-.5 .3 1.2 .3-.1 .3-.1 .3 .4 .4 .2 .3-.1 .3-.5 .3 0 .3 1.6 .3-1.7 .3 1.7 .3-.5 .4 .3 .3-.9 .3 1.6 .3-.7 .3 .4 .3-1.1 .3 0 .4 1 .3-.8 .3 .3 .3-.7 .3 .8 .3-.5 .3 .3 .3 .1 .3-.5 .4-.7 .3 .9 .3-.3 .3 .5 .3 .2 .3 .5 .3-.8 .3 .5 .3 .4 .4 .4 .3-2.1 .3 .7 .3 .8 .3-.3 .3 .9 .3-1.4 .3-.4 .3 2 .4-2 .3 1.2 .3-.9 .3 1.1 .3-1.7 .3 1.5 .3-.7 .3 .4 .3 .2 .4 0 .3-.6 .3 .5 .3-1.5 .3 .6 .3 1 .3-.4 .3 .6 .3-.5 .4 .8 .3-.2 .3-1.5 .3 2.9 .3-.8 .3 .2 .3 .8 .3-1.8 .3 .2 .4 1.9 .3-1.3 .3 .5 .3-.9 .3-1 .3 .2 .3-.8 .3 .5 .3 .1 .4 .2 .3-.3 .3 .1 .3 .2 .3-.6 .3 .6 .3-.7 .3 0 .4-.9 .3 1.1 .3-.7 .3-.5 .3 .3 .3 .5 .3 .2 .3-.8 .3-.4 .4 .1 .3-.5 .3 1.2 .3-.9 .3 .5 .3 .1 .3-.9 .3-.3 .3 1.3 .4-.2 .3 .4 .3-.6 .3-.8 .3-.5 .3 .2 .3 .5 .3-.2 .3-.1 .4-.1 .3 .8 .3 .1 .3-.7 .3-.7 .3 .8 .3-.3 .3 .2 .3 0 .4 .7 .3-.7 .3 .9 .3 .2 .3 0 .3 .8 .3-.7 .3-.7 .3 .3 .4-1.3 .3 1 .3 .1 .3-1.2 .3 .8 .3-.7 .3 .5 .3 1.1 .3-1.4 .4 .3 .3 .2 .3-.9 .3 0 .3 .2 .3 .7 .3-.6 .3 .5 .3-.8 .4 .6 .3 .9 .3 0 .3-.3 .3-1 .3 .7 .3 .8 .3-.6 .3-.7 .4 .5 .3 .3 .3-.9 .3 .2 .3-.7 .3 .6 .3-.4 .3-.5 .3 .5 .4 1.1 .3-.1 .3-1.2 .3 .2 .3-.4 .3 .6 .3-.2 .3-1.1 .4-.2 .3-.1 .3 .6 .3-.3 .3 1 .3-1 .3 1.2 .3-.3 .3 .3 .4-.7 .3 0 .3 0 .3-.6 .3 1.1 .3-.7 .3-.4 .3 .4 .3-.6 .4 .6 .3 .3 .3-.4 .3-.2 .3 .7 .3-1.1 .3 .9 .3 .2 .3 .2 .4-.2 .3-.9 .3 .7 .3-.7 .3 .6 .3-.3 .3-.4 .3 0 .3-.6 .4 .8 .3 .2 .3 .1 .3 1.1 .3-1.3 .3-.1 .3 .5 .3-1.1 .3 .9 .4 .2 .3-1.2 .3 1.3 .3-.8 .3 .1" stroke="#ff8000" stroke-width="0.88"/>
<path d="M330 152l.3-1.3 .3-1.4 .3-1.6 .4-.8 .3-2.2 .3-.3 .3-1.6 .3-1.6 .3-1.6 .3-1.7 .4-1.5 .3-1.1 .3-2.3 .3-2.7 .3 .1 .3-1.7 .3-1.2 .3-1.3 .4-1.6 .3-.4 .3-2.1 .3-.9 .3-.9 .3-1.5 .3-.7 .4-.9 .3-1.2 .3 1.4 .3-2.3 .3 .3 .3-1.6 .3-1 .4-1.1 .3 .7 .3 .6 .3 0 .3-1.4 .3 .9 .3-1.9 .3 .1 .4-1.5 .3-.3 .3-.3 .3-.9 .3-.8 .3-.9 .3 .4 .4-.2 .3-2.1 .3 .3 .3-.3 .3-.7 .3 2.3 .4-.5 .3-.5 .3-1 .3-.5 .3 .6 .3-2.6 .4 1.4 .3-.5 .3 1.8 .3-.9 .3 .2 .3 .4 .4-.4 .3-.5 .3 0 .3 .3 .3-.9 .3 .4 .4 0 .3-1.2 .3 1.4 .3 0 .3 .5 .3-1.1 .4 .6 .3 .4 .3-1.5 .3 1.4 .3-1.2 .3-.9 .4-.4 .3 .8 .3 .3 .3 .2 .3-.2 .3 .1 .3 .7 .3-.2 .3-.3 .4 1.7 .3 .2 .3 .2 .3-.9 .3-.5 .3-.5 .3 .2 .3-.3 .3 .6 .4 0 .3 .5 .3 .8 .3-.9 .3-.5 .3 .3 .3-.8 .3 1.3 .3-.5 .4 .4 .3-.6 .3-.3 .3 1 .3-.4 .3 .5 .3-.4 .3 .4 .3 .5 .4-.8 .3 2.8 .3-.8 .3-1 .3-.6 .3 .4 .3 .4 .3-1.7 .3 .9 .4 .6 .3-.8 .3 .1 .3 .8 .3-.4 .3-.1 .3-.2 .3 1.4 .3-1.3 .4 .1 .3-.4 .3 .5 .3 .2 .3-.9 .3 .6 .3-.1 .3-1 .4 .3 .3 1.6 .3-1 .3 .9 .3-.6 .3 .2 .3-.1 .3-.7 .3 .7 .4 .7 .3-1.2 .3 .1 .3 1.4 .3-1.1 .3-.3 .3 .7 .3 .4 .3-.8 .4 .2 .3-.1 .3-.9 .3 1.1 .3-.6 .3 .3 .3-1.3 .3 .6 .3 .4 .4 .3 .3 .8 .3-1.2 .3 .9 .3-.4 .3 .5 .3 .2 .3-.5 .3 .4 .4-1.2 .3 .8 .3-.4 .3 .1 .3 0 .3 .9 .3-1 .3 1.5 .3-.9 .4 0 .3-.1 .3-.4 .3-.3 .3 0 .3-.1 .3-.4 .3 .6 .3 0 .4 .8 .3 .1 .3-.1 .3 .2 .3-.3 .3-.6 .3 .1 .3 .5 .3-.1 .4 .9 .3-.5 .3 .1 .3-.5 .3 .7 .3-1 .3 1 .3-.6 .3-.6 .4 .5 .3 0 .3-.5 .3 .4 .3-.1 .3 .7 .3-.1 .3 1 .3-1.6 .4 1.4 .3-.9 .3 .5 .3-.4 .3 .1 .3 1.2 .3-.6 .3-1.5 .3 1.3 .4-2.2 .3 1.9 .3-.6 .3-.3 .3 .8 .3 0 .3 0 .3-.6 .3 .3 .4 .3 .3-.3 .3-.7 .3 .6 .3 1 .3 .4 .3-1.3 .3 .7 .4-.4 .3 .1 .3 1 .3-.5 .3 .6 .3-.1 .3-.4 .4-.3 .3 .5 .3 .2 .3 1 .3-1.6 .3 .3 .3 .6 .3 .1 .4-.5 .3 .5 .3 1.6 .3-1.7 .3 .8 .3 0 .3-.6 .4 1 .3-.4 .3 .2 .3-1.1 .3-.5 .3 1.7 .3-.7 .4 1 .3 0 .3 0 .3-.3 .3 .1 .3-.1 .3 0 .3 .2 .4-.1 .3 .8 .3-1 .3 .3 .3 .8 .3-1 .3-.5 .4-.6 .3 1.7 .3-.9 .3 .6 .3 .8 .3-.8 .3 1.1 .4-1.4 .3 .3 .3-.3 .3 .5 .3 .1 .3 0 .3-.2 .4-1.4 .3 1.5 .3-.9 .3 .1 .3 1.4 .3-1 .3-.1 .3 .9 .4 .3 .3 .3 .3-1.1 .3 1 .3-.6 .3-.6 .3 1.5 .4-.6 .3 .1 .3-1.6 .3 1.5 .3 .5 .3-1.6 .3 .5 .4 .7 .3 .2 .3-.4 .3-1.1 .3 .5 .3-.4 .3-.1 .3-.9 .4 1.4 .3-.2 .3 .8 .3-.3 .3-.2 .3 .2 .3 .6 .4-.7 .3-.5 .3-.4 .3 .4 .3 1.6 .3-.7 .3-.6 .4-.4 .3 1.6 .3-.7 .3 0 .3 .4 .3-.6 .3-.4 .4 .4 .3 .7 .3-.3 .3-.4 .3-.2 .3-.5 .3 .5 .3-.5 .4 0 .3-1.3 .3 1.5 .3 1.5 .3-1.2 .3-.5 .3-.4 .4 .4 .3-.5 .3-.3 .3 1.1 .3 .4 .3-.8 .3 .4 .3-.7 .3 .7 .4-1.2 .3 0 .3 .6 .3-1 .3 .7 .3 .4 .3-.1 .3-.5 .3 .2 .4-.5 .3 .8 .3-.8 .3-.2 .3 1.2 .3-1.3 .3 0 .3 .7 .3-.9 .4 .7 .3 .1 .3-.9 .3-.1 .3 1.3 .3-1.8 .3 2.5 .3-1.5 .3 .1 .4 .4 .3-.5 .3 .8 .3 0 .3-.5 .3-.6 .3 .8 .3-1.1 .3-.2 .4 .3 .3 .3 .3 .2 .3-.2 .3-1 .3 .2 .3 0 .3-.7 .3 .3 .4 .3 .3-1 .3 .6 .3 .3 .3 .4 .3-.8 .3-.9 .3 .5 .3-.9 .4 .2 .3-.2 .3-.3 .3-.6 .3 1.3 .3-.3 .3-.8 .3 1.3 .4-.6 .3-.5 .3 1.5 .3-.7 .3-.4 .3 .2 .3-.5 .3-1.1 .3 1.8 .4-.6 .3-1.6 .3 1.6 .3-1.1 .3-.4 .3 .4 .3 .2 .3-.4 .3 .7 .4-1.5 .3-1.1 .3 1.6 .3 .2 .3 .3 .3-.9 .3 .5 .3 .2 .3-.1 .4-.9 .3 .5 .3-.1 .3-.6 .3-.8 .3 .7 .3-.1 .3 .1 .3 .7 .4 .5 .3-1 .3 1 .3-.7 .3-.4 .3 .7 .3-1.7 .3 .8 .3 .3 .4-.7 .3 .1 .3 0 .3 .5 .3-.4 .3-.2 .3-.7 .3 .4 .3-.8 .4-.5 .3 .7 .3-.1 .3 .3 .3-.3 .3-.4 .4 .2 .3-.4 .3 0 .3 0 .3 .4 .3-.5 .3 .1 .4 1.2 .3-.4 .3-.6 .3-.3 .3 .5 .3-.3 .4 .7 .3-.9 .3 .2 .3 1 .3-1.8 .3 .7 .4-.2 .3-.7 .3 1.3 .3-1.2 .3 0 .3 .6 .3 .2 .4 0 .3-.4 .3 .9 .3-1.2 .3 1.5 .3-1.5 .3 .2 .4 0 .3 1.8 .3-.8 .3 0 .3-.5 .3-1.3 .3 1.8 .4-1.9 .3 .5 .3-.1 .3-.1 .3 .9 .3-1.7 .3 0 .4 .2 .3-.7 .3 .1 .3-.1 .3-.1 .3-.5 .3-.1 .4 .7 .3 .1 .3-.3 .3-.3 .3-1 .3 .2 .4 .9 .3-.7 .3 .2 .3-.6 .3 0 .3-.2 .3 .3 .4-1.1 .3 .6 .3 .4 .3-.4 .3 .4 .3-.2 .3-1.9 .4 .7 .3-.7 .3 0 .3-.1" stroke="#ff8000" stroke-width="0.88"/>
<path d="M330 152l.3-1.1 .3-1.1 .3-1.8 .4-1.1 .3 0 .3-1.1 .3-1.3 .3-1.5 .3-.5 .3-1.7 .4-1.2 .3-.7 .3-1.8 .3 .4 .3-1.5 .3-1.2 .3-1.7 .3-.9 .4-1.2 .3-.8 .3-1.3 .3-2 .3-.5 .3-1.3 .3-.5 .4-.3 .3-1 .3-.4 .3-1.1 .3-.5 .3 .2 .4-.3 .3 .2 .3-1.4 .3 .3 .3-.3 .3-.9 .4-.4 .3 .4 .3-.1 .3-.9 .3-.2 .3-.3 .4-1.3 .3 .6 .3 .2 .3-.5 .3-.2 .3-1.4 .4 .2 .3-.3 .3-1.1 .3-.7 .3 .7 .3-.9 .4-.3 .3-1.5 .3 1 .3-.2 .3-.2 .3-.7 .3 .6 .4 .9 .3-1.7 .3 .2 .3 1.3 .3 .6 .3-1.5 .3 .8 .3-1.1 .3 0 .4-.3 .3-.1 .3 0 .3-.3 .3 .9 .3 .7 .3-.9 .3-.6 .3-.7 .4-.3 .3 .9 .3-.4 .3 .6 .3-1 .3 .2 .3-1.2 .3 1.2 .3-.5 .4-.9 .3 1 .3-.4 .3 0 .3 .4 .3 .2 .3 1 .3-1.1 .3-1.1 .4 1.5 .3-1.7 .3 .3 .3 .4 .3 0 .3 .3 .3 .1 .4-.8 .3 .9 .3 .4 .3-.6 .3 .1 .3 2.1 .3-1.6 .3 .4 .4-.1 .3-.8 .3 .5 .3 .1 .3 .3 .3 .3 .3-.5 .4-.5 .3-.2 .3-.1 .3 1.1 .3-.7 .3 .5 .3-.1 .4 .3 .3-.5 .3 0 .3 .2 .3-.6 .3 .9 .3-.4 .4 .5 .3-.7 .3-.7 .3 0 .3 .3 .3 .2 .3 .8 .3-.8 .4 .2 .3 .7 .3-.1 .3 1.2 .3 1.4 .3-2.3 .3 .6 .4 .8 .3-.3 .3-.2 .3 1 .3-1.2 .3-.4 .4 1.4 .3-.8 .3 .7 .3-1.8 .3 .8 .3 .2 .3 .1 .4-.5 .3 .8 .3-1 .3 .2 .3-.2 .3 0 .4 .4 .3 1.7 .3-.9 .3 1.6 .3-1.5 .3 .2 .3-1.3 .4 1.1 .3 .1 .3 .5 .3-.4 .3 .7 .3-.1 .4 .7 .3-1.2 .3 1 .3-.2 .3-.6 .3 .7 .3-.7 .4-.2 .3 .7 .3 .4 .3-.9 .3 .2 .3 .3 .4 .7 .3-1.9 .3 .6 .3 1.1 .3 .2 .3-1 .3 .4 .4-.4 .3 0 .3 .4 .3 0 .3-.7 .3 .7 .4 2.2 .3-1.1 .3 .2 .3 .1 .3-1 .3 1 .3-1.5 .3 .6 .3-.8 .4 1 .3-1.2 .3 .1 .3 .1 .3 .3 .3-.3 .3 .6 .3-.5 .3 .4 .4 .8 .3-1 .3 1 .3-.9 .3 .1 .3-.9 .3 .7 .3 .3 .3-1 .4-.7 .3 .6 .3 .4 .3-.5 .3-.2 .3 .5 .3-.2 .3-.3 .3-.2 .4-.3 .3-.1 .3 .6 .3-.4 .3 .6 .3-.2 .3 .9 .3-1.9 .4 1.1 .3 1.1 .3-1.7 .3 1.1 .3-.5 .3 1.5 .3-.3 .3 .6 .3-.2 .4 .8 .3-.9 .3-.6 .3 .7 .3-.9 .3 .8 .3 0 .3 0 .3-.2 .4-.5 .3-.5 .3 .4 .3 0 .3 1.5 .3 .3 .3-.9 .3 .5 .3-.8 .4-.3 .3 1.8 .3-.5 .3 .3 .3 .2 .3-1.1 .3 .7 .3 .5 .3-.6 .4-.7 .3 .7 .3-1.3 .3-.5 .3-.2 .3 .9 .3-1 .3 .9 .3 .2 .4-.9 .3 .6 .3 .6 .3 .1 .3-1.5 .3 2 .3-1.4 .3-.2 .3-.1 .4 .3 .3-.3 .3-.1 .3-.2 .3-.5 .3 .9 .3-1.3 .3 .2 .3 1 .4 1 .3-.1 .3 .4 .3-.5 .3-.8 .3 .9 .3-.3 .3 .8 .3 .8 .4-.4 .3 1 .3 .5 .3-1.1 .3 2 .3-1.9 .3 .7 .3 0 .3 .3 .4 .2 .3-.6 .3 .3 .3-1 .3 .2 .3 1 .3-.2 .3-1.6 .4 1.3 .3 .7 .3 1.3 .3-1.1 .3-.3 .3-.2 .3 .4 .3 .6 .3 .1 .4-.2 .3-.6 .3 0 .3-.4 .3-.4 .3 .7 .3-.9 .3-.4 .3 .4 .4 .5 .3-.8 .3 .8 .3 1.3 .3-.8 .3-.7 .3 1.1 .3-.3 .3 0 .4 .8 .3-.5 .3-.4 .3-.7 .3 .2 .3-.2 .3 1.9 .3-1.6 .3 0 .4 .3 .3-.6 .3 .8 .3 .4 .3-.1 .3-.6 .3 .6 .3 .3 .3-.9 .4 .8 .3-.7 .3-.1 .3 .4 .3-1.1 .3 .2 .3 1.1 .3-.5 .3 0 .4 .1 .3-.4 .3 .1 .3-.3 .3 .8 .3 .3 .3-.5 .3 .5 .3 .2 .4-.4 .3-.8 .3 0 .3-.4 .3 .2 .3 .9 .3-.1 .3-1.4 .3 1.3 .4 .5 .3-.2 .3-.9 .3 .8 .3-.5 .3 .2 .3-.5 .3 1.1 .3 0 .4 0 .3 .4 .3-.6 .3-.3 .3 .1 .3-.2 .3 .5 .3-.4 .3-.1 .4-.4 .3 1.2 .3-.7 .3 .4 .3-.3 .3 .4 .3-.1 .3-.3 .3 .7 .4 .6 .3-1.1 .3 1.5 .3-.6 .3 .4 .3 .1 .3-.7 .3-.1 .4 .4 .3 .5 .3-1 .3 .3 .3-.2 .3-.2 .3-.6 .3 .4 .3-.5 .4-.4 .3-.1 .3 1.5 .3-.5 .3-.8 .3 1 .3-.5 .3-.2 .3 .2 .4 .5 .3-1.1 .3 .4 .3 0 .3-.1 .3 1.1 .3-.3 .3-.2 .3-.5 .4-.6 .3 .6 .3 .5 .3-.4 .3-.7 .3 .7 .3 0 .3-.6 .3 .5 .4-1.1 .3 .3 .3-.3 .3 1.4 .3-.3 .3-.7 .3 0 .3 1.2 .3-1 .4 0 .3 .4 .3 .1 .3 .1 .3 0 .3-.4 .3-.3 .3 .9 .3 .3 .4-.6 .3 .8 .3 .4 .3-.7 .3 .1 .3 .1 .3-.5 .3 .7 .3-1.2 .4 1.3 .3-1.2 .3 .6 .3 .3 .3 .6 .3 .2 .3 .3 .3-.4 .3-.6 .4-.2 .3 1.2 .3-1.4 .3 1.5 .3-.4 .3-.2 .3 .1 .3 0 .3-.9 .4 .6 .3 .5 .3-.2 .3-.1 .3 .6 .3-.2 .3-.8 .3 .1 .4 1 .3-.4 .3 .4 .3-.8 .3 .6 .3-.2 .3-.3 .3-1.2 .3 .7 .4-1 .3 .9 .3-1 .3 1.2 .3-.7 .3 1 .3-.4 .3 .6 .3 .8 .4-.5 .3-1.1 .3 .9 .3-.3 .3 .1 .3 .2 .3 .2 .3-.9 .3-.3 .4-.3 .3-.7 .3 .9 .3 0 .3-.1 .3-.3 .3-.4 .3 .1 .3-1.3 .4 1.6 .3-1.2 .3-.1 .3 .8 .3-.8 .3 0 .3-.2 .3 .2 .3 1.7 .4-1.1 .3-.5 .3-.1 .3-.4 .3 .7" stroke="#ff8000" stroke-width="0.88"/>
<path d="M330 152l.3-1 .3-1 .4-.1 .3-2 .3-.7 .3-1.8 .3-1 .3-1.2 .4-.3 .3-2.2 .3 0 .3-1.2 .3-1.2 .3-.4 .4-.4 .3-2.4 .3 .1 .3-1.6 .3-1.2 .3-.3 .4-.9 .3-.8 .3-1.5 .3-2.4 .3-.4 .3-1.8 .4-1.4 .3 .1 .3-.4 .3-1 .3-.9 .3-.5 .4-.3 .3-1.7 .3-.5 .3 .4 .3-1.5 .3 1.1 .3-.7 .4-1.1 .3 .3 .3-.4 .3-1 .3 1.7 .3-1.1 .3-.1 .3-1.1 .4 .3 .3-.6 .3-.2 .3-1.2 .3-.5 .3 .8 .3-.1 .4-.8 .3 .6 .3-.6 .3-.8 .3 .3 .3 .3 .3-2.7 .4 .6 .3-.2 .3-.1 .3-.6 .3 .1 .3-.5 .3-1.7 .4 .6 .3-.6 .3 .3 .3-.8 .3-.3 .3-.4 .3 .4 .3-.6 .4-.2 .3-.1 .3-.8 .3 1 .3-1.5 .3 1.5 .3-.4 .4-.4 .3-1.4 .3 .7 .3-.5 .3-.2 .3 1.2 .3-1 .4 .3 .3-.7 .3 .5 .3 1 .3-1.3 .3 .7 .4-1.7 .3 .5 .3-.3 .3 .2 .3-1.6 .3 1.3 .3 .3 .4-.2 .3-.2 .3 .7 .3 .3 .3-1 .3 .6 .3 .1 .4-.1 .3-.8 .3 1.6 .3 .1 .3-.3 .3 .1 .4-.8 .3 .9 .3 .1 .3-1.6 .3 .9 .3-1.3 .3 .9 .4-.7 .3-.5 .3 .7 .3-.3 .3 .3 .3 .2 .3 .4 .4-.7 .3 1.2 .3-1.5 .3 1 .3 .5 .3-.6 .4 1.6 .3 .1 .3-1.1 .3 .6 .3 .3 .3 .8 .3-.5 .4-.1 .3-.2 .3 0 .3-.4 .3-.1 .3 .3 .3-1.1 .4 .1 .3-.1 .3 .1 .3 .8 .3-.6 .3-.5 .4 .1 .3-.2 .3 0 .3 0 .3 .6 .3-1.4 .3 1.9 .4-2.4 .3 1.8 .3 .1 .3 0 .3-.8 .3 1.3 .3 .4 .4-.7 .3-.6 .3 1.1 .3 .2 .3-.1 .3 .5 .4 .5 .3-.9 .3 .6 .3-.4 .3 .4 .3 .7 .3-.9 .4-.2 .3-.8 .3-.3 .3 .5 .3 .3 .3 .2 .3-.6 .4 .7 .3 .4 .3-1.9 .3 1.5 .3-.6 .3 .6 .3-.6 .4 .2 .3-.5 .3 .6 .3-.6 .3-.5 .3 .2 .4 .6 .3-1.3 .3 1.7 .3-1.7 .3 .3 .3 .3 .3 .7 .4-.5 .3 .7 .3 0 .3 .2 .3-1.2 .3 1 .3 .3 .4-1.9 .3 1.3 .3-.1 .3-.4 .3-.1 .3-.2 .4 0 .3 .2 .3-.3 .3-.3 .3 1 .3-1.2 .3 .3 .4 1 .3-1.8 .3 0 .3-.5 .3 1.9 .3-.6 .3-.3 .4 .9 .3-.2 .3-1.1 .3 1.3 .3-1 .3-1.2 .4 .9 .3-.3 .3 1 .3-.1 .3-1.1 .3-.5 .3 1.2 .4-.7 .3 .6 .3 .2 .3-.5 .3-1.4 .3 1.2 .3-.1 .3-.7 .3 .2 .4 .4 .3-1.1 .3 .5 .3 .3 .3-.7 .3 .3 .3 .2 .3 .6 .3 .2 .4-.3 .3-.1 .3-.4 .3 .2 .3-.8 .3 .5 .3-.9 .3 .7 .3-1 .4 1.3 .3-1.6 .3 .4 .3 .8 .3-.1 .3 .8 .3-.3 .3-.1 .3-.9 .4-1.2 .3 1.3 .3-.6 .3-.4 .3 .4 .3 .5 .3-1.5 .3-.7 .4-.2 .3 .3 .3-.2 .3 .5 .3 .6 .3-.5 .3-.1 .4-.6 .3-.5 .3-1.1 .3 .7 .3-1.3 .3 .7 .3-1.5 .3 0 .4 .3 .3 .6 .3-1.1 .3-.2 .3 .6 .3-.5 .3-.8 .4 .2 .3-.1 .3-.5 .3 1.1 .3-.1 .3-.5 .3-.3 .4-1.1 .3-.8 .3-.4 .3-.1 .3-1.1 .3 .2 .4-.7 .3 .3 .3-.9 .3-1.4 .3 .2 .3-.6 .4 .6 .3-.6 .3-.8 .3-.5 .3-.8 .3 .6 .4 .3 .3 0 .3 .8 .3-.7 .4 .5 .3 .2 .3 1.1 .3-1 .4 1 .3-.7 .3-.6 .3 .8 .3 .4 .4 1.7 .3-1.5 .3 .5 .3 2 .3-1 .4 1.9 .3-.8 .3-.8 .3 .8 .3 0 .4 .7 .3 .1 .3 .6 .3-.8 .3 1.3 .3-.2 .4 .4 .3 0 .3-.6 .3-.4 .3 1.6 .3-.5 .4 .6 .3 .4 .3 1.1 .3-.7 .3 .1 .4 .5 .3-.1 .3 1.9 .3 .5 .3-1.1 .3 .5 .3-.5 .4 .8 .3 .3 .3 .6 .3 .4 .3-.5 .3 .1 .3 .8 .4-.5 .3 1.8 .3-.4 .3 0 .3 0 .3-.2 .3 .7 .3 .5 .4 .3 .3 1.5 .3 .6 .3-1.7 .3 .5 .3 .2 .3-.1 .4 1.7 .3-.7 .3 .2 .3 .9 .3-.9 .3-.2 .3 .8 .3-.4 .4 .8 .3-.9 .3 .7 .3-.1 .3 0 .3 .7 .3 .3 .3-.3 .3 .2 .4 1 .3-1.1 .3-.2 .3 .2 .3 .8 .3-.9 .3 .2 .3 .4 .3-.5 .4-.7 .3-.1 .3 .9 .3 .4 .3-.5 .3-.6 .3 0 .3 2 .4-.5 .3-.4 .3 1 .3 .3 .3-1.9 .3 .6 .3 .7 .3-.2 .3-1 .4 1.1 .3-.3 .3-.4 .3-.3 .3-.7 .3 .4 .3 .7 .3 .8 .3-2.1 .4-.7 .3 2.2 .3-.6 .3 .2 .3-.3 .3-.3 .3 .4 .3 .3 .3 0 .4-.6 .3 .1 .3 .5 .3 .9 .3-.8 .3-.1 .3 .3 .3-.6 .3 .2 .4-1.6 .3 1.6 .3 .2 .3 .4 .3 .5 .3-.3 .3 .7 .3-.4 .3-1 .4 0 .3 2.8 .3-1.2 .3-.1 .3-.4 .3-.4 .3 .4 .3-.6 .3-.2 .4 .8 .3-1.5 .3 1.3 .3-.5 .3 .3 .3-1.5 .3 1.6 .3-1.3 .3 2 .4-.9 .3 .5 .3-1.1 .3 1.1 .3 .5 .3-.8 .3-1 .3 .6 .3 1.2 .4-1.8 .3 .1 .3 .6 .3 0 .3-.1 .3 .5 .3-.8 .3-.1 .3 0 .4-.3 .3 .3 .3 .6 .3-.9 .3-.1 .3 .1 .3 .9 .3 .3 .4 .3 .3-.5 .3 1 .3-1 .3-.1 .3 .2 .3 .5 .3-1.7 .3 1 .4 .2 .3 .3 .3-.1 .3-.5 .3-.8 .3 .7 .3-.5 .3 .2 .3 .3 .4-.8 .3 .3 .3-1.1 .3 .4 .3-.1 .3 .6 .3 0 .3-.8 .3 1.3 .4 .3 .3 0 .3 0 .3-.6 .3-.7 .3 1.4 .3 .8 .3-1.9 .3 .2 .4 0 .3-.9 .3 1.3 .3-.3 .3-.2 .3 .4 .3-.1 .3 1.9 .3-1.9 .4-.3 .3 .2 .3-.3 .3 .8 .3 0" stroke="#ff8000" stroke-width="0.88"/>
</g>
<rect x="330" y="17.6" width="183" height="134.4" fill="none" stroke="#000" stroke-width="1.4"/>
<line x1="330" y1="152.0" x2="330" y2="149.0" stroke="#000" stroke-width="1"/>
<text x="329.7" y="164.7" text-anchor="middle" font-size="11.9">0</text>
<line x1="356.14" y1="152.0" x2="356.14" y2="149.0" stroke="#000" stroke-width="1"/>
<text x="355.84" y="164.7" text-anchor="middle" font-size="11.9">1</text>
<line x1="382.29" y1="152.0" x2="382.29" y2="149.0" stroke="#000" stroke-width="1"/>
<text x="381.99" y="164.7" text-anchor="middle" font-size="11.9">2</text>
<line x1="408.43" y1="152.0" x2="408.43" y2="149.0" stroke="#000" stroke-width="1"/>
<text x="408.13" y="164.7" text-anchor="middle" font-size="11.9">3</text>
<line x1="434.57" y1="152.0" x2="434.57" y2="149.0" stroke="#000" stroke-width="1"/>
<text x="434.27" y="164.7" text-anchor="middle" font-size="11.9">4</text>
<line x1="460.71" y1="152.0" x2="460.71" y2="149.0" stroke="#000" stroke-width="1"/>
<text x="460.41" y="164.7" text-anchor="middle" font-size="11.9">5</text>
<line x1="486.86" y1="152.0" x2="486.86" y2="149.0" stroke="#000" stroke-width="1"/>
<text x="486.56" y="164.7" text-anchor="middle" font-size="11.9">6</text>
<line x1="513" y1="152.0" x2="513" y2="149.0" stroke="#000" stroke-width="1"/>
<text x="512.7" y="164.7" text-anchor="middle" font-size="11.9">7</text>
<line x1="343.07" y1="152.0" x2="343.07" y2="150.3" stroke="#000" stroke-width="1"/>
<line x1="369.21" y1="152.0" x2="369.21" y2="150.3" stroke="#000" stroke-width="1"/>
<line x1="395.36" y1="152.0" x2="395.36" y2="150.3" stroke="#000" stroke-width="1"/>
<line x1="421.5" y1="152.0" x2="421.5" y2="150.3" stroke="#000" stroke-width="1"/>
<line x1="447.64" y1="152.0" x2="447.64" y2="150.3" stroke="#000" stroke-width="1"/>
<line x1="473.79" y1="152.0" x2="473.79" y2="150.3" stroke="#000" stroke-width="1"/>
<line x1="499.93" y1="152.0" x2="499.93" y2="150.3" stroke="#000" stroke-width="1"/>
<line x1="330" y1="152" x2="333" y2="152" stroke="#000" stroke-width="1"/>
<text x="327" y="155.6" text-anchor="end" font-size="11.9">0.0</text>
<line x1="330" y1="131.84" x2="333" y2="131.84" stroke="#000" stroke-width="1"/>
<text x="327" y="135.44" text-anchor="end" font-size="11.9">0.3</text>
<line x1="330" y1="111.68" x2="333" y2="111.68" stroke="#000" stroke-width="1"/>
<text x="327" y="115.28" text-anchor="end" font-size="11.9">0.6</text>
<line x1="330" y1="91.52" x2="333" y2="91.52" stroke="#000" stroke-width="1"/>
<text x="327" y="95.12" text-anchor="end" font-size="11.9">0.9</text>
<line x1="330" y1="71.36" x2="333" y2="71.36" stroke="#000" stroke-width="1"/>
<text x="327" y="74.96" text-anchor="end" font-size="11.9">1.2</text>
<line x1="330" y1="51.2" x2="333" y2="51.2" stroke="#000" stroke-width="1"/>
<text x="327" y="54.8" text-anchor="end" font-size="11.9">1.5</text>
<line x1="330" y1="31.04" x2="333" y2="31.04" stroke="#000" stroke-width="1"/>
<text x="327" y="34.64" text-anchor="end" font-size="11.9">1.8</text>
<line x1="330" y1="141.92" x2="331.7" y2="141.92" stroke="#000" stroke-width="1"/>
<line x1="330" y1="121.76" x2="331.7" y2="121.76" stroke="#000" stroke-width="1"/>
<line x1="330" y1="101.6" x2="331.7" y2="101.6" stroke="#000" stroke-width="1"/>
<line x1="330" y1="81.44" x2="331.7" y2="81.44" stroke="#000" stroke-width="1"/>
<line x1="330" y1="61.28" x2="331.7" y2="61.28" stroke="#000" stroke-width="1"/>
<line x1="330" y1="41.12" x2="331.7" y2="41.12" stroke="#000" stroke-width="1"/>
<line x1="330" y1="20.96" x2="331.7" y2="20.96" stroke="#000" stroke-width="1"/>
<text x="421.2" y="180.7" text-anchor="middle" font-size="11.6" font-weight="bold">Displacement (mm)</text>
<text transform="translate(304.5,86) rotate(-90)" text-anchor="middle" font-size="11.5" font-weight="bold">Peeling force (N)</text>
<line x1="462.2" y1="24.6" x2="479.8" y2="24.6" stroke="#000000" stroke-width="0.9" opacity="0.68"/>
<text x="481.6" y="27.4" font-size="7.8">NC</text>
<line x1="462.2" y1="34.2" x2="479.8" y2="34.2" stroke="#ff0000" stroke-width="0.9" opacity="0.68"/>
<text x="481.6" y="37" font-size="7.8">CB-20</text>
<line x1="462.2" y1="43.8" x2="479.8" y2="43.8" stroke="#00ee00" stroke-width="0.9" opacity="0.68"/>
<text x="481.6" y="46.6" font-size="7.8">CB-17.5</text>
<line x1="462.2" y1="53.4" x2="479.8" y2="53.4" stroke="#0000ff" stroke-width="0.9" opacity="0.68"/>
<text x="481.6" y="56.2" font-size="7.8">CB-15</text>
<line x1="462.2" y1="63" x2="479.8" y2="63" stroke="#ff8000" stroke-width="0.9" opacity="0.68"/>
<text x="481.6" y="65.8" font-size="7.8">CB-12.5</text>
<text x="5" y="18.7" font-size="20.5" font-weight="bold">a</text>
<text x="281.8" y="18.7" font-size="20.5" font-weight="bold">b</text>
<text x="4.7" y="200.7" font-size="21.5" font-weight="bold">c</text>
<text x="280.9" y="200.9" font-size="20.5" font-weight="bold">d</text>
<rect x="71" y="270.36" width="8.0" height="43.14" fill="#8f00ff"/>
<rect x="86.2" y="263.04" width="8.0" height="50.46" fill="#8f00ff"/>
<rect x="101.4" y="260.85" width="8.0" height="52.65" fill="#8f00ff"/>
<rect x="116.5" y="240.67" width="8.0" height="72.83" fill="#8f00ff"/>
<rect x="131.7" y="256.46" width="8.0" height="57.04" fill="#8f00ff"/>
<rect x="154.1" y="271.22" width="8.0" height="42.28" fill="#ff8000"/>
<rect x="169.4" y="259.99" width="8.0" height="53.51" fill="#ff8000"/>
<rect x="184.6" y="258.98" width="8.0" height="54.52" fill="#ff8000"/>
<rect x="199.7" y="228.01" width="8.0" height="85.49" fill="#ff8000"/>
<rect x="214.9" y="262.8" width="8.0" height="50.7" fill="#ff8000"/>
<line x1="75" y1="256.75" x2="75" y2="283.96" stroke="#222" stroke-width="0.9"/>
<line x1="73.2" y1="256.75" x2="76.8" y2="256.75" stroke="#222" stroke-width="0.9"/>
<line x1="73.2" y1="283.96" x2="76.8" y2="283.96" stroke="#222" stroke-width="0.9"/>
<line x1="90.2" y1="247.54" x2="90.2" y2="278.55" stroke="#222" stroke-width="0.9"/>
<line x1="88.4" y1="247.54" x2="92" y2="247.54" stroke="#222" stroke-width="0.9"/>
<line x1="88.4" y1="278.55" x2="92" y2="278.55" stroke="#222" stroke-width="0.9"/>
<line x1="105.4" y1="247.98" x2="105.4" y2="273.72" stroke="#222" stroke-width="0.9"/>
<line x1="103.6" y1="247.98" x2="107.2" y2="247.98" stroke="#222" stroke-width="0.9"/>
<line x1="103.6" y1="273.72" x2="107.2" y2="273.72" stroke="#222" stroke-width="0.9"/>
<line x1="120.5" y1="211.71" x2="120.5" y2="269.62" stroke="#222" stroke-width="0.9"/>
<line x1="118.7" y1="211.71" x2="122.3" y2="211.71" stroke="#222" stroke-width="0.9"/>
<line x1="118.7" y1="269.62" x2="122.3" y2="269.62" stroke="#222" stroke-width="0.9"/>
<circle cx="120.5" cy="207.41" r="1.35" fill="#666"/>
<line x1="135.7" y1="235.4" x2="135.7" y2="277.52" stroke="#222" stroke-width="0.9"/>
<line x1="133.9" y1="235.4" x2="137.5" y2="235.4" stroke="#222" stroke-width="0.9"/>
<line x1="133.9" y1="277.52" x2="137.5" y2="277.52" stroke="#222" stroke-width="0.9"/>
<line x1="158.1" y1="260.46" x2="158.1" y2="281.99" stroke="#222" stroke-width="0.9"/>
<line x1="156.3" y1="260.46" x2="159.9" y2="260.46" stroke="#222" stroke-width="0.9"/>
<line x1="156.3" y1="281.99" x2="159.9" y2="281.99" stroke="#222" stroke-width="0.9"/>
<line x1="173.4" y1="246.42" x2="173.4" y2="273.56" stroke="#222" stroke-width="0.9"/>
<line x1="171.6" y1="246.42" x2="175.2" y2="246.42" stroke="#222" stroke-width="0.9"/>
<line x1="171.6" y1="273.56" x2="175.2" y2="273.56" stroke="#222" stroke-width="0.9"/>
<line x1="188.6" y1="250.4" x2="188.6" y2="267.56" stroke="#222" stroke-width="0.9"/>
<line x1="186.8" y1="250.4" x2="190.4" y2="250.4" stroke="#222" stroke-width="0.9"/>
<line x1="186.8" y1="267.56" x2="190.4" y2="267.56" stroke="#222" stroke-width="0.9"/>
<line x1="203.7" y1="208.04" x2="203.7" y2="247.98" stroke="#222" stroke-width="0.9"/>
<line x1="201.9" y1="208.04" x2="205.5" y2="208.04" stroke="#222" stroke-width="0.9"/>
<line x1="201.9" y1="247.98" x2="205.5" y2="247.98" stroke="#222" stroke-width="0.9"/>
<circle cx="203.7" cy="203.74" r="1.35" fill="#666"/>
<line x1="218.9" y1="252.04" x2="218.9" y2="273.56" stroke="#222" stroke-width="0.9"/>
<line x1="217.1" y1="252.04" x2="220.7" y2="252.04" stroke="#222" stroke-width="0.9"/>
<line x1="217.1" y1="273.56" x2="220.7" y2="273.56" stroke="#222" stroke-width="0.9"/>
<line x1="56.1" y1="196.5" x2="237.6" y2="196.5" stroke="#3a3a3a" stroke-width="1"/>
<line x1="56.1" y1="313.5" x2="237.6" y2="313.5" stroke="#3a3a3a" stroke-width="1"/>
<line x1="56.1" y1="196.0" x2="56.1" y2="314.0" stroke="#8f00ff" stroke-width="1"/>
<line x1="56.1" y1="313.5" x2="53.1" y2="313.5" stroke="#8f00ff" stroke-width="1"/>
<text x="51.2" y="316.7" text-anchor="end" font-size="11.2" fill="#8f00ff">0.0</text>
<line x1="56.1" y1="284.25" x2="53.1" y2="284.25" stroke="#8f00ff" stroke-width="1"/>
<text x="51.2" y="287.45" text-anchor="end" font-size="11.2" fill="#8f00ff">0.2</text>
<line x1="56.1" y1="255" x2="53.1" y2="255" stroke="#8f00ff" stroke-width="1"/>
<text x="51.2" y="258.2" text-anchor="end" font-size="11.2" fill="#8f00ff">0.4</text>
<line x1="56.1" y1="225.75" x2="53.1" y2="225.75" stroke="#8f00ff" stroke-width="1"/>
<text x="51.2" y="228.95" text-anchor="end" font-size="11.2" fill="#8f00ff">0.6</text>
<line x1="56.1" y1="196.5" x2="53.1" y2="196.5" stroke="#8f00ff" stroke-width="1"/>
<text x="51.2" y="199.7" text-anchor="end" font-size="11.2" fill="#8f00ff">0.8</text>
<line x1="56.1" y1="298.88" x2="54.6" y2="298.88" stroke="#8f00ff" stroke-width="1"/>
<line x1="56.1" y1="269.62" x2="54.6" y2="269.62" stroke="#8f00ff" stroke-width="1"/>
<line x1="56.1" y1="240.38" x2="54.6" y2="240.38" stroke="#8f00ff" stroke-width="1"/>
<line x1="56.1" y1="211.12" x2="54.6" y2="211.12" stroke="#8f00ff" stroke-width="1"/>
<line x1="237.6" y1="196.0" x2="237.6" y2="314.0" stroke="#ff8000" stroke-width="1"/>
<line x1="237.6" y1="313.5" x2="240.6" y2="313.5" stroke="#ff8000" stroke-width="1"/>
<text x="242.6" y="316.7" font-size="11.2" fill="#ff8000">0.0</text>
<line x1="237.6" y1="290.1" x2="240.6" y2="290.1" stroke="#ff8000" stroke-width="1"/>
<text x="242.6" y="293.3" font-size="11.2" fill="#ff8000">0.3</text>
<line x1="237.6" y1="266.7" x2="240.6" y2="266.7" stroke="#ff8000" stroke-width="1"/>
<text x="242.6" y="269.9" font-size="11.2" fill="#ff8000">0.6</text>
<line x1="237.6" y1="243.3" x2="240.6" y2="243.3" stroke="#ff8000" stroke-width="1"/>
<text x="242.6" y="246.5" font-size="11.2" fill="#ff8000">0.9</text>
<line x1="237.6" y1="219.9" x2="240.6" y2="219.9" stroke="#ff8000" stroke-width="1"/>
<text x="242.6" y="223.1" font-size="11.2" fill="#ff8000">1.2</text>
<line x1="237.6" y1="196.5" x2="240.6" y2="196.5" stroke="#ff8000" stroke-width="1"/>
<text x="242.6" y="199.7" font-size="11.2" fill="#ff8000">1.5</text>
<line x1="237.6" y1="301.8" x2="239.1" y2="301.8" stroke="#ff8000" stroke-width="1"/>
<line x1="237.6" y1="278.4" x2="239.1" y2="278.4" stroke="#ff8000" stroke-width="1"/>
<line x1="237.6" y1="255" x2="239.1" y2="255" stroke="#ff8000" stroke-width="1"/>
<line x1="237.6" y1="231.6" x2="239.1" y2="231.6" stroke="#ff8000" stroke-width="1"/>
<line x1="237.6" y1="208.2" x2="239.1" y2="208.2" stroke="#ff8000" stroke-width="1"/>
<text transform="translate(79.6,320.5) rotate(-45)" text-anchor="end" font-size="8.1" fill="#1a1a1a">NC</text>
<text transform="translate(94.8,320.5) rotate(-45)" text-anchor="end" font-size="8.1" fill="#1a1a1a">PT-25</text>
<text transform="translate(110,320.5) rotate(-45)" text-anchor="end" font-size="8.1" fill="#1a1a1a">PT-20</text>
<text transform="translate(125.1,320.5) rotate(-45)" text-anchor="end" font-size="8.1" fill="#1a1a1a">PT-14</text>
<text transform="translate(140.3,320.5) rotate(-45)" text-anchor="end" font-size="8.1" fill="#1a1a1a">PT-12</text>
<text transform="translate(162.7,320.5) rotate(-45)" text-anchor="end" font-size="8.1" fill="#1a1a1a">NC</text>
<text transform="translate(178,320.5) rotate(-45)" text-anchor="end" font-size="8.1" fill="#1a1a1a">PT-25</text>
<text transform="translate(193.2,320.5) rotate(-45)" text-anchor="end" font-size="8.1" fill="#1a1a1a">PT-20</text>
<text transform="translate(208.3,320.5) rotate(-45)" text-anchor="end" font-size="8.1" fill="#1a1a1a">PT-14</text>
<text transform="translate(223.5,320.5) rotate(-45)" text-anchor="end" font-size="8.1" fill="#1a1a1a">PT-12</text>
<rect x="345.7" y="280.1" width="8.0" height="34.4" fill="#8f00ff"/>
<rect x="360.9" y="264.89" width="8.0" height="49.61" fill="#8f00ff"/>
<rect x="376.1" y="261.97" width="8.0" height="52.53" fill="#8f00ff"/>
<rect x="391.2" y="232.95" width="8.0" height="81.55" fill="#8f00ff"/>
<rect x="406.4" y="233.42" width="8.0" height="81.08" fill="#8f00ff"/>
<rect x="429" y="275.09" width="8.0" height="39.41" fill="#ff8000"/>
<rect x="444.2" y="259.88" width="8.0" height="54.62" fill="#ff8000"/>
<rect x="459.3" y="258.12" width="8.0" height="56.38" fill="#ff8000"/>
<rect x="474.5" y="230.77" width="8.0" height="83.73" fill="#ff8000"/>
<rect x="489.6" y="232.38" width="8.0" height="82.12" fill="#ff8000"/>
<line x1="349.7" y1="269.34" x2="349.7" y2="290.87" stroke="#222" stroke-width="0.9"/>
<line x1="347.9" y1="269.34" x2="351.5" y2="269.34" stroke="#222" stroke-width="0.9"/>
<line x1="347.9" y1="290.87" x2="351.5" y2="290.87" stroke="#222" stroke-width="0.9"/>
<line x1="364.9" y1="257.75" x2="364.9" y2="272.03" stroke="#222" stroke-width="0.9"/>
<line x1="363.1" y1="257.75" x2="366.7" y2="257.75" stroke="#222" stroke-width="0.9"/>
<line x1="363.1" y1="272.03" x2="366.7" y2="272.03" stroke="#222" stroke-width="0.9"/>
<line x1="380.1" y1="254.01" x2="380.1" y2="269.92" stroke="#222" stroke-width="0.9"/>
<line x1="378.3" y1="254.01" x2="381.9" y2="254.01" stroke="#222" stroke-width="0.9"/>
<line x1="378.3" y1="269.92" x2="381.9" y2="269.92" stroke="#222" stroke-width="0.9"/>
<line x1="395.2" y1="210.37" x2="395.2" y2="255.53" stroke="#222" stroke-width="0.9"/>
<line x1="393.4" y1="210.37" x2="397" y2="210.37" stroke="#222" stroke-width="0.9"/>
<line x1="393.4" y1="255.53" x2="397" y2="255.53" stroke="#222" stroke-width="0.9"/>
<circle cx="395.2" cy="206.07" r="1.35" fill="#666"/>
<line x1="410.4" y1="228.27" x2="410.4" y2="238.57" stroke="#222" stroke-width="0.9"/>
<line x1="408.6" y1="228.27" x2="412.2" y2="228.27" stroke="#222" stroke-width="0.9"/>
<line x1="408.6" y1="238.57" x2="412.2" y2="238.57" stroke="#222" stroke-width="0.9"/>
<circle cx="410.4" cy="223.97" r="1.35" fill="#666"/>
<line x1="433" y1="264.92" x2="433" y2="285.25" stroke="#222" stroke-width="0.9"/>
<line x1="431.2" y1="264.92" x2="434.8" y2="264.92" stroke="#222" stroke-width="0.9"/>
<line x1="431.2" y1="285.25" x2="434.8" y2="285.25" stroke="#222" stroke-width="0.9"/>
<line x1="448.2" y1="250.59" x2="448.2" y2="269.16" stroke="#222" stroke-width="0.9"/>
<line x1="446.4" y1="250.59" x2="450" y2="250.59" stroke="#222" stroke-width="0.9"/>
<line x1="446.4" y1="269.16" x2="450" y2="269.16" stroke="#222" stroke-width="0.9"/>
<line x1="463.3" y1="244.59" x2="463.3" y2="271.65" stroke="#222" stroke-width="0.9"/>
<line x1="461.5" y1="244.59" x2="465.1" y2="244.59" stroke="#222" stroke-width="0.9"/>
<line x1="461.5" y1="271.65" x2="465.1" y2="271.65" stroke="#222" stroke-width="0.9"/>
<line x1="478.5" y1="208.47" x2="478.5" y2="253.07" stroke="#222" stroke-width="0.9"/>
<line x1="476.7" y1="208.47" x2="480.3" y2="208.47" stroke="#222" stroke-width="0.9"/>
<line x1="476.7" y1="253.07" x2="480.3" y2="253.07" stroke="#222" stroke-width="0.9"/>
<circle cx="478.5" cy="204.17" r="1.35" fill="#666"/>
<line x1="493.6" y1="225.29" x2="493.6" y2="239.47" stroke="#222" stroke-width="0.9"/>
<line x1="491.8" y1="225.29" x2="495.4" y2="225.29" stroke="#222" stroke-width="0.9"/>
<line x1="491.8" y1="239.47" x2="495.4" y2="239.47" stroke="#222" stroke-width="0.9"/>
<circle cx="493.6" cy="220.99" r="1.35" fill="#666"/>
<line x1="330.6" y1="197.5" x2="512.5" y2="197.5" stroke="#3a3a3a" stroke-width="1"/>
<line x1="330.6" y1="314.5" x2="512.5" y2="314.5" stroke="#3a3a3a" stroke-width="1"/>
<line x1="330.6" y1="197.0" x2="330.6" y2="315.0" stroke="#8f00ff" stroke-width="1"/>
<line x1="330.6" y1="314.5" x2="327.6" y2="314.5" stroke="#8f00ff" stroke-width="1"/>
<text x="325.70000000000005" y="317.7" text-anchor="end" font-size="11.2" fill="#8f00ff">0.0</text>
<line x1="330.6" y1="291.1" x2="327.6" y2="291.1" stroke="#8f00ff" stroke-width="1"/>
<text x="325.70000000000005" y="294.3" text-anchor="end" font-size="11.2" fill="#8f00ff">0.2</text>
<line x1="330.6" y1="267.7" x2="327.6" y2="267.7" stroke="#8f00ff" stroke-width="1"/>
<text x="325.70000000000005" y="270.9" text-anchor="end" font-size="11.2" fill="#8f00ff">0.4</text>
<line x1="330.6" y1="244.3" x2="327.6" y2="244.3" stroke="#8f00ff" stroke-width="1"/>
<text x="325.70000000000005" y="247.5" text-anchor="end" font-size="11.2" fill="#8f00ff">0.6</text>
<line x1="330.6" y1="220.9" x2="327.6" y2="220.9" stroke="#8f00ff" stroke-width="1"/>
<text x="325.70000000000005" y="224.1" text-anchor="end" font-size="11.2" fill="#8f00ff">0.8</text>
<line x1="330.6" y1="197.5" x2="327.6" y2="197.5" stroke="#8f00ff" stroke-width="1"/>
<text x="325.70000000000005" y="200.7" text-anchor="end" font-size="11.2" fill="#8f00ff">1.0</text>
<line x1="330.6" y1="302.8" x2="329.1" y2="302.8" stroke="#8f00ff" stroke-width="1"/>
<line x1="330.6" y1="279.4" x2="329.1" y2="279.4" stroke="#8f00ff" stroke-width="1"/>
<line x1="330.6" y1="256" x2="329.1" y2="256" stroke="#8f00ff" stroke-width="1"/>
<line x1="330.6" y1="232.6" x2="329.1" y2="232.6" stroke="#8f00ff" stroke-width="1"/>
<line x1="330.6" y1="209.2" x2="329.1" y2="209.2" stroke="#8f00ff" stroke-width="1"/>
<line x1="512.5" y1="197.0" x2="512.5" y2="315.0" stroke="#ff8000" stroke-width="1"/>
<line x1="512.5" y1="314.5" x2="515.5" y2="314.5" stroke="#ff8000" stroke-width="1"/>
<text x="517.5" y="317.7" font-size="11.2" fill="#ff8000">0.0</text>
<line x1="512.5" y1="292.56" x2="515.5" y2="292.56" stroke="#ff8000" stroke-width="1"/>
<text x="517.5" y="295.76" font-size="11.2" fill="#ff8000">0.3</text>
<line x1="512.5" y1="270.62" x2="515.5" y2="270.62" stroke="#ff8000" stroke-width="1"/>
<text x="517.5" y="273.82" font-size="11.2" fill="#ff8000">0.6</text>
<line x1="512.5" y1="248.69" x2="515.5" y2="248.69" stroke="#ff8000" stroke-width="1"/>
<text x="517.5" y="251.89" font-size="11.2" fill="#ff8000">0.9</text>
<line x1="512.5" y1="226.75" x2="515.5" y2="226.75" stroke="#ff8000" stroke-width="1"/>
<text x="517.5" y="229.95" font-size="11.2" fill="#ff8000">1.2</text>
<line x1="512.5" y1="204.81" x2="515.5" y2="204.81" stroke="#ff8000" stroke-width="1"/>
<text x="517.5" y="208.01" font-size="11.2" fill="#ff8000">1.5</text>
<line x1="512.5" y1="303.53" x2="514.0" y2="303.53" stroke="#ff8000" stroke-width="1"/>
<line x1="512.5" y1="281.59" x2="514.0" y2="281.59" stroke="#ff8000" stroke-width="1"/>
<line x1="512.5" y1="259.66" x2="514.0" y2="259.66" stroke="#ff8000" stroke-width="1"/>
<line x1="512.5" y1="237.72" x2="514.0" y2="237.72" stroke="#ff8000" stroke-width="1"/>
<line x1="512.5" y1="215.78" x2="514.0" y2="215.78" stroke="#ff8000" stroke-width="1"/>
<text transform="translate(354.3,321.3) rotate(-45)" text-anchor="end" font-size="8.1" fill="#1a1a1a">NC</text>
<text transform="translate(369.5,321.3) rotate(-45)" text-anchor="end" font-size="8.1" fill="#1a1a1a">CB-20</text>
<text transform="translate(384.7,321.3) rotate(-45)" text-anchor="end" font-size="8.1" fill="#1a1a1a">CB-17.5</text>
<text transform="translate(399.8,321.3) rotate(-45)" text-anchor="end" font-size="8.1" fill="#1a1a1a">CB-15</text>
<text transform="translate(415,321.3) rotate(-45)" text-anchor="end" font-size="8.1" fill="#1a1a1a">CB-12.5</text>
<text transform="translate(437.6,321.3) rotate(-45)" text-anchor="end" font-size="8.1" fill="#1a1a1a">NC</text>
<text transform="translate(452.8,321.3) rotate(-45)" text-anchor="end" font-size="8.1" fill="#1a1a1a">CB-20</text>
<text transform="translate(467.9,321.3) rotate(-45)" text-anchor="end" font-size="8.1" fill="#1a1a1a">CB-17.5</text>
<text transform="translate(483.1,321.3) rotate(-45)" text-anchor="end" font-size="8.1" fill="#1a1a1a">CB-15</text>
<text transform="translate(498.2,321.3) rotate(-45)" text-anchor="end" font-size="8.1" fill="#1a1a1a">CB-12.5</text>
<text transform="translate(30.6,255.5) rotate(-90)" text-anchor="middle" font-size="11.15" font-weight="bold" fill="#8f00ff">Maximum peeling force (N)</text>
<text transform="translate(269.4,260.1) rotate(-90)" text-anchor="middle" font-size="11.15" font-weight="bold" fill="#ff8000">Average peeling force (N)</text>
<text transform="translate(306,254.2) rotate(-90)" text-anchor="middle" font-size="11.15" font-weight="bold" fill="#8f00ff">Maximum peeling force (N)</text>
<text transform="translate(544,256.6) rotate(-90)" text-anchor="middle" font-size="11.15" font-weight="bold" fill="#ff8000">Average peeling force (N)</text>
</svg></body></html>
